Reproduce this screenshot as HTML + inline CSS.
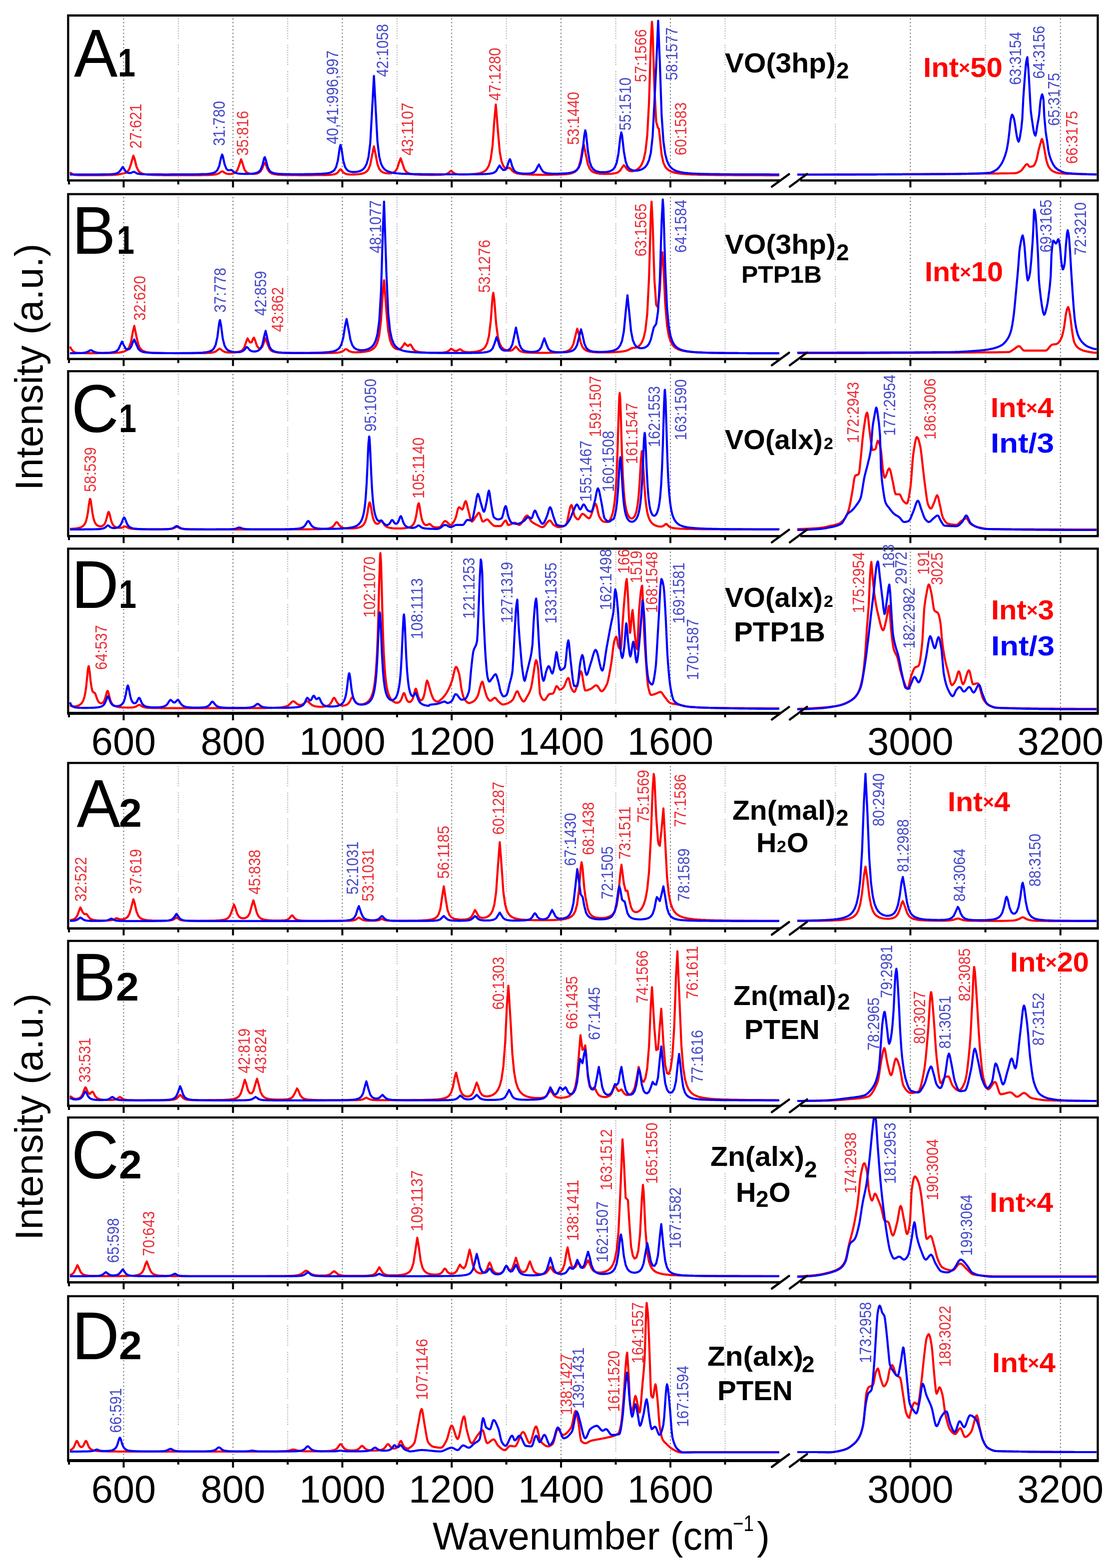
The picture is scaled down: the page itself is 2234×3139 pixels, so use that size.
<!DOCTYPE html><html><head><meta charset="utf-8"><style>
html,body{margin:0;padding:0;background:#fff;width:2234px;height:3139px;overflow:hidden}
svg{display:block}
text{font-family:"Liberation Sans",Arial,sans-serif}
.fr{fill:none;stroke:#000;stroke-width:4.3}
.tk{fill:none;stroke:#000;stroke-width:4}
.brk{fill:none;stroke:#000;stroke-width:4.4;stroke-linecap:round}
.gM{stroke:#555;stroke-width:2;stroke-dasharray:2 5.2}
.gm{stroke:#aaa;stroke-width:2;stroke-dasharray:2,2.8,2,2.8,2,2.8,2,2.8,2,2.8,2,2.8,2,2.8,2,2.8,2,12.4}
.r{fill:none;stroke:#f00;stroke-width:4.2;stroke-linejoin:round}
.b{fill:none;stroke:#00f;stroke-width:4.2;stroke-linejoin:round}
.lr{fill:#ea2e36;font-size:33px}
.lb{fill:#4549c8;font-size:33px}
.big{font-size:136px;fill:#000}
.sub{font-size:79px;font-weight:bold;fill:#000}
.nm{font-size:56px;font-weight:bold;fill:#000}
.nm2{font-size:46px;font-weight:bold;fill:#000}
.nm3{font-size:34px;font-weight:bold;fill:#000}
.ir{font-size:55px;font-weight:bold;fill:#f00}
.ib{font-size:55px;font-weight:bold;fill:#00f}
.ax{font-size:77.5px;fill:#000}
.ttl{font-size:78px;fill:#000}
</style></head><body>
<svg width="2234" height="3139" viewBox="0 0 2234 3139">
<g>
<line x1="247.5" y1="37" x2="247.5" y2="357.3" class="gM"/>
<line x1="356.9" y1="37" x2="356.9" y2="357.3" class="gm"/>
<line x1="466.4" y1="37" x2="466.4" y2="357.3" class="gM"/>
<line x1="575.9" y1="37" x2="575.9" y2="357.3" class="gm"/>
<line x1="685.3" y1="37" x2="685.3" y2="357.3" class="gM"/>
<line x1="794.8" y1="37" x2="794.8" y2="357.3" class="gm"/>
<line x1="904.2" y1="37" x2="904.2" y2="357.3" class="gM"/>
<line x1="1013.6" y1="37" x2="1013.6" y2="357.3" class="gm"/>
<line x1="1123.1" y1="37" x2="1123.1" y2="357.3" class="gM"/>
<line x1="1232.6" y1="37" x2="1232.6" y2="357.3" class="gm"/>
<line x1="1342" y1="37" x2="1342" y2="357.3" class="gM"/>
<line x1="1451.5" y1="37" x2="1451.5" y2="357.3" class="gm"/>
<line x1="1672.2" y1="37" x2="1672.2" y2="357.3" class="gm"/>
<line x1="1822.4" y1="37" x2="1822.4" y2="357.3" class="gM"/>
<line x1="1972.6" y1="37" x2="1972.6" y2="357.3" class="gm"/>
<line x1="2122.8" y1="37" x2="2122.8" y2="357.3" class="gM"/>
<path d="M140 345 L143.6 347.6 L147.2 349.5 L150.8 350.2 L154.4 350.4 L158 350.6 L161.6 350.7 L165.2 350.7 L168.8 350.7 L172.4 350.7 L176 350.7 L179.6 350.7 L183.2 350.7 L186.8 350.7 L190.4 350.7 L194 350.7 L197.6 350.7 L201.2 350.6 L204.8 350.6 L208.4 350.6 L212 350.5 L215.6 350.4 L219.2 350.4 L222.8 350.3 L226.4 350.1 L230 349.9 L233.6 349.7 L237.2 349.2 L240.8 348.5 L245 347.5 L248 347 L251.6 346 L255.2 343.6 L258.8 338.6 L262.4 327.7 L267 311.6 L269.6 318.8 L273.2 333.6 L276.8 341.5 L280.4 345.2 L284 347.2 L287.6 348.3 L291.2 349 L294.8 349.4 L298.4 349.7 L302 349.9 L305.6 350.1 L309.2 350.2 L312.8 350.3 L316.4 350.4 L320 350.5 L323.6 350.5 L327.2 350.6 L330.8 350.6 L334.4 350.6 L338 350.6 L341.6 350.7 L345.2 350.7 L348.8 350.7 L352.4 350.7 L356 350.7 L359.6 350.7 L363.2 350.7 L366.8 350.7 L370.4 350.7 L374 350.7 L377.6 350.7 L381.2 350.7 L384.8 350.7 L388.4 350.7 L392 350.6 L395.6 350.6 L399.2 350.6 L402.8 350.6 L406.4 350.5 L410 350.5 L413.6 350.4 L417.2 350.3 L420.8 350.2 L424.4 350 L428 349.7 L431.6 349.2 L435.2 348.4 L438.8 346.6 L442.4 343.9 L444.6 343 L446 343.3 L449.6 345.8 L453.2 347.5 L456.8 348.2 L460.4 348.3 L464 348 L467.6 347.1 L471.2 345.3 L474.8 341.2 L478.4 332 L482.6 319 L485.6 327.3 L489.2 338.9 L492.8 344.2 L496.4 346.5 L500 347.6 L503.6 348.1 L507.2 348.2 L510.8 348 L514.4 347.4 L518 346 L521.6 343 L525.2 336.5 L528.8 327.1 L530 326 L532.4 330 L536 339.4 L539.6 344.5 L543.2 347 L546.8 348.3 L550.4 349 L554 349.5 L557.6 349.8 L561.2 350 L564.8 350.1 L568.4 350.2 L572 350.3 L575.6 350.4 L579.2 350.4 L582.8 350.5 L586.4 350.5 L590 350.5 L593.6 350.5 L597.2 350.6 L600.8 350.6 L604.4 350.6 L608 350.6 L611.6 350.6 L615.2 350.6 L618.8 350.6 L622.4 350.6 L626 350.6 L629.6 350.5 L633.2 350.5 L636.8 350.5 L640.4 350.5 L644 350.4 L647.6 350.4 L651.2 350.3 L654.8 350.2 L658.4 350.1 L662 349.9 L665.6 349.5 L669.2 348.9 L672.8 347.8 L676.4 345.1 L680 340.2 L681.7 339 L683.6 340.4 L687.2 345.2 L690.8 347.6 L694.4 348.6 L698 349.1 L701.6 349.3 L705.2 349.3 L708.8 349.3 L712.4 349.1 L716 348.9 L719.6 348.5 L723.2 347.9 L726.8 347.1 L730.4 345.7 L734 343.3 L737.6 338.9 L741.2 329.7 L744.8 310.9 L748.5 293 L752 309.5 L755.6 328.8 L759.2 338.2 L762.8 342.7 L766.4 345.1 L770 346.3 L773.6 346.9 L777.2 347.2 L780.8 347.1 L784.4 346.5 L788 345.2 L791.6 342.6 L795.2 336.9 L798.8 325.3 L802 317 L806 328.5 L809.6 338.9 L813.2 343.9 L816.8 346.3 L820.4 347.7 L824 348.5 L827.6 349 L831.2 349.3 L834.8 349.5 L838.4 349.7 L842 349.8 L845.6 349.9 L849.2 350 L852.8 350 L856.4 350.1 L860 350.1 L863.6 350.1 L867.2 350.1 L870.8 350.1 L874.4 350 L878 350 L881.6 349.8 L885.2 349.7 L888.8 349.4 L892.4 348.8 L896 347.5 L899.6 344.6 L903 342 L906.8 344.9 L910.4 347.5 L914 348.6 L917.6 349.1 L921.2 349.3 L924.8 349.4 L928.4 349.4 L932 349.3 L935.6 349.2 L939.2 349.1 L942.8 348.9 L946.4 348.6 L950 348.3 L953.6 347.8 L957.2 347.3 L960.8 346.5 L964.4 345.4 L968 343.8 L971.6 341.5 L975.2 337.6 L978.8 331 L982.4 318.3 L986 291.7 L989.6 240.1 L992.5 209.4 L996.8 262.7 L1000.4 303.9 L1004 323.3 L1007.6 332.4 L1011.2 336.5 L1014.8 337.3 L1018.4 336 L1020 336 L1022 337.6 L1025.6 341.9 L1029.2 344.8 L1032.8 346.4 L1036.4 347.4 L1040 348 L1043.6 348.5 L1047.2 348.8 L1050.8 349 L1054.4 349.2 L1058 349.4 L1061.6 349.5 L1065.2 349.6 L1068.8 349.7 L1072.4 349.7 L1076 349.8 L1079.6 349.8 L1083.2 349.8 L1086.8 349.8 L1090.4 349.8 L1094 349.8 L1097.6 349.8 L1101.2 349.8 L1104.8 349.8 L1108.4 349.7 L1112 349.6 L1115.6 349.6 L1119.2 349.4 L1122.8 349.3 L1126.4 349.1 L1130 348.9 L1133.6 348.6 L1137.2 348.2 L1140.8 347.6 L1144.4 346.7 L1148 345.5 L1151.6 343.4 L1155.2 339.9 L1158.8 333.3 L1162.4 320.1 L1166 297.9 L1168.5 288.8 L1173.2 312.1 L1176.8 329 L1180.4 337.6 L1184 342 L1187.6 344.5 L1191.2 345.9 L1194.8 346.8 L1198.4 347.4 L1202 347.8 L1205.6 348 L1209.2 348.1 L1212.8 348.2 L1216.4 348.1 L1220 348 L1223.6 347.8 L1227.2 347.4 L1230.8 346.9 L1234.4 346 L1238 344.3 L1241.6 341.2 L1245.2 335.5 L1248.8 330.7 L1252.4 334.8 L1256 339.8 L1259.6 342.1 L1263.2 342.8 L1266.8 342.6 L1270.4 341.7 L1274 340.2 L1277.6 337.8 L1281.2 334.3 L1284.8 328.7 L1288.4 319.6 L1292 303.3 L1295.6 271.8 L1299.2 205.1 L1302.8 86.4 L1305 43.7 L1306.4 61.3 L1310 176.2 L1313.6 244.2 L1317.2 256.1 L1319 258 L1320.8 274.6 L1324.4 309.7 L1328 325.8 L1331.6 333.6 L1335.2 338.1 L1338.8 340.9 L1342.4 342.9 L1346 344.3 L1349.6 345.4 L1353.2 346.2 L1356.8 346.9 L1360.4 347.4 L1364 347.8 L1367.6 348.2 L1371.2 348.5 L1374.8 348.7 L1378.4 348.9 L1382 349.1 L1385.6 349.3 L1389.2 349.4 L1392.8 349.5 L1396.4 349.7 L1400 349.8 L1403.6 349.8 L1407.2 349.9 L1410.8 350 L1414.4 350 L1418 350.1 L1421.6 350.2 L1425.2 350.2 L1428.8 350.2 L1432.4 350.3 L1436 350.3 L1439.6 350.4 L1443.2 350.4 L1446.8 350.4 L1450.4 350.4 L1454 350.5 L1457.6 350.5 L1461.2 350.5 L1464.8 350.5 L1468.4 350.6 L1472 350.6 L1475.6 350.6 L1479.2 350.6 L1482.8 350.6 L1486.4 350.6 L1490 350.6 L1493.6 350.7 L1497.2 350.7 L1500.8 350.7 L1504.4 350.7 L1508 350.7 L1511.6 350.7 L1515.2 350.7 L1518.8 350.7 L1522.4 350.7 L1526 350.7 L1529.6 350.8 L1533.2 350.8 L1536.8 350.8 L1540.4 350.8 L1544 350.8 L1547.6 350.8 L1551.2 350.8 L1554.8 350.8 L1558.4 350.8 L1560 350.8" class="r"/>
<path d="M1596 349.5 L1597.5 349.5 L1599 349.5 L1600.5 349.5 L1602 349.5 L1603.5 349.5 L1605 349.5 L1606.5 349.5 L1608 349.5 L1609.5 349.5 L1611 349.5 L1612.5 349.5 L1614 349.5 L1615.5 349.5 L1617 349.5 L1618.5 349.5 L1620 349.5 L1621.5 349.5 L1623 349.5 L1624.5 349.5 L1626 349.5 L1627.5 349.5 L1629 349.5 L1630.5 349.5 L1632 349.5 L1633.5 349.5 L1635 349.5 L1636.5 349.5 L1638 349.5 L1639.5 349.5 L1641 349.5 L1642.5 349.5 L1644 349.5 L1645.5 349.5 L1647 349.5 L1648.5 349.4 L1650 349.4 L1651.5 349.4 L1653 349.4 L1654.5 349.4 L1656 349.4 L1657.5 349.4 L1659 349.4 L1660.5 349.4 L1662 349.4 L1663.5 349.4 L1665 349.4 L1666.5 349.4 L1668 349.4 L1669.5 349.4 L1671 349.4 L1672.5 349.4 L1674 349.4 L1675.5 349.4 L1677 349.4 L1678.5 349.4 L1680 349.4 L1681.5 349.4 L1683 349.4 L1684.5 349.4 L1686 349.3 L1687.5 349.3 L1689 349.3 L1690.5 349.3 L1692 349.3 L1693.5 349.3 L1695 349.3 L1696.5 349.3 L1698 349.3 L1699.5 349.3 L1701 349.3 L1702.5 349.3 L1704 349.3 L1705.5 349.3 L1707 349.3 L1708.5 349.3 L1710 349.3 L1711.5 349.3 L1713 349.3 L1714.5 349.2 L1716 349.2 L1717.5 349.2 L1719 349.2 L1720.5 349.2 L1722 349.2 L1723.5 349.2 L1725 349.2 L1726.5 349.2 L1728 349.2 L1729.5 349.2 L1731 349.2 L1732.5 349.2 L1734 349.2 L1735.5 349.2 L1737 349.1 L1738.5 349.1 L1740 349.1 L1741.5 349.1 L1743 349.1 L1744.5 349.1 L1746 349.1 L1747.5 349.1 L1749 349.1 L1750.5 349.1 L1752 349.1 L1753.5 349.1 L1755 349.1 L1756.5 349 L1758 349 L1759.5 349 L1761 349 L1762.5 349 L1764 349 L1765.5 349 L1767 349 L1768.5 349 L1770 349 L1771.5 349 L1773 349 L1774.5 348.9 L1776 348.9 L1777.5 348.9 L1779 348.9 L1780.5 348.9 L1782 348.9 L1783.5 348.9 L1785 348.9 L1786.5 348.9 L1788 348.9 L1789.5 348.9 L1791 348.9 L1792.5 348.8 L1794 348.8 L1795.5 348.8 L1797 348.8 L1798.5 348.8 L1800 348.8 L1801.5 348.8 L1803 348.8 L1804.5 348.8 L1806 348.8 L1807.5 348.7 L1809 348.7 L1810.5 348.7 L1812 348.7 L1813.5 348.7 L1815 348.7 L1816.5 348.7 L1818 348.7 L1819.5 348.7 L1821 348.7 L1822.5 348.6 L1824 348.6 L1825.5 348.6 L1827 348.6 L1828.5 348.6 L1830 348.6 L1831.5 348.6 L1833 348.6 L1834.5 348.6 L1836 348.6 L1837.5 348.5 L1839 348.5 L1840.5 348.5 L1842 348.5 L1843.5 348.5 L1845 348.5 L1846.5 348.5 L1848 348.5 L1849.5 348.5 L1851 348.4 L1852.5 348.4 L1854 348.4 L1855.5 348.4 L1857 348.4 L1858.5 348.4 L1860 348.4 L1861.5 348.4 L1863 348.4 L1864.5 348.3 L1866 348.3 L1867.5 348.3 L1869 348.3 L1870.5 348.3 L1872 348.3 L1873.5 348.3 L1875 348.3 L1876.5 348.3 L1878 348.2 L1879.5 348.2 L1881 348.2 L1882.5 348.2 L1884 348.2 L1885.5 348.2 L1887 348.2 L1888.5 348.2 L1890 348.2 L1891.5 348.1 L1893 348.1 L1894.5 348.1 L1896 348.1 L1897.5 348.1 L1899 348.1 L1900.5 348.1 L1902 348.1 L1903.5 348 L1905 348 L1906.5 348 L1908 348 L1909.5 348 L1911 348 L1912.5 348 L1914 348 L1915.5 347.9 L1917 347.9 L1918.5 347.9 L1920 347.9 L1921.5 347.9 L1923 347.9 L1924.5 347.9 L1926 347.9 L1927.5 347.8 L1929 347.8 L1930.5 347.8 L1932 347.8 L1933.5 347.8 L1935 347.8 L1936.5 347.8 L1938 347.8 L1939.5 347.7 L1941 347.7 L1942.5 347.7 L1944 347.7 L1945.5 347.7 L1947 347.7 L1948.5 347.7 L1950 347.7 L1951.5 347.6 L1953 347.6 L1954.5 347.6 L1956 347.6 L1957.5 347.6 L1959 347.6 L1960.5 347.6 L1962 347.6 L1963.5 347.5 L1965 347.5 L1966.5 347.5 L1968 347.5 L1969.5 347.5 L1971 347.5 L1972.5 347.5 L1974 347.5 L1975.5 347.4 L1977 347.4 L1978.5 347.4 L1980 347.4 L1981.5 347.4 L1983 347.4 L1984.5 347.4 L1986 347.4 L1987.5 347.3 L1989 347.3 L1990.5 347.3 L1992 347.3 L1993.5 347.3 L1995 347.3 L1996.5 347.3 L1998 347.3 L1999.5 347.3 L2001 347.2 L2002.5 347.2 L2004 347.2 L2005.5 347.2 L2007 347.2 L2008.5 347.2 L2010 347.2 L2011.5 347.1 L2013 347.1 L2014.5 347.1 L2016 347.1 L2017.5 347 L2019 347 L2020.5 347 L2022 347 L2023.5 346.9 L2025 346.9 L2026.5 346.8 L2028 346.8 L2029.5 346.8 L2031.5 346.7 L2032.5 346.6 L2034 346.4 L2035.5 346 L2037 345.5 L2038.5 344.8 L2040 344.1 L2041.5 343.3 L2043 342.4 L2043.7 342 L2044.5 341.4 L2046 339.7 L2047.5 337.7 L2049 335.5 L2050.4 333.8 L2052 331.8 L2053.5 329.9 L2055 328.7 L2055.9 328.4 L2058 330.2 L2059.5 332.4 L2061.3 333.8 L2062.5 333.8 L2064 333.6 L2065.5 333.3 L2067 332.9 L2068.1 332.5 L2070 330.8 L2071.5 328.3 L2073 325 L2074.8 320.3 L2076 315.8 L2077.5 308.1 L2078.9 301.3 L2080.5 295.1 L2082 289.7 L2083 286.4 L2085 279.2 L2085.7 278.3 L2086.5 279.4 L2088.4 286.4 L2089.5 291.8 L2091.1 301.3 L2092.5 309.7 L2094.5 320.3 L2095.5 324 L2097 328.8 L2098.5 332.5 L2099.2 333.8 L2100 335 L2101.5 337.1 L2103 338.9 L2104.5 340.4 L2106 341.7 L2107.5 342.7 L2108.7 343.3 L2110.5 344.1 L2112 344.6 L2113.5 345.2 L2115 345.6 L2116.5 346.1 L2118 346.4 L2119.5 346.7 L2121 346.9 L2122.2 347 L2124 347.1 L2125.5 347.2 L2127 347.3 L2128.5 347.4 L2130 347.5 L2131.5 347.6 L2133 347.6 L2134.5 347.7 L2136 347.8 L2137.5 347.8 L2139 347.9 L2140.5 347.9 L2142 348 L2143.5 348 L2145 348.1 L2146.5 348.1 L2148 348.1 L2149.5 348.2 L2151 348.2 L2152.5 348.2 L2154 348.3 L2155.5 348.3 L2157 348.4 L2158.5 348.4 L2160 348.5 L2161.5 348.5 L2163 348.5 L2164.5 348.6 L2166 348.6 L2167.5 348.7 L2169 348.7 L2170.5 348.8 L2172 348.8 L2173.5 348.9 L2175 348.9 L2176.5 349 L2178 349 L2179.5 349.1 L2181 349.1 L2182.5 349.2 L2184 349.2 L2185.5 349.2 L2187 349.3 L2188.5 349.3 L2190 349.4 L2191.5 349.4 L2193 349.4 L2195 349.5" class="r"/>
<path d="M140 349.4 L143.6 349.4 L147.2 349.4 L150.8 349.4 L154.4 349.4 L158 349.4 L161.6 349.4 L165.2 349.4 L168.8 349.4 L172.4 349.4 L176 349.4 L179.6 349.3 L183.2 349.3 L186.8 349.3 L190.4 349.3 L194 349.3 L197.6 349.3 L201.2 349.2 L204.8 349.2 L208.4 349.1 L212 349.1 L215.6 349 L219.2 348.9 L222.8 348.7 L226.4 348.4 L230 348 L233.6 347.1 L237.2 345.4 L240.8 341.5 L245.5 334.5 L248 337.4 L251.6 343.1 L255.2 345.7 L258.8 346.5 L262.4 346.1 L266 344.5 L268 344 L269.6 344.5 L273.2 346.7 L276.8 347.9 L280.4 348.4 L284 348.7 L287.6 348.9 L291.2 349 L294.8 349.1 L298.4 349.1 L302 349.2 L305.6 349.2 L309.2 349.2 L312.8 349.2 L316.4 349.2 L320 349.2 L323.6 349.2 L327.2 349.3 L330.8 349.3 L334.4 349.3 L338 349.3 L341.6 349.2 L345.2 349.2 L348.8 349.2 L352.4 349.2 L356 349.2 L359.6 349.2 L363.2 349.2 L366.8 349.2 L370.4 349.2 L374 349.1 L377.6 349.1 L381.2 349.1 L384.8 349.1 L388.4 349 L392 349 L395.6 348.9 L399.2 348.8 L402.8 348.7 L406.4 348.6 L410 348.5 L413.6 348.3 L417.2 348 L420.8 347.6 L424.4 346.9 L428 345.9 L431.6 344.1 L435.2 340.4 L438.8 332.3 L442.4 316 L444.6 309.5 L446 312.3 L449.6 328.8 L453.2 338 L456.8 341 L460.4 340.5 L463 340 L467.6 343.9 L471.2 346 L474.8 347 L478.4 347.6 L482 347.9 L485.6 348 L489.2 348.1 L492.8 348.1 L496.4 348.1 L500 348 L503.6 347.8 L507.2 347.4 L510.8 346.8 L514.4 345.8 L518 344 L521.6 340.1 L525.2 331.1 L528.8 316.5 L530 314.6 L532.4 321.1 L536 335 L539.6 341.8 L543.2 344.8 L546.8 346.3 L550.4 347.2 L554 347.7 L557.6 348 L561.2 348.3 L564.8 348.4 L568.4 348.5 L572 348.6 L575.6 348.7 L579.2 348.7 L582.8 348.8 L586.4 348.8 L590 348.8 L593.6 348.8 L597.2 348.8 L600.8 348.8 L604.4 348.8 L608 348.8 L611.6 348.7 L615.2 348.7 L618.8 348.6 L622.4 348.6 L626 348.5 L629.6 348.4 L633.2 348.4 L636.8 348.2 L640.4 348.1 L644 347.9 L647.6 347.6 L651.2 347.3 L654.8 346.9 L658.4 346.2 L662 345.2 L665.6 343.5 L669.2 340.6 L672.8 334.5 L676.4 321 L680 296.1 L681.7 290 L683.6 297.3 L687.2 321.7 L690.8 334.4 L694.4 339.9 L698 342.5 L701.6 343.7 L705.2 344.3 L708.8 344.4 L712.4 344.2 L716 343.6 L719.6 342.7 L723.2 341.2 L726.8 338.8 L730.4 334.8 L734 327.9 L737.6 314.7 L741.2 286.1 L744.8 221.7 L748.5 152 L752 216.8 L755.6 283.8 L759.2 313.8 L762.8 327.7 L766.4 334.9 L770 339.1 L773.6 341.7 L777.2 343.4 L780.8 344.6 L784.4 345.5 L788 346.1 L791.6 346.6 L795.2 347 L798.8 347.3 L802.4 347.6 L806 347.8 L809.6 348 L813.2 348.1 L816.8 348.2 L820.4 348.3 L824 348.4 L827.6 348.5 L831.2 348.6 L834.8 348.6 L838.4 348.7 L842 348.7 L845.6 348.8 L849.2 348.8 L852.8 348.8 L856.4 348.9 L860 348.9 L863.6 348.9 L867.2 348.9 L870.8 349 L874.4 349 L878 349 L881.6 349 L885.2 349 L888.8 349 L892.4 349 L896 349 L899.6 349 L903.2 349 L906.8 349 L910.4 349 L914 349 L917.6 349 L921.2 349 L924.8 349 L928.4 349 L932 349 L935.6 349 L939.2 348.9 L942.8 348.9 L946.4 348.9 L950 348.9 L953.6 348.8 L957.2 348.8 L960.8 348.7 L964.4 348.6 L968 348.5 L971.6 348.4 L975.2 348.2 L978.8 347.9 L982.4 347.4 L986 346.7 L989.6 345.3 L993.2 342.4 L996.8 336.2 L999.9 331.3 L1004 337 L1007.6 340.5 L1011.2 339.9 L1014.8 334.9 L1018.4 323.4 L1020.6 318.8 L1022 321 L1025.6 333.7 L1029.2 341.1 L1032.8 344.3 L1036.4 345.9 L1040 346.7 L1043.6 347.2 L1047.2 347.4 L1050.8 347.5 L1054.4 347.5 L1058 347.3 L1061.6 347 L1065.2 346.2 L1068.8 344.7 L1072.4 341.3 L1076 334 L1078.8 329.4 L1083.2 337.8 L1086.8 343.2 L1090.4 345.5 L1094 346.6 L1097.6 347.2 L1101.2 347.5 L1104.8 347.7 L1108.4 347.8 L1112 347.8 L1115.6 347.8 L1119.2 347.7 L1122.8 347.6 L1126.4 347.4 L1130 347.2 L1133.6 346.9 L1137.2 346.5 L1140.8 346 L1144.4 345.3 L1148 344.2 L1151.6 342.5 L1155.2 339.8 L1158.8 335 L1162.4 325.5 L1166 305.5 L1169.6 271.1 L1171.6 260.8 L1173.2 267.6 L1176.8 302.1 L1180.4 323.6 L1184 333.7 L1187.6 338.8 L1191.2 341.5 L1194.8 343.1 L1198.4 344 L1202 344.5 L1205.6 344.7 L1209.2 344.7 L1212.8 344.5 L1216.4 344 L1220 343.1 L1223.6 341.6 L1227.2 339.2 L1230.8 334.8 L1234.4 326.1 L1238 307.7 L1241.6 275.5 L1243.7 265 L1245.2 270.6 L1248.8 302.8 L1252.4 323.3 L1256 332.9 L1259.6 337.5 L1263.2 339.8 L1266.8 341 L1270.4 341.5 L1274 341.6 L1277.6 341.1 L1281.2 340.3 L1284.8 339 L1288.4 336.9 L1292 333.8 L1295.6 328.9 L1299.2 320.7 L1302.8 305.9 L1306.4 273.5 L1310 205 L1313.6 132.2 L1317.5 41.6 L1320.8 124.1 L1324.4 230 L1328 282.9 L1331.6 308.4 L1335.2 321.9 L1338.8 329.8 L1342.4 334.7 L1346 338 L1349.6 340.3 L1353.2 342 L1356.8 343.2 L1360.4 344.2 L1364 344.9 L1367.6 345.5 L1371.2 346 L1374.8 346.4 L1378.4 346.8 L1382 347 L1385.6 347.3 L1389.2 347.5 L1392.8 347.7 L1396.4 347.8 L1400 347.9 L1403.6 348.1 L1407.2 348.2 L1410.8 348.3 L1414.4 348.3 L1418 348.4 L1421.6 348.5 L1425.2 348.5 L1428.8 348.6 L1432.4 348.7 L1436 348.7 L1439.6 348.7 L1443.2 348.8 L1446.8 348.8 L1450.4 348.8 L1454 348.9 L1457.6 348.9 L1461.2 348.9 L1464.8 349 L1468.4 349 L1472 349 L1475.6 349 L1479.2 349 L1482.8 349.1 L1486.4 349.1 L1490 349.1 L1493.6 349.1 L1497.2 349.1 L1500.8 349.1 L1504.4 349.1 L1508 349.2 L1511.6 349.2 L1515.2 349.2 L1518.8 349.2 L1522.4 349.2 L1526 349.2 L1529.6 349.2 L1533.2 349.2 L1536.8 349.2 L1540.4 349.2 L1544 349.3 L1547.6 349.3 L1551.2 349.3 L1554.8 349.3 L1558.4 349.3 L1560 349.3" class="b"/>
<path d="M1596 349.5 L1597.5 349.5 L1599 349.5 L1600.5 349.5 L1602 349.5 L1603.5 349.5 L1605 349.5 L1606.5 349.5 L1608 349.5 L1609.5 349.5 L1611 349.5 L1612.5 349.5 L1614 349.5 L1615.5 349.5 L1617 349.5 L1618.5 349.5 L1620 349.5 L1621.5 349.5 L1623 349.5 L1624.5 349.5 L1626 349.5 L1627.5 349.5 L1629 349.5 L1630.5 349.5 L1632 349.5 L1633.5 349.5 L1635 349.5 L1636.5 349.5 L1638 349.5 L1639.5 349.5 L1641 349.5 L1642.5 349.5 L1644 349.5 L1645.5 349.5 L1647 349.5 L1648.5 349.5 L1650 349.5 L1651.5 349.5 L1653 349.5 L1654.5 349.5 L1656 349.5 L1657.5 349.5 L1659 349.5 L1660.5 349.5 L1662 349.5 L1663.5 349.5 L1665 349.5 L1666.5 349.5 L1668 349.5 L1669.5 349.4 L1671 349.4 L1672.5 349.4 L1674 349.4 L1675.5 349.4 L1677 349.4 L1678.5 349.4 L1680 349.4 L1681.5 349.4 L1683 349.4 L1684.5 349.4 L1686 349.4 L1687.5 349.4 L1689 349.4 L1690.5 349.4 L1692 349.4 L1693.5 349.4 L1695 349.4 L1696.5 349.4 L1698 349.4 L1699.5 349.4 L1701 349.4 L1702.5 349.4 L1704 349.4 L1705.5 349.4 L1707 349.4 L1708.5 349.4 L1710 349.4 L1711.5 349.4 L1713 349.4 L1714.5 349.4 L1716 349.4 L1717.5 349.4 L1719 349.4 L1720.5 349.3 L1722 349.3 L1723.5 349.3 L1725 349.3 L1726.5 349.3 L1728 349.3 L1729.5 349.3 L1731 349.3 L1732.5 349.3 L1734 349.3 L1735.5 349.3 L1737 349.3 L1738.5 349.3 L1740 349.3 L1741.5 349.3 L1743 349.3 L1744.5 349.3 L1746 349.3 L1747.5 349.3 L1749 349.3 L1750.5 349.3 L1752 349.3 L1753.5 349.3 L1755 349.2 L1756.5 349.2 L1758 349.2 L1759.5 349.2 L1761 349.2 L1762.5 349.2 L1764 349.2 L1765.5 349.2 L1767 349.2 L1768.5 349.2 L1770 349.2 L1771.5 349.2 L1773 349.2 L1774.5 349.2 L1776 349.2 L1777.5 349.2 L1779 349.2 L1780.5 349.2 L1782 349.1 L1783.5 349.1 L1785 349.1 L1786.5 349.1 L1788 349.1 L1789.5 349.1 L1791 349.1 L1792.5 349.1 L1794 349.1 L1795.5 349.1 L1797 349.1 L1798.5 349.1 L1800 349.1 L1801.5 349.1 L1803 349.1 L1804.5 349.1 L1806 349 L1807.5 349 L1809 349 L1810.5 349 L1812 349 L1813.5 349 L1815 349 L1816.5 349 L1818 349 L1819.5 349 L1821 349 L1822.5 349 L1824 349 L1825.5 349 L1827 348.9 L1828.5 348.9 L1830 348.9 L1831.5 348.9 L1833 348.9 L1834.5 348.9 L1836 348.9 L1837.5 348.9 L1839 348.9 L1840.5 348.9 L1842 348.9 L1843.5 348.9 L1845 348.8 L1846.5 348.8 L1848 348.8 L1849.5 348.8 L1851 348.8 L1852.5 348.8 L1854 348.8 L1855.5 348.8 L1857 348.8 L1858.5 348.8 L1860 348.8 L1861.5 348.8 L1863 348.7 L1864.5 348.7 L1866 348.7 L1867.5 348.7 L1869 348.7 L1870.5 348.7 L1872 348.7 L1873.5 348.7 L1875 348.7 L1876.5 348.7 L1878 348.6 L1879.5 348.6 L1881 348.6 L1882.5 348.6 L1884 348.6 L1885.5 348.6 L1887 348.6 L1888.5 348.6 L1890 348.6 L1891.5 348.6 L1893 348.5 L1894.5 348.5 L1896 348.5 L1897.5 348.5 L1899 348.5 L1900 348.5 L1902 348.5 L1903.5 348.5 L1905 348.5 L1906.5 348.4 L1908 348.4 L1909.5 348.4 L1911 348.4 L1912.5 348.4 L1914 348.4 L1915.5 348.4 L1917 348.3 L1918.5 348.3 L1920 348.3 L1921.5 348.3 L1923 348.3 L1924.5 348.2 L1926 348.2 L1927.5 348.2 L1929 348.2 L1930.5 348.1 L1932 348.1 L1933.5 348.1 L1935 348 L1936.5 348 L1938 348 L1939.5 347.9 L1941 347.9 L1942.5 347.8 L1944 347.8 L1945.5 347.7 L1947 347.7 L1948.5 347.6 L1950 347.6 L1951.5 347.5 L1953 347.5 L1954.5 347.4 L1956 347.4 L1957.5 347.3 L1959 347.2 L1960.5 347.2 L1962 347.1 L1963.5 347 L1965 346.9 L1966.5 346.9 L1968 346.8 L1969.5 346.7 L1971 346.6 L1972.5 346.5 L1974 346.4 L1975.5 346.3 L1977 346.2 L1978.5 346.1 L1980 346 L1981.5 345.8 L1983 345.5 L1984.5 345.1 L1986 344.5 L1987.5 343.9 L1989 343.1 L1990.5 342.3 L1992 341.5 L1993.5 340.6 L1995 339.6 L1996.5 338.3 L1998 336.8 L1999.5 335.1 L2001 333.2 L2002.5 331.2 L2004.4 328.4 L2005.5 326.6 L2007 323.7 L2008.5 320.4 L2010 316.7 L2011.2 313.5 L2013 308.2 L2014.5 302.8 L2015.2 300 L2016 296.3 L2017.9 285.1 L2019 277 L2020.6 263.4 L2022 248.8 L2022.7 243.1 L2023.5 238.5 L2025 231.4 L2026.1 229.5 L2028 232.2 L2030.1 239 L2031 243.4 L2032.8 255.3 L2034 263.7 L2035.5 272.9 L2037 279.4 L2038.9 283.7 L2040 282 L2041.5 275.5 L2043 266.4 L2043.7 262 L2044.5 256.5 L2046.4 237.7 L2047.5 216 L2048.4 197 L2051.1 159.1 L2052 147.8 L2053.5 130.4 L2054.5 122.5 L2056.5 114.4 L2058.6 138.8 L2059.5 152.7 L2061.3 184.8 L2062.5 207.8 L2063.3 220 L2064 226.9 L2065.5 238.1 L2066.7 245.8 L2068.5 258.2 L2070.1 266.1 L2071.5 269.9 L2072.8 271.5 L2074.5 264.5 L2076.2 252.6 L2077.5 245.6 L2079 237.5 L2080.2 229.5 L2082 209.9 L2083 201.1 L2085 191.4 L2086.3 188.9 L2088 194.1 L2089 201.1 L2090.4 232.2 L2093.1 262 L2094 268.9 L2095.5 278.6 L2096.5 285.1 L2098.5 300 L2099.2 304 L2100 307.5 L2101.5 313.1 L2103 317.6 L2104.6 321.6 L2106 324.7 L2107.5 327.8 L2109 330.4 L2110.5 332.7 L2111.4 333.8 L2113.5 336.1 L2115 337.4 L2116.5 338.7 L2118 339.7 L2119.5 340.6 L2121 341.4 L2122.5 342.1 L2124 342.9 L2125.5 343.6 L2127 344.2 L2128.5 344.8 L2130 345.3 L2131.5 345.7 L2133 346.1 L2134.5 346.3 L2135.8 346.5 L2137.5 346.6 L2139 346.8 L2140.5 346.9 L2142 347 L2143.5 347.1 L2145 347.2 L2146.5 347.4 L2148 347.5 L2149.5 347.6 L2151 347.7 L2152.5 347.8 L2154 347.8 L2155.5 347.9 L2157 348 L2158.5 348.1 L2160 348.2 L2161.5 348.2 L2163 348.3 L2164.5 348.4 L2166 348.4 L2167.5 348.5 L2169 348.5 L2170.5 348.6 L2172 348.6 L2173.5 348.7 L2175 348.7 L2176.5 348.8 L2178 348.8 L2179.5 348.8 L2181 348.9 L2182.5 348.9 L2184 348.9 L2185.5 348.9 L2187 349 L2188.5 349 L2190 349 L2191.5 349 L2193 349 L2195 349" class="b"/>
<path d="M136.4 361.3 V31 H2197.5 V361.3" class="fr"/>
<path d="M134.4 361.3 H1563 M1602 361.3 H2199.5" class="fr" style="stroke-width:4.6"/>
<path d="M1545 373.8 L1579.5 348.6 M1581 373.8 L1615.5 348.3" class="brk"/>
<path d="M138.1 361.3 v8 M247.5 361.3 v14 M356.9 361.3 v8 M466.4 361.3 v14 M575.9 361.3 v8 M685.3 361.3 v14 M794.8 361.3 v8 M904.2 361.3 v14 M1013.6 361.3 v8 M1123.1 361.3 v14 M1232.6 361.3 v8 M1342 361.3 v14 M1451.5 361.3 v8 M1672.2 361.3 v8 M1822.4 361.3 v14 M1972.6 361.3 v8 M2122.8 361.3 v14" class="tk"/>
<text class="lr" transform="translate(283 297.4) rotate(-90)" textLength="89.8" lengthAdjust="spacingAndGlyphs">27:621</text>
<text class="lb" transform="translate(449.5 292) rotate(-90)" textLength="89.8" lengthAdjust="spacingAndGlyphs">31:780</text>
<text class="lr" transform="translate(496.5 311.6) rotate(-90)" textLength="89.8" lengthAdjust="spacingAndGlyphs">35:816</text>
<text class="lb" transform="translate(677 288.8) rotate(-90)" textLength="187.8" lengthAdjust="spacingAndGlyphs">40,41:996,997</text>
<text class="lb" transform="translate(777 154) rotate(-90)" textLength="106.1" lengthAdjust="spacingAndGlyphs">42:1058</text>
<text class="lr" transform="translate(827 311.6) rotate(-90)" textLength="106.1" lengthAdjust="spacingAndGlyphs">43:1107</text>
<text class="lr" transform="translate(1001.6 201.7) rotate(-90)" textLength="106.1" lengthAdjust="spacingAndGlyphs">47:1280</text>
<text class="lr" transform="translate(1159 290) rotate(-90)" textLength="106.1" lengthAdjust="spacingAndGlyphs">53:1440</text>
<text class="lb" transform="translate(1262.6 261.3) rotate(-90)" textLength="106.1" lengthAdjust="spacingAndGlyphs">55:1510</text>
<text class="lr" transform="translate(1293.7 164.4) rotate(-90)" textLength="106.1" lengthAdjust="spacingAndGlyphs">57:1566</text>
<text class="lb" transform="translate(1355.8 160.8) rotate(-90)" textLength="106.1" lengthAdjust="spacingAndGlyphs">58:1577</text>
<text class="lr" transform="translate(1373.6 311) rotate(-90)" textLength="106.1" lengthAdjust="spacingAndGlyphs">60:1583</text>
<text class="lb" transform="translate(2044 170) rotate(-90)" textLength="106.1" lengthAdjust="spacingAndGlyphs">63:3154</text>
<text class="lb" transform="translate(2091 157.8) rotate(-90)" textLength="106.1" lengthAdjust="spacingAndGlyphs">64:3156</text>
<text class="lb" transform="translate(2121 252) rotate(-90)" textLength="106.1" lengthAdjust="spacingAndGlyphs">65:3175</text>
<text class="lr" transform="translate(2157 328) rotate(-90)" textLength="106.1" lengthAdjust="spacingAndGlyphs">66:3175</text>
<text class="big" x="148" y="153" textLength="87.5" lengthAdjust="spacingAndGlyphs">A</text><text class="sub" x="236" y="153" textLength="35" lengthAdjust="spacingAndGlyphs">1</text>
<text class="nm" x="1451" y="145.4" textLength="222" lengthAdjust="spacingAndGlyphs">VO(3hp)</text><text class="nm2" x="1674" y="157">2</text>
<text class="ir" x="1848" y="154.4" textLength="159" lengthAdjust="spacingAndGlyphs">Int<tspan style="font-size:68%" dy="-6">×</tspan><tspan dy="6">50</tspan></text>
</g>
<g>
<line x1="247.5" y1="394.7" x2="247.5" y2="714.8" class="gM"/>
<line x1="356.9" y1="394.7" x2="356.9" y2="714.8" class="gm"/>
<line x1="466.4" y1="394.7" x2="466.4" y2="714.8" class="gM"/>
<line x1="575.9" y1="394.7" x2="575.9" y2="714.8" class="gm"/>
<line x1="685.3" y1="394.7" x2="685.3" y2="714.8" class="gM"/>
<line x1="794.8" y1="394.7" x2="794.8" y2="714.8" class="gm"/>
<line x1="904.2" y1="394.7" x2="904.2" y2="714.8" class="gM"/>
<line x1="1013.6" y1="394.7" x2="1013.6" y2="714.8" class="gm"/>
<line x1="1123.1" y1="394.7" x2="1123.1" y2="714.8" class="gM"/>
<line x1="1232.6" y1="394.7" x2="1232.6" y2="714.8" class="gm"/>
<line x1="1342" y1="394.7" x2="1342" y2="714.8" class="gM"/>
<line x1="1451.5" y1="394.7" x2="1451.5" y2="714.8" class="gm"/>
<line x1="1672.2" y1="394.7" x2="1672.2" y2="714.8" class="gm"/>
<line x1="1822.4" y1="394.7" x2="1822.4" y2="714.8" class="gM"/>
<line x1="1972.6" y1="394.7" x2="1972.6" y2="714.8" class="gm"/>
<line x1="2122.8" y1="394.7" x2="2122.8" y2="714.8" class="gM"/>
<path d="M140 694 L143.6 700 L147.2 704.2 L150.8 705.7 L154.4 706.4 L158 706.7 L161.6 706.9 L165.2 707 L168.8 707 L172.4 707.1 L176 707.1 L179.6 707.1 L183.2 707.1 L186.8 707.1 L190.4 707.1 L194 707.1 L197.6 707 L201.2 707 L204.8 707 L208.4 706.9 L212 706.9 L215.6 706.8 L219.2 706.7 L222.8 706.6 L226.4 706.5 L230 706.3 L233.6 706.1 L237.2 705.8 L240.8 705.4 L244 704.8 L248 703.8 L251.6 702.3 L255.2 699.7 L258.8 694.6 L262.4 684 L266 663.7 L268.8 652.4 L273.2 673.9 L276.8 689.7 L280.4 697.3 L284 701 L287.6 703.1 L291.2 704.3 L294.8 705 L298.4 705.5 L302 705.9 L305.6 706.2 L309.2 706.4 L312.8 706.5 L316.4 706.6 L320 706.7 L323.6 706.8 L327.2 706.9 L330.8 706.9 L334.4 707 L338 707 L341.6 707 L345.2 707 L348.8 707.1 L352.4 707.1 L356 707.1 L359.6 707.1 L363.2 707.1 L366.8 707.1 L370.4 707.1 L374 707.1 L377.6 707.1 L381.2 707.1 L384.8 707.1 L388.4 707.1 L392 707 L395.6 707 L399.2 707 L402.8 706.9 L406.4 706.9 L410 706.8 L413.6 706.7 L417.2 706.5 L420.8 706.3 L424.4 705.8 L428 705.1 L431.6 703.7 L435.2 701.1 L439.5 698 L442.4 699.7 L446 702.7 L449.6 704.4 L453.2 705.2 L456.8 705.6 L460.4 705.7 L464 705.7 L467.6 705.6 L471.2 705.3 L474.8 704.9 L478.4 704.1 L482 702.9 L485.6 700.4 L489.2 695.2 L492.8 684.3 L495.5 677.4 L500 685.3 L503.6 685.4 L507.2 676.9 L508.4 676 L510.8 681.6 L514.4 692.5 L518 697.1 L521.6 697.5 L525.2 693.9 L528.8 684.1 L531.7 677.4 L536 689.8 L539.6 698.2 L543.2 702 L546.8 703.8 L550.4 704.8 L554 705.4 L557.6 705.8 L561.2 706.1 L564.8 706.3 L568.4 706.4 L572 706.6 L575.6 706.6 L579.2 706.7 L582.8 706.8 L586.4 706.8 L590 706.9 L593.6 706.9 L597.2 706.9 L600.8 706.9 L604.4 706.9 L608 706.9 L611.6 707 L615.2 707 L618.8 707 L622.4 707 L626 706.9 L629.6 706.9 L633.2 706.9 L636.8 706.9 L640.4 706.9 L644 706.9 L647.6 706.8 L651.2 706.8 L654.8 706.7 L658.4 706.7 L662 706.6 L665.6 706.5 L669.2 706.4 L672.8 706.2 L676.4 705.8 L680 705.3 L683.6 704.3 L687.2 702.4 L690.8 699.6 L692.5 699 L694.4 699.6 L698 702.3 L701.6 704 L705.2 704.8 L708.8 705.2 L712.4 705.3 L716 705.2 L719.6 705.1 L723.2 704.9 L726.8 704.5 L730.4 704.1 L734 703.5 L737.6 702.7 L741.2 701.5 L744.8 699.8 L748.4 697.2 L752 692.9 L755.6 685.5 L759.2 671 L762.8 640.4 L766.4 584.4 L768.8 561 L773.6 624 L777.2 662.9 L780.8 681.3 L784.4 690.3 L788 695.1 L791.6 697.8 L795.2 699.1 L798.8 699.3 L802.4 697.8 L806 693.3 L810 686.9 L813.2 690.3 L816.8 692.7 L820.4 689.7 L821.6 689.5 L824 692.9 L827.6 699.1 L831.2 702.3 L834.8 703.8 L838.4 704.7 L842 705.2 L845.6 705.5 L849.2 705.7 L852.8 705.9 L856.4 706 L860 706.1 L863.6 706.1 L867.2 706.2 L870.8 706.2 L874.4 706.2 L878 706.1 L881.6 706 L885.2 705.8 L888.8 705.5 L892.4 705 L896 703.8 L899.6 701.1 L903.4 698 L906.8 700.2 L910.4 702.5 L914 702.6 L917.6 700.6 L920.7 699 L924.8 701.8 L928.4 703.8 L932 704.6 L935.6 704.9 L939.2 705 L942.8 704.9 L946.4 704.6 L950 704.3 L953.6 703.8 L957.2 703.1 L960.8 702 L964.4 700.5 L968 698.1 L971.6 694.1 L975.2 686.8 L978.8 672.5 L982.4 641.9 L986 594.4 L987.5 586 L989.6 601.4 L993.2 648.6 L996.8 675.6 L1000.4 688.2 L1004 694.7 L1007.6 698.3 L1011.2 700.4 L1014.8 701.6 L1018.4 702.2 L1022 702.1 L1025.6 700.9 L1029.2 697.4 L1032.8 693.8 L1036.4 698 L1040 702 L1043.6 703.9 L1047.2 704.8 L1050.8 705.3 L1054.4 705.6 L1058 705.8 L1061.6 706 L1065.2 706.1 L1068.8 706.2 L1072.4 706.2 L1076 706.3 L1079.6 706.3 L1083.2 706.3 L1086.8 706.3 L1090.4 706.3 L1094 706.3 L1097.6 706.3 L1101.2 706.2 L1104.8 706.1 L1108.4 706 L1112 705.9 L1115.6 705.8 L1119.2 705.5 L1122.8 705.3 L1126.4 704.9 L1130 704.3 L1133.6 703.4 L1137.2 702.1 L1140.8 699.9 L1144.4 695.9 L1148 688.1 L1151.6 673 L1155.6 658 L1158.8 668.8 L1162.4 685.4 L1166 694.5 L1169.6 699.1 L1173.2 701.6 L1176.8 703 L1180.4 703.9 L1184 704.4 L1187.6 704.8 L1191.2 705.1 L1194.8 705.3 L1198.4 705.4 L1202 705.4 L1205.6 705.5 L1209.2 705.5 L1212.8 705.4 L1216.4 705.4 L1220 705.3 L1223.6 705.2 L1227.2 705.1 L1230.8 704.9 L1234.4 704.7 L1238 704.4 L1241.6 704.1 L1245.2 703.7 L1248.8 703.1 L1252.4 702.4 L1256 701.3 L1259.6 699.7 L1263.2 697.7 L1265.5 696.8 L1266.8 696.5 L1270.4 696.2 L1274 695.5 L1277.6 693.7 L1281.2 690.6 L1284.8 685.4 L1288.4 676.6 L1292 660.8 L1295.6 628.6 L1299.2 556.4 L1302.8 429.2 L1304.3 403.7 L1306.4 445.1 L1310 560.2 L1313.6 610.5 L1317.2 615.6 L1320.8 581.9 L1324.4 515.8 L1325.9 505 L1328 531.3 L1331.6 607.5 L1335.2 651.3 L1338.8 672.5 L1342.4 683.7 L1346 690.2 L1349.6 694.3 L1353.2 697 L1356.8 699 L1360.4 700.4 L1364 701.5 L1367.6 702.4 L1371.2 703 L1374.8 703.6 L1378.4 704 L1382 704.4 L1385.6 704.7 L1389.2 705 L1392.8 705.2 L1396.4 705.4 L1400 705.6 L1403.6 705.7 L1407.2 705.9 L1410.8 706 L1414.4 706.1 L1418 706.2 L1421.6 706.3 L1425.2 706.4 L1428.8 706.4 L1432.4 706.5 L1436 706.5 L1439.6 706.6 L1443.2 706.6 L1446.8 706.7 L1450.4 706.7 L1454 706.8 L1457.6 706.8 L1461.2 706.8 L1464.8 706.9 L1468.4 706.9 L1472 706.9 L1475.6 706.9 L1479.2 707 L1482.8 707 L1486.4 707 L1490 707 L1493.6 707 L1497.2 707.1 L1500.8 707.1 L1504.4 707.1 L1508 707.1 L1511.6 707.1 L1515.2 707.1 L1518.8 707.1 L1522.4 707.2 L1526 707.2 L1529.6 707.2 L1533.2 707.2 L1536.8 707.2 L1540.4 707.2 L1544 707.2 L1547.6 707.2 L1551.2 707.2 L1554.8 707.2 L1558.4 707.2 L1560 707.2" class="r"/>
<path d="M1596 707 L1597.5 707 L1599 707 L1600.5 707 L1602 707 L1603.5 707 L1605 707 L1606.5 707 L1608 707 L1609.5 707 L1611 707 L1612.5 707 L1614 707 L1615.5 707 L1617 707 L1618.5 707 L1620 707 L1621.5 707 L1623 707 L1624.5 707 L1626 707 L1627.5 707 L1629 707 L1630.5 707 L1632 707 L1633.5 707 L1635 707 L1636.5 707 L1638 707 L1639.5 707 L1641 707 L1642.5 707 L1644 707 L1645.5 707 L1647 707 L1648.5 707 L1650 707 L1651.5 707 L1653 707 L1654.5 707 L1656 706.9 L1657.5 706.9 L1659 706.9 L1660.5 706.9 L1662 706.9 L1663.5 706.9 L1665 706.9 L1666.5 706.9 L1668 706.9 L1669.5 706.9 L1671 706.9 L1672.5 706.9 L1674 706.9 L1675.5 706.9 L1677 706.9 L1678.5 706.9 L1680 706.9 L1681.5 706.9 L1683 706.9 L1684.5 706.9 L1686 706.9 L1687.5 706.9 L1689 706.9 L1690.5 706.9 L1692 706.9 L1693.5 706.9 L1695 706.9 L1696.5 706.9 L1698 706.9 L1699.5 706.9 L1701 706.8 L1702.5 706.8 L1704 706.8 L1705.5 706.8 L1707 706.8 L1708.5 706.8 L1710 706.8 L1711.5 706.8 L1713 706.8 L1714.5 706.8 L1716 706.8 L1717.5 706.8 L1719 706.8 L1720.5 706.8 L1722 706.8 L1723.5 706.8 L1725 706.8 L1726.5 706.8 L1728 706.8 L1729.5 706.8 L1731 706.8 L1732.5 706.7 L1734 706.7 L1735.5 706.7 L1737 706.7 L1738.5 706.7 L1740 706.7 L1741.5 706.7 L1743 706.7 L1744.5 706.7 L1746 706.7 L1747.5 706.7 L1749 706.7 L1750.5 706.7 L1752 706.7 L1753.5 706.7 L1755 706.7 L1756.5 706.7 L1758 706.6 L1759.5 706.6 L1761 706.6 L1762.5 706.6 L1764 706.6 L1765.5 706.6 L1767 706.6 L1768.5 706.6 L1770 706.6 L1771.5 706.6 L1773 706.6 L1774.5 706.6 L1776 706.6 L1777.5 706.6 L1779 706.6 L1780.5 706.6 L1782 706.5 L1783.5 706.5 L1785 706.5 L1786.5 706.5 L1788 706.5 L1789.5 706.5 L1791 706.5 L1792.5 706.5 L1794 706.5 L1795.5 706.5 L1797 706.5 L1798.5 706.5 L1800 706.5 L1801.5 706.5 L1803 706.4 L1804.5 706.4 L1806 706.4 L1807.5 706.4 L1809 706.4 L1810.5 706.4 L1812 706.4 L1813.5 706.4 L1815 706.4 L1816.5 706.4 L1818 706.4 L1819.5 706.4 L1821 706.4 L1822.5 706.3 L1824 706.3 L1825.5 706.3 L1827 706.3 L1828.5 706.3 L1830 706.3 L1831.5 706.3 L1833 706.3 L1834.5 706.3 L1836 706.3 L1837.5 706.3 L1839 706.3 L1840.5 706.3 L1842 706.2 L1843.5 706.2 L1845 706.2 L1846.5 706.2 L1848 706.2 L1849.5 706.2 L1851 706.2 L1852.5 706.2 L1854 706.2 L1855.5 706.2 L1857 706.2 L1858.5 706.2 L1860 706.1 L1861.5 706.1 L1863 706.1 L1864.5 706.1 L1866 706.1 L1867.5 706.1 L1869 706.1 L1870.5 706.1 L1872 706.1 L1873.5 706.1 L1875 706.1 L1876.5 706 L1878 706 L1879.5 706 L1881 706 L1882.5 706 L1884 706 L1885.5 706 L1887 706 L1888.5 706 L1890 706 L1891.5 706 L1893 705.9 L1894.5 705.9 L1896 705.9 L1897.5 705.9 L1899 705.9 L1900.5 705.9 L1902 705.9 L1903.5 705.9 L1905 705.9 L1906.5 705.9 L1908 705.8 L1909.5 705.8 L1911 705.8 L1912.5 705.8 L1914 705.8 L1915.5 705.8 L1917 705.8 L1918.5 705.8 L1920 705.8 L1921.5 705.8 L1923 705.7 L1924.5 705.7 L1926 705.7 L1927.5 705.7 L1929 705.7 L1930.5 705.7 L1932 705.7 L1933.5 705.7 L1935 705.7 L1936.5 705.7 L1938 705.7 L1939.5 705.6 L1941 705.6 L1942.5 705.6 L1944 705.6 L1945.5 705.6 L1947 705.6 L1948.5 705.6 L1950 705.6 L1951.5 705.6 L1953 705.5 L1954.5 705.5 L1956 705.5 L1957.5 705.5 L1959 705.5 L1960 705.5 L1962 705.5 L1963.5 705.5 L1965 705.5 L1966.5 705.5 L1968 705.5 L1969.5 705.4 L1971 705.4 L1972.5 705.4 L1974 705.4 L1975.5 705.4 L1977 705.4 L1978.5 705.4 L1980 705.4 L1981.5 705.4 L1983 705.4 L1984.5 705.4 L1986 705.4 L1987.5 705.3 L1989 705.3 L1990.5 705.3 L1992 705.3 L1993.5 705.3 L1995 705.3 L1996.5 705.3 L1998 705.2 L1999.5 705.2 L2001 705.2 L2002.5 705.2 L2004 705.1 L2005.5 705.1 L2007 705.1 L2008.5 705.1 L2010 705 L2011.5 705 L2013 705 L2014.5 704.9 L2016 704.9 L2017.5 704.8 L2019.1 704.8 L2020.5 704.6 L2022 704 L2023.5 703.2 L2025 702.2 L2026.5 701.2 L2028 700.3 L2029.5 699.3 L2031 698.2 L2032.5 697 L2034 695.8 L2035.5 694.7 L2037 693.8 L2038.5 693.2 L2039.8 693 L2041.5 693.6 L2043 695 L2044.5 696.8 L2046 698.7 L2047.5 700.4 L2049 701.5 L2050.1 701.8 L2052 701.8 L2053.5 701.8 L2055 701.8 L2056.5 701.8 L2058 701.8 L2059.5 701.8 L2061 701.8 L2062.5 701.8 L2064 701.8 L2065.5 701.8 L2067 701.8 L2068.5 701.8 L2070 701.8 L2071.5 701.8 L2073 701.8 L2074.5 701.8 L2076 701.8 L2077.5 701.8 L2079 701.8 L2080.5 701.8 L2082 701.8 L2083.5 701.8 L2085 701.8 L2086.5 701.8 L2088 701.8 L2089.5 701.8 L2091 701.8 L2093 701.8 L2094 701.6 L2095.5 700.8 L2097 699.5 L2098.5 697.8 L2100 695.9 L2101.5 694 L2103 692.3 L2104.5 691 L2106.3 690 L2107.5 689.7 L2109 689.5 L2110.5 689.3 L2112 689.1 L2113.5 688.9 L2115.2 688.5 L2116.5 687.9 L2118 686.8 L2119.5 685.2 L2121 683.2 L2122.5 680.8 L2124 678.2 L2125.5 674.6 L2127 669.5 L2128.5 663.2 L2130 656 L2131.5 645.1 L2133.6 629.4 L2134.5 625.2 L2136 618.8 L2138.1 614.6 L2139 615.9 L2140.5 622.3 L2141.8 629.4 L2143.5 641.6 L2145 654.6 L2146.2 663.4 L2148 674.4 L2149.5 682 L2150.6 685.6 L2152.5 689.4 L2154 691.9 L2155.5 693.8 L2157 695.4 L2158.5 696.7 L2159.5 697.4 L2161.5 698.6 L2163 699.4 L2164.5 700.1 L2166 700.8 L2167.5 701.4 L2169 701.9 L2170.5 702.4 L2172 702.8 L2173.5 703.1 L2174.3 703.3 L2175 703.4 L2176.5 703.8 L2178 704.1 L2179.5 704.4 L2181 704.7 L2182.5 704.9 L2184 705.2 L2185.5 705.4 L2187 705.6 L2188.5 705.8 L2190 706 L2191.5 706.1 L2193 706.2 L2195 706.2" class="r"/>
<path d="M140 707.2 L143.6 707.2 L147.2 707.1 L150.8 707.1 L154.4 707 L158 706.9 L161.6 706.8 L165.2 706.5 L168.8 706.1 L172.4 705.4 L176 704 L179.6 701.7 L181.7 701 L183.2 701.4 L186.8 703.5 L190.4 705.1 L194 705.9 L197.6 706.2 L201.2 706.4 L204.8 706.5 L208.4 706.5 L212 706.4 L215.6 706.3 L219.2 706.1 L222.8 705.7 L226.4 705.2 L230 704.3 L233.6 702.6 L237.2 699 L240.8 691.2 L244.2 683.9 L248 691.5 L251.6 697.9 L255.2 699.8 L258.8 698.8 L262.4 694.4 L266 684.9 L268.8 679.6 L273.2 690.3 L276.8 698.2 L280.4 702 L284 703.9 L287.6 704.9 L291.2 705.5 L294.8 705.9 L298.4 706.2 L302 706.4 L305.6 706.6 L309.2 706.7 L312.8 706.7 L316.4 706.8 L320 706.9 L323.6 706.9 L327.2 706.9 L330.8 707 L334.4 707 L338 707 L341.6 707 L345.2 707 L348.8 707 L352.4 707 L356 707 L359.6 707 L363.2 706.9 L366.8 706.9 L370.4 706.9 L374 706.9 L377.6 706.8 L381.2 706.8 L384.8 706.7 L388.4 706.6 L392 706.5 L395.6 706.4 L399.2 706.3 L402.8 706.1 L406.4 705.8 L410 705.4 L413.6 705 L417.2 704.2 L420.8 703.1 L424.4 701.2 L428 697.8 L431.6 690.7 L435.2 674.6 L438.8 646.3 L440.3 640.8 L442.4 650.7 L446 678.2 L449.6 692.1 L453.2 698.3 L456.8 701.3 L460.4 703 L464 703.9 L467.6 704.5 L471.2 704.8 L474.8 704.9 L478.4 704.8 L482 704.3 L485.6 703.1 L489.2 700.4 L492.8 695.5 L494.2 694.7 L496.4 696.5 L500 700.9 L503.6 703 L507.2 703.7 L510.8 703.6 L514.4 702.9 L518 701.3 L521.6 697.9 L525.2 690.2 L528.8 673.5 L531.7 662.3 L536 681.3 L539.6 694.2 L543.2 699.8 L546.8 702.5 L550.4 704 L554 704.8 L557.6 705.4 L561.2 705.7 L564.8 706 L568.4 706.1 L572 706.3 L575.6 706.4 L579.2 706.4 L582.8 706.5 L586.4 706.5 L590 706.6 L593.6 706.6 L597.2 706.6 L600.8 706.6 L604.4 706.6 L608 706.5 L611.6 706.5 L615.2 706.5 L618.8 706.5 L622.4 706.4 L626 706.4 L629.6 706.3 L633.2 706.2 L636.8 706.1 L640.4 706 L644 705.8 L647.6 705.7 L651.2 705.4 L654.8 705.2 L658.4 704.8 L662 704.3 L665.6 703.7 L669.2 702.8 L672.8 701.4 L676.4 699.3 L680 695.7 L683.6 689 L687.2 675.7 L690.8 652.2 L693.8 638.6 L698 660.6 L701.6 680.6 L705.2 690.9 L708.8 696 L712.4 698.6 L716 700.1 L719.6 700.8 L723.2 701.1 L726.8 701 L730.4 700.5 L734 699.8 L737.6 698.5 L741.2 696.7 L744.8 693.8 L748.4 689.4 L752 682 L755.6 668.7 L759.2 642.1 L762.8 582.6 L766.4 460.5 L768.8 403.7 L773.6 549.2 L777.2 627.7 L780.8 662.2 L784.4 678.8 L788 687.8 L791.6 693.2 L795.2 696.6 L798.8 698.9 L802.4 700.6 L806 701.8 L809.6 702.7 L813.2 703.4 L816.8 703.9 L820.4 704.4 L824 704.7 L827.6 705 L831.2 705.3 L834.8 705.5 L838.4 705.6 L842 705.8 L845.6 705.9 L849.2 706 L852.8 706.1 L856.4 706.2 L860 706.3 L863.6 706.4 L867.2 706.4 L870.8 706.5 L874.4 706.5 L878 706.6 L881.6 706.6 L885.2 706.6 L888.8 706.6 L892.4 706.7 L896 706.7 L899.6 706.7 L903.2 706.7 L906.8 706.7 L910.4 706.7 L914 706.7 L917.6 706.7 L921.2 706.7 L924.8 706.7 L928.4 706.7 L932 706.7 L935.6 706.7 L939.2 706.6 L942.8 706.6 L946.4 706.5 L950 706.5 L953.6 706.4 L957.2 706.3 L960.8 706.1 L964.4 705.9 L968 705.6 L971.6 705.2 L975.2 704.6 L978.8 703.6 L982.4 701.7 L986 697.7 L989.6 688.8 L994 675 L996.8 682.3 L1000.4 694 L1004 699.3 L1007.6 701.4 L1011.2 702 L1014.8 701.7 L1018.4 700.3 L1022 697.1 L1025.6 689.7 L1029.2 673.1 L1032.8 655.9 L1036.4 673.2 L1040 690 L1043.6 697.5 L1047.2 701 L1050.8 702.7 L1054.4 703.7 L1058 704.2 L1061.6 704.5 L1065.2 704.5 L1068.8 704.3 L1072.4 703.8 L1076 702.8 L1079.6 700.5 L1083.2 695.5 L1086.8 684.7 L1089.7 677.4 L1094 689.7 L1097.6 698.1 L1101.2 701.8 L1104.8 703.5 L1108.4 704.4 L1112 704.8 L1115.6 705.1 L1119.2 705.2 L1122.8 705.3 L1126.4 705.2 L1130 705.1 L1133.6 704.8 L1137.2 704.4 L1140.8 703.7 L1144.4 702.7 L1148 700.9 L1151.6 697.6 L1155.2 690.8 L1158.8 676.7 L1163 659.3 L1166 670.1 L1169.6 687 L1173.2 695.7 L1176.8 699.8 L1180.4 701.9 L1184 703.1 L1187.6 703.8 L1191.2 704.2 L1194.8 704.4 L1198.4 704.6 L1202 704.6 L1205.6 704.5 L1209.2 704.4 L1212.8 704.2 L1216.4 703.9 L1220 703.4 L1223.6 702.8 L1227.2 702 L1230.8 700.8 L1234.4 699 L1238 696.1 L1241.6 691.2 L1245.2 682.2 L1248.8 663.5 L1252.4 625.6 L1256 591.2 L1259.6 625.2 L1263.2 662.7 L1266.8 680.9 L1270.4 689.5 L1274 693.8 L1277.6 696 L1281.2 696.9 L1284.8 697.1 L1288.4 696.5 L1292 695.2 L1295.6 692.8 L1299.2 688.4 L1302.8 680 L1306.4 664.7 L1308.6 655.9 L1310 653.7 L1313.6 648.3 L1317.2 623.6 L1320.8 561 L1324.4 444.3 L1326.7 399.4 L1328 415.8 L1331.6 535.3 L1335.2 615.8 L1338.8 653.9 L1342.4 673 L1346 683.6 L1349.6 690 L1353.2 694.1 L1356.8 696.9 L1360.4 698.9 L1364 700.4 L1367.6 701.5 L1371.2 702.4 L1374.8 703.1 L1378.4 703.6 L1382 704.1 L1385.6 704.5 L1389.2 704.8 L1392.8 705.1 L1396.4 705.3 L1400 705.5 L1403.6 705.6 L1407.2 705.8 L1410.8 705.9 L1414.4 706 L1418 706.1 L1421.6 706.2 L1425.2 706.3 L1428.8 706.4 L1432.4 706.5 L1436 706.5 L1439.6 706.6 L1443.2 706.6 L1446.8 706.7 L1450.4 706.7 L1454 706.8 L1457.6 706.8 L1461.2 706.8 L1464.8 706.9 L1468.4 706.9 L1472 706.9 L1475.6 706.9 L1479.2 707 L1482.8 707 L1486.4 707 L1490 707 L1493.6 707 L1497.2 707.1 L1500.8 707.1 L1504.4 707.1 L1508 707.1 L1511.6 707.1 L1515.2 707.1 L1518.8 707.1 L1522.4 707.2 L1526 707.2 L1529.6 707.2 L1533.2 707.2 L1536.8 707.2 L1540.4 707.2 L1544 707.2 L1547.6 707.2 L1551.2 707.2 L1554.8 707.2 L1558.4 707.2 L1560 707.2" class="b"/>
<path d="M1596 706 L1597.5 706 L1599 706 L1600.5 706 L1602 706 L1603.5 706 L1605 706 L1606.5 706 L1608 706 L1609.5 706 L1611 706 L1612.5 706 L1614 706 L1615.5 706 L1617 706 L1618.5 706 L1620 706 L1621.5 706 L1623 706 L1624.5 706 L1626 706 L1627.5 706 L1629 706 L1630.5 706 L1632 706 L1633.5 706 L1635 706 L1636.5 706 L1638 706 L1639.5 706 L1641 706 L1642.5 706 L1644 706 L1645.5 706 L1647 706 L1648.5 706 L1650 706 L1651.5 706 L1653 706 L1654.5 706 L1656 706 L1657.5 706 L1659 706 L1660.5 706 L1662 706 L1663.5 706 L1665 706 L1666.5 706 L1668 706 L1669.5 706 L1671 706 L1672.5 706 L1674 706 L1675.5 705.9 L1677 705.9 L1678.5 705.9 L1680 705.9 L1681.5 705.9 L1683 705.9 L1684.5 705.9 L1686 705.9 L1687.5 705.9 L1689 705.9 L1690.5 705.9 L1692 705.9 L1693.5 705.9 L1695 705.9 L1696.5 705.9 L1698 705.9 L1699.5 705.9 L1701 705.9 L1702.5 705.9 L1704 705.9 L1705.5 705.9 L1707 705.9 L1708.5 705.9 L1710 705.9 L1711.5 705.9 L1713 705.9 L1714.5 705.9 L1716 705.9 L1717.5 705.9 L1719 705.9 L1720.5 705.9 L1722 705.9 L1723.5 705.9 L1725 705.9 L1726.5 705.9 L1728 705.8 L1729.5 705.8 L1731 705.8 L1732.5 705.8 L1734 705.8 L1735.5 705.8 L1737 705.8 L1738.5 705.8 L1740 705.8 L1741.5 705.8 L1743 705.8 L1744.5 705.8 L1746 705.8 L1747.5 705.8 L1749 705.8 L1750.5 705.8 L1752 705.8 L1753.5 705.8 L1755 705.8 L1756.5 705.8 L1758 705.8 L1759.5 705.8 L1761 705.8 L1762.5 705.7 L1764 705.7 L1765.5 705.7 L1767 705.7 L1768.5 705.7 L1770 705.7 L1771.5 705.7 L1773 705.7 L1774.5 705.7 L1776 705.7 L1777.5 705.7 L1779 705.7 L1780.5 705.7 L1782 705.7 L1783.5 705.7 L1785 705.7 L1786.5 705.7 L1788 705.7 L1789.5 705.6 L1791 705.6 L1792.5 705.6 L1794 705.6 L1795.5 705.6 L1797 705.6 L1798.5 705.6 L1800 705.6 L1801.5 705.6 L1803 705.6 L1804.5 705.6 L1806 705.6 L1807.5 705.6 L1809 705.6 L1810.5 705.6 L1812 705.5 L1813.5 705.5 L1815 705.5 L1816.5 705.5 L1818 705.5 L1819.5 705.5 L1821 705.5 L1822.5 705.5 L1824 705.5 L1825.5 705.5 L1827 705.5 L1828.5 705.5 L1830 705.5 L1831.5 705.4 L1833 705.4 L1834.5 705.4 L1836 705.4 L1837.5 705.4 L1839 705.4 L1840.5 705.4 L1842 705.4 L1843.5 705.4 L1845 705.4 L1846.5 705.4 L1848 705.4 L1849.5 705.3 L1851 705.3 L1852.5 705.3 L1854 705.3 L1855.5 705.3 L1857 705.3 L1858.5 705.3 L1860 705.3 L1861.5 705.3 L1863 705.3 L1864.5 705.3 L1866 705.2 L1867.5 705.2 L1869 705.2 L1870.5 705.2 L1872 705.2 L1873.5 705.2 L1875 705.2 L1876.5 705.2 L1878 705.2 L1879.5 705.2 L1881 705.1 L1882.5 705.1 L1884 705.1 L1885.5 705.1 L1887 705.1 L1888.5 705.1 L1890 705.1 L1891.5 705.1 L1893 705.1 L1894.5 705 L1896 705 L1897.5 705 L1899 705 L1900 705 L1902 705 L1903.5 705 L1905 704.9 L1906.5 704.9 L1908 704.9 L1909.5 704.8 L1911 704.8 L1912.5 704.7 L1914 704.7 L1915.5 704.6 L1917 704.6 L1918.5 704.5 L1920 704.5 L1921.5 704.4 L1923 704.3 L1924.5 704.2 L1926 704.2 L1927.5 704.1 L1929 704 L1930.5 703.9 L1932 703.8 L1933.5 703.7 L1935 703.6 L1936.5 703.5 L1938 703.5 L1939.5 703.3 L1941 703.2 L1942.5 703.1 L1944 703 L1945.5 702.9 L1947 702.8 L1948.5 702.7 L1950 702.6 L1951.5 702.5 L1953 702.4 L1954.5 702.2 L1956 702.1 L1957.5 702 L1959 701.9 L1960 701.8 L1962 701.6 L1963.5 701.5 L1965 701.3 L1966.5 701.2 L1968 701 L1969.5 700.8 L1971 700.7 L1972.5 700.5 L1974 700.3 L1975.5 700 L1977 699.8 L1978.5 699.6 L1980 699.3 L1981.5 699 L1982.2 698.9 L1983 698.7 L1984.5 698.4 L1986 698.1 L1987.5 697.8 L1989 697.4 L1990.5 697 L1992 696.5 L1993.5 696.1 L1995 695.5 L1996.5 695 L1998 694.4 L1999.5 693.8 L2001 693.1 L2002.5 692.4 L2004.3 691.5 L2005.5 690.8 L2007 689.8 L2008.5 688.5 L2010 687.1 L2011.5 685.6 L2013 683.8 L2014.5 681.9 L2016.2 679.6 L2017.5 677.6 L2019 674.9 L2020.5 671.7 L2022 667.9 L2023.5 663.4 L2025 657.5 L2026.5 649.6 L2028 640.2 L2029.5 629.4 L2031 615.1 L2032.4 599.8 L2034 582.7 L2035.4 567.3 L2037 550 L2038.3 534.8 L2040.5 503.8 L2041.5 495.9 L2043.5 484.6 L2044.5 479.7 L2046 473.4 L2047.2 471.3 L2049 478.1 L2050.9 493.4 L2052 507.6 L2053.1 523 L2055 544.9 L2056.5 558.3 L2057.5 561.4 L2059.5 557.4 L2061 550.6 L2062 545.2 L2064 525.5 L2064.9 514.1 L2067 485 L2067.9 469.8 L2070.1 419.6 L2071.5 422.9 L2073 431.4 L2074.5 450.5 L2075.3 463.9 L2076 475.5 L2077.5 503.4 L2078.2 518.6 L2079 542.2 L2079.7 559.9 L2080.5 570.3 L2082 583.8 L2082.7 589.5 L2083.5 596.4 L2085.6 611.7 L2086.5 616.8 L2088 624.9 L2090 630.1 L2091 629.3 L2092.5 625.8 L2094 620.3 L2096 611.7 L2097 606.7 L2098.5 596.9 L2100.4 582.1 L2101.5 573.2 L2103.3 552.6 L2104.8 511.2 L2106 496.5 L2107.5 484.3 L2108.5 481.6 L2110.5 483.5 L2112 486 L2113.7 487.5 L2115 486.1 L2116.5 482.6 L2118 479.4 L2118.9 478.7 L2121 487.7 L2121.8 493.4 L2122.5 500.6 L2124 518.6 L2125.5 530.2 L2127 538.2 L2127.7 539.3 L2128.5 538.5 L2130 533.6 L2131.4 526 L2133.6 493.4 L2134.5 482.8 L2136 466.8 L2137.3 460.9 L2139 468 L2140.3 478.7 L2142 502.3 L2144 537.8 L2145 553.4 L2146.9 582.1 L2148 598.4 L2149.2 614.6 L2151 635 L2152.1 644.2 L2154 655.4 L2155.5 662.4 L2157 668 L2158 670.8 L2160 675.4 L2161.5 678.2 L2163 680.7 L2164.5 682.8 L2166 684.6 L2166.9 685.6 L2169 687.7 L2170.5 689.1 L2172 690.3 L2173.5 691.5 L2175 692.5 L2176.5 693.3 L2178 694.1 L2178.7 694.4 L2179.5 694.7 L2181 695.3 L2182.5 695.9 L2184 696.5 L2185.5 697 L2187 697.5 L2188.5 698 L2190 698.3 L2191.5 698.6 L2193 698.8 L2195 698.9" class="b"/>
<path d="M136.4 718.8 V388.7 H2197.5 V718.8" class="fr"/>
<path d="M134.4 718.8 H1563 M1602 718.8 H2199.5" class="fr" style="stroke-width:4.6"/>
<path d="M1545 731.3 L1579.5 706.1 M1581 731.3 L1615.5 705.8" class="brk"/>
<path d="M138.1 718.8 v8 M247.5 718.8 v14 M356.9 718.8 v8 M466.4 718.8 v14 M575.9 718.8 v8 M685.3 718.8 v14 M794.8 718.8 v8 M904.2 718.8 v14 M1013.6 718.8 v8 M1123.1 718.8 v14 M1232.6 718.8 v8 M1342 718.8 v14 M1451.5 718.8 v8 M1672.2 718.8 v8 M1822.4 718.8 v14 M1972.6 718.8 v8 M2122.8 718.8 v14" class="tk"/>
<text class="lr" transform="translate(290.7 642) rotate(-90)" textLength="89.8" lengthAdjust="spacingAndGlyphs">32:620</text>
<text class="lb" transform="translate(452.3 625.7) rotate(-90)" textLength="89.8" lengthAdjust="spacingAndGlyphs">37:778</text>
<text class="lb" transform="translate(532.7 632.2) rotate(-90)" textLength="89.8" lengthAdjust="spacingAndGlyphs">42:859</text>
<text class="lr" transform="translate(567 664.5) rotate(-90)" textLength="89.8" lengthAdjust="spacingAndGlyphs">43:862</text>
<text class="lb" transform="translate(763 507) rotate(-90)" textLength="106.1" lengthAdjust="spacingAndGlyphs">48:1077</text>
<text class="lr" transform="translate(980.5 586) rotate(-90)" textLength="106.1" lengthAdjust="spacingAndGlyphs">53:1276</text>
<text class="lr" transform="translate(1294.3 513.6) rotate(-90)" textLength="106.1" lengthAdjust="spacingAndGlyphs">63:1565</text>
<text class="lb" transform="translate(1373.8 505.9) rotate(-90)" textLength="106.1" lengthAdjust="spacingAndGlyphs">64:1584</text>
<text class="lb" transform="translate(2105.4 505.5) rotate(-90)" textLength="106.1" lengthAdjust="spacingAndGlyphs">69:3165</text>
<text class="lb" transform="translate(2173.6 511) rotate(-90)" textLength="106.1" lengthAdjust="spacingAndGlyphs">72:3210</text>
<text class="big" x="144" y="508.4" textLength="87.5" lengthAdjust="spacingAndGlyphs">B</text><text class="sub" x="234" y="508.4" textLength="35" lengthAdjust="spacingAndGlyphs">1</text>
<text class="nm" x="1451" y="508" textLength="222" lengthAdjust="spacingAndGlyphs">VO(3hp)</text><text class="nm2" x="1674" y="521">2</text>
<text class="nm" x="1484" y="566" textLength="161" lengthAdjust="spacingAndGlyphs" style="font-size:48px">PTP1B</text>
<text class="ir" x="1851" y="562.5" textLength="157" lengthAdjust="spacingAndGlyphs">Int<tspan style="font-size:68%" dy="-6">×</tspan><tspan dy="6">10</tspan></text>
</g>
<g>
<line x1="247.5" y1="749.1" x2="247.5" y2="1069.2" class="gM"/>
<line x1="356.9" y1="749.1" x2="356.9" y2="1069.2" class="gm"/>
<line x1="466.4" y1="749.1" x2="466.4" y2="1069.2" class="gM"/>
<line x1="575.9" y1="749.1" x2="575.9" y2="1069.2" class="gm"/>
<line x1="685.3" y1="749.1" x2="685.3" y2="1069.2" class="gM"/>
<line x1="794.8" y1="749.1" x2="794.8" y2="1069.2" class="gm"/>
<line x1="904.2" y1="749.1" x2="904.2" y2="1069.2" class="gM"/>
<line x1="1013.6" y1="749.1" x2="1013.6" y2="1069.2" class="gm"/>
<line x1="1123.1" y1="749.1" x2="1123.1" y2="1069.2" class="gM"/>
<line x1="1232.6" y1="749.1" x2="1232.6" y2="1069.2" class="gm"/>
<line x1="1342" y1="749.1" x2="1342" y2="1069.2" class="gM"/>
<line x1="1451.5" y1="749.1" x2="1451.5" y2="1069.2" class="gm"/>
<line x1="1672.2" y1="749.1" x2="1672.2" y2="1069.2" class="gm"/>
<line x1="1822.4" y1="749.1" x2="1822.4" y2="1069.2" class="gM"/>
<line x1="1972.6" y1="749.1" x2="1972.6" y2="1069.2" class="gm"/>
<line x1="2122.8" y1="749.1" x2="2122.8" y2="1069.2" class="gM"/>
<path d="M140 1058.9 L141.8 1058.8 L143.6 1058.7 L144.5 1058.6 L145.4 1058.6 L147.2 1058.4 L149 1058.3 L150.8 1058.1 L152.6 1057.8 L153.5 1057.7 L154.4 1057.6 L156.2 1057.2 L158 1056.8 L159.8 1056.3 L161.6 1055.7 L162.5 1055.3 L163.4 1054.8 L165.2 1053.7 L167 1052.2 L168.8 1050.1 L170.6 1047.1 L171.5 1045 L172.4 1042.5 L174.2 1035.6 L176 1025.3 L177.8 1011.8 L179.6 1000.3 L180.4 998.8 L181.4 1001.1 L183.2 1013.1 L185 1026.4 L186.8 1036.1 L188.6 1042.5 L189.5 1044.8 L190.4 1046.7 L192.2 1049.4 L194 1051.2 L195.8 1052.4 L197.6 1053.2 L198.5 1053.4 L199.4 1053.6 L201.2 1053.7 L203 1053.4 L204.8 1052.9 L206.6 1051.8 L207.5 1051.1 L208.4 1050.1 L210.2 1047.3 L212 1043 L213.8 1036.5 L215.6 1028.9 L216.5 1026.2 L217.4 1024.7 L217.5 1024.7 L219.2 1028.3 L221 1036 L222.8 1042.9 L224.6 1047.7 L225.5 1049.4 L226.4 1050.8 L228.2 1052.9 L230 1054.3 L231.8 1055.2 L233.6 1055.9 L234.5 1056.1 L235.4 1056.3 L237.2 1056.6 L239 1056.7 L240.8 1056.7 L242.6 1056.5 L243.5 1056.4 L244.4 1056.1 L246.2 1055.5 L248 1054.7 L249.8 1054.1 L250.7 1054 L251.6 1054.2 L252.5 1054.5 L253.4 1055 L255.2 1056 L257 1056.8 L258.8 1057.5 L260 1057.8 L260.6 1057.9 L261.5 1058.1 L262.4 1058.3 L263 1058.4 L264.2 1058.5 L266 1058.7 L267.8 1058.9 L269 1058.9 L269.6 1059 L270.5 1059 L271.4 1059.1 L272 1059.1 L273.2 1059.2 L275 1059.2 L276.8 1059.3 L278 1059.3 L278.6 1059.3 L279.5 1059.3 L280.4 1059.4 L281 1059.4 L282.2 1059.4 L284 1059.4 L285.8 1059.5 L287 1059.5 L287.6 1059.5 L288.5 1059.5 L289.4 1059.5 L290 1059.5 L291.2 1059.5 L293 1059.5 L294.8 1059.6 L296 1059.6 L296.6 1059.6 L297.5 1059.6 L298.4 1059.6 L299 1059.6 L300.2 1059.6 L302 1059.6 L303.8 1059.6 L305 1059.6 L305.6 1059.6 L306.5 1059.6 L307.4 1059.6 L308 1059.6 L309.2 1059.6 L311 1059.6 L312.8 1059.6 L314 1059.6 L314.6 1059.6 L315.5 1059.6 L316.4 1059.6 L317 1059.6 L318.2 1059.6 L320 1059.6 L321.8 1059.6 L323 1059.6 L323.6 1059.6 L324.5 1059.6 L325.4 1059.6 L326 1059.6 L327.2 1059.5 L329 1059.5 L330.8 1059.5 L332 1059.4 L332.6 1059.4 L333.5 1059.4 L334.4 1059.4 L335 1059.3 L336.2 1059.3 L338 1059.2 L339.8 1059 L341 1058.9 L341.6 1058.9 L342.5 1058.7 L343.4 1058.6 L344 1058.5 L345.2 1058.2 L347 1057.7 L348.8 1056.9 L350 1056.3 L350.6 1056 L351.5 1055.5 L352.4 1055.1 L353 1055 L354 1054.8 L354.2 1054.8 L356 1055.3 L357.8 1056.2 L359 1056.9 L359.6 1057.1 L360.5 1057.5 L361.4 1057.8 L362 1058 L363.2 1058.3 L365 1058.7 L366.8 1058.9 L368 1059.1 L368.6 1059.1 L369.5 1059.2 L370.4 1059.3 L371 1059.3 L372.2 1059.4 L374 1059.4 L375.8 1059.5 L377 1059.5 L377.6 1059.5 L378.5 1059.6 L379.4 1059.6 L380 1059.6 L381.2 1059.6 L383 1059.7 L384.8 1059.7 L386 1059.7 L386.6 1059.7 L387.5 1059.7 L388.4 1059.7 L389 1059.7 L390.2 1059.7 L392 1059.7 L393.8 1059.8 L395 1059.8 L395.6 1059.8 L396.5 1059.8 L397.4 1059.8 L398 1059.8 L399.2 1059.8 L401 1059.8 L402.8 1059.8 L404 1059.8 L404.6 1059.8 L405.5 1059.8 L406.4 1059.8 L407 1059.8 L408.2 1059.8 L410 1059.8 L411.8 1059.8 L413 1059.8 L413.6 1059.8 L414.5 1059.8 L415.4 1059.8 L416 1059.8 L417.2 1059.8 L419 1059.8 L420.8 1059.8 L422 1059.8 L422.6 1059.8 L423.5 1059.8 L424.4 1059.8 L425 1059.8 L426.2 1059.8 L428 1059.8 L429.8 1059.8 L431 1059.8 L431.6 1059.8 L432.5 1059.8 L433.4 1059.8 L434 1059.8 L435.2 1059.8 L437 1059.8 L438.8 1059.8 L440 1059.8 L440.6 1059.8 L441.5 1059.8 L442.4 1059.8 L443 1059.8 L444.2 1059.8 L446 1059.9 L447.8 1059.9 L449 1059.9 L449.6 1059.9 L450.5 1059.9 L451.4 1059.9 L452 1059.9 L453.2 1059.9 L455 1059.9 L456.8 1059.9 L458 1059.9 L458.6 1059.9 L459.5 1059.9 L460.4 1059.9 L461 1059.9 L462.2 1059.9 L464 1059.9 L465.8 1059.9 L467 1059.9 L467.6 1059.9 L468.5 1059.9 L469.4 1059.9 L470 1059.9 L471.2 1059.9 L473 1059.9 L474.8 1059.9 L476 1059.9 L476.6 1059.9 L477.5 1059.9 L478.4 1059.9 L479 1059.9 L480.2 1059.9 L482 1059.9 L483.8 1059.9 L485 1059.9 L485.6 1059.9 L486.5 1059.9 L487.4 1059.9 L488 1059.9 L489.2 1059.9 L491 1059.8 L492.8 1059.8 L494 1059.8 L494.6 1059.8 L495.5 1059.8 L496.4 1059.8 L497 1059.8 L498.2 1059.8 L500 1059.8 L501.8 1059.8 L503 1059.8 L503.6 1059.8 L504.5 1059.8 L505.4 1059.8 L506 1059.8 L507.2 1059.8 L509 1059.8 L510.8 1059.8 L512 1059.8 L512.6 1059.8 L513.5 1059.8 L514.4 1059.8 L515 1059.8 L516.2 1059.8 L518 1059.8 L519.8 1059.8 L521 1059.8 L521.6 1059.8 L522.5 1059.8 L523.4 1059.8 L524 1059.8 L525.2 1059.8 L527 1059.8 L528.8 1059.8 L530 1059.8 L530.6 1059.8 L531.5 1059.8 L532.4 1059.8 L533 1059.8 L534.2 1059.8 L536 1059.8 L537.8 1059.8 L539 1059.8 L539.6 1059.8 L540.5 1059.8 L541.4 1059.8 L542 1059.8 L543.2 1059.8 L545 1059.8 L546.8 1059.8 L548 1059.8 L548.6 1059.8 L549.5 1059.8 L550.4 1059.8 L551 1059.8 L552.2 1059.8 L554 1059.8 L555.8 1059.8 L557 1059.8 L557.6 1059.8 L558.5 1059.8 L559.4 1059.8 L560 1059.8 L561.2 1059.8 L563 1059.8 L564.8 1059.8 L566 1059.8 L566.6 1059.8 L567.5 1059.8 L568.4 1059.8 L569 1059.8 L570.2 1059.8 L572 1059.8 L573.8 1059.8 L575 1059.8 L575.6 1059.8 L576.5 1059.8 L577.4 1059.8 L578 1059.8 L579.2 1059.8 L581 1059.7 L582.8 1059.7 L584 1059.7 L584.6 1059.7 L585.5 1059.7 L586.4 1059.7 L587 1059.7 L588.2 1059.7 L590 1059.7 L591.8 1059.7 L593 1059.7 L593.6 1059.7 L594.5 1059.7 L595.4 1059.7 L596 1059.7 L597.2 1059.7 L599 1059.7 L600.8 1059.7 L602 1059.7 L602.6 1059.7 L603.5 1059.7 L604.4 1059.7 L605 1059.7 L606.2 1059.7 L608 1059.6 L609.8 1059.6 L611 1059.6 L611.6 1059.6 L612.5 1059.6 L613.4 1059.6 L614 1059.6 L615.2 1059.6 L617 1059.6 L618.8 1059.6 L620 1059.6 L620.6 1059.6 L621.5 1059.5 L622.4 1059.5 L623 1059.5 L624.2 1059.5 L626 1059.5 L627.8 1059.5 L629 1059.5 L629.6 1059.4 L630.5 1059.4 L631.4 1059.4 L632 1059.4 L633.2 1059.4 L635 1059.4 L636.8 1059.3 L638 1059.3 L638.6 1059.3 L639.5 1059.2 L640.4 1059.2 L641 1059.2 L642.2 1059.2 L644 1059.1 L645.8 1059 L647 1059 L647.6 1058.9 L648.5 1058.9 L649.4 1058.8 L650 1058.8 L651.2 1058.7 L653 1058.5 L654.8 1058.3 L656 1058.2 L656.6 1058.1 L657.5 1057.9 L658.4 1057.7 L659 1057.6 L660.2 1057.3 L662 1056.7 L663.8 1055.9 L665 1055.2 L665.6 1054.7 L666.5 1054 L667.4 1053.1 L668 1052.4 L669.2 1050.9 L671 1048.2 L672.8 1045.9 L674 1045.3 L674.6 1045.4 L675.5 1046.1 L676.4 1047.2 L677 1048 L678.2 1049.9 L680 1052.3 L681.8 1054 L683 1054.9 L683.6 1055.3 L684.5 1055.7 L685.4 1056.1 L686 1056.4 L687.2 1056.7 L689 1057.2 L690.8 1057.5 L692 1057.6 L692.6 1057.7 L693.5 1057.7 L694.4 1057.8 L695 1057.8 L696.2 1057.9 L698 1057.9 L699.8 1058 L701 1058 L701.6 1057.9 L702.5 1057.9 L703.4 1057.9 L704 1057.9 L705.2 1057.8 L707 1057.7 L708.8 1057.6 L710 1057.5 L710.6 1057.4 L711.5 1057.3 L712.4 1057.2 L713 1057.1 L714.2 1056.9 L716 1056.6 L717.8 1056.2 L719 1055.8 L719.6 1055.7 L720.5 1055.3 L721.4 1055 L722 1054.7 L723.2 1054.1 L725 1052.9 L726.8 1051.3 L728 1050 L728.6 1049.1 L729.5 1047.7 L730.4 1046 L731 1044.7 L732.2 1041.5 L734 1034.8 L735.8 1025.5 L737 1017.8 L737.6 1014.3 L738.5 1009.5 L739.4 1006.4 L740 1005.7 L741.2 1008 L743 1017.6 L744.8 1028.2 L746 1033.9 L746.6 1036.3 L747.5 1039.3 L748.4 1041.8 L749 1043.1 L750.2 1045.3 L752 1047.4 L753.8 1048.5 L755 1048.7 L755.6 1048.7 L756.5 1048.5 L757.4 1048 L758 1047.6 L759.2 1046.5 L761 1044.5 L762.8 1043.1 L763.6 1043 L764.6 1043.6 L765.5 1044.6 L766.4 1046 L767 1046.9 L768.2 1048.8 L770 1051.3 L771.8 1053.1 L773 1054 L773.6 1054.3 L774.5 1054.8 L775.4 1055.3 L776 1055.5 L777.2 1055.9 L779 1056.4 L780.8 1056.8 L782 1057 L782.6 1057.1 L783.5 1057.2 L784.4 1057.3 L785 1057.4 L786.2 1057.5 L788 1057.7 L789.8 1057.8 L791 1057.8 L791.6 1057.8 L792.5 1057.9 L793.4 1057.9 L794 1057.9 L795.2 1057.9 L797 1057.9 L798.8 1057.9 L800 1057.9 L800.6 1057.9 L801.5 1057.9 L802.4 1057.8 L803 1057.8 L804.2 1057.8 L806 1057.7 L807.8 1057.6 L809 1057.5 L809.6 1057.4 L810.5 1057.3 L811.4 1057.2 L812 1057.1 L813.2 1057 L815 1056.7 L816.8 1056.3 L818 1056 L818.6 1055.8 L819.5 1055.5 L820.4 1055.2 L821 1054.9 L822.2 1054.3 L824 1053.2 L825.8 1051.6 L827 1050.2 L827.6 1049.3 L828.5 1047.8 L829.4 1046 L830 1044.5 L831.2 1040.9 L833 1033.2 L834.8 1022.4 L836 1014.3 L836.6 1011.2 L838 1007.4 L838.4 1007.7 L839 1009.4 L840.2 1015.6 L842 1027.2 L843.8 1036.5 L845 1040.9 L845.6 1042.7 L846.5 1044.9 L847.4 1046.7 L848 1047.6 L849.2 1049.1 L851 1050.6 L852.8 1051.2 L854 1051.2 L854.6 1051.2 L855.5 1050.9 L856.4 1050.4 L857 1050 L858.2 1049.3 L860 1048.8 L861.8 1049.9 L863 1051.2 L863.6 1051.8 L864.5 1052.6 L865.4 1053.4 L866 1053.8 L867.2 1054.4 L869 1055.1 L870.8 1055.5 L872 1055.7 L872.6 1055.7 L873.5 1055.8 L874.4 1055.8 L875 1055.8 L876.2 1055.7 L878 1055.6 L880 1055.3 L881 1054.9 L882.5 1053.5 L884 1051.4 L885.5 1049 L887 1046.7 L888.5 1044.7 L890 1043.4 L891.1 1043.1 L893 1043.7 L894.5 1044.8 L896 1046.3 L897.5 1047.9 L899 1049.3 L900.5 1050.4 L902.2 1050.9 L903.5 1050.5 L905 1049.3 L906.5 1047.5 L908 1045.2 L909.5 1042.5 L911 1039.8 L912.5 1035.7 L914 1029.7 L915.5 1023.3 L917 1018.1 L918.8 1015.4 L920 1015.8 L921.5 1017 L923 1018.5 L924.5 1019.7 L925.4 1019.9 L926 1019.5 L927.5 1016 L929 1010.6 L930.5 1005.6 L932.1 1003.2 L933.5 1005.4 L935 1011 L936.5 1017.8 L937.6 1022.1 L939.5 1029.7 L941 1036.2 L942.5 1041.5 L944.3 1044.2 L945.5 1043.8 L947 1042.5 L948.5 1040.4 L950 1038.1 L951.5 1035.6 L953.2 1033.2 L954.5 1031.3 L956 1028.9 L957.5 1027.1 L958.7 1026.5 L960.5 1028.9 L962 1033.3 L963.5 1038.4 L965 1042.5 L966.5 1044.2 L968 1043.9 L969.5 1043 L971 1041.9 L972.5 1040.9 L974 1040.1 L975.3 1039.8 L977 1040.6 L978.5 1042.2 L980 1044.2 L982 1046.5 L983 1047.4 L984.5 1048.9 L986 1050.4 L987.5 1051.7 L989 1052.6 L990.8 1053.1 L992 1053.1 L993.5 1053.1 L995 1053.1 L996.5 1053.1 L998 1053.1 L999.5 1053.1 L1001 1053.1 L1001.9 1053.1 L1002.5 1053 L1004 1051.9 L1005.5 1050 L1007 1047.7 L1008.5 1045.4 L1010 1043.4 L1011.5 1042.2 L1012.3 1042 L1013 1042.5 L1014.5 1045.5 L1016 1049.3 L1017.4 1050.9 L1019 1050.7 L1020.5 1050.3 L1022 1049.7 L1023.5 1049 L1025 1048.2 L1026.5 1047.5 L1028 1047 L1029.5 1046.6 L1030.7 1046.5 L1032.5 1047 L1034 1047.9 L1035.5 1049 L1037 1050 L1038.5 1050.7 L1039.6 1050.9 L1041.5 1050.1 L1043 1048.6 L1044.5 1046.4 L1046 1043.9 L1047.5 1041.2 L1049 1038.5 L1050.5 1036 L1052 1034 L1053.5 1032.6 L1055.1 1032 L1056.5 1032.7 L1058 1034.5 L1059.5 1037.1 L1061 1039.9 L1062.5 1042.4 L1064 1044.2 L1065.5 1045.4 L1067 1046.5 L1068.5 1047.4 L1070 1048.3 L1071.5 1049.1 L1073 1049.9 L1075.1 1050.9 L1076 1051.3 L1077.5 1052.1 L1079 1052.9 L1080.5 1053.7 L1082 1054.4 L1083.5 1054.9 L1085 1055.2 L1086.2 1055.3 L1088 1054.7 L1089.5 1053.5 L1091 1051.9 L1092.5 1049.9 L1094 1047.8 L1095.5 1045.8 L1097 1044.1 L1098.5 1042.8 L1100.6 1042 L1101.5 1042.3 L1103 1043.7 L1104.5 1045.9 L1106 1048.3 L1107.5 1050.2 L1108.3 1050.9 L1109 1051.3 L1110.5 1052.2 L1112 1053 L1113.5 1053.8 L1115 1054.4 L1116.5 1054.9 L1118 1055.2 L1119.4 1055.3 L1121 1055.2 L1122.5 1055 L1124 1054.7 L1125.5 1054.3 L1127 1053.8 L1128.5 1053.2 L1130 1052.4 L1131.5 1051.6 L1132.7 1050.9 L1134.5 1047.3 L1136 1041.4 L1137.5 1034 L1139 1026.2 L1140.5 1019.1 L1142 1013.7 L1143.8 1011 L1145 1012.7 L1146.5 1018.1 L1148 1025 L1149.5 1031 L1150.4 1033.2 L1152.5 1036.2 L1154 1038 L1155.5 1039.3 L1157.1 1039.8 L1158.5 1039.1 L1160 1037 L1161.5 1034.3 L1163 1031.6 L1164.5 1029.5 L1166 1028.7 L1167.5 1029 L1169 1029.9 L1170.5 1031.1 L1172 1032.5 L1173.5 1034 L1175 1035.4 L1176.5 1036.6 L1178 1037.4 L1179.3 1037.6 L1181 1036.3 L1182.5 1033.4 L1184 1029.4 L1185.5 1024.7 L1187 1019.8 L1188.5 1015.3 L1190 1011.7 L1191.5 1009.4 L1192.6 1008.8 L1194.5 1013 L1196 1019.9 L1197.5 1027.4 L1199.2 1033.2 L1200.5 1035.6 L1202 1038.2 L1203.5 1040.4 L1205 1042.2 L1206.5 1043.5 L1208.1 1044.2 L1209.5 1044.4 L1211 1044.7 L1212.5 1044.8 L1214 1044.9 L1216 1045 L1217 1044.8 L1218 1044.3 L1219.8 1042.3 L1221.6 1039.6 L1223.4 1036 L1224.5 1033.3 L1225.2 1031.3 L1226 1028.6 L1227 1024.8 L1228.8 1015.6 L1230.6 1002.4 L1232.4 982.8 L1233.5 965.9 L1234.2 952.8 L1235 934.8 L1236 907.9 L1237.8 847.9 L1239.6 795.2 L1240.5 786.7 L1241.4 795.1 L1242.5 824 L1243.2 847.5 L1244 874.4 L1245 907.2 L1246.8 951.8 L1248.6 981.4 L1250.4 1000.7 L1251.5 1009.1 L1252.2 1013.5 L1253 1017.7 L1254 1022.2 L1255.8 1028.1 L1257.6 1032.2 L1259.4 1035 L1260.5 1036.3 L1261.2 1036.8 L1262 1037.4 L1263 1037.8 L1264.8 1038 L1266.6 1037.4 L1268.4 1036 L1269.5 1034.6 L1270.2 1033.5 L1271 1032 L1272 1029.7 L1273.8 1023.9 L1275.6 1015.2 L1277.4 1002.1 L1278.5 991 L1279.2 982.7 L1280 971.4 L1281 955.4 L1282.8 923.9 L1284.6 903.8 L1285 903.1 L1286.4 912.6 L1287.5 929.5 L1288.2 942.3 L1289 956.3 L1290 973 L1291.8 996.5 L1293.6 1012.8 L1295.4 1023.9 L1296.5 1028.9 L1297.2 1031.6 L1298 1034.3 L1299 1037.1 L1300.8 1041.2 L1302.6 1044.2 L1304.4 1046.5 L1305.5 1047.6 L1306.2 1048.3 L1307 1049 L1308 1049.7 L1309.8 1050.8 L1311.6 1051.8 L1313.4 1052.5 L1314.5 1052.9 L1315.2 1053.1 L1316 1053.3 L1317 1053.6 L1318.8 1053.9 L1320.6 1054.1 L1322.4 1054.2 L1323.5 1054.1 L1324.2 1054.1 L1325 1053.9 L1326 1053.7 L1327.8 1052.9 L1329.6 1051.6 L1331.4 1049.9 L1332.5 1049.1 L1333.2 1048.8 L1333.6 1048.8 L1335 1049.5 L1336.8 1051.5 L1338.6 1053.4 L1340.4 1054.8 L1341.5 1055.4 L1342.2 1055.7 L1343 1056 L1344 1056.3 L1345.8 1056.8 L1347.6 1057.1 L1349.4 1057.4 L1350.5 1057.6 L1351.2 1057.6 L1352 1057.7 L1353 1057.8 L1354.8 1058 L1356.6 1058.1 L1358.4 1058.2 L1359.5 1058.3 L1360.2 1058.3 L1361 1058.3 L1362 1058.4 L1363.8 1058.5 L1365.6 1058.5 L1367.4 1058.6 L1368.5 1058.6 L1369.2 1058.7 L1370 1058.7 L1371 1058.7 L1372.8 1058.8 L1374.6 1058.8 L1376.4 1058.9 L1377.5 1058.9 L1378.2 1058.9 L1379 1058.9 L1380 1058.9 L1381.8 1059 L1383.6 1059 L1385.4 1059 L1386.5 1059.1 L1387.2 1059.1 L1388 1059.1 L1389 1059.1 L1390.8 1059.1 L1392.6 1059.1 L1394.4 1059.2 L1395.5 1059.2 L1396.2 1059.2 L1397 1059.2 L1398 1059.2 L1399.8 1059.2 L1401.6 1059.3 L1403.4 1059.3 L1404.5 1059.3 L1405.2 1059.3 L1406 1059.3 L1407 1059.3 L1408.8 1059.3 L1410.6 1059.3 L1412.4 1059.4 L1413.5 1059.4 L1414.2 1059.4 L1415 1059.4 L1416 1059.4 L1417.8 1059.4 L1419.6 1059.4 L1421.4 1059.4 L1422.5 1059.4 L1423.2 1059.4 L1424 1059.4 L1425 1059.5 L1426.8 1059.5 L1428.6 1059.5 L1430.4 1059.5 L1431.5 1059.5 L1432.2 1059.5 L1433 1059.5 L1434 1059.5 L1435.8 1059.5 L1437.6 1059.5 L1439.4 1059.5 L1440.5 1059.5 L1441.2 1059.5 L1442 1059.6 L1443 1059.6 L1444.8 1059.6 L1446.6 1059.6 L1448.4 1059.6 L1449.5 1059.6 L1450.2 1059.6 L1451 1059.6 L1452 1059.6 L1453.8 1059.6 L1455.6 1059.6 L1457.4 1059.6 L1458.5 1059.6 L1459.2 1059.6 L1460 1059.6 L1461 1059.6 L1462.8 1059.6 L1464.6 1059.6 L1466.4 1059.6 L1467.5 1059.7 L1468.2 1059.7 L1469 1059.7 L1470 1059.7 L1471.8 1059.7 L1473.6 1059.7 L1475.4 1059.7 L1476.5 1059.7 L1477.2 1059.7 L1478 1059.7 L1479 1059.7 L1480.8 1059.7 L1482.6 1059.7 L1484.4 1059.7 L1485.5 1059.7 L1486.2 1059.7 L1487 1059.7 L1488 1059.7 L1489.8 1059.7 L1491.6 1059.7 L1493.4 1059.7 L1494.5 1059.7 L1495.2 1059.7 L1496 1059.7 L1497 1059.7 L1498.8 1059.7 L1500.6 1059.7 L1502.4 1059.7 L1503.5 1059.7 L1504.2 1059.7 L1505 1059.7 L1506 1059.7 L1507.8 1059.8 L1509.6 1059.8 L1511.4 1059.8 L1512.5 1059.8 L1513.2 1059.8 L1514 1059.8 L1515 1059.8 L1516.8 1059.8 L1518.6 1059.8 L1520.4 1059.8 L1521.5 1059.8 L1522.2 1059.8 L1523 1059.8 L1524 1059.8 L1525.8 1059.8 L1527.6 1059.8 L1529.4 1059.8 L1530.5 1059.8 L1531.2 1059.8 L1532 1059.8 L1533 1059.8 L1534.8 1059.8 L1536.6 1059.8 L1538.4 1059.8 L1539.5 1059.8 L1540.2 1059.8 L1541 1059.8 L1542 1059.8 L1543.8 1059.8 L1545.6 1059.8 L1547.4 1059.8 L1548.5 1059.8 L1549.2 1059.8 L1550 1059.8 L1551 1059.8 L1552.8 1059.8 L1554.6 1059.8 L1556.4 1059.8 L1557.5 1059.8 L1558.2 1059.8 L1559 1059.9 L1560 1060" class="r"/>
<path d="M1596 1059 L1597.5 1059 L1599 1059 L1600.5 1059 L1602 1059 L1603.5 1058.9 L1605 1058.9 L1606.5 1058.9 L1608 1058.8 L1609.5 1058.8 L1611 1058.7 L1612.5 1058.7 L1614 1058.6 L1615.5 1058.5 L1617 1058.5 L1618.5 1058.4 L1620 1058.3 L1621.5 1058.3 L1623 1058.2 L1624.5 1058.1 L1626 1058 L1627.5 1057.9 L1629 1057.8 L1630.5 1057.7 L1632 1057.6 L1633.5 1057.5 L1635 1057.4 L1636.5 1057.3 L1638 1057.2 L1640 1057 L1641 1056.9 L1642.5 1056.7 L1644 1056.6 L1645.5 1056.3 L1647 1056.1 L1648.5 1055.8 L1650 1055.5 L1651.5 1055.2 L1653 1054.9 L1654.5 1054.5 L1656 1054.2 L1657.5 1053.8 L1659 1053.5 L1660 1053.3 L1662 1052.9 L1663.5 1052.6 L1665 1052.3 L1666.5 1052 L1668 1051.7 L1669.5 1051.3 L1671 1051 L1672.5 1050.6 L1674 1050.2 L1675.5 1049.7 L1677 1049.2 L1678.5 1048.6 L1680 1047.9 L1681.5 1047.1 L1683 1046.1 L1684.5 1044.9 L1686 1043.6 L1687.5 1042.1 L1689 1040.5 L1690.5 1038.7 L1691.4 1037.6 L1693.5 1034.3 L1695 1031.2 L1696.5 1027.5 L1698 1023.3 L1698.8 1020.9 L1699.5 1018.5 L1701 1012.1 L1702.5 1004.5 L1704 996.2 L1705.5 987.8 L1706.2 984 L1707 979.2 L1708.5 968.5 L1710 958.6 L1711.7 952.6 L1713 951.6 L1714.5 951.1 L1716 950.7 L1717.5 950.1 L1719.1 948.9 L1720.5 941.7 L1722 927 L1722.8 919.3 L1723.5 912.7 L1725 896.9 L1726.5 880.7 L1728.4 863.9 L1729.5 856.1 L1731 845.5 L1732.5 836 L1734 829.1 L1735.7 826 L1737 830.1 L1738.5 842.1 L1740 856.8 L1741.3 867.6 L1743 880.6 L1744.5 892 L1746 899.6 L1746.8 900.8 L1747.5 900.8 L1749 900.5 L1750.5 900 L1752.4 899 L1753.5 896.2 L1755 888.8 L1757 882.4 L1758 883 L1759.5 885.7 L1761 890.3 L1762.5 896.3 L1763.5 900.8 L1765.5 920.9 L1767.1 937.8 L1768.5 947.4 L1770 955 L1770.8 956.3 L1771.5 956 L1773 953.7 L1774.5 949.8 L1776 945.4 L1777.5 941.3 L1779 938.5 L1780.1 937.8 L1782 940.9 L1783.5 946.6 L1785 953.7 L1786.5 961.1 L1787.5 965.5 L1789.5 976 L1791 984.2 L1793 989.5 L1794 989.5 L1795.5 989.5 L1797 989.5 L1798.5 989.5 L1800.4 989.5 L1801.5 990.1 L1803 992.6 L1804.5 996 L1806 999.5 L1807.8 1002.5 L1809 1003.8 L1810.5 1005.3 L1812 1006.6 L1813.5 1007.6 L1815.2 1008 L1816.5 1006.5 L1818 1001.7 L1819.5 994.3 L1821 985.2 L1822.6 974.7 L1824 960.9 L1825.5 940.4 L1827 920.5 L1828.1 910.1 L1830 897.1 L1831.5 887.8 L1833 880.5 L1834.5 875.9 L1835.5 875 L1837.5 877.1 L1839 881.1 L1840.5 886.6 L1842 893 L1842.9 897.2 L1845 913.6 L1846.6 928.6 L1848 940.7 L1849.5 953.8 L1851 966.3 L1852.1 974.7 L1854 989 L1855.5 999.6 L1857 1007.5 L1857.7 1009.8 L1858.5 1011.7 L1860 1014.9 L1861.5 1017.2 L1863.2 1018.2 L1864.5 1017.5 L1866 1015.1 L1867.5 1011.8 L1869 1008 L1870.6 1004.3 L1872 1000.6 L1873.5 996 L1875 992.4 L1876.1 991.4 L1878 995.1 L1879.5 1001.6 L1881 1008.7 L1881.7 1011.7 L1882.5 1015.2 L1884 1022.8 L1885.5 1030.1 L1887.2 1035.7 L1888.5 1038.1 L1890 1040.7 L1891.5 1043 L1893 1044.9 L1894.5 1046.4 L1896 1047.6 L1897.5 1048.4 L1898.3 1048.6 L1899 1048.8 L1900.5 1049.1 L1902 1049.3 L1903.5 1049.6 L1905 1049.8 L1906.5 1050 L1908 1050.2 L1909.5 1050.3 L1911 1050.4 L1912.5 1050.5 L1914 1050.5 L1914.9 1050.5 L1917 1049.8 L1918.5 1048.6 L1920 1047.1 L1921.5 1045.5 L1923 1044 L1924.2 1043.1 L1926 1041.9 L1927.5 1040.8 L1929 1039.7 L1930.5 1038.8 L1932 1038.1 L1933.5 1037.7 L1934.3 1037.6 L1935 1037.8 L1936.5 1039.2 L1938 1041.5 L1939.5 1044.2 L1941 1046.7 L1942.7 1048.6 L1944 1049.5 L1945.5 1050.4 L1947 1051.2 L1948.5 1052 L1950 1052.7 L1951.5 1053.4 L1953 1053.9 L1954.5 1054.5 L1956 1055 L1957.5 1055.4 L1959 1055.8 L1960 1056 L1962 1056.4 L1963.5 1056.8 L1965 1057.1 L1966.5 1057.4 L1968 1057.7 L1969.5 1057.9 L1971 1058.2 L1972.5 1058.4 L1974 1058.6 L1975.5 1058.8 L1977 1058.9 L1978.5 1059 L1980 1059 L1981.5 1059 L1983 1059 L1984.5 1059.1 L1986 1059.1 L1987.5 1059.1 L1989 1059.1 L1990.5 1059.1 L1992 1059.1 L1993.5 1059.2 L1995 1059.2 L1996.5 1059.2 L1998 1059.2 L1999.5 1059.2 L2001 1059.2 L2002.5 1059.3 L2004 1059.3 L2005.5 1059.3 L2007 1059.3 L2008.5 1059.3 L2010 1059.3 L2011.5 1059.3 L2013 1059.4 L2014.5 1059.4 L2016 1059.4 L2017.5 1059.4 L2019 1059.4 L2020.5 1059.4 L2022 1059.4 L2023.5 1059.4 L2025 1059.5 L2026.5 1059.5 L2028 1059.5 L2029.5 1059.5 L2031 1059.5 L2032.5 1059.5 L2034 1059.5 L2035.5 1059.5 L2037 1059.5 L2038.5 1059.6 L2040 1059.6 L2041.5 1059.6 L2043 1059.6 L2044.5 1059.6 L2046 1059.6 L2047.5 1059.6 L2049 1059.6 L2050.5 1059.6 L2052 1059.6 L2053.5 1059.7 L2055 1059.7 L2056.5 1059.7 L2058 1059.7 L2059.5 1059.7 L2061 1059.7 L2062.5 1059.7 L2064 1059.7 L2065.5 1059.7 L2067 1059.7 L2068.5 1059.7 L2070 1059.7 L2071.5 1059.8 L2073 1059.8 L2074.5 1059.8 L2076 1059.8 L2077.5 1059.8 L2079 1059.8 L2080.5 1059.8 L2082 1059.8 L2083.5 1059.8 L2085 1059.8 L2086.5 1059.8 L2088 1059.8 L2089.5 1059.8 L2091 1059.8 L2092.5 1059.8 L2094 1059.9 L2095.5 1059.9 L2097 1059.9 L2098.5 1059.9 L2100 1059.9 L2101.5 1059.9 L2103 1059.9 L2104.5 1059.9 L2106 1059.9 L2107.5 1059.9 L2109 1059.9 L2110.5 1059.9 L2112 1059.9 L2113.5 1059.9 L2115 1059.9 L2116.5 1059.9 L2118 1059.9 L2119.5 1059.9 L2121 1059.9 L2122.5 1059.9 L2124 1059.9 L2125.5 1059.9 L2127 1059.9 L2128.5 1059.9 L2130 1059.9 L2131.5 1060 L2133 1060 L2134.5 1060 L2136 1060 L2137.5 1060 L2139 1060 L2140.5 1060 L2142 1060 L2143.5 1060 L2145 1060 L2146.5 1060 L2148 1060 L2149.5 1060 L2151 1060 L2152.5 1060 L2154 1060 L2155.5 1060 L2157 1060 L2158.5 1060 L2160 1060 L2161.5 1060 L2163 1060 L2164.5 1060 L2166 1060 L2167.5 1060 L2169 1060 L2170.5 1060 L2172 1060 L2173.5 1060 L2175 1060 L2176.5 1060 L2178 1060 L2179.5 1060 L2181 1060 L2182.5 1060 L2184 1060 L2185.5 1060 L2187 1060 L2188.5 1060 L2190 1060 L2191.5 1060 L2193 1060 L2195 1060" class="r"/>
<path d="M140 1059.9 L141.8 1059.9 L143.6 1059.8 L144.5 1059.8 L145.4 1059.8 L147.2 1059.8 L149 1059.8 L150.8 1059.8 L152.6 1059.8 L153.5 1059.8 L154.4 1059.8 L156.2 1059.8 L158 1059.8 L159.8 1059.8 L161.6 1059.8 L162.5 1059.8 L163.4 1059.8 L165.2 1059.8 L167 1059.8 L168.8 1059.7 L170.6 1059.7 L171.5 1059.7 L172.4 1059.7 L174.2 1059.7 L176 1059.7 L177.8 1059.7 L179.6 1059.7 L180.5 1059.6 L181.4 1059.6 L183.2 1059.6 L185 1059.6 L186.8 1059.5 L188.6 1059.5 L189.5 1059.5 L190.4 1059.5 L192.2 1059.4 L194 1059.3 L195.8 1059.3 L197.6 1059.1 L198.5 1059.1 L199.4 1059 L201.2 1058.9 L203 1058.6 L204.8 1058.3 L206.6 1057.9 L207.5 1057.6 L208.4 1057.2 L210.2 1056.3 L212 1054.9 L213.8 1053.1 L215.6 1051.9 L216 1051.8 L217.4 1052.3 L219.2 1053.8 L221 1055.3 L222.8 1056.3 L224.6 1056.8 L225.5 1057 L226.4 1057.1 L228.2 1057.2 L230 1057.1 L231.8 1056.9 L233.6 1056.5 L234.5 1056.2 L235.4 1055.9 L237.2 1055 L239 1053.6 L240.8 1051.6 L242.6 1048.6 L243.5 1046.6 L244.4 1044.4 L246.2 1039.4 L248 1036.1 L248.5 1035.9 L249.8 1037.2 L251.6 1041.7 L252.5 1044.1 L253.4 1046.5 L255.2 1050.2 L257 1052.8 L258.8 1054.5 L260 1055.4 L260.6 1055.7 L261.5 1056.2 L262.4 1056.6 L263 1056.8 L264.2 1057.2 L266 1057.7 L267.8 1058 L269 1058.2 L269.6 1058.3 L270.5 1058.4 L271.4 1058.5 L272 1058.6 L273.2 1058.7 L275 1058.9 L276.8 1059 L278 1059 L278.6 1059.1 L279.5 1059.1 L280.4 1059.2 L281 1059.2 L282.2 1059.2 L284 1059.3 L285.8 1059.3 L287 1059.4 L287.6 1059.4 L288.5 1059.4 L289.4 1059.4 L290 1059.4 L291.2 1059.4 L293 1059.5 L294.8 1059.5 L296 1059.5 L296.6 1059.5 L297.5 1059.5 L298.4 1059.5 L299 1059.5 L300.2 1059.5 L302 1059.6 L303.8 1059.6 L305 1059.6 L305.6 1059.6 L306.5 1059.6 L307.4 1059.6 L308 1059.6 L309.2 1059.6 L311 1059.6 L312.8 1059.6 L314 1059.6 L314.6 1059.6 L315.5 1059.6 L316.4 1059.6 L317 1059.6 L318.2 1059.6 L320 1059.6 L321.8 1059.5 L323 1059.5 L323.6 1059.5 L324.5 1059.5 L325.4 1059.5 L326 1059.5 L327.2 1059.5 L329 1059.4 L330.8 1059.4 L332 1059.3 L332.6 1059.3 L333.5 1059.3 L334.4 1059.2 L335 1059.2 L336.2 1059.1 L338 1059 L339.8 1058.8 L341 1058.6 L341.6 1058.5 L342.5 1058.4 L343.4 1058.2 L344 1058 L345.2 1057.7 L347 1056.9 L348.8 1055.9 L350 1055.1 L350.6 1054.7 L351.5 1054 L352.4 1053.5 L353 1053.2 L354 1053 L354.2 1053 L356 1053.7 L357.8 1055 L359 1055.8 L359.6 1056.2 L360.5 1056.7 L361.4 1057.1 L362 1057.4 L363.2 1057.8 L365 1058.3 L366.8 1058.6 L368 1058.8 L368.6 1058.9 L369.5 1059 L370.4 1059 L371 1059.1 L372.2 1059.2 L374 1059.3 L375.8 1059.4 L377 1059.4 L377.6 1059.4 L378.5 1059.5 L379.4 1059.5 L380 1059.5 L381.2 1059.5 L383 1059.6 L384.8 1059.6 L386 1059.6 L386.6 1059.6 L387.5 1059.6 L388.4 1059.6 L389 1059.6 L390.2 1059.7 L392 1059.7 L393.8 1059.7 L395 1059.7 L395.6 1059.7 L396.5 1059.7 L397.4 1059.7 L398 1059.7 L399.2 1059.7 L401 1059.7 L402.8 1059.7 L404 1059.7 L404.6 1059.7 L405.5 1059.7 L406.4 1059.7 L407 1059.7 L408.2 1059.7 L410 1059.8 L411.8 1059.8 L413 1059.8 L413.6 1059.8 L414.5 1059.8 L415.4 1059.8 L416 1059.8 L417.2 1059.8 L419 1059.8 L420.8 1059.8 L422 1059.8 L422.6 1059.8 L423.5 1059.8 L424.4 1059.8 L425 1059.8 L426.2 1059.8 L428 1059.8 L429.8 1059.8 L431 1059.8 L431.6 1059.7 L432.5 1059.7 L433.4 1059.7 L434 1059.7 L435.2 1059.7 L437 1059.7 L438.8 1059.7 L440 1059.7 L440.6 1059.7 L441.5 1059.7 L442.4 1059.7 L443 1059.7 L444.2 1059.7 L446 1059.7 L447.8 1059.7 L449 1059.7 L449.6 1059.7 L450.5 1059.7 L451.4 1059.6 L452 1059.6 L453.2 1059.6 L455 1059.6 L456.8 1059.6 L458 1059.5 L458.6 1059.5 L459.5 1059.5 L460.4 1059.5 L461 1059.4 L462.2 1059.4 L464 1059.3 L465.8 1059.2 L467 1059 L467.6 1059 L468.5 1058.9 L469.4 1058.7 L470 1058.6 L471.2 1058.4 L473 1057.9 L474.8 1057.3 L476 1056.8 L476.6 1056.5 L477.5 1056.2 L478.4 1056 L479 1056 L480.2 1056.1 L482 1056.8 L483.8 1057.5 L485 1057.9 L485.6 1058.1 L486.5 1058.3 L487.4 1058.5 L488 1058.6 L489.2 1058.8 L491 1059 L492.8 1059.2 L494 1059.3 L494.6 1059.3 L495.5 1059.3 L496.4 1059.4 L497 1059.4 L498.2 1059.4 L500 1059.5 L501.8 1059.5 L503 1059.5 L503.6 1059.6 L504.5 1059.6 L505.4 1059.6 L506 1059.6 L507.2 1059.6 L509 1059.6 L510.8 1059.6 L512 1059.6 L512.6 1059.6 L513.5 1059.6 L514.4 1059.6 L515 1059.6 L516.2 1059.7 L518 1059.7 L519.8 1059.7 L521 1059.7 L521.6 1059.7 L522.5 1059.7 L523.4 1059.7 L524 1059.7 L525.2 1059.7 L527 1059.7 L528.8 1059.7 L530 1059.7 L530.6 1059.7 L531.5 1059.7 L532.4 1059.7 L533 1059.7 L534.2 1059.7 L536 1059.7 L537.8 1059.6 L539 1059.6 L539.6 1059.6 L540.5 1059.6 L541.4 1059.6 L542 1059.6 L543.2 1059.6 L545 1059.6 L546.8 1059.6 L548 1059.6 L548.6 1059.6 L549.5 1059.6 L550.4 1059.6 L551 1059.6 L552.2 1059.6 L554 1059.6 L555.8 1059.6 L557 1059.6 L557.6 1059.6 L558.5 1059.6 L559.4 1059.5 L560 1059.5 L561.2 1059.5 L563 1059.5 L564.8 1059.5 L566 1059.5 L566.6 1059.5 L567.5 1059.5 L568.4 1059.5 L569 1059.5 L570.2 1059.4 L572 1059.4 L573.8 1059.4 L575 1059.4 L575.6 1059.4 L576.5 1059.3 L577.4 1059.3 L578 1059.3 L579.2 1059.3 L581 1059.2 L582.8 1059.2 L584 1059.1 L584.6 1059.1 L585.5 1059.1 L586.4 1059.1 L587 1059 L588.2 1059 L590 1058.9 L591.8 1058.8 L593 1058.7 L593.6 1058.6 L594.5 1058.5 L595.4 1058.5 L596 1058.4 L597.2 1058.2 L599 1058 L600.8 1057.6 L602 1057.3 L602.6 1057.2 L603.5 1056.9 L604.4 1056.5 L605 1056.3 L606.2 1055.7 L608 1054.5 L609.8 1052.8 L611 1051.3 L611.6 1050.4 L612.5 1049 L613.4 1047.4 L614 1046.3 L615.2 1044.4 L617 1043 L618.8 1044.4 L620 1046.3 L620.6 1047.4 L621.5 1048.9 L622.4 1050.4 L623 1051.2 L624.2 1052.7 L626 1054.4 L627.8 1055.6 L629 1056.1 L629.6 1056.4 L630.5 1056.7 L631.4 1057 L632 1057.2 L633.2 1057.4 L635 1057.8 L636.8 1058 L638 1058.1 L638.6 1058.2 L639.5 1058.3 L640.4 1058.3 L641 1058.4 L642.2 1058.4 L644 1058.5 L645.8 1058.6 L647 1058.6 L647.6 1058.7 L648.5 1058.7 L649.4 1058.7 L650 1058.7 L651.2 1058.7 L653 1058.7 L654.8 1058.8 L656 1058.8 L656.6 1058.8 L657.5 1058.8 L658.4 1058.8 L659 1058.8 L660.2 1058.7 L662 1058.7 L663.8 1058.7 L665 1058.7 L665.6 1058.7 L666.5 1058.7 L667.4 1058.7 L668 1058.6 L669.2 1058.6 L671 1058.6 L672.8 1058.5 L674 1058.5 L674.6 1058.5 L675.5 1058.5 L676.4 1058.4 L677 1058.4 L678.2 1058.4 L680 1058.3 L681.8 1058.2 L683 1058.1 L683.6 1058.1 L684.5 1058.1 L685.4 1058 L686 1058 L687.2 1057.9 L689 1057.8 L690.8 1057.6 L692 1057.5 L692.6 1057.5 L693.5 1057.4 L694.4 1057.3 L695 1057.2 L696.2 1057.1 L698 1056.9 L699.8 1056.6 L701 1056.4 L701.6 1056.3 L702.5 1056.2 L703.4 1056 L704 1055.9 L705.2 1055.6 L707 1055.2 L708.8 1054.6 L710 1054.2 L710.6 1054 L711.5 1053.6 L712.4 1053.2 L713 1052.9 L714.2 1052.3 L716 1051.2 L717.8 1049.7 L719 1048.6 L719.6 1047.9 L720.5 1046.9 L721.4 1045.6 L722 1044.7 L723.2 1042.6 L725 1038.5 L726.8 1032.8 L728 1027.6 L728.6 1024.6 L729.5 1019.2 L730.4 1012.5 L731 1007.3 L732.2 994.3 L734 966.6 L735.8 927.8 L737 898.4 L737.6 887.3 L739 873.8 L739.4 875 L740 881 L741.2 903.8 L743 945.9 L744.8 979.8 L746 996 L746.6 1002.6 L747.5 1010.9 L748.4 1017.5 L749 1021.2 L750.2 1027.3 L752 1033.9 L753.8 1038.3 L755 1040.3 L755.6 1041.1 L756.5 1042 L757.4 1042.6 L758 1042.8 L759.2 1043 L761 1042.4 L762.8 1041.8 L763.6 1042 L764.6 1042.8 L765.5 1044 L766.4 1045.3 L767 1046.2 L768.2 1047.8 L770 1049.5 L771.8 1050.6 L773 1051 L773.6 1051.1 L774.5 1051.1 L775.4 1051 L776 1050.9 L777.2 1050.4 L779 1049.1 L780.8 1046.8 L782 1044.7 L782.6 1043.7 L783.5 1042.2 L784.4 1041.2 L785 1041 L786.2 1041.7 L788 1044.4 L789.8 1046.9 L791 1048 L791.6 1048.3 L792.5 1048.4 L793.4 1048.5 L794 1048.3 L795.2 1047.4 L797 1044.9 L798.8 1040.8 L800 1037.2 L800.6 1035.7 L801.5 1034.1 L802.4 1033.3 L803 1033.8 L804.2 1036.3 L806 1041.9 L807.8 1046.7 L809 1049.1 L809.6 1050.1 L810.5 1051.3 L811.4 1052.4 L812 1052.9 L813.2 1053.8 L815 1054.9 L816.8 1055.6 L818 1055.9 L818.6 1056.1 L819.5 1056.2 L820.4 1056.4 L821 1056.5 L822.2 1056.6 L824 1056.7 L825.8 1056.8 L827 1056.7 L827.6 1056.6 L828.5 1056.5 L829.4 1056.4 L830 1056.2 L831.2 1055.8 L833 1054.9 L834.8 1053.6 L836 1052.6 L836.6 1052.2 L838 1051.8 L838.4 1051.9 L839 1052.1 L840.2 1053 L842 1054.5 L843.8 1055.8 L845 1056.4 L845.6 1056.7 L846.5 1057 L847.4 1057.3 L848 1057.4 L849.2 1057.7 L851 1057.9 L852.8 1058.1 L854 1058.2 L854.6 1058.3 L855.5 1058.4 L856.4 1058.4 L857 1058.4 L858.2 1058.5 L860 1058.6 L861.8 1058.6 L863 1058.7 L863.6 1058.7 L864.5 1058.7 L865.4 1058.7 L866 1058.7 L867.2 1058.7 L869 1058.8 L870.8 1058.8 L872 1058.8 L872.6 1058.8 L873.5 1058.8 L874.4 1058.8 L875 1058.8 L876.2 1058.8 L878 1058.4 L880 1057.5 L881 1057 L882.5 1056 L884 1054.9 L885.5 1053.7 L887 1052.5 L888.5 1051.6 L890 1051 L891.1 1050.9 L893 1051.2 L894.5 1051.9 L896 1052.7 L897.5 1053.6 L899 1054.4 L900.5 1055 L902.2 1055.3 L903.5 1055.1 L905 1054.6 L906.5 1053.8 L908 1053 L909.5 1052.1 L911 1051.4 L912.5 1051 L913.3 1050.9 L914 1050.9 L915.5 1050.9 L917 1050.9 L918.5 1050.9 L920 1050.9 L921.5 1050.9 L923 1050.9 L924.5 1050.9 L926 1050.9 L926.6 1050.9 L927.5 1050.6 L929 1049.1 L930.5 1046.7 L932 1044.2 L933.5 1042.1 L935.4 1040.9 L936.5 1040.9 L938 1041.1 L939.5 1041.4 L941 1041.7 L942.5 1041.9 L944.3 1042 L945.5 1040.5 L947 1035.1 L948.5 1027.6 L950 1019.7 L950.9 1015.4 L951.5 1012.5 L953 1003.4 L954.5 994.5 L956.5 988.8 L957.5 989.7 L959 993.5 L960.5 999.2 L962 1005.1 L963.1 1008.8 L965 1015.3 L966.5 1020.5 L968 1023.9 L968.7 1024.3 L969.5 1023.6 L971 1019.1 L972.5 1012.3 L974.2 1004.3 L975.5 996.9 L977 987.3 L978.6 982.2 L980 986.7 L981.5 997.6 L983.1 1008.8 L984.5 1017 L986 1026 L987.5 1032.9 L988.6 1035.4 L990.5 1037 L992 1038.1 L993.5 1038.9 L995 1039.4 L996.5 1039.7 L997.5 1039.8 L999.5 1039.6 L1001 1039.1 L1002.5 1038.5 L1004.1 1037.6 L1005.5 1035.1 L1007 1029.9 L1008.5 1023.5 L1010 1017.6 L1011.5 1013.8 L1012.3 1013.2 L1013 1014 L1014.5 1019.7 L1016 1027.5 L1017.4 1033.2 L1019 1037.5 L1020.5 1041.2 L1022 1044.2 L1024.1 1046.5 L1025 1046.8 L1026.5 1047.3 L1028 1047.8 L1029.5 1048.1 L1031 1048.4 L1032.5 1048.6 L1034 1048.7 L1035.2 1048.7 L1037 1048.5 L1038.5 1048.2 L1040 1047.7 L1041.5 1047 L1043 1046.3 L1044.5 1045.5 L1046 1044.6 L1047.5 1043.7 L1048.5 1043.1 L1050.5 1041.4 L1052 1039.7 L1053.5 1037.9 L1055 1036.4 L1056.5 1035.5 L1057.3 1035.4 L1058 1035.5 L1059.5 1036 L1061 1036.7 L1062.5 1037.3 L1064 1037.6 L1065.5 1035.6 L1067 1030.9 L1068.5 1025.8 L1070.6 1022.1 L1071.5 1022.6 L1073 1025.1 L1074.5 1028.7 L1076 1032.6 L1077.3 1035.4 L1079 1038.6 L1080.5 1041.6 L1082 1044.4 L1083.5 1046.7 L1085 1048.3 L1086.2 1048.7 L1088 1047.7 L1089.5 1045.5 L1091 1042.5 L1092.5 1039.1 L1094 1035.5 L1095 1033.2 L1097 1026.8 L1098.5 1021.1 L1100 1016.7 L1101.2 1015.4 L1103 1017.7 L1104.5 1022.3 L1106 1027.8 L1107.5 1033.1 L1108.3 1035.4 L1109 1037.3 L1110.5 1041.7 L1112 1045.9 L1113.5 1049.3 L1115 1050.9 L1116.5 1051.4 L1118 1051.8 L1119.5 1052.2 L1121 1052.5 L1122.5 1052.7 L1124 1052.9 L1125.5 1053 L1127 1053.1 L1128.3 1053.1 L1130 1052.7 L1131.5 1051.8 L1133 1050.4 L1134.5 1048.7 L1136 1046.8 L1137.5 1044.7 L1139.4 1042 L1140.5 1040.2 L1142 1037.1 L1143.5 1033.5 L1145 1029.6 L1146.5 1025.9 L1148.2 1022.1 L1149.5 1019.2 L1151 1015.6 L1152.5 1012.4 L1154 1010.3 L1154.9 1009.9 L1157 1012.3 L1158.5 1015.6 L1160 1018.6 L1161.5 1019.9 L1163 1018.6 L1164.5 1015.7 L1166 1012.4 L1167.5 1010.2 L1168.2 1009.9 L1169 1010.1 L1170.5 1011.7 L1172 1014.3 L1173.5 1017.2 L1175 1019.9 L1177 1022.1 L1178 1022.6 L1179.5 1023.3 L1181 1023.9 L1182.5 1024.2 L1183.7 1024.3 L1185.5 1022 L1187 1017.4 L1188.5 1011.6 L1190.4 1004.3 L1191.5 999.7 L1193 991.9 L1194.5 984.2 L1196 978.9 L1197 977.7 L1199 981.5 L1200.5 988 L1202 995.8 L1203.7 1004.3 L1205 1011.1 L1206.5 1020.4 L1208 1029.3 L1209.5 1035.8 L1210.3 1037.6 L1211 1038.5 L1212.5 1040.3 L1214 1041.8 L1215.5 1042.9 L1217 1043.7 L1218.5 1044.2 L1219.2 1044.2 L1220 1044.1 L1221.5 1043.3 L1223 1042.1 L1224.5 1040.9 L1226 1040 L1228 1039.3 L1229 1037.4 L1229.8 1035 L1230.5 1032.8 L1231.6 1028.6 L1233.4 1019.1 L1235.2 1004.7 L1237 982.8 L1238 966.4 L1238.8 952.5 L1239.5 939.7 L1240.6 922.9 L1241.8 915.2 L1242.4 917.2 L1244.2 941.4 L1246 973.1 L1247 987.8 L1247.8 997.7 L1248.5 1004.9 L1249.6 1014.2 L1251.4 1024.9 L1253.2 1031.9 L1255 1036.6 L1256 1038.5 L1256.8 1039.7 L1257.5 1040.7 L1258.6 1041.9 L1260.4 1043.3 L1262.2 1044.1 L1264 1044.5 L1265 1044.5 L1265.8 1044.4 L1266.5 1044.3 L1267.6 1044 L1269.4 1043.1 L1271.2 1041.7 L1273 1039.7 L1274 1038.2 L1274.8 1036.8 L1275.5 1035.4 L1276.6 1032.8 L1278.4 1027 L1280.2 1018.7 L1282 1006.3 L1283 996.8 L1283.8 987.4 L1284.5 977.6 L1285.6 958.8 L1287.4 918.9 L1289.2 878.5 L1290.5 866.5 L1291 868.3 L1292 882.3 L1292.8 898.9 L1293.5 914.8 L1294.6 941.1 L1296.4 974.4 L1298.2 996.6 L1300 1010.9 L1301 1016.5 L1301.8 1020.1 L1302.5 1022.7 L1303.6 1026 L1305.4 1029.6 L1307.2 1031.7 L1309 1032.5 L1310 1032.4 L1310.8 1032.3 L1311.5 1031.9 L1312.6 1030.8 L1314.4 1028.2 L1316.2 1023.9 L1318 1017.5 L1319 1012.6 L1319.8 1007.9 L1320.5 1003 L1321.6 993.5 L1323.4 971.5 L1325.2 937.7 L1327 887.4 L1328 851.7 L1328.8 824.7 L1329.5 804 L1330.6 782 L1331 780.3 L1332.4 800.6 L1334.2 861 L1336 919 L1337 943.9 L1337.8 960.4 L1338.5 972.3 L1339.6 987.7 L1341.4 1005.8 L1343.2 1018 L1345 1026.6 L1346 1030.3 L1346.8 1032.8 L1347.5 1034.8 L1348.6 1037.5 L1350.4 1041 L1352.2 1043.7 L1354 1045.9 L1355 1046.9 L1355.8 1047.6 L1356.5 1048.2 L1357.6 1049.1 L1359.4 1050.3 L1361.2 1051.3 L1363 1052.1 L1364 1052.5 L1364.8 1052.8 L1365.5 1053.1 L1366.6 1053.4 L1368.4 1054 L1370.2 1054.4 L1372 1054.9 L1373 1055.1 L1373.8 1055.2 L1374.5 1055.4 L1375.6 1055.6 L1377.4 1055.8 L1379.2 1056.1 L1381 1056.3 L1382 1056.5 L1382.8 1056.6 L1383.5 1056.6 L1384.6 1056.8 L1386.4 1056.9 L1388.2 1057.1 L1390 1057.2 L1391 1057.3 L1391.8 1057.4 L1392.5 1057.4 L1393.6 1057.5 L1395.4 1057.6 L1397.2 1057.7 L1399 1057.8 L1400 1057.9 L1400.8 1057.9 L1401.5 1058 L1402.6 1058 L1404.4 1058.1 L1406.2 1058.2 L1408 1058.2 L1409 1058.3 L1409.8 1058.3 L1410.5 1058.3 L1411.6 1058.4 L1413.4 1058.4 L1415.2 1058.5 L1417 1058.5 L1418 1058.6 L1418.8 1058.6 L1419.5 1058.6 L1420.6 1058.6 L1422.4 1058.7 L1424.2 1058.7 L1426 1058.8 L1427 1058.8 L1427.8 1058.8 L1428.5 1058.8 L1429.6 1058.8 L1431.4 1058.9 L1433.2 1058.9 L1435 1058.9 L1436 1058.9 L1436.8 1059 L1437.5 1059 L1438.6 1059 L1440.4 1059 L1442.2 1059 L1444 1059.1 L1445 1059.1 L1445.8 1059.1 L1446.5 1059.1 L1447.6 1059.1 L1449.4 1059.1 L1451.2 1059.2 L1453 1059.2 L1454 1059.2 L1454.8 1059.2 L1455.5 1059.2 L1456.6 1059.2 L1458.4 1059.2 L1460.2 1059.3 L1462 1059.3 L1463 1059.3 L1463.8 1059.3 L1464.5 1059.3 L1465.6 1059.3 L1467.4 1059.3 L1469.2 1059.3 L1471 1059.3 L1472 1059.4 L1472.8 1059.4 L1473.5 1059.4 L1474.6 1059.4 L1476.4 1059.4 L1478.2 1059.4 L1480 1059.4 L1481 1059.4 L1481.8 1059.4 L1482.5 1059.4 L1483.6 1059.4 L1485.4 1059.4 L1487.2 1059.5 L1489 1059.5 L1490 1059.5 L1490.8 1059.5 L1491.5 1059.5 L1492.6 1059.5 L1494.4 1059.5 L1496.2 1059.5 L1498 1059.5 L1499 1059.5 L1499.8 1059.5 L1500.5 1059.5 L1501.6 1059.5 L1503.4 1059.5 L1505.2 1059.5 L1507 1059.5 L1508 1059.6 L1508.8 1059.6 L1509.5 1059.6 L1510.6 1059.6 L1512.4 1059.6 L1514.2 1059.6 L1516 1059.6 L1517 1059.6 L1517.8 1059.6 L1518.5 1059.6 L1519.6 1059.6 L1521.4 1059.6 L1523.2 1059.6 L1525 1059.6 L1526 1059.6 L1526.8 1059.6 L1527.5 1059.6 L1528.6 1059.6 L1530.4 1059.6 L1532.2 1059.6 L1534 1059.6 L1535 1059.6 L1535.8 1059.6 L1536.5 1059.7 L1537.6 1059.7 L1539.4 1059.7 L1541.2 1059.7 L1543 1059.7 L1544 1059.7 L1544.8 1059.7 L1545.5 1059.7 L1546.6 1059.7 L1548.4 1059.7 L1550.2 1059.7 L1552 1059.7 L1553 1059.7 L1553.8 1059.7 L1554.5 1059.7 L1555.6 1059.7 L1557.4 1059.7 L1559.2 1059.7 L1560 1060" class="b"/>
<path d="M1596 1061 L1597.5 1061 L1599 1061 L1600.5 1061 L1602 1061 L1603.5 1060.9 L1605 1060.9 L1606.5 1060.9 L1608 1060.8 L1609.5 1060.8 L1611 1060.7 L1612.5 1060.7 L1614 1060.6 L1615.5 1060.5 L1617 1060.5 L1618.5 1060.4 L1620 1060.3 L1621.5 1060.2 L1623 1060.1 L1624.5 1060.1 L1626 1060 L1627.5 1059.9 L1629 1059.8 L1630.5 1059.7 L1632 1059.6 L1633.5 1059.5 L1635 1059.4 L1636.5 1059.3 L1638 1059.1 L1640 1059 L1641 1058.9 L1642.5 1058.8 L1644 1058.6 L1645.5 1058.4 L1647 1058.3 L1648.5 1058 L1650 1057.8 L1651.5 1057.6 L1653 1057.3 L1654.5 1057.1 L1656 1056.8 L1657.5 1056.5 L1659 1056.2 L1660 1056 L1662 1055.6 L1663.5 1055.3 L1665 1055 L1666.5 1054.7 L1668 1054.4 L1669.5 1054 L1671 1053.6 L1672.5 1053.2 L1674 1052.8 L1675.5 1052.3 L1677 1051.8 L1678.5 1051.2 L1680 1050.6 L1681.5 1049.9 L1683 1049.1 L1684 1048.6 L1686 1046.8 L1687.5 1044.6 L1689 1042 L1690.5 1039.2 L1692 1036.2 L1693.5 1033.4 L1695 1030.9 L1697 1028.3 L1698 1027.4 L1699.5 1026.3 L1701 1025.2 L1702.5 1024.2 L1704.3 1022.8 L1705.5 1021.7 L1707 1020.2 L1708.5 1018.6 L1710 1016.8 L1711.5 1015 L1713 1013.1 L1714.5 1011.1 L1715.4 1009.8 L1717.5 1006.9 L1719 1004.6 L1720.5 1002.1 L1722 998.9 L1722.8 996.9 L1723.5 994.6 L1725 987.5 L1726.5 978.4 L1728 968.7 L1729.5 959.8 L1730.2 956.3 L1731 952.7 L1732.5 946.6 L1734 940.9 L1735.5 935.2 L1737.6 926.7 L1738.5 923 L1740 917.1 L1741.5 910.3 L1743.1 900.8 L1744.5 884.9 L1746 863.3 L1746.8 854.7 L1747.5 849.4 L1749 840.3 L1750.5 832.5 L1752 823.8 L1753.5 816.9 L1754.2 815.9 L1755 817.4 L1756.5 825.9 L1757.9 836.2 L1759.5 847.6 L1761.6 871.3 L1762.5 902.1 L1763.5 937.8 L1765.5 962.3 L1767.1 974.7 L1768.5 984.8 L1770 994.5 L1771.5 1002.1 L1772.7 1006.1 L1774.5 1009.8 L1776 1012.1 L1777.5 1014 L1779 1015.8 L1780.1 1017.2 L1782 1019.8 L1783.5 1021.8 L1785 1023.7 L1786.5 1025.5 L1788 1027.1 L1789.3 1028.3 L1791 1029.6 L1792.5 1030.7 L1794 1031.6 L1795.5 1032.5 L1797 1033.3 L1798.5 1034.3 L1800.4 1035.7 L1801.5 1036.8 L1803 1038.6 L1804.5 1040.6 L1806 1042.5 L1807.5 1044.1 L1809.6 1045 L1810.5 1045 L1812 1044.9 L1813.5 1044.6 L1815 1044.3 L1816.5 1043.9 L1818 1043.4 L1818.9 1043.1 L1821 1041 L1822.5 1038.2 L1824 1034.7 L1825.5 1030.9 L1827 1027.1 L1828.1 1024.6 L1830 1019.6 L1831.5 1014.9 L1833 1010.3 L1834.5 1006.3 L1836 1003.5 L1837.4 1002.5 L1839 1004.1 L1840.5 1007.7 L1842 1012.5 L1843.5 1017.5 L1844.7 1020.9 L1846.5 1025.9 L1848 1030.3 L1849.5 1034.4 L1851 1037.7 L1852.1 1039.4 L1854 1041.5 L1855.5 1043 L1857 1044.1 L1858.5 1044.8 L1859.5 1044.9 L1861.5 1044.3 L1863 1043.2 L1864.5 1041.7 L1866 1040.2 L1867.5 1038.7 L1868.8 1037.6 L1870.5 1036.2 L1872 1034.9 L1873.5 1033.6 L1875 1032.6 L1877.1 1032 L1878 1032.4 L1879.5 1034.7 L1881 1038 L1882.5 1041.3 L1883.5 1043.1 L1885.5 1046.3 L1887 1048.7 L1888.5 1050.7 L1890 1052 L1890.9 1052.3 L1893 1052.5 L1894.5 1052.6 L1896 1052.7 L1897.5 1052.8 L1899 1052.9 L1900.5 1053 L1902 1053.1 L1903.5 1053.1 L1905 1053.2 L1906.5 1053.2 L1908 1053.2 L1909.5 1053.3 L1911 1053.3 L1912.5 1053.3 L1914 1053.3 L1914.9 1053.3 L1917 1052.9 L1918.5 1052.1 L1920 1051 L1921.5 1049.6 L1923 1048.1 L1924.5 1046.6 L1926 1045 L1927.5 1042.8 L1929 1039.9 L1930.5 1036.7 L1932 1034 L1933.5 1032.3 L1934.3 1032 L1935 1032.2 L1936.5 1034.1 L1938 1037.2 L1939.5 1040.8 L1941 1044.2 L1942.7 1046.8 L1944 1048 L1945.5 1049.3 L1947 1050.5 L1948.5 1051.6 L1950 1052.5 L1951.5 1053.4 L1953 1054.1 L1954.5 1054.7 L1955.6 1055.1 L1957.5 1055.7 L1959 1056.1 L1960.5 1056.6 L1962 1057 L1963.5 1057.4 L1965 1057.7 L1966.5 1058 L1968 1058.3 L1969.5 1058.5 L1971 1058.7 L1972.5 1058.9 L1974 1059 L1975 1059 L1977 1059 L1978.5 1059.1 L1980 1059.1 L1981.5 1059.1 L1983 1059.2 L1984.5 1059.2 L1986 1059.2 L1987.5 1059.3 L1989 1059.3 L1990.5 1059.3 L1992 1059.4 L1993.5 1059.4 L1995 1059.4 L1996.5 1059.5 L1998 1059.5 L1999.5 1059.5 L2001 1059.5 L2002.5 1059.6 L2004 1059.6 L2005.5 1059.6 L2007 1059.7 L2008.5 1059.7 L2010 1059.7 L2011.5 1059.7 L2013 1059.8 L2014.5 1059.8 L2016 1059.8 L2017.5 1059.8 L2019 1059.9 L2020.5 1059.9 L2022 1059.9 L2023.5 1059.9 L2025 1060 L2026.5 1060 L2028 1060 L2029.5 1060 L2031 1060 L2032.5 1060.1 L2034 1060.1 L2035.5 1060.1 L2037 1060.1 L2038.5 1060.2 L2040 1060.2 L2041.5 1060.2 L2043 1060.2 L2044.5 1060.2 L2046 1060.3 L2047.5 1060.3 L2049 1060.3 L2050.5 1060.3 L2052 1060.3 L2053.5 1060.3 L2055 1060.4 L2056.5 1060.4 L2058 1060.4 L2059.5 1060.4 L2061 1060.4 L2062.5 1060.4 L2064 1060.5 L2065.5 1060.5 L2067 1060.5 L2068.5 1060.5 L2070 1060.5 L2071.5 1060.5 L2073 1060.5 L2074.5 1060.6 L2076 1060.6 L2077.5 1060.6 L2079 1060.6 L2080.5 1060.6 L2082 1060.6 L2083.5 1060.6 L2085 1060.6 L2086.5 1060.7 L2088 1060.7 L2089.5 1060.7 L2091 1060.7 L2092.5 1060.7 L2094 1060.7 L2095.5 1060.7 L2097 1060.7 L2098.5 1060.7 L2100 1060.7 L2101.5 1060.8 L2103 1060.8 L2104.5 1060.8 L2106 1060.8 L2107.5 1060.8 L2109 1060.8 L2110.5 1060.8 L2112 1060.8 L2113.5 1060.8 L2115 1060.8 L2116.5 1060.8 L2118 1060.8 L2119.5 1060.9 L2121 1060.9 L2122.5 1060.9 L2124 1060.9 L2125.5 1060.9 L2127 1060.9 L2128.5 1060.9 L2130 1060.9 L2131.5 1060.9 L2133 1060.9 L2134.5 1060.9 L2136 1060.9 L2137.5 1060.9 L2139 1060.9 L2140.5 1060.9 L2142 1060.9 L2143.5 1060.9 L2145 1060.9 L2146.5 1060.9 L2148 1060.9 L2149.5 1061 L2151 1061 L2152.5 1061 L2154 1061 L2155.5 1061 L2157 1061 L2158.5 1061 L2160 1061 L2161.5 1061 L2163 1061 L2164.5 1061 L2166 1061 L2167.5 1061 L2169 1061 L2170.5 1061 L2172 1061 L2173.5 1061 L2175 1061 L2176.5 1061 L2178 1061 L2179.5 1061 L2181 1061 L2182.5 1061 L2184 1061 L2185.5 1061 L2187 1061 L2188.5 1061 L2190 1061 L2191.5 1061 L2193 1061 L2195 1061" class="b"/>
<path d="M136.4 1073.2 V743.1 H2197.5 V1073.2" class="fr"/>
<path d="M134.4 1073.2 H1563 M1602 1073.2 H2199.5" class="fr" style="stroke-width:4.6"/>
<path d="M1545 1085.7 L1579.5 1060.5 M1581 1085.7 L1615.5 1060.2" class="brk"/>
<path d="M138.1 1073.2 v8 M247.5 1073.2 v14 M356.9 1073.2 v8 M466.4 1073.2 v14 M575.9 1073.2 v8 M685.3 1073.2 v14 M794.8 1073.2 v8 M904.2 1073.2 v14 M1013.6 1073.2 v8 M1123.1 1073.2 v14 M1232.6 1073.2 v8 M1342 1073.2 v14 M1451.5 1073.2 v8 M1672.2 1073.2 v8 M1822.4 1073.2 v14 M1972.6 1073.2 v8 M2122.8 1073.2 v14" class="tk"/>
<text class="lr" transform="translate(192 985) rotate(-90)" textLength="89.8" lengthAdjust="spacingAndGlyphs">58:539</text>
<text class="lb" transform="translate(752.5 864.3) rotate(-90)" textLength="106.1" lengthAdjust="spacingAndGlyphs">95:1050</text>
<text class="lr" transform="translate(849.3 998) rotate(-90)" textLength="122.5" lengthAdjust="spacingAndGlyphs">105:1140</text>
<text class="lb" transform="translate(1183.8 1004.4) rotate(-90)" textLength="122.5" lengthAdjust="spacingAndGlyphs">155:1467</text>
<text class="lr" transform="translate(1202.7 875) rotate(-90)" textLength="122.5" lengthAdjust="spacingAndGlyphs">159:1507</text>
<text class="lb" transform="translate(1229 985) rotate(-90)" textLength="122.5" lengthAdjust="spacingAndGlyphs">160:1508</text>
<text class="lr" transform="translate(1276 929) rotate(-90)" textLength="122.5" lengthAdjust="spacingAndGlyphs">161:1547</text>
<text class="lb" transform="translate(1321 895.3) rotate(-90)" textLength="122.5" lengthAdjust="spacingAndGlyphs">162:1553</text>
<text class="lb" transform="translate(1373.8 881.6) rotate(-90)" textLength="122.5" lengthAdjust="spacingAndGlyphs">163:1590</text>
<text class="lr" transform="translate(1719 887.1) rotate(-90)" textLength="122.5" lengthAdjust="spacingAndGlyphs">172:2943</text>
<text class="lb" transform="translate(1791.5 872.6) rotate(-90)" textLength="122.5" lengthAdjust="spacingAndGlyphs">177:2954</text>
<text class="lr" transform="translate(1872.5 879.9) rotate(-90)" textLength="122.5" lengthAdjust="spacingAndGlyphs">186:3006</text>
<text class="big" x="143" y="864.5" textLength="94.8" lengthAdjust="spacingAndGlyphs">C</text><text class="sub" x="238" y="864.5" textLength="35" lengthAdjust="spacingAndGlyphs">1</text>
<text class="nm" x="1451" y="899.2" textLength="196" lengthAdjust="spacingAndGlyphs">VO(alx)</text><text class="nm3" x="1649" y="899.2">2</text>
<text class="ir" x="1983" y="835.4" textLength="126" lengthAdjust="spacingAndGlyphs">Int<tspan style="font-size:68%" dy="-6">×</tspan><tspan dy="6">4</tspan></text>
<text class="ib" x="1983" y="906.4" textLength="127" lengthAdjust="spacingAndGlyphs">Int/3</text>
</g>
<g>
<line x1="247.5" y1="1104.4" x2="247.5" y2="1424" class="gM"/>
<line x1="356.9" y1="1104.4" x2="356.9" y2="1424" class="gm"/>
<line x1="466.4" y1="1104.4" x2="466.4" y2="1424" class="gM"/>
<line x1="575.9" y1="1104.4" x2="575.9" y2="1424" class="gm"/>
<line x1="685.3" y1="1104.4" x2="685.3" y2="1424" class="gM"/>
<line x1="794.8" y1="1104.4" x2="794.8" y2="1424" class="gm"/>
<line x1="904.2" y1="1104.4" x2="904.2" y2="1424" class="gM"/>
<line x1="1013.6" y1="1104.4" x2="1013.6" y2="1424" class="gm"/>
<line x1="1123.1" y1="1104.4" x2="1123.1" y2="1424" class="gM"/>
<line x1="1232.6" y1="1104.4" x2="1232.6" y2="1424" class="gm"/>
<line x1="1342" y1="1104.4" x2="1342" y2="1424" class="gM"/>
<line x1="1451.5" y1="1104.4" x2="1451.5" y2="1424" class="gm"/>
<line x1="1672.2" y1="1104.4" x2="1672.2" y2="1424" class="gm"/>
<line x1="1822.4" y1="1104.4" x2="1822.4" y2="1424" class="gM"/>
<line x1="1972.6" y1="1104.4" x2="1972.6" y2="1424" class="gm"/>
<line x1="2122.8" y1="1104.4" x2="2122.8" y2="1424" class="gM"/>
<path d="M140 1411.5 L141.8 1412.8 L143.6 1413.8 L144.5 1414 L145.4 1414.2 L147.2 1414.4 L149 1414.3 L150.8 1414.1 L152.6 1413.8 L153.5 1413.6 L154.4 1413.4 L156.2 1412.8 L158 1412 L159.8 1410.9 L161.6 1409.5 L162.5 1408.7 L163.4 1407.7 L165.2 1405.1 L167 1401.4 L168.8 1395.9 L170.6 1387.8 L171.5 1382.1 L172.4 1375.4 L174.2 1358 L176 1339.9 L177.4 1333.5 L177.8 1333.9 L179.6 1345.7 L180.5 1354.2 L181.4 1363 L183.2 1376 L185 1383.3 L186.8 1386.1 L188.6 1386.4 L190 1387.4 L190.4 1388.1 L192.2 1392.8 L194 1398.3 L195.8 1402.5 L197.6 1405.3 L198.5 1406.2 L199.4 1406.9 L201.2 1407.8 L203 1407.9 L204.8 1407.3 L206.6 1405.9 L207.5 1404.8 L208.4 1403.3 L210.2 1398.9 L212 1392.5 L213.8 1385.6 L215.3 1383.1 L215.6 1383.3 L216.5 1385.2 L217.4 1388.2 L219.2 1395.9 L221 1402.1 L222.8 1406.4 L224.6 1409.2 L225.5 1410.3 L226.4 1411.1 L228.2 1412.5 L230 1413.4 L231.8 1414.1 L233.6 1414.6 L234.5 1414.9 L235.4 1415.1 L237.2 1415.4 L239 1415.6 L240.8 1415.9 L242.6 1416 L243.5 1416.1 L244.4 1416.2 L246.2 1416.3 L248 1416.4 L249.8 1416.5 L251.6 1416.5 L252.5 1416.5 L253.4 1416.5 L255.2 1416.6 L257 1416.6 L258.8 1416.5 L260 1416.5 L260.6 1416.5 L261.5 1416.4 L262.4 1416.4 L263 1416.4 L264.2 1416.3 L266 1416.1 L267.8 1415.8 L269 1415.5 L269.6 1415.4 L270.5 1415.1 L271.4 1414.7 L272 1414.5 L273.2 1413.9 L275 1412.7 L276.8 1411.6 L278 1411.1 L278.6 1411 L278.7 1411 L279.5 1411.1 L280.4 1411.5 L281 1411.8 L282.2 1412.7 L284 1413.9 L285.8 1414.8 L287 1415.3 L287.6 1415.5 L288.5 1415.8 L289.4 1416 L290 1416.1 L291.2 1416.3 L293 1416.6 L294.8 1416.8 L296 1416.9 L296.6 1416.9 L297.5 1417 L298.4 1417 L299 1417.1 L300.2 1417.1 L302 1417.2 L303.8 1417.3 L305 1417.3 L305.6 1417.3 L306.5 1417.3 L307.4 1417.4 L308 1417.4 L309.2 1417.4 L311 1417.4 L312.8 1417.5 L314 1417.5 L314.6 1417.5 L315.5 1417.5 L316.4 1417.5 L317 1417.5 L318.2 1417.5 L320 1417.5 L321.8 1417.6 L323 1417.6 L323.6 1417.6 L324.5 1417.6 L325.4 1417.6 L326 1417.6 L327.2 1417.6 L329 1417.6 L330.8 1417.6 L332 1417.6 L332.6 1417.6 L333.5 1417.6 L334.4 1417.6 L335 1417.6 L336.2 1417.6 L338 1417.6 L339.8 1417.7 L341 1417.7 L341.6 1417.7 L342.5 1417.7 L343.4 1417.7 L344 1417.7 L345.2 1417.7 L347 1417.7 L348.8 1417.7 L350 1417.7 L350.6 1417.7 L351.5 1417.7 L352.4 1417.7 L353 1417.7 L354.2 1417.7 L356 1417.7 L357.8 1417.7 L359 1417.7 L359.6 1417.7 L360.5 1417.7 L361.4 1417.7 L362 1417.7 L363.2 1417.7 L365 1417.7 L366.8 1417.7 L368 1417.7 L368.6 1417.7 L369.5 1417.7 L370.4 1417.7 L371 1417.7 L372.2 1417.7 L374 1417.7 L375.8 1417.7 L377 1417.7 L377.6 1417.7 L378.5 1417.7 L379.4 1417.7 L380 1417.7 L381.2 1417.7 L383 1417.7 L384.8 1417.7 L386 1417.7 L386.6 1417.7 L387.5 1417.7 L388.4 1417.7 L389 1417.7 L390.2 1417.7 L392 1417.7 L393.8 1417.7 L395 1417.7 L395.6 1417.7 L396.5 1417.7 L397.4 1417.7 L398 1417.7 L399.2 1417.7 L401 1417.7 L402.8 1417.7 L404 1417.7 L404.6 1417.7 L405.5 1417.7 L406.4 1417.7 L407 1417.7 L408.2 1417.7 L410 1417.7 L411.8 1417.7 L413 1417.7 L413.6 1417.7 L414.5 1417.7 L415.4 1417.7 L416 1417.7 L417.2 1417.7 L419 1417.7 L420.8 1417.7 L422 1417.7 L422.6 1417.7 L423.5 1417.7 L424.4 1417.7 L425 1417.7 L426.2 1417.7 L428 1417.7 L429.8 1417.7 L431 1417.7 L431.6 1417.7 L432.5 1417.7 L433.4 1417.7 L434 1417.7 L435.2 1417.7 L437 1417.7 L438.8 1417.7 L440 1417.7 L440.6 1417.7 L441.5 1417.7 L442.4 1417.7 L443 1417.7 L444.2 1417.7 L446 1417.7 L447.8 1417.7 L449 1417.7 L449.6 1417.7 L450.5 1417.7 L451.4 1417.7 L452 1417.7 L453.2 1417.7 L455 1417.7 L456.8 1417.7 L458 1417.7 L458.6 1417.7 L459.5 1417.7 L460.4 1417.7 L461 1417.7 L462.2 1417.7 L464 1417.7 L465.8 1417.7 L467 1417.7 L467.6 1417.7 L468.5 1417.7 L469.4 1417.7 L470 1417.7 L471.2 1417.7 L473 1417.6 L474.8 1417.6 L476 1417.6 L476.6 1417.6 L477.5 1417.6 L478.4 1417.6 L479 1417.6 L480.2 1417.6 L482 1417.6 L483.8 1417.6 L485 1417.6 L485.6 1417.6 L486.5 1417.6 L487.4 1417.6 L488 1417.6 L489.2 1417.6 L491 1417.6 L492.8 1417.6 L494 1417.6 L494.6 1417.6 L495.5 1417.6 L496.4 1417.6 L497 1417.6 L498.2 1417.6 L500 1417.6 L501.8 1417.5 L503 1417.5 L503.6 1417.5 L504.5 1417.5 L505.4 1417.5 L506 1417.5 L507.2 1417.5 L509 1417.5 L510.8 1417.5 L512 1417.5 L512.6 1417.5 L513.5 1417.5 L514.4 1417.5 L515 1417.5 L516.2 1417.5 L518 1417.4 L519.8 1417.4 L521 1417.4 L521.6 1417.4 L522.5 1417.4 L523.4 1417.4 L524 1417.4 L525.2 1417.4 L527 1417.3 L528.8 1417.3 L530 1417.3 L530.6 1417.3 L531.5 1417.3 L532.4 1417.3 L533 1417.3 L534.2 1417.2 L536 1417.2 L537.8 1417.2 L539 1417.2 L539.6 1417.2 L540.5 1417.1 L541.4 1417.1 L542 1417.1 L543.2 1417.1 L545 1417 L546.8 1417 L548 1416.9 L548.6 1416.9 L549.5 1416.9 L550.4 1416.8 L551 1416.8 L552.2 1416.8 L554 1416.7 L555.8 1416.6 L557 1416.5 L557.6 1416.5 L558.5 1416.4 L559.4 1416.3 L560 1416.3 L561.2 1416.2 L563 1416 L564.8 1415.8 L566 1415.6 L566.6 1415.5 L567.5 1415.4 L568.4 1415.2 L569 1415.1 L570.2 1414.8 L572 1414.3 L573.8 1413.7 L575 1413.1 L575.6 1412.8 L576.5 1412.3 L577.4 1411.8 L578 1411.3 L579.2 1410.4 L581 1408.7 L582.8 1406.8 L584 1405.5 L584.6 1405 L585.5 1404.3 L586.4 1403.9 L587 1403.8 L588.2 1404 L590 1405.1 L591.8 1406.7 L593 1407.8 L593.6 1408.3 L594.5 1409 L595.4 1409.6 L596 1409.9 L597.2 1410.4 L599 1411 L600.8 1411.1 L602 1411.1 L602.6 1411 L603.5 1410.8 L604.4 1410.6 L605 1410.4 L606.2 1409.8 L608 1408.6 L609.8 1407.1 L611 1406 L611.6 1405.5 L612.5 1404.7 L613.4 1404.2 L614 1404 L615 1403.8 L615.2 1403.8 L617 1404.6 L618.8 1406.2 L620 1407.4 L620.6 1408 L621.5 1408.9 L622.4 1409.7 L623 1410.2 L624.2 1411.1 L626 1412.1 L627.8 1412.9 L629 1413.3 L629.6 1413.5 L630.5 1413.8 L631.4 1414 L632 1414.1 L633.2 1414.3 L635 1414.6 L636.8 1414.7 L638 1414.8 L638.6 1414.8 L639.5 1414.9 L640.4 1414.9 L641 1414.9 L642.2 1414.9 L644 1414.9 L645.8 1414.8 L647 1414.7 L647.6 1414.7 L648.5 1414.6 L649.4 1414.5 L650 1414.4 L651.2 1414.2 L653 1413.8 L654.8 1413.2 L656 1412.8 L656.6 1412.5 L657.5 1412 L658.4 1411.4 L659 1411 L660.2 1410 L662 1407.8 L663.8 1404.9 L665 1402.5 L665.6 1401.3 L666.5 1399.5 L667.4 1398 L668 1397.4 L668.8 1397 L669.2 1397.1 L671 1399.2 L672.8 1402.7 L674 1404.9 L674.6 1405.9 L675.5 1407.2 L676.4 1408.3 L677 1408.9 L678.2 1410 L680 1411.1 L681.8 1411.8 L683 1412.1 L683.6 1412.2 L684.5 1412.3 L685.4 1412.4 L686 1412.4 L687.2 1412.4 L689 1412.3 L690.8 1412 L692 1411.6 L692.6 1411.4 L693.5 1411 L694.4 1410.5 L695 1410.2 L696.2 1409.3 L698 1407.5 L699.8 1404.9 L701 1402.7 L701.6 1401.5 L702.5 1399.6 L703.4 1398 L704 1397.1 L705.2 1396 L705.4 1396 L707 1397.1 L708.8 1400.3 L710 1402.5 L710.6 1403.6 L711.5 1404.9 L712.4 1406.1 L713 1406.8 L714.2 1407.8 L716 1409 L717.8 1409.7 L719 1410 L719.6 1410.1 L720.5 1410.2 L721.4 1410.2 L722 1410.2 L723.2 1410.2 L725 1409.9 L726.8 1409.6 L728 1409.3 L728.6 1409.1 L729.5 1408.8 L730.4 1408.4 L731 1408.2 L732.2 1407.6 L734 1406.6 L735.8 1405.3 L737 1404.2 L737.6 1403.6 L738.5 1402.7 L739.4 1401.6 L740 1400.8 L741.2 1399 L743 1395.7 L744.8 1391.3 L746 1387.6 L746.6 1385.5 L747.5 1381.8 L748.4 1377.5 L749 1374.1 L750.2 1366.1 L752 1349.7 L753.8 1325 L755 1301.6 L755.6 1287.4 L756.5 1261.7 L757.4 1231.7 L758 1208.6 L759.2 1161.3 L761 1110.3 L761.5 1107.2 L762.8 1126.8 L764 1168.9 L764.6 1193.1 L765.5 1227.4 L766.4 1258.8 L767 1276.4 L768.2 1305.9 L770 1337.1 L771.8 1357.5 L773 1367.3 L773.6 1371.4 L774.5 1376.6 L775.4 1381 L776 1383.5 L777.2 1387.9 L779 1392.9 L780.8 1396.7 L782 1398.7 L782.6 1399.6 L783.5 1400.7 L784.4 1401.8 L785 1402.4 L786.2 1403.5 L788 1404.8 L789.8 1405.7 L791 1406.2 L791.6 1406.4 L792.5 1406.6 L793.4 1406.8 L794 1406.8 L795.2 1406.9 L797 1406.6 L798.8 1405.8 L800 1404.9 L800.6 1404.3 L801.5 1403.2 L802.4 1401.8 L803 1400.7 L804.2 1397.9 L806 1392.5 L807.8 1388 L808.6 1387.4 L809.6 1388.3 L810.5 1390.4 L811.4 1393.2 L812 1394.9 L813.2 1398.4 L815 1402.1 L816.8 1404.2 L818 1405.1 L818.6 1405.2 L819.5 1405.3 L820.4 1405.4 L821 1405.2 L822.2 1404.6 L824 1402.8 L825.8 1399.7 L827 1396.5 L827.6 1394.5 L828.5 1391.1 L829.4 1387.3 L830 1384.8 L831.2 1380.4 L832.3 1378.8 L833 1379.4 L834.8 1385.2 L836 1390.1 L836.6 1392.3 L837.5 1395.2 L838.4 1397.5 L839 1398.7 L840.2 1400.5 L842 1401.8 L843.8 1401.6 L845 1400.8 L845.6 1400.1 L846.5 1398.7 L847.4 1396.7 L848 1395.1 L849.2 1390.9 L851 1381.9 L852.8 1370.5 L854 1364.7 L855 1362.4 L857 1366.6 L859 1374 L860 1377.4 L861.5 1382.9 L863 1388.1 L864 1391 L866 1395.9 L867.5 1399 L869 1401 L870.5 1402.3 L872 1403.5 L873.5 1404.3 L875.4 1404.7 L876.5 1404.5 L878 1403.9 L879.5 1402.9 L881 1401.8 L882 1401 L884 1399.3 L885.5 1397.9 L887 1396.2 L888.5 1394.5 L890 1392.6 L891.5 1390.6 L893 1388.4 L894.5 1386 L896 1383.4 L897.4 1380.8 L899 1377.5 L900.5 1374.2 L902 1370.5 L903.5 1366.6 L904.8 1363 L906.5 1356.8 L908 1350 L909.5 1343.3 L911 1337.9 L912.9 1335 L914 1335.6 L915.5 1338.2 L917 1342.2 L918.5 1347.2 L919.6 1351.2 L921.5 1363.1 L923 1374.8 L924 1380.8 L926 1389.4 L927.5 1394.6 L929.2 1398.5 L930.5 1400.4 L932 1402.5 L933.5 1404.3 L935 1405.7 L936.5 1406.8 L938 1407.3 L938.8 1407.4 L939.5 1407.4 L941 1407.1 L942.5 1406.7 L944 1406 L945.5 1405.3 L947 1404.4 L948.5 1403.4 L949.1 1403 L950 1402.3 L951.5 1400.8 L953 1398.8 L954.5 1396.5 L956.5 1392.6 L957.5 1389.7 L959 1383.7 L960.9 1376.3 L962 1372.6 L963.5 1367.6 L965.4 1364.5 L966.5 1366.2 L968 1371.9 L969.8 1379.3 L971 1383.3 L972.5 1388.5 L974 1393.2 L975.7 1397 L977 1398.9 L978.5 1400.9 L980 1402.4 L981.6 1403 L983 1402.6 L984.5 1401.5 L986 1400.1 L987.5 1398.6 L989 1397.5 L990.5 1397 L992 1397.6 L993.5 1399.1 L995 1401 L996.5 1403 L997.9 1404.4 L999.5 1405.8 L1001 1407.1 L1002.5 1408.4 L1004 1409.4 L1005.5 1410.1 L1006.7 1410.3 L1008.5 1410.2 L1010 1409.9 L1011.5 1409.5 L1013 1409.1 L1014.1 1408.8 L1016 1408.1 L1017.5 1407.5 L1019 1406.7 L1020.5 1405.8 L1022 1404.8 L1023.5 1403.7 L1025 1402.4 L1026 1401.5 L1028 1398.3 L1029.5 1394.8 L1031 1391 L1032.5 1387.4 L1034 1384.8 L1035.6 1383.7 L1037 1385.2 L1038.5 1388.8 L1040 1392.7 L1040.7 1394.1 L1041.5 1395.5 L1043 1398.3 L1044.5 1401 L1046 1403.1 L1048.1 1404.4 L1049 1404.1 L1050.5 1402.7 L1052 1400.5 L1053.5 1397.8 L1055.5 1394.1 L1056.5 1392.4 L1058 1389.8 L1059.5 1386.8 L1061 1383.3 L1062.9 1377.8 L1064 1373 L1065.5 1363.9 L1067.3 1352.7 L1068.5 1345.2 L1070 1334.8 L1071.5 1326 L1073.2 1321.7 L1074.5 1323.9 L1076 1330.9 L1077.7 1342.4 L1079 1363.7 L1080.6 1388.2 L1082 1392.2 L1083.5 1395.7 L1085 1398.3 L1086.5 1400.1 L1088 1401.2 L1089.5 1401.5 L1091 1400.9 L1092.5 1399.3 L1094 1397 L1095.5 1394.5 L1097 1392.2 L1098.5 1390.4 L1099.8 1389.6 L1101.5 1389.2 L1103 1389 L1104.5 1388.8 L1106 1388.5 L1107.2 1388.2 L1109 1385.6 L1110.5 1381.6 L1112 1377.4 L1113.5 1374.2 L1114.6 1373.4 L1116.5 1375.2 L1118 1377.9 L1119.5 1380.2 L1120.5 1380.8 L1122.5 1380.3 L1124 1379.5 L1125.5 1378.3 L1127 1376.9 L1128 1376 L1130 1372.7 L1131.5 1369 L1133 1365 L1134.5 1361.2 L1136 1358.4 L1137.7 1357.1 L1139 1359.3 L1140.5 1365.4 L1142 1372.5 L1143.6 1377.8 L1145 1380.3 L1146.5 1382.7 L1148 1384.5 L1149.6 1385.2 L1151 1384 L1152.5 1380.7 L1154 1375.9 L1155.5 1370.7 L1156.9 1366 L1158.5 1359.4 L1160 1352.1 L1161.5 1346.1 L1162.9 1343.8 L1164.5 1347.2 L1166 1354.8 L1167.5 1364.4 L1169 1373.7 L1170.5 1380.3 L1171.7 1382.3 L1173.5 1382.2 L1175 1381.9 L1176.5 1381.4 L1178 1380.9 L1179.5 1380.3 L1181 1379.7 L1182.1 1379.3 L1184 1378.3 L1185.5 1377.1 L1187 1375.9 L1188.5 1374.6 L1190 1373.5 L1191.5 1372.5 L1193 1372 L1193.9 1371.9 L1196 1373.2 L1197.5 1375.2 L1199 1377.7 L1200.5 1380.2 L1202 1382.3 L1203.5 1383.5 L1204.2 1383.7 L1205 1383.6 L1206.5 1382.8 L1208 1381.5 L1209.5 1379.6 L1211 1377.2 L1212.5 1374.5 L1214.6 1370.4 L1215.5 1368.2 L1217 1363 L1218.5 1356.4 L1220 1348.6 L1221.5 1340.2 L1223.4 1329.1 L1224.5 1321.5 L1226 1308.7 L1227.5 1295.9 L1229.4 1284.7 L1230.5 1280.9 L1232 1276.7 L1233.8 1274.4 L1235 1277.8 L1236.5 1287.2 L1238.2 1295.1 L1239.5 1297.1 L1241 1298.7 L1242.7 1299.5 L1244 1288.2 L1245.5 1260.9 L1246.3 1247.8 L1247 1238.2 L1248.5 1217.6 L1250 1198.8 L1250.8 1190.1 L1251.5 1182.6 L1253 1166.6 L1254.5 1159.1 L1256 1174.9 L1257.4 1200.5 L1259 1235.2 L1261.1 1267 L1262 1263.4 L1263.5 1246.7 L1265 1228.4 L1266.3 1221.2 L1268 1237.7 L1269.3 1255.2 L1271 1272.1 L1272.5 1286.3 L1274 1296.5 L1275.2 1299.5 L1277 1274.7 L1278.5 1237.8 L1279.6 1218.2 L1281.5 1197.3 L1283 1183.3 L1284.5 1174.3 L1285.5 1172.4 L1287.5 1213.4 L1289.2 1262.6 L1290.5 1285.9 L1292 1309.1 L1292.9 1321.7 L1295 1351 L1296.5 1367.9 L1297.3 1373.4 L1298 1376.8 L1299.5 1383.2 L1301 1388.1 L1302.5 1390.8 L1303.2 1391.1 L1304 1391.1 L1305.5 1390.9 L1307 1390.6 L1308.5 1390.2 L1310.6 1389.6 L1311.5 1389.3 L1313 1388.7 L1314.5 1388 L1316 1387.3 L1317.5 1386.6 L1319 1385.9 L1320.5 1385.5 L1322.5 1385.2 L1323.5 1385.5 L1325 1387 L1326.5 1389.1 L1328 1391.5 L1329.8 1394.1 L1331 1395.6 L1332.5 1397.6 L1334 1399.6 L1335.5 1401.7 L1337 1403.5 L1338.5 1405.2 L1340 1406.5 L1341.7 1407.4 L1343 1407.8 L1344.5 1408.2 L1346 1408.6 L1347.5 1408.9 L1349 1409.1 L1350.5 1409.3 L1352 1409.6 L1353.5 1409.8 L1355 1410 L1356.4 1410.3 L1358 1410.6 L1359.5 1411 L1361 1411.3 L1362.5 1411.6 L1364 1412 L1365.5 1412.4 L1367 1412.7 L1368.5 1413.1 L1370 1413.4 L1371.5 1413.7 L1373 1414 L1374.5 1414.3 L1376 1414.5 L1377.5 1414.7 L1379 1414.9 L1380 1415 L1382 1415.2 L1383.5 1415.3 L1385 1415.4 L1386.5 1415.5 L1388 1415.6 L1389.5 1415.7 L1391 1415.8 L1392.5 1415.9 L1394 1416 L1395.5 1416.1 L1397 1416.2 L1398.5 1416.3 L1400 1416.3 L1401.5 1416.4 L1403 1416.5 L1404.5 1416.6 L1406 1416.6 L1407.5 1416.7 L1409 1416.7 L1410.5 1416.8 L1412 1416.8 L1413.5 1416.9 L1415 1416.9 L1416.5 1416.9 L1418 1417 L1420 1417 L1421 1417 L1422.5 1417 L1424 1417.1 L1425.5 1417.1 L1427 1417.1 L1428.5 1417.1 L1430 1417.1 L1431.5 1417.2 L1433 1417.2 L1434.5 1417.2 L1436 1417.2 L1437.5 1417.2 L1439 1417.3 L1440.5 1417.3 L1442 1417.3 L1443.5 1417.3 L1445 1417.3 L1446.5 1417.3 L1448 1417.4 L1449.5 1417.4 L1451 1417.4 L1452.5 1417.4 L1454 1417.4 L1455.5 1417.4 L1457 1417.5 L1458.5 1417.5 L1460 1417.5 L1461.5 1417.5 L1463 1417.5 L1464.5 1417.5 L1466 1417.6 L1467.5 1417.6 L1469 1417.6 L1470.5 1417.6 L1472 1417.6 L1473.5 1417.6 L1475 1417.6 L1476.5 1417.6 L1478 1417.7 L1479.5 1417.7 L1481 1417.7 L1482.5 1417.7 L1484 1417.7 L1485.5 1417.7 L1487 1417.7 L1488.5 1417.7 L1490 1417.8 L1491.5 1417.8 L1493 1417.8 L1494.5 1417.8 L1496 1417.8 L1497.5 1417.8 L1499 1417.8 L1500.5 1417.8 L1502 1417.8 L1503.5 1417.8 L1505 1417.8 L1506.5 1417.9 L1508 1417.9 L1509.5 1417.9 L1511 1417.9 L1512.5 1417.9 L1514 1417.9 L1515.5 1417.9 L1517 1417.9 L1518.5 1417.9 L1520 1417.9 L1521.5 1417.9 L1523 1417.9 L1524.5 1417.9 L1526 1417.9 L1527.5 1417.9 L1529 1418 L1530.5 1418 L1532 1418 L1533.5 1418 L1535 1418 L1536.5 1418 L1538 1418 L1539.5 1418 L1541 1418 L1542.5 1418 L1544 1418 L1545.5 1418 L1547 1418 L1548.5 1418 L1550 1418 L1551.5 1418 L1553 1418 L1554.5 1418 L1556 1418 L1557.5 1418 L1559 1418 L1560 1418" class="r"/>
<path d="M1596 1419 L1597.5 1419 L1599 1419 L1600.5 1418.9 L1602 1418.9 L1603.5 1418.9 L1605 1418.8 L1606.5 1418.8 L1608 1418.8 L1609.5 1418.7 L1611 1418.6 L1612.5 1418.6 L1614 1418.5 L1615.5 1418.5 L1617 1418.4 L1618.5 1418.3 L1620 1418.2 L1621.5 1418.1 L1623 1418.1 L1624.5 1418 L1626 1417.9 L1627.5 1417.8 L1629 1417.7 L1630.5 1417.6 L1632 1417.5 L1633.5 1417.4 L1635 1417.3 L1636.5 1417.2 L1638 1417.1 L1640 1417 L1641 1416.9 L1642.5 1416.8 L1644 1416.7 L1645.5 1416.6 L1647 1416.5 L1648.5 1416.4 L1650 1416.2 L1651.5 1416.1 L1653 1416 L1654.5 1415.8 L1656 1415.7 L1657.5 1415.5 L1659 1415.4 L1660.5 1415.2 L1662 1415 L1663.5 1414.8 L1665 1414.6 L1666.5 1414.4 L1668 1414.2 L1669.5 1414 L1671 1413.8 L1672.5 1413.5 L1674 1413.3 L1675.5 1413 L1677 1412.8 L1678.5 1412.5 L1680 1412.2 L1681.5 1411.9 L1683 1411.5 L1684.5 1411.1 L1686 1410.6 L1687.5 1410.1 L1689 1409.6 L1690.5 1409 L1692 1408.3 L1693.5 1407.7 L1695 1406.9 L1696.5 1406.2 L1698 1405.4 L1699.5 1404.6 L1701 1403.7 L1702.2 1403 L1704 1401.9 L1705.5 1400.8 L1707 1399.7 L1708.5 1398.4 L1710 1397 L1711.5 1395.5 L1713 1393.8 L1714.5 1391.9 L1716 1389.7 L1717 1388.2 L1719 1384.3 L1720.5 1380.5 L1722 1375.8 L1723.5 1370.4 L1725 1364.1 L1726.2 1358.6 L1728 1347.4 L1729.5 1334.9 L1731 1320 L1731.7 1312.5 L1732.5 1302.3 L1734 1278.6 L1735.4 1257 L1737 1238.2 L1739.1 1210.8 L1740 1189 L1741 1164.7 L1743 1133.4 L1744.3 1124.9 L1746 1142.8 L1746.9 1155.4 L1749 1178.1 L1750.2 1188.7 L1752 1201 L1753.5 1209.9 L1755 1217.7 L1756.5 1224.7 L1757.6 1229.3 L1759.5 1237.4 L1761 1243.8 L1762.5 1249.9 L1764 1255.1 L1765.5 1259 L1767 1261.3 L1767.8 1261.6 L1768.5 1261.2 L1770 1257.8 L1771.5 1252.1 L1773 1245.5 L1774.2 1240.4 L1776 1230.4 L1777.5 1220.7 L1779 1213.8 L1779.8 1212.7 L1780.5 1215.8 L1782 1236 L1783.5 1257 L1785 1271.3 L1786.5 1284.4 L1788 1294.8 L1789 1299.5 L1791 1305.1 L1792.5 1308 L1794 1310.6 L1795.5 1313.7 L1796.4 1316.1 L1798.5 1324.5 L1800 1331.8 L1801.9 1340.2 L1803 1344.3 L1804.5 1349.6 L1806 1354.7 L1807.5 1359.3 L1809.3 1364.2 L1810.5 1367.3 L1812 1371.4 L1813.5 1375 L1815 1377.8 L1816.7 1379 L1818 1377.4 L1819.5 1372.5 L1821 1365.8 L1822.5 1358.9 L1824.1 1353.1 L1825.5 1349.2 L1827 1345.1 L1828.5 1341.4 L1830 1338.4 L1831.5 1336.5 L1833 1335.6 L1834.5 1335 L1836 1334.5 L1837.5 1333.8 L1838.9 1332.8 L1840.5 1328.8 L1842 1321.1 L1843.5 1310.3 L1845 1297.3 L1846.3 1284.7 L1848 1255.6 L1850 1220.1 L1851 1211 L1852.5 1200.3 L1854.6 1188.7 L1855.5 1183.9 L1857 1176.1 L1858.5 1170.9 L1859.2 1170.2 L1860 1170.8 L1861.5 1174.8 L1863 1181 L1864.7 1188.7 L1866 1196.2 L1867.5 1207.3 L1869 1217.3 L1870.3 1221.9 L1872 1223.7 L1873.5 1224.5 L1875 1225.2 L1876.5 1226.2 L1877.7 1227.5 L1879.5 1231.8 L1881 1238.2 L1882.5 1246.8 L1883.2 1251.5 L1884 1260.7 L1885.1 1275.5 L1887 1291.6 L1888.5 1302 L1890.6 1314.3 L1891.5 1318.9 L1893 1325.9 L1894.5 1332.2 L1896 1338.1 L1898 1345.7 L1899 1349.9 L1900.5 1356.8 L1902 1363.5 L1903.5 1368.7 L1905.4 1371.6 L1906.5 1371.3 L1908 1370 L1909.5 1368 L1911 1365.5 L1912.8 1362.3 L1914 1359.2 L1915.5 1353.6 L1917 1348.1 L1918.5 1344.4 L1919.2 1343.9 L1920 1344.6 L1921.5 1348.6 L1923 1355 L1924.5 1361.8 L1926 1367.2 L1927.6 1369.7 L1929 1368.7 L1930.5 1365.6 L1932 1361.3 L1933.5 1356.2 L1935 1351.1 L1936.5 1346.6 L1938 1343.3 L1939.6 1342 L1941 1344.1 L1942.5 1349.8 L1944 1357.1 L1945.5 1364.1 L1947 1368.8 L1947.9 1369.7 L1950 1369.5 L1951.5 1369.1 L1953 1368.7 L1954.5 1368.3 L1956 1368 L1957.1 1367.9 L1959 1369.9 L1960.5 1373.8 L1962 1378.9 L1963.5 1384.7 L1965 1390.4 L1966.5 1395.4 L1968.2 1399.3 L1969.5 1401.3 L1971 1403.5 L1972.5 1405.5 L1974 1407.4 L1975.5 1409 L1977 1410.3 L1978.5 1411.4 L1980 1412.2 L1981.5 1412.8 L1983 1413.4 L1984.5 1413.9 L1986 1414.4 L1987.5 1414.9 L1989 1415.3 L1990.5 1415.7 L1992 1416 L1993.5 1416.3 L1995 1416.6 L1996.5 1416.8 L1998 1416.9 L2000 1417 L2001 1417 L2002.5 1417.1 L2004 1417.1 L2005.5 1417.1 L2007 1417.2 L2008.5 1417.2 L2010 1417.3 L2011.5 1417.3 L2013 1417.3 L2014.5 1417.4 L2016 1417.4 L2017.5 1417.4 L2019 1417.5 L2020.5 1417.5 L2022 1417.5 L2023.5 1417.6 L2025 1417.6 L2026.5 1417.6 L2028 1417.6 L2029.5 1417.7 L2031 1417.7 L2032.5 1417.7 L2034 1417.8 L2035.5 1417.8 L2037 1417.8 L2038.5 1417.9 L2040 1417.9 L2041.5 1417.9 L2043 1417.9 L2044.5 1418 L2046 1418 L2047.5 1418 L2049 1418 L2050.5 1418.1 L2052 1418.1 L2053.5 1418.1 L2055 1418.1 L2056.5 1418.2 L2058 1418.2 L2059.5 1418.2 L2061 1418.2 L2062.5 1418.2 L2064 1418.3 L2065.5 1418.3 L2067 1418.3 L2068.5 1418.3 L2070 1418.3 L2071.5 1418.4 L2073 1418.4 L2074.5 1418.4 L2076 1418.4 L2077.5 1418.4 L2079 1418.5 L2080.5 1418.5 L2082 1418.5 L2083.5 1418.5 L2085 1418.5 L2086.5 1418.5 L2088 1418.5 L2089.5 1418.6 L2091 1418.6 L2092.5 1418.6 L2094 1418.6 L2095.5 1418.6 L2097 1418.6 L2098.5 1418.6 L2100 1418.7 L2101.5 1418.7 L2103 1418.7 L2104.5 1418.7 L2106 1418.7 L2107.5 1418.7 L2109 1418.7 L2110.5 1418.7 L2112 1418.8 L2113.5 1418.8 L2115 1418.8 L2116.5 1418.8 L2118 1418.8 L2119.5 1418.8 L2121 1418.8 L2122.5 1418.8 L2124 1418.8 L2125.5 1418.8 L2127 1418.8 L2128.5 1418.9 L2130 1418.9 L2131.5 1418.9 L2133 1418.9 L2134.5 1418.9 L2136 1418.9 L2137.5 1418.9 L2139 1418.9 L2140.5 1418.9 L2142 1418.9 L2143.5 1418.9 L2145 1418.9 L2146.5 1418.9 L2148 1418.9 L2149.5 1418.9 L2151 1418.9 L2152.5 1418.9 L2154 1419 L2155.5 1419 L2157 1419 L2158.5 1419 L2160 1419 L2161.5 1419 L2163 1419 L2164.5 1419 L2166 1419 L2167.5 1419 L2169 1419 L2170.5 1419 L2172 1419 L2173.5 1419 L2175 1419 L2176.5 1419 L2178 1419 L2179.5 1419 L2181 1419 L2182.5 1419 L2184 1419 L2185.5 1419 L2187 1419 L2188.5 1419 L2190 1419 L2191.5 1419 L2193 1419 L2195 1419" class="r"/>
<path d="M140 1406 L141.8 1410.2 L143.6 1412.7 L144.5 1413.5 L145.4 1414.2 L147.2 1415.1 L149 1415.7 L150.8 1416.1 L152.6 1416.4 L153.5 1416.5 L154.4 1416.6 L156.2 1416.7 L158 1416.9 L159.8 1416.9 L161.6 1417 L162.5 1417 L163.4 1417 L165.2 1417.1 L167 1417.1 L168.8 1417.1 L170.6 1417.1 L171.5 1417.1 L172.4 1417.1 L174.2 1417.1 L176 1417.1 L177.8 1417 L179.6 1417 L180.5 1417 L181.4 1417 L183.2 1416.9 L185 1416.9 L186.8 1416.8 L188.6 1416.7 L189.5 1416.6 L190.4 1416.6 L192.2 1416.4 L194 1416.3 L195.8 1416 L197.6 1415.8 L198.5 1415.6 L199.4 1415.4 L201.2 1414.9 L203 1414.3 L204.8 1413.4 L206.6 1412.1 L207.5 1411.3 L208.4 1410.2 L210.2 1407.3 L212 1403 L213.8 1397.7 L215.6 1394.1 L216 1393.9 L217.4 1395.5 L219.2 1400.5 L221 1405.2 L222.8 1408.5 L224.6 1410.7 L225.5 1411.4 L226.4 1412 L228.2 1412.9 L230 1413.4 L231.8 1413.6 L233.6 1413.7 L234.5 1413.7 L235.4 1413.6 L237.2 1413.3 L239 1412.9 L240.8 1412.2 L242.6 1411.1 L243.5 1410.5 L244.4 1409.6 L246.2 1407.4 L248 1404.1 L249.8 1398.9 L251.6 1391.3 L252.5 1386.3 L253.4 1381.3 L255.2 1373.2 L255.9 1372.3 L257 1374.3 L258.8 1383.2 L260 1389.7 L260.6 1392.6 L261.5 1396.3 L262.4 1399.4 L263 1401.1 L264.2 1403.7 L266 1406.3 L267.8 1407.6 L269 1407.9 L269.6 1408 L270.5 1407.8 L271.4 1407.4 L272 1407 L273.2 1405.7 L275 1402.7 L276.8 1399 L278 1397.3 L278.6 1397 L278.7 1397 L279.5 1397.7 L280.4 1399.2 L281 1400.4 L282.2 1403.5 L284 1407.4 L285.8 1410.1 L287 1411.4 L287.6 1411.9 L288.5 1412.6 L289.4 1413.1 L290 1413.5 L291.2 1414 L293 1414.6 L294.8 1415 L296 1415.2 L296.6 1415.3 L297.5 1415.5 L298.4 1415.6 L299 1415.6 L300.2 1415.8 L302 1415.9 L303.8 1416 L305 1416.1 L305.6 1416.1 L306.5 1416.1 L307.4 1416.1 L308 1416.1 L309.2 1416.1 L311 1416.1 L312.8 1416.1 L314 1416.1 L314.6 1416.1 L315.5 1416 L316.4 1416 L317 1416 L318.2 1415.9 L320 1415.8 L321.8 1415.6 L323 1415.4 L323.6 1415.3 L324.5 1415.2 L325.4 1415 L326 1414.8 L327.2 1414.5 L329 1413.9 L330.8 1413 L332 1412.3 L332.6 1411.8 L333.5 1411.1 L334.4 1410.1 L335 1409.4 L336.2 1407.8 L338 1404.9 L339.8 1402.2 L341.2 1401.2 L341.6 1401.2 L342.5 1401.6 L343.4 1402.3 L344 1402.9 L345.2 1404.3 L347 1405.9 L348.8 1406.4 L350 1406.1 L350.6 1405.8 L351.5 1405.1 L352.4 1404.2 L353 1403.5 L354.2 1402.2 L356 1401.2 L356.3 1401.2 L357.8 1402.3 L359 1404.1 L359.6 1405.1 L360.5 1406.6 L361.4 1408 L362 1408.8 L363.2 1410.3 L365 1412 L366.8 1413.2 L368 1413.8 L368.6 1414.1 L369.5 1414.4 L370.4 1414.7 L371 1414.9 L372.2 1415.2 L374 1415.5 L375.8 1415.8 L377 1415.9 L377.6 1416 L378.5 1416.1 L379.4 1416.2 L380 1416.2 L381.2 1416.3 L383 1416.4 L384.8 1416.5 L386 1416.5 L386.6 1416.6 L387.5 1416.6 L388.4 1416.6 L389 1416.6 L390.2 1416.6 L392 1416.7 L393.8 1416.7 L395 1416.7 L395.6 1416.7 L396.5 1416.6 L397.4 1416.6 L398 1416.6 L399.2 1416.6 L401 1416.5 L402.8 1416.4 L404 1416.4 L404.6 1416.3 L405.5 1416.2 L406.4 1416.2 L407 1416.1 L408.2 1416 L410 1415.7 L411.8 1415.3 L413 1414.9 L413.6 1414.7 L414.5 1414.4 L415.4 1414 L416 1413.7 L417.2 1412.9 L419 1411.4 L420.8 1409.3 L422 1407.6 L422.6 1406.8 L423.5 1405.7 L424.4 1405 L425.3 1404.7 L426.2 1405 L428 1406.9 L429.8 1409.3 L431 1410.8 L431.6 1411.4 L432.5 1412.2 L433.4 1413 L434 1413.4 L435.2 1414.1 L437 1414.8 L438.8 1415.4 L440 1415.7 L440.6 1415.8 L441.5 1416 L442.4 1416.1 L443 1416.2 L444.2 1416.3 L446 1416.5 L447.8 1416.6 L449 1416.7 L449.6 1416.8 L450.5 1416.8 L451.4 1416.8 L452 1416.9 L453.2 1416.9 L455 1417 L456.8 1417 L458 1417.1 L458.6 1417.1 L459.5 1417.1 L460.4 1417.1 L461 1417.1 L462.2 1417.1 L464 1417.2 L465.8 1417.2 L467 1417.2 L467.6 1417.2 L468.5 1417.2 L469.4 1417.2 L470 1417.2 L471.2 1417.2 L473 1417.2 L474.8 1417.2 L476 1417.2 L476.6 1417.2 L477.5 1417.2 L478.4 1417.2 L479 1417.2 L480.2 1417.2 L482 1417.2 L483.8 1417.1 L485 1417.1 L485.6 1417.1 L486.5 1417.1 L487.4 1417.1 L488 1417.1 L489.2 1417 L491 1417 L492.8 1416.9 L494 1416.8 L494.6 1416.8 L495.5 1416.8 L496.4 1416.7 L497 1416.7 L498.2 1416.6 L500 1416.4 L501.8 1416.1 L503 1415.9 L503.6 1415.8 L504.5 1415.6 L505.4 1415.3 L506 1415.1 L507.2 1414.7 L509 1413.7 L510.8 1412.5 L512 1411.4 L512.6 1410.9 L513.5 1410.1 L514.4 1409.4 L515 1409.2 L515.8 1409 L516.2 1409 L518 1410 L519.8 1411.6 L521 1412.6 L521.6 1413.1 L522.5 1413.7 L523.4 1414.2 L524 1414.5 L525.2 1415 L527 1415.5 L528.8 1415.9 L530 1416.1 L530.6 1416.2 L531.5 1416.3 L532.4 1416.4 L533 1416.5 L534.2 1416.5 L536 1416.7 L537.8 1416.8 L539 1416.8 L539.6 1416.8 L540.5 1416.9 L541.4 1416.9 L542 1416.9 L543.2 1416.9 L545 1417 L546.8 1417 L548 1417 L548.6 1417 L549.5 1417 L550.4 1417 L551 1417 L552.2 1417 L554 1417 L555.8 1417 L557 1417 L557.6 1417 L558.5 1417 L559.4 1417 L560 1417 L561.2 1417 L563 1417 L564.8 1417 L566 1416.9 L566.6 1416.9 L567.5 1416.9 L568.4 1416.9 L569 1416.9 L570.2 1416.9 L572 1416.9 L573.8 1416.8 L575 1416.8 L575.6 1416.8 L576.5 1416.8 L577.4 1416.7 L578 1416.7 L579.2 1416.7 L581 1416.6 L582.8 1416.5 L584 1416.5 L584.6 1416.5 L585.5 1416.4 L586.4 1416.4 L587 1416.3 L588.2 1416.3 L590 1416.1 L591.8 1416 L593 1415.9 L593.6 1415.8 L594.5 1415.7 L595.4 1415.6 L596 1415.5 L597.2 1415.3 L599 1414.9 L600.8 1414.4 L602 1414 L602.6 1413.8 L603.5 1413.4 L604.4 1412.9 L605 1412.6 L606.2 1411.7 L608 1409.9 L609.8 1407.2 L611 1404.7 L611.6 1403.4 L612.5 1401.1 L613.4 1399.1 L614 1398.1 L615 1397 L615.2 1396.9 L617 1398.3 L618.8 1400.9 L620 1401.9 L620.6 1402.1 L621.5 1401.9 L622.4 1401.4 L623 1400.8 L624.2 1398.7 L626 1394.8 L627.8 1392.6 L629 1393.5 L629.6 1394.3 L630.5 1396 L631.4 1397.6 L632 1398.5 L633.2 1399.5 L635 1399.3 L636.8 1397.6 L638 1397.1 L638.6 1397 L639.5 1397.9 L640.4 1399.6 L641 1400.9 L642.2 1403.7 L644 1407.2 L645.8 1409.6 L647 1410.8 L647.6 1411.2 L648.5 1411.8 L649.4 1412.3 L650 1412.6 L651.2 1413.1 L653 1413.6 L654.8 1413.9 L656 1414.1 L656.6 1414.2 L657.5 1414.2 L658.4 1414.3 L659 1414.4 L660.2 1414.4 L662 1414.4 L663.8 1414.4 L665 1414.4 L665.6 1414.4 L666.5 1414.3 L667.4 1414.3 L668 1414.2 L669.2 1414.1 L671 1413.9 L672.8 1413.7 L674 1413.5 L674.6 1413.4 L675.5 1413.2 L676.4 1412.9 L677 1412.8 L678.2 1412.4 L680 1411.7 L681.8 1410.8 L683 1410 L683.6 1409.6 L684.5 1408.9 L685.4 1408 L686 1407.3 L687.2 1405.7 L689 1402.4 L690.8 1397.6 L692 1393 L692.6 1390.2 L693.5 1385.1 L694.4 1379.1 L695 1374.4 L696.2 1364.1 L698 1350.5 L699 1347.8 L699.8 1349.5 L701 1357.2 L701.6 1362.1 L702.5 1369.8 L703.4 1377.2 L704 1381.4 L705.2 1388.6 L707 1396.2 L708.8 1401.1 L710 1403.4 L710.6 1404.3 L711.5 1405.5 L712.4 1406.5 L713 1407.1 L714.2 1408 L716 1409 L717.8 1409.7 L719 1410.1 L719.6 1410.2 L720.5 1410.3 L721.4 1410.4 L722 1410.5 L723.2 1410.6 L725 1410.5 L726.8 1410.4 L728 1410.2 L728.6 1410.1 L729.5 1410 L730.4 1409.8 L731 1409.6 L732.2 1409.2 L734 1408.5 L735.8 1407.6 L737 1406.9 L737.6 1406.5 L738.5 1405.8 L739.4 1405 L740 1404.5 L741.2 1403.1 L743 1400.7 L744.8 1397.4 L746 1394.5 L746.6 1392.9 L747.5 1390 L748.4 1386.6 L749 1383.9 L750.2 1377.5 L752 1364 L753.8 1343.5 L755 1324.1 L755.6 1312.7 L756.5 1292.5 L757.4 1271.1 L758 1256.8 L759.2 1233.1 L760.2 1225.8 L761 1230.5 L762.8 1265.8 L764 1294.5 L764.6 1307.9 L765.5 1325.2 L766.4 1339.8 L767 1347.8 L768.2 1361 L770 1374.8 L771.8 1383.9 L773 1388.3 L773.6 1390.1 L774.5 1392.4 L775.4 1394.3 L776 1395.4 L777.2 1397.2 L779 1399.2 L780.8 1400.5 L782 1401.1 L782.6 1401.3 L783.5 1401.4 L784.4 1401.5 L785 1401.5 L786.2 1401.3 L788 1400.6 L789.8 1399.3 L791 1398.1 L791.6 1397.4 L792.5 1396.1 L793.4 1394.5 L794 1393.3 L795.2 1390.4 L797 1384.3 L798.8 1375.4 L800 1367.1 L800.6 1362 L801.5 1352.7 L802.4 1341.3 L803 1332.2 L804.2 1310.2 L806 1269.2 L807.8 1234.7 L808.6 1230.1 L809.6 1237.2 L810.5 1253 L811.4 1274 L812 1287.6 L813.2 1314.3 L815 1344 L816.8 1363.6 L818 1372.7 L818.6 1376.3 L819.5 1380.8 L820.4 1384.5 L821 1386.5 L822.2 1389.7 L824 1392.6 L825.8 1393.7 L827 1393.3 L827.6 1392.9 L828.5 1391.8 L829.4 1390.3 L830 1389.3 L831.2 1387.6 L832.3 1387.4 L833 1388.2 L834.8 1392.9 L836 1396.6 L836.6 1398.3 L837.5 1400.6 L838.4 1402.6 L839 1403.7 L840.2 1405.5 L842 1407.5 L843.8 1409 L845 1409.7 L845.6 1410 L846.5 1410.4 L847.4 1410.8 L848 1411 L849.2 1411.4 L851 1411.9 L852.8 1412.3 L854 1412.5 L854.6 1412.6 L855.5 1412.8 L856.4 1412.9 L857 1413 L858.2 1413.1 L860.3 1411 L861.5 1410.7 L863 1410.5 L864.5 1410.3 L866 1410.2 L868 1410 L869 1409.9 L870.5 1409.7 L872 1409.5 L873.5 1409.3 L875.4 1409 L876.5 1408.7 L878 1408.3 L879.5 1407.8 L881 1407.2 L883 1406.5 L884 1406.2 L885.5 1405.6 L887 1405 L888.5 1404.6 L890 1404.4 L891.5 1404.9 L893 1405.9 L894.5 1407 L895.9 1407.4 L897.5 1407.2 L899 1406.7 L900.5 1406 L902 1405.1 L904 1403.7 L905 1402.6 L906.5 1399.7 L908 1396.2 L909.5 1392.7 L911 1390.3 L912.2 1389.6 L914 1390.3 L915.5 1391.7 L917 1393.6 L918.5 1395.7 L920 1397.7 L921.5 1399.4 L923 1400.5 L924 1400.7 L926 1400.6 L927.5 1400.4 L929 1400.2 L929.9 1400 L930.5 1399.8 L932 1398.7 L933.5 1396.8 L935 1394.1 L936.5 1390.6 L938 1386.3 L938.8 1383.7 L939.5 1379.9 L941 1364.6 L942.5 1346.5 L943.2 1339.4 L944 1332 L945.5 1318.2 L947 1307 L947.6 1303.9 L948.5 1300.6 L950 1297 L951.5 1294.4 L953 1291.2 L955 1283.2 L956 1269.1 L957.2 1241.9 L959.5 1181.3 L960.5 1154.3 L962.4 1120 L963.5 1124.2 L965.4 1147.3 L966.8 1203.4 L968 1235.8 L969.8 1274.4 L971 1298 L972 1314.3 L974 1340.3 L975.7 1354.2 L977 1359.5 L978.5 1363.7 L979.4 1364.5 L980 1364.4 L981.5 1363 L983 1360.8 L984.6 1358.6 L986 1356.7 L987.5 1354.3 L989 1352.1 L990.5 1350.4 L992 1349.7 L993.5 1351.4 L995 1355.5 L996.5 1360.9 L997.9 1366 L999.5 1373.1 L1001 1380.6 L1002.3 1385.2 L1004 1389 L1005.5 1391.8 L1007 1393.6 L1008.2 1394.1 L1010 1393.8 L1011.5 1393.1 L1013 1392 L1014.1 1391.1 L1016 1386.6 L1017.5 1380.4 L1019 1373.4 L1020 1369 L1022 1361.8 L1023.5 1356.2 L1025 1348.9 L1026 1342.4 L1028 1312 L1029.5 1279.9 L1030.4 1262.6 L1032.5 1225.2 L1033.3 1215.3 L1034 1208.9 L1035.6 1200.5 L1037 1227.2 L1037.8 1246.3 L1038.5 1257.3 L1040 1277.7 L1041.5 1295.7 L1042.2 1303.9 L1043 1313.5 L1044.5 1330.4 L1045.2 1336.4 L1046 1342.3 L1047.5 1352.8 L1049 1360.5 L1050.3 1363 L1052 1358.2 L1054 1348.3 L1055 1344.4 L1056.5 1338.7 L1058.5 1330.5 L1059.5 1326.2 L1061 1320.3 L1062.5 1313.8 L1064 1305.5 L1065.9 1290.6 L1067 1269.5 L1068.1 1246.3 L1070 1221.2 L1071.5 1205.7 L1073.2 1198.3 L1074.5 1208 L1076 1234.6 L1077.7 1267 L1079 1290 L1080.6 1314.3 L1082 1328.1 L1083.5 1341.6 L1085 1352.7 L1086.5 1360.2 L1088 1363 L1089.5 1360.4 L1091 1354.3 L1092.5 1347.4 L1093.9 1342.4 L1095.5 1338.2 L1097 1334.8 L1098.4 1333.5 L1100 1335.3 L1101.5 1339.2 L1103 1343.7 L1104.5 1347.2 L1105.7 1348.3 L1107.5 1344.2 L1109 1336.9 L1110.2 1330.5 L1112 1316.1 L1113.9 1305.4 L1115 1308.8 L1116.5 1319.4 L1117.6 1326.1 L1119.5 1334.6 L1121 1339.7 L1122 1340.9 L1124 1340.6 L1125.5 1340.1 L1127 1339.2 L1128.5 1338.1 L1130.3 1336.4 L1131.5 1331.7 L1133 1318.8 L1134.5 1302.8 L1136 1288.8 L1137.7 1281.8 L1139 1287.8 L1140.5 1303.7 L1142.2 1321.7 L1143.5 1332.9 L1145 1346.8 L1146.5 1359.7 L1148 1369.3 L1149.6 1373.4 L1151 1373.4 L1152.5 1373.4 L1154 1373.4 L1155.5 1373.4 L1157 1367.4 L1158.5 1353.6 L1160 1338.1 L1161.4 1327.6 L1163 1319.5 L1164.5 1313.4 L1165.8 1311.3 L1167.5 1315.8 L1169 1325.1 L1170.5 1336 L1172 1345.6 L1173.9 1351.2 L1175 1350.5 L1176.5 1347.5 L1178 1342.9 L1179.5 1337.6 L1181 1332.4 L1182.1 1329.1 L1184 1323.2 L1185.5 1317.8 L1187 1312.4 L1188.5 1307.5 L1190 1303.7 L1191.5 1301.4 L1192.4 1301 L1194.5 1303.8 L1196 1308.5 L1197.5 1314.6 L1199 1321.5 L1200.5 1328.4 L1202 1334.6 L1203.5 1339.4 L1205 1342.1 L1205.7 1342.4 L1206.5 1341.7 L1208 1336.9 L1209.5 1328.9 L1211 1318.9 L1212.5 1308.3 L1214.6 1295.1 L1215.5 1290.3 L1217 1282.1 L1218.5 1273.9 L1220 1265.8 L1221.5 1257.7 L1223.4 1247.8 L1224.5 1242.7 L1226 1236.3 L1227.9 1225.6 L1229 1212 L1230.5 1187.9 L1231.6 1179.8 L1233.5 1187.2 L1235 1200.4 L1236.7 1218.2 L1238 1237.7 L1239.5 1267 L1241.2 1292.1 L1242.5 1302.8 L1244 1312.8 L1245.6 1317.2 L1247 1313.6 L1248.5 1303.9 L1250 1292.1 L1251.5 1272 L1253 1251.1 L1253.7 1247.8 L1254.5 1251.1 L1256 1268.5 L1257.4 1284.7 L1259 1298.6 L1260.5 1309.9 L1261.9 1314.3 L1263.5 1309 L1265 1298.4 L1266.5 1288.4 L1267.8 1284.7 L1269.5 1291.5 L1271 1304.5 L1272.5 1317.8 L1274.4 1326.1 L1275.5 1323.6 L1277 1313.6 L1278.5 1299 L1280.3 1280.3 L1281.5 1266.7 L1283 1246.7 L1284 1233 L1286.2 1202 L1287.5 1208.3 L1289 1226.2 L1290 1240.4 L1292 1287.4 L1293.6 1321.7 L1295 1337.6 L1296.5 1351.3 L1298 1360.5 L1298.8 1363 L1299.5 1364.3 L1301 1366.9 L1302.5 1368.8 L1304 1370 L1305.5 1370.4 L1307 1368.2 L1308.5 1362.4 L1310 1353.9 L1312.1 1339.4 L1313 1330.7 L1314.5 1309 L1316 1282.3 L1318 1247.8 L1319 1230.5 L1320.5 1200.8 L1322 1174.4 L1323.9 1159.1 L1325 1160.2 L1326.5 1164.8 L1328.4 1173.9 L1329.5 1183.9 L1331 1207 L1332.8 1240.4 L1334 1267.2 L1335.8 1306.9 L1337 1324.7 L1338.5 1344.2 L1340 1360.3 L1341.7 1373.4 L1343 1380.9 L1344.5 1388.5 L1346 1394.9 L1347.5 1399.7 L1349.1 1402.9 L1350.5 1404.5 L1352 1406 L1353.5 1407.2 L1355 1408.2 L1356.5 1409.1 L1358 1409.8 L1359.4 1410.3 L1361 1410.9 L1362.5 1411.4 L1364 1411.8 L1365.5 1412.3 L1367 1412.7 L1368.5 1413.1 L1370 1413.4 L1371.5 1413.8 L1373 1414 L1374.5 1414.3 L1376 1414.5 L1377.5 1414.7 L1379 1414.9 L1380 1415 L1382 1415.2 L1383.5 1415.3 L1385 1415.4 L1386.5 1415.5 L1388 1415.6 L1389.5 1415.7 L1391 1415.8 L1392.5 1415.9 L1394 1416 L1395.5 1416.1 L1397 1416.2 L1398.5 1416.2 L1400 1416.3 L1401.5 1416.4 L1403 1416.4 L1404.5 1416.5 L1406 1416.6 L1407.5 1416.6 L1409 1416.7 L1410.5 1416.7 L1412 1416.8 L1413.5 1416.8 L1415 1416.9 L1416.5 1416.9 L1418 1416.9 L1420 1417 L1421 1417 L1422.5 1417.1 L1424 1417.1 L1425.5 1417.1 L1427 1417.2 L1428.5 1417.2 L1430 1417.2 L1431.5 1417.3 L1433 1417.3 L1434.5 1417.3 L1436 1417.4 L1437.5 1417.4 L1439 1417.5 L1440.5 1417.5 L1442 1417.5 L1443.5 1417.6 L1445 1417.6 L1446.5 1417.6 L1448 1417.7 L1449.5 1417.7 L1451 1417.7 L1452.5 1417.7 L1454 1417.8 L1455.5 1417.8 L1457 1417.8 L1458.5 1417.9 L1460 1417.9 L1461.5 1417.9 L1463 1418 L1464.5 1418 L1466 1418 L1467.5 1418 L1469 1418.1 L1470.5 1418.1 L1472 1418.1 L1473.5 1418.2 L1475 1418.2 L1476.5 1418.2 L1478 1418.2 L1479.5 1418.3 L1481 1418.3 L1482.5 1418.3 L1484 1418.3 L1485.5 1418.4 L1487 1418.4 L1488.5 1418.4 L1490 1418.4 L1491.5 1418.5 L1493 1418.5 L1494.5 1418.5 L1496 1418.5 L1497.5 1418.5 L1499 1418.6 L1500.5 1418.6 L1502 1418.6 L1503.5 1418.6 L1505 1418.6 L1506.5 1418.7 L1508 1418.7 L1509.5 1418.7 L1511 1418.7 L1512.5 1418.7 L1514 1418.7 L1515.5 1418.8 L1517 1418.8 L1518.5 1418.8 L1520 1418.8 L1521.5 1418.8 L1523 1418.8 L1524.5 1418.8 L1526 1418.9 L1527.5 1418.9 L1529 1418.9 L1530.5 1418.9 L1532 1418.9 L1533.5 1418.9 L1535 1418.9 L1536.5 1418.9 L1538 1418.9 L1539.5 1418.9 L1541 1419 L1542.5 1419 L1544 1419 L1545.5 1419 L1547 1419 L1548.5 1419 L1550 1419 L1551.5 1419 L1553 1419 L1554.5 1419 L1556 1419 L1557.5 1419 L1559 1419 L1560 1419" class="b"/>
<path d="M1596 1420 L1597.5 1420 L1599 1420 L1600.5 1420 L1602 1419.9 L1603.5 1419.9 L1605 1419.9 L1606.5 1419.8 L1608 1419.8 L1609.5 1419.8 L1611 1419.7 L1612.5 1419.6 L1614 1419.6 L1615.5 1419.5 L1617 1419.4 L1618.5 1419.4 L1620 1419.3 L1621.5 1419.2 L1623 1419.1 L1624.5 1419 L1626 1418.9 L1627.5 1418.8 L1629 1418.7 L1630.5 1418.6 L1632 1418.5 L1633.5 1418.4 L1635 1418.3 L1636.5 1418.2 L1638 1418.1 L1640 1418 L1641 1417.9 L1642.5 1417.8 L1644 1417.7 L1645.5 1417.6 L1647 1417.4 L1648.5 1417.3 L1650 1417.1 L1651.5 1417 L1653 1416.8 L1654.5 1416.6 L1656 1416.4 L1657.5 1416.2 L1659 1416 L1660.5 1415.8 L1662 1415.6 L1663.5 1415.4 L1665 1415.1 L1666.5 1414.9 L1668 1414.6 L1669.5 1414.4 L1671 1414.1 L1672.5 1413.8 L1674 1413.5 L1675.5 1413.2 L1677 1412.9 L1678.5 1412.5 L1680 1412.2 L1681.5 1411.8 L1683 1411.5 L1684.5 1411 L1686 1410.6 L1687.5 1410.1 L1689 1409.5 L1690.5 1409 L1692 1408.4 L1693.5 1407.7 L1695 1407 L1696.5 1406.3 L1698 1405.5 L1699.5 1404.7 L1701 1403.8 L1702.5 1402.9 L1704 1401.9 L1705.5 1400.9 L1707 1399.8 L1707.7 1399.3 L1708.5 1398.7 L1710 1397.4 L1711.5 1395.9 L1713 1394.1 L1714.5 1392.2 L1716 1390 L1717.5 1387.5 L1719 1384.8 L1720.5 1381.7 L1722.5 1377.1 L1723.5 1374.1 L1725 1368 L1726.5 1360.3 L1728 1351.6 L1729.9 1340.2 L1731 1333.2 L1732.5 1322.7 L1734 1311.2 L1735.5 1299.3 L1737.3 1284.7 L1738.5 1274.8 L1740 1261.7 L1741.5 1248.4 L1743 1235.3 L1743.7 1229.3 L1744.5 1222.7 L1746 1210.6 L1747.5 1198.6 L1749.3 1183.1 L1750.5 1170.6 L1752 1153.4 L1753.9 1136.9 L1755 1130.9 L1756.5 1124.9 L1757.2 1124 L1758 1126.1 L1759.5 1138 L1761.3 1155.4 L1762.5 1165.3 L1764 1178.1 L1765.5 1191 L1766.8 1201.6 L1768.5 1217.7 L1770.5 1229.3 L1771.5 1227.4 L1773 1219.1 L1774.5 1207.6 L1776.1 1196.1 L1777.5 1185.6 L1779 1174.4 L1780.3 1170.2 L1782 1186.5 L1783.5 1210.8 L1785 1235.9 L1787.1 1266.3 L1788 1272.7 L1789.5 1280.9 L1791 1287.4 L1792.7 1294 L1794 1298.7 L1795.5 1303.4 L1797 1308.1 L1798.2 1312.5 L1800 1320.7 L1801.5 1328.5 L1803 1336.6 L1804.5 1344.3 L1805.6 1349.4 L1807.5 1358.2 L1809 1365.3 L1810.5 1371.5 L1812 1375.8 L1813 1377.1 L1815 1378.1 L1816.5 1378.7 L1818.6 1379 L1819.5 1378.5 L1821 1375.7 L1822.5 1371.8 L1824.1 1367.9 L1825.5 1364.6 L1827 1360.7 L1828.5 1357.2 L1830.6 1354.9 L1831.5 1355.3 L1833 1357.1 L1834.5 1359.9 L1836 1362.9 L1837.5 1365.2 L1838.9 1366 L1840.5 1364.8 L1842 1362 L1843.5 1358 L1845 1353.4 L1846.3 1349.4 L1848 1343.4 L1849.5 1336.8 L1851 1329.5 L1852.5 1322 L1853.7 1316.1 L1855.5 1305.7 L1857 1295.6 L1858.5 1285.9 L1860 1278.2 L1862 1273.7 L1863 1274.5 L1864.5 1278.1 L1866 1283.4 L1867.5 1289.2 L1869 1294.2 L1870.5 1297.3 L1871.2 1297.7 L1872 1297 L1873.5 1292.6 L1875 1286.2 L1876.5 1279.8 L1878.6 1275.5 L1879.5 1276.2 L1881 1280.4 L1882.5 1287.4 L1884 1296.2 L1885.1 1303.2 L1887 1325.3 L1888.8 1345.7 L1890 1352.7 L1891.5 1360.2 L1893 1366.5 L1894.5 1371.8 L1896 1376.1 L1898 1380.8 L1899 1382.9 L1900.5 1385.9 L1902 1388.6 L1903.5 1390.9 L1905 1392.7 L1906.5 1393.6 L1907.2 1393.7 L1908 1393.4 L1909.5 1391.3 L1911 1388.1 L1912.5 1384.5 L1914.6 1380.8 L1915.5 1379.8 L1917 1378 L1918.5 1376.5 L1920 1375.5 L1921.1 1375.3 L1923 1376.5 L1924.5 1378.7 L1926 1381.1 L1927.5 1383.3 L1929.4 1384.5 L1930.5 1384.2 L1932 1383.2 L1933.5 1381.7 L1935 1379.8 L1936.5 1378 L1938 1376.5 L1939.5 1375.5 L1940.5 1375.3 L1942.5 1376.9 L1944 1379.5 L1945.5 1382.5 L1947 1385 L1948.8 1386.3 L1950 1385.8 L1951.5 1384 L1953 1381.3 L1954.5 1378.1 L1956 1375.1 L1957.5 1372.5 L1959 1370.9 L1959.9 1370.6 L1962 1373.9 L1963.5 1378.9 L1965 1384.3 L1966.3 1388.2 L1968 1392.6 L1969.5 1396.6 L1971 1400.4 L1972.5 1403.8 L1974 1406.6 L1975.6 1408.5 L1977 1409.6 L1978.5 1410.7 L1980 1411.7 L1981.5 1412.6 L1983 1413.4 L1984.5 1414.2 L1986 1414.9 L1987.5 1415.5 L1989 1416 L1990.5 1416.4 L1992 1416.7 L1993.5 1416.9 L1995 1417 L1996.5 1417.1 L1998 1417.1 L1999.5 1417.2 L2001 1417.2 L2002.5 1417.3 L2004 1417.3 L2005.5 1417.4 L2007 1417.4 L2008.5 1417.5 L2010 1417.5 L2011.5 1417.6 L2013 1417.6 L2014.5 1417.7 L2016 1417.7 L2017.5 1417.8 L2019 1417.8 L2020.5 1417.9 L2022 1417.9 L2023.5 1418 L2025 1418 L2026.5 1418.1 L2028 1418.1 L2029.5 1418.2 L2031 1418.2 L2032.5 1418.2 L2034 1418.3 L2035.5 1418.3 L2037 1418.4 L2038.5 1418.4 L2040 1418.4 L2041.5 1418.5 L2043 1418.5 L2044.5 1418.6 L2046 1418.6 L2047.5 1418.6 L2049 1418.7 L2050.5 1418.7 L2052 1418.7 L2053.5 1418.8 L2055 1418.8 L2056.5 1418.8 L2058 1418.9 L2059.5 1418.9 L2061 1418.9 L2062.5 1418.9 L2064 1419 L2065.5 1419 L2067 1419 L2068.5 1419.1 L2070 1419.1 L2071.5 1419.1 L2073 1419.1 L2074.5 1419.2 L2076 1419.2 L2077.5 1419.2 L2079 1419.2 L2080.5 1419.3 L2082 1419.3 L2083.5 1419.3 L2085 1419.3 L2086.5 1419.4 L2088 1419.4 L2089.5 1419.4 L2091 1419.4 L2092.5 1419.4 L2094 1419.5 L2095.5 1419.5 L2097 1419.5 L2098.5 1419.5 L2100 1419.5 L2101.5 1419.6 L2103 1419.6 L2104.5 1419.6 L2106 1419.6 L2107.5 1419.6 L2109 1419.6 L2110.5 1419.7 L2112 1419.7 L2113.5 1419.7 L2115 1419.7 L2116.5 1419.7 L2118 1419.7 L2119.5 1419.7 L2121 1419.7 L2122.5 1419.8 L2124 1419.8 L2125.5 1419.8 L2127 1419.8 L2128.5 1419.8 L2130 1419.8 L2131.5 1419.8 L2133 1419.8 L2134.5 1419.8 L2136 1419.8 L2137.5 1419.9 L2139 1419.9 L2140.5 1419.9 L2142 1419.9 L2143.5 1419.9 L2145 1419.9 L2146.5 1419.9 L2148 1419.9 L2149.5 1419.9 L2151 1419.9 L2152.5 1419.9 L2154 1419.9 L2155.5 1419.9 L2157 1419.9 L2158.5 1419.9 L2160 1420 L2161.5 1420 L2163 1420 L2164.5 1420 L2166 1420 L2167.5 1420 L2169 1420 L2170.5 1420 L2172 1420 L2173.5 1420 L2175 1420 L2176.5 1420 L2178 1420 L2179.5 1420 L2181 1420 L2182.5 1420 L2184 1420 L2185.5 1420 L2187 1420 L2188.5 1420 L2190 1420 L2191.5 1420 L2193 1420 L2195 1420" class="b"/>
<path d="M136.4 1428 V1098.4 H2197.5 V1428" class="fr"/>
<path d="M134.4 1428 H1563 M1602 1428 H2199.5" class="fr" style="stroke-width:6"/>
<path d="M1545 1440.5 L1579.5 1415.3 M1581 1440.5 L1615.5 1415" class="brk"/>
<path d="M138.1 1428 v8 M247.5 1428 v14 M356.9 1428 v8 M466.4 1428 v14 M575.9 1428 v8 M685.3 1428 v14 M794.8 1428 v8 M904.2 1428 v14 M1013.6 1428 v8 M1123.1 1428 v14 M1232.6 1428 v8 M1342 1428 v14 M1451.5 1428 v8 M1672.2 1428 v8 M1822.4 1428 v14 M1972.6 1428 v8 M2122.8 1428 v14" class="tk"/>
<text class="lr" transform="translate(213.8 1340.9) rotate(-90)" textLength="89.8" lengthAdjust="spacingAndGlyphs">64:537</text>
<text class="lr" transform="translate(751.3 1236.6) rotate(-90)" textLength="122.5" lengthAdjust="spacingAndGlyphs">102:1070</text>
<text class="lb" transform="translate(846 1279.7) rotate(-90)" textLength="122.5" lengthAdjust="spacingAndGlyphs">108:1113</text>
<text class="lb" transform="translate(950 1238.7) rotate(-90)" textLength="122.5" lengthAdjust="spacingAndGlyphs">121:1253</text>
<text class="lb" transform="translate(1026 1247.3) rotate(-90)" textLength="122.5" lengthAdjust="spacingAndGlyphs">127:1319</text>
<text class="lb" transform="translate(1114.2 1248.6) rotate(-90)" textLength="122.5" lengthAdjust="spacingAndGlyphs">133:1355</text>
<text class="lb" transform="translate(1224.3 1221.5) rotate(-90)" textLength="122.5" lengthAdjust="spacingAndGlyphs">162:1498</text>
<text class="lr" transform="translate(1260.3 1148.2) rotate(-90)" textLength="49" lengthAdjust="spacingAndGlyphs">166</text>
<text class="lr" transform="translate(1285 1167.6) rotate(-90)" textLength="65.3" lengthAdjust="spacingAndGlyphs">1519</text>
<text class="lr" transform="translate(1316 1227) rotate(-90)" textLength="122.5" lengthAdjust="spacingAndGlyphs">168:1548</text>
<text class="lb" transform="translate(1369.6 1248.6) rotate(-90)" textLength="122.5" lengthAdjust="spacingAndGlyphs">169:1581</text>
<text class="lb" transform="translate(1397.8 1361.5) rotate(-90)" textLength="122.5" lengthAdjust="spacingAndGlyphs">170:1587</text>
<text class="lr" transform="translate(1729.5 1227.6) rotate(-90)" textLength="122.5" lengthAdjust="spacingAndGlyphs">175:2954</text>
<text class="lb" transform="translate(1789.7 1138.3) rotate(-90)" textLength="49" lengthAdjust="spacingAndGlyphs">183</text>
<text class="lb" transform="translate(1815.3 1169.7) rotate(-90)" textLength="65.3" lengthAdjust="spacingAndGlyphs">2972</text>
<text class="lb" transform="translate(1831.4 1298.6) rotate(-90)" textLength="122.5" lengthAdjust="spacingAndGlyphs">182:2982</text>
<text class="lr" transform="translate(1860 1150.4) rotate(-90)" textLength="49" lengthAdjust="spacingAndGlyphs">191</text>
<text class="lr" transform="translate(1887 1171.1) rotate(-90)" textLength="65.3" lengthAdjust="spacingAndGlyphs">3025</text>
<text class="big" x="143" y="1217.2" textLength="94.8" lengthAdjust="spacingAndGlyphs">D</text><text class="sub" x="238" y="1217.2" textLength="35" lengthAdjust="spacingAndGlyphs">1</text>
<text class="nm" x="1451" y="1214.6" textLength="196" lengthAdjust="spacingAndGlyphs">VO(alx)</text><text class="nm3" x="1649" y="1214.6">2</text>
<text class="nm" x="1469" y="1284.1" textLength="183" lengthAdjust="spacingAndGlyphs">PTP1B</text>
<text class="ir" x="1984" y="1239.7" textLength="126" lengthAdjust="spacingAndGlyphs">Int<tspan style="font-size:68%" dy="-6">×</tspan><tspan dy="6">3</tspan></text>
<text class="ib" x="1984" y="1312" textLength="127" lengthAdjust="spacingAndGlyphs">Int/3</text>
</g>
<g>
<line x1="247.5" y1="1533.4" x2="247.5" y2="1854.6" class="gM"/>
<line x1="356.9" y1="1533.4" x2="356.9" y2="1854.6" class="gm"/>
<line x1="466.4" y1="1533.4" x2="466.4" y2="1854.6" class="gM"/>
<line x1="575.9" y1="1533.4" x2="575.9" y2="1854.6" class="gm"/>
<line x1="685.3" y1="1533.4" x2="685.3" y2="1854.6" class="gM"/>
<line x1="794.8" y1="1533.4" x2="794.8" y2="1854.6" class="gm"/>
<line x1="904.2" y1="1533.4" x2="904.2" y2="1854.6" class="gM"/>
<line x1="1013.6" y1="1533.4" x2="1013.6" y2="1854.6" class="gm"/>
<line x1="1123.1" y1="1533.4" x2="1123.1" y2="1854.6" class="gM"/>
<line x1="1232.6" y1="1533.4" x2="1232.6" y2="1854.6" class="gm"/>
<line x1="1342" y1="1533.4" x2="1342" y2="1854.6" class="gM"/>
<line x1="1451.5" y1="1533.4" x2="1451.5" y2="1854.6" class="gm"/>
<line x1="1672.2" y1="1533.4" x2="1672.2" y2="1854.6" class="gm"/>
<line x1="1822.4" y1="1533.4" x2="1822.4" y2="1854.6" class="gM"/>
<line x1="1972.6" y1="1533.4" x2="1972.6" y2="1854.6" class="gm"/>
<line x1="2122.8" y1="1533.4" x2="2122.8" y2="1854.6" class="gM"/>
<path d="M140 1842.2 L143.6 1841.6 L147.2 1840.5 L150.8 1838.4 L154.4 1833.8 L158 1823.9 L161 1816.6 L165.2 1825.7 L168.8 1830.2 L173 1829.5 L176 1833.5 L179.6 1838.2 L183.2 1840.4 L186.8 1841.5 L190.4 1842.1 L194 1842.5 L197.6 1842.7 L201.2 1842.8 L204.8 1842.9 L208.4 1842.9 L212 1842.8 L215.6 1842.7 L219.2 1842.5 L222.8 1842.2 L226.4 1841.3 L230 1839.6 L233.4 1838 L237.2 1839.4 L240.8 1840.5 L244.4 1840.5 L248 1839.9 L251.6 1838.5 L255.2 1835.8 L258.8 1830.1 L262.4 1818.1 L267 1800.2 L269.6 1808.2 L273.2 1824.6 L276.8 1833.3 L280.4 1837.5 L284 1839.6 L287.6 1840.9 L291.2 1841.6 L294.8 1842.1 L298.4 1842.5 L302 1842.7 L305.6 1842.9 L309.2 1843 L312.8 1843.1 L316.4 1843.2 L320 1843.2 L323.6 1843.2 L327.2 1843.2 L330.8 1843.2 L334.4 1843.1 L338 1842.9 L341.6 1842.5 L345.2 1841.7 L348.8 1839.8 L353.3 1836.8 L356 1838.3 L359.6 1841 L363.2 1842.2 L366.8 1842.8 L370.4 1843.1 L374 1843.2 L377.6 1843.3 L381.2 1843.4 L384.8 1843.4 L388.4 1843.5 L392 1843.5 L395.6 1843.5 L399.2 1843.5 L402.8 1843.4 L406.4 1843.4 L410 1843.4 L413.6 1843.3 L417.2 1843.3 L420.8 1843.2 L424.4 1843.2 L428 1843 L431.6 1842.9 L435.2 1842.7 L438.8 1842.5 L442.4 1842.2 L446 1841.7 L449.6 1841 L453.2 1839.7 L456.8 1837.5 L460.4 1833 L464 1823.7 L468.4 1811 L471.2 1817.5 L474.8 1829.1 L478.4 1835 L482 1837.5 L485.6 1838.4 L489.2 1838.3 L492.8 1837.1 L496.4 1834.2 L500 1827.8 L503.6 1814.4 L507.2 1802.3 L510.8 1814.7 L514.4 1828.3 L518 1835 L521.6 1838.3 L525.2 1840 L528.8 1841 L532.4 1841.7 L536 1842.1 L539.6 1842.4 L543.2 1842.6 L546.8 1842.8 L550.4 1842.8 L554 1842.9 L557.6 1842.9 L561.2 1842.9 L564.8 1842.7 L568.4 1842.5 L572 1842 L575.6 1840.9 L579.2 1838.5 L582.8 1833.9 L584.7 1832.5 L586.4 1833.7 L590 1838.4 L593.6 1841 L597.2 1842.1 L600.8 1842.7 L604.4 1843 L608 1843.2 L611.6 1843.3 L615.2 1843.4 L618.8 1843.5 L622.4 1843.5 L626 1843.5 L629.6 1843.6 L633.2 1843.6 L636.8 1843.6 L640.4 1843.6 L644 1843.6 L647.6 1843.6 L651.2 1843.6 L654.8 1843.7 L658.4 1843.7 L662 1843.7 L665.6 1843.6 L669.2 1843.6 L672.8 1843.6 L676.4 1843.6 L680 1843.6 L683.6 1843.6 L687.2 1843.5 L690.8 1843.5 L694.4 1843.4 L698 1843.3 L701.6 1843.1 L705.2 1842.8 L708.8 1842.2 L712.4 1840.9 L716 1838.1 L718.4 1836.8 L723.2 1840.1 L726.8 1841.8 L730.4 1842.6 L734 1843 L737.6 1843.1 L741.2 1843.2 L744.8 1843.2 L748.4 1843.2 L752 1843 L755.6 1842.6 L759.2 1841.8 L762.8 1840.2 L764.5 1839.8 L766.4 1840.3 L770 1841.9 L773.6 1842.7 L777.2 1843 L780.8 1843.2 L784.4 1843.3 L788 1843.4 L791.6 1843.4 L795.2 1843.4 L798.8 1843.4 L802.4 1843.4 L806 1843.4 L809.6 1843.3 L813.2 1843.3 L816.8 1843.3 L820.4 1843.2 L824 1843.2 L827.6 1843.1 L831.2 1843.1 L834.8 1843 L838.4 1842.9 L842 1842.8 L845.6 1842.6 L849.2 1842.4 L852.8 1842.2 L856.4 1841.9 L860 1841.4 L863.6 1840.8 L867.2 1839.8 L870.8 1838.3 L874.4 1835.6 L878 1830.4 L881.6 1819.1 L885.2 1794.4 L888.4 1774.3 L892.4 1801.2 L896 1822.3 L899.6 1831.7 L903.2 1836 L906.8 1838.2 L910.4 1839.5 L914 1840.2 L917.6 1840.7 L921.2 1840.9 L924.8 1841 L928.4 1840.8 L932 1840.6 L935.6 1840 L939.2 1838.8 L942.8 1836.3 L946.4 1830.7 L950.9 1821.7 L953.6 1825.9 L957.2 1833.2 L960.8 1836.4 L964.4 1837.4 L968 1837.5 L971.6 1836.8 L975.2 1835.5 L978.8 1833.3 L982.4 1829.5 L986 1823 L989.6 1810.8 L993.2 1785.2 L996.8 1733.1 L1000.4 1686 L1004 1733.2 L1007.6 1785.4 L1011.2 1810.9 L1014.8 1823.3 L1018.4 1829.9 L1022 1833.7 L1025.6 1836.2 L1029.2 1837.8 L1032.8 1838.9 L1036.4 1839.7 L1040 1840.3 L1043.6 1840.8 L1047.2 1841.1 L1050.8 1841.4 L1054.4 1841.6 L1058 1841.8 L1061.6 1841.9 L1065.2 1842 L1068.8 1842.1 L1072.4 1842.1 L1076 1842.2 L1079.6 1842.2 L1083.2 1842.2 L1086.8 1842.2 L1090.4 1842.2 L1094 1842.1 L1097.6 1842.1 L1101.2 1842 L1104.8 1841.9 L1108.4 1841.8 L1112 1841.6 L1115.6 1841.4 L1119.2 1841.1 L1122.8 1840.8 L1126.4 1840.4 L1130 1839.9 L1133.6 1839.1 L1137.2 1838.1 L1140.8 1836.6 L1144.4 1834.3 L1148 1830.6 L1151.6 1824 L1155.2 1810.9 L1158.8 1783.4 L1162.4 1737.6 L1164.2 1726 L1166 1736.2 L1169.6 1777.8 L1172 1795.9 L1176.8 1820.3 L1180.4 1828.5 L1184 1832.7 L1187.6 1835 L1191.2 1836.4 L1194.8 1837.2 L1198.4 1837.7 L1202 1837.9 L1205.6 1837.8 L1209.2 1837.5 L1212.8 1837 L1216.4 1836.1 L1220 1834.8 L1223.6 1832.8 L1227.2 1829.5 L1230.8 1823.8 L1234.4 1813 L1238 1790.4 L1241.6 1749.4 L1244 1731.2 L1248.8 1768.6 L1252.4 1783.3 L1256 1783 L1259.6 1801.5 L1263.2 1816.6 L1266.8 1823.1 L1270.4 1825.6 L1274 1826 L1277.6 1824.9 L1281.2 1822.4 L1284.8 1818.1 L1288.4 1811.3 L1292 1800 L1295.6 1780.7 L1299.2 1745.2 L1302.8 1678.8 L1306.4 1581.3 L1308.6 1549.3 L1310 1558.2 L1313.6 1634.6 L1317.2 1682.9 L1318.5 1690 L1320.8 1693.3 L1324.4 1659.5 L1328 1618.3 L1331.6 1685.4 L1335.2 1755.1 L1338.8 1790.3 L1342.4 1808.2 L1346 1818.2 L1349.6 1824.5 L1353.2 1828.6 L1356.8 1831.5 L1360.4 1833.6 L1364 1835.2 L1367.6 1836.4 L1371.2 1837.4 L1374.8 1838.2 L1378.4 1838.9 L1382 1839.4 L1385.6 1839.9 L1389.2 1840.3 L1392.8 1840.6 L1396.4 1840.9 L1400 1841.1 L1403.6 1841.4 L1407.2 1841.6 L1410.8 1841.7 L1414.4 1841.9 L1418 1842 L1421.6 1842.2 L1425.2 1842.3 L1428.8 1842.4 L1432.4 1842.5 L1436 1842.5 L1439.6 1842.6 L1443.2 1842.7 L1446.8 1842.8 L1450.4 1842.8 L1454 1842.9 L1457.6 1842.9 L1461.2 1843 L1464.8 1843 L1468.4 1843.1 L1472 1843.1 L1475.6 1843.1 L1479.2 1843.2 L1482.8 1843.2 L1486.4 1843.2 L1490 1843.3 L1493.6 1843.3 L1497.2 1843.3 L1500.8 1843.4 L1504.4 1843.4 L1508 1843.4 L1511.6 1843.4 L1515.2 1843.4 L1518.8 1843.5 L1522.4 1843.5 L1526 1843.5 L1529.6 1843.5 L1533.2 1843.5 L1536.8 1843.5 L1540.4 1843.5 L1544 1843.6 L1547.6 1843.6 L1551.2 1843.6 L1554.8 1843.6 L1558.4 1843.6 L1560 1843.6" class="r"/>
<path d="M1596 1843.7 L1599.6 1843.6 L1603.2 1843.6 L1606.8 1843.6 L1610.4 1843.6 L1614 1843.6 L1617.6 1843.5 L1621.2 1843.5 L1624.8 1843.5 L1628.4 1843.4 L1632 1843.4 L1635.6 1843.4 L1639.2 1843.3 L1642.8 1843.3 L1646.4 1843.2 L1650 1843.1 L1653.6 1843.1 L1657.2 1843 L1660.8 1842.9 L1664.4 1842.8 L1668 1842.6 L1671.6 1842.5 L1675.2 1842.3 L1678.8 1842.1 L1682.4 1841.8 L1686 1841.5 L1689.6 1841 L1693.2 1840.5 L1696.8 1839.8 L1700.4 1838.9 L1704 1837.6 L1707.6 1835.8 L1711.2 1833.2 L1714.8 1829.1 L1718.4 1822.2 L1722 1810.3 L1725.6 1788.5 L1729.2 1754.7 L1732.5 1734.9 L1736.4 1760.6 L1740 1792.9 L1743.6 1812.6 L1747.2 1823.4 L1750.8 1829.5 L1754.4 1833.2 L1758 1835.6 L1761.6 1837.1 L1765.2 1838.2 L1768.8 1838.8 L1772.4 1839.2 L1776 1839.4 L1779.6 1839.3 L1783.2 1838.9 L1786.8 1838.1 L1790.4 1836.7 L1794 1834.1 L1797.6 1829.4 L1801.2 1820.7 L1804.8 1808.3 L1807.3 1804 L1812 1816.2 L1815.6 1827 L1819.2 1833.2 L1822.8 1836.7 L1826.4 1838.7 L1830 1840 L1833.6 1840.8 L1837.2 1841.4 L1840.8 1841.9 L1844.4 1842.2 L1848 1842.4 L1851.6 1842.6 L1855.2 1842.7 L1858.8 1842.9 L1862.4 1842.9 L1866 1843 L1869.6 1843.1 L1873.2 1843.1 L1876.8 1843.2 L1880.4 1843.2 L1884 1843.2 L1887.6 1843.1 L1891.2 1843.1 L1894.8 1843 L1898.4 1842.8 L1902 1842.5 L1905.6 1842 L1909.2 1841.2 L1912.8 1839.9 L1917.4 1838.7 L1920 1839.2 L1923.6 1840.6 L1927.2 1841.7 L1930.8 1842.4 L1934.4 1842.8 L1938 1843.1 L1941.6 1843.2 L1945.2 1843.4 L1948.8 1843.4 L1952.4 1843.5 L1956 1843.5 L1959.6 1843.6 L1963.2 1843.6 L1966.8 1843.6 L1970.4 1843.6 L1974 1843.7 L1977.6 1843.7 L1981.2 1843.7 L1984.8 1843.7 L1988.4 1843.7 L1992 1843.7 L1995.6 1843.6 L1999.2 1843.6 L2002.8 1843.6 L2006.4 1843.6 L2010 1843.5 L2013.6 1843.4 L2017.2 1843.4 L2020.8 1843.2 L2024.4 1843 L2028 1842.8 L2031.6 1842.3 L2035.2 1841.6 L2038.8 1840.3 L2042.4 1838.4 L2046 1836.5 L2047.3 1836.3 L2049.6 1836.9 L2053.2 1839 L2056.8 1840.8 L2060.4 1841.8 L2064 1842.5 L2067.6 1842.9 L2071.2 1843.1 L2074.8 1843.3 L2078.4 1843.4 L2082 1843.5 L2085.6 1843.6 L2089.2 1843.7 L2092.8 1843.7 L2096.4 1843.7 L2100 1843.8 L2103.6 1843.8 L2107.2 1843.8 L2110.8 1843.8 L2114.4 1843.8 L2118 1843.8 L2121.6 1843.9 L2125.2 1843.9 L2128.8 1843.9 L2132.4 1843.9 L2136 1843.9 L2139.6 1843.9 L2143.2 1843.9 L2146.8 1843.9 L2150.4 1843.9 L2154 1843.9 L2157.6 1843.9 L2161.2 1843.9 L2164.8 1843.9 L2168.4 1843.9 L2172 1843.9 L2175.6 1843.9 L2179.2 1843.9 L2182.8 1843.9 L2186.4 1843.9 L2190 1843.9 L2193.6 1843.9 L2195 1843.9" class="r"/>
<path d="M140 1843.6 L143.6 1843.4 L147.2 1843.1 L150.8 1842.6 L154.4 1841.3 L158 1838.7 L161 1836.8 L165.2 1839.8 L168.8 1841.9 L172.4 1842.8 L176 1843.2 L179.6 1843.4 L183.2 1843.6 L186.8 1843.6 L190.4 1843.7 L194 1843.7 L197.6 1843.7 L201.2 1843.6 L204.8 1843.5 L208.4 1843.4 L212 1843 L215.6 1842.3 L219.2 1840.6 L222.7 1839 L226.4 1840.7 L230 1842.4 L233.6 1843.1 L237.2 1843.4 L240.8 1843.6 L244.4 1843.7 L248 1843.7 L251.6 1843.8 L255.2 1843.8 L258.8 1843.8 L262.4 1843.8 L266 1843.9 L269.6 1843.9 L273.2 1843.9 L276.8 1843.9 L280.4 1843.9 L284 1843.9 L287.6 1843.9 L291.2 1843.9 L294.8 1843.8 L298.4 1843.8 L302 1843.8 L305.6 1843.8 L309.2 1843.8 L312.8 1843.7 L316.4 1843.7 L320 1843.6 L323.6 1843.6 L327.2 1843.4 L330.8 1843.3 L334.4 1843 L338 1842.6 L341.6 1841.7 L345.2 1840 L348.8 1836 L353.3 1829.5 L356 1832.8 L359.6 1838.4 L363.2 1841 L366.8 1842.2 L370.4 1842.8 L374 1843.2 L377.6 1843.4 L381.2 1843.5 L384.8 1843.6 L388.4 1843.7 L392 1843.7 L395.6 1843.8 L399.2 1843.8 L402.8 1843.8 L406.4 1843.8 L410 1843.9 L413.6 1843.9 L417.2 1843.9 L420.8 1843.9 L424.4 1843.9 L428 1843.9 L431.6 1843.9 L435.2 1843.9 L438.8 1843.9 L442.4 1843.9 L446 1843.9 L449.6 1843.9 L453.2 1843.9 L456.8 1843.9 L460.4 1843.9 L464 1843.9 L467.6 1843.9 L471.2 1843.9 L474.8 1843.9 L478.4 1843.9 L482 1843.9 L485.6 1843.9 L489.2 1843.9 L492.8 1843.9 L496.4 1843.9 L500 1843.9 L503.6 1843.9 L507.2 1843.9 L510.8 1843.9 L514.4 1843.9 L518 1843.9 L521.6 1843.9 L525.2 1843.9 L528.8 1843.9 L532.4 1843.9 L536 1843.9 L539.6 1843.9 L543.2 1843.9 L546.8 1843.9 L550.4 1843.9 L554 1843.9 L557.6 1843.9 L561.2 1843.9 L564.8 1843.9 L568.4 1843.9 L572 1843.9 L575.6 1843.9 L579.2 1843.9 L582.8 1843.9 L586.4 1843.9 L590 1843.9 L593.6 1843.9 L597.2 1843.9 L600.8 1843.9 L604.4 1843.9 L608 1843.9 L611.6 1843.9 L615.2 1843.9 L618.8 1843.9 L622.4 1843.9 L626 1843.9 L629.6 1843.8 L633.2 1843.8 L636.8 1843.8 L640.4 1843.8 L644 1843.8 L647.6 1843.8 L651.2 1843.8 L654.8 1843.7 L658.4 1843.7 L662 1843.7 L665.6 1843.7 L669.2 1843.6 L672.8 1843.6 L676.4 1843.5 L680 1843.4 L683.6 1843.3 L687.2 1843.2 L690.8 1843 L694.4 1842.7 L698 1842.2 L701.6 1841.5 L705.2 1840.1 L708.8 1837.5 L712.4 1831.6 L716 1819.6 L718.4 1814 L723.2 1828.3 L726.8 1836 L730.4 1839.3 L734 1840.9 L737.6 1841.7 L741.2 1842.1 L744.8 1842.3 L748.4 1842.3 L752 1841.9 L755.6 1841 L759.2 1838.9 L762.8 1834.8 L764.5 1833.8 L766.4 1835.1 L770 1839.2 L773.6 1841.4 L777.2 1842.4 L780.8 1842.9 L784.4 1843.2 L788 1843.3 L791.6 1843.4 L795.2 1843.5 L798.8 1843.6 L802.4 1843.6 L806 1843.6 L809.6 1843.7 L813.2 1843.7 L816.8 1843.7 L820.4 1843.7 L824 1843.7 L827.6 1843.7 L831.2 1843.7 L834.8 1843.7 L838.4 1843.7 L842 1843.7 L845.6 1843.7 L849.2 1843.6 L852.8 1843.6 L856.4 1843.6 L860 1843.5 L863.6 1843.4 L867.2 1843.3 L870.8 1843 L874.4 1842.7 L878 1841.9 L881.6 1840.3 L885.2 1836.7 L888.4 1833.8 L892.4 1837.7 L896 1840.7 L899.6 1842.1 L903.2 1842.7 L906.8 1843 L910.4 1843.2 L914 1843.2 L917.6 1843.3 L921.2 1843.3 L924.8 1843.2 L928.4 1843.1 L932 1843 L935.6 1842.7 L939.2 1842.1 L942.8 1840.9 L946.4 1838.2 L950.9 1833.8 L953.6 1836 L957.2 1839.7 L960.8 1841.5 L964.4 1842.2 L968 1842.6 L971.6 1842.7 L975.2 1842.7 L978.8 1842.6 L982.4 1842.3 L986 1841.7 L989.6 1840.6 L993.2 1838.1 L996.8 1832.6 L1000.4 1826.9 L1004 1832.6 L1007.6 1838.1 L1011.2 1840.6 L1014.8 1841.7 L1018.4 1842.3 L1022 1842.6 L1025.6 1842.8 L1029.2 1842.9 L1032.8 1842.9 L1036.4 1842.9 L1040 1842.8 L1043.6 1842.7 L1047.2 1842.6 L1050.8 1842.3 L1054.4 1841.9 L1058 1841.2 L1061.6 1839.7 L1065.2 1836.4 L1068.8 1830.1 L1070.7 1828.2 L1072.4 1829.7 L1076 1835.7 L1079.6 1838.9 L1083.2 1840.1 L1086.8 1840.4 L1090.4 1840 L1094 1838.8 L1097.6 1836.1 L1101.2 1829.8 L1105.2 1821.7 L1108.4 1827.5 L1112 1834.6 L1115.6 1837.7 L1119.2 1838.8 L1122.8 1839.1 L1126.4 1838.8 L1130 1838 L1133.6 1836.7 L1137.2 1834.4 L1140.8 1830.4 L1144.4 1822.9 L1148 1807.6 L1151.6 1775.9 L1155.6 1739.8 L1158.8 1762.6 L1162.4 1790.3 L1166.4 1795.9 L1169.6 1813.5 L1173.2 1827.4 L1176.8 1833.4 L1180.4 1836.4 L1184 1838.1 L1187.6 1839.1 L1191.2 1839.8 L1194.8 1840.2 L1198.4 1840.4 L1202 1840.4 L1205.6 1840.4 L1209.2 1840.1 L1212.8 1839.7 L1216.4 1838.9 L1220 1837.6 L1223.6 1835.5 L1227.2 1831.5 L1230.8 1823.8 L1234.4 1807.5 L1238 1780.7 L1239.7 1774.3 L1241.6 1780.1 L1245.2 1801 L1248.8 1804.1 L1250.4 1804.5 L1252.4 1812.8 L1256 1827.9 L1259.6 1834.3 L1263.2 1837.2 L1266.8 1838.8 L1270.4 1839.6 L1274 1840.2 L1277.6 1840.4 L1281.2 1840.5 L1284.8 1840.4 L1288.4 1840.2 L1292 1839.7 L1295.6 1838.8 L1299.2 1837.4 L1302.8 1834.8 L1306.4 1829.8 L1310 1819 L1313.6 1800.2 L1315 1795.9 L1317.2 1798.6 L1320.8 1803.7 L1324.4 1790.1 L1328 1774.3 L1331.6 1795.4 L1335.2 1817.7 L1338.8 1828.8 L1342.4 1834.2 L1346 1837.2 L1349.6 1839 L1353.2 1840.1 L1356.8 1840.9 L1360.4 1841.5 L1364 1841.9 L1367.6 1842.2 L1371.2 1842.4 L1374.8 1842.6 L1378.4 1842.8 L1382 1842.9 L1385.6 1843 L1389.2 1843.1 L1392.8 1843.2 L1396.4 1843.3 L1400 1843.3 L1403.6 1843.4 L1407.2 1843.4 L1410.8 1843.5 L1414.4 1843.5 L1418 1843.5 L1421.6 1843.6 L1425.2 1843.6 L1428.8 1843.6 L1432.4 1843.6 L1436 1843.6 L1439.6 1843.7 L1443.2 1843.7 L1446.8 1843.7 L1450.4 1843.7 L1454 1843.7 L1457.6 1843.7 L1461.2 1843.7 L1464.8 1843.8 L1468.4 1843.8 L1472 1843.8 L1475.6 1843.8 L1479.2 1843.8 L1482.8 1843.8 L1486.4 1843.8 L1490 1843.8 L1493.6 1843.8 L1497.2 1843.8 L1500.8 1843.8 L1504.4 1843.8 L1508 1843.8 L1511.6 1843.8 L1515.2 1843.9 L1518.8 1843.9 L1522.4 1843.9 L1526 1843.9 L1529.6 1843.9 L1533.2 1843.9 L1536.8 1843.9 L1540.4 1843.9 L1544 1843.9 L1547.6 1843.9 L1551.2 1843.9 L1554.8 1843.9 L1558.4 1843.9 L1560 1843.9" class="b"/>
<path d="M1596 1843.2 L1599.6 1843.2 L1603.2 1843.1 L1606.8 1843.1 L1610.4 1843 L1614 1843 L1617.6 1842.9 L1621.2 1842.8 L1624.8 1842.8 L1628.4 1842.7 L1632 1842.6 L1635.6 1842.5 L1639.2 1842.4 L1642.8 1842.3 L1646.4 1842.1 L1650 1842 L1653.6 1841.8 L1657.2 1841.6 L1660.8 1841.4 L1664.4 1841.1 L1668 1840.8 L1671.6 1840.4 L1675.2 1840 L1678.8 1839.4 L1682.4 1838.8 L1686 1838 L1689.6 1837 L1693.2 1835.8 L1696.8 1834.2 L1700.4 1832 L1704 1829 L1707.6 1824.7 L1711.2 1818.4 L1714.8 1808.5 L1718.4 1791.8 L1722 1761.9 L1725.6 1705 L1729.2 1609.3 L1732.5 1549 L1736.4 1626.8 L1740 1716.8 L1743.6 1767.8 L1747.2 1794.7 L1750.8 1809.7 L1754.4 1818.6 L1758 1824.3 L1761.6 1827.9 L1765.2 1830.4 L1768.8 1832 L1772.4 1833 L1776 1833.4 L1779.6 1833.2 L1783.2 1832.4 L1786.8 1830.7 L1790.4 1827.6 L1794 1821.9 L1797.6 1811.5 L1801.2 1792.3 L1804.8 1765.2 L1807.3 1755.6 L1812 1782.6 L1815.6 1806.3 L1819.2 1820 L1822.8 1827.7 L1826.4 1832.2 L1830 1835 L1833.6 1836.8 L1837.2 1838.1 L1840.8 1839.1 L1844.4 1839.7 L1848 1840.3 L1851.6 1840.7 L1855.2 1841 L1858.8 1841.2 L1862.4 1841.4 L1866 1841.6 L1869.6 1841.7 L1873.2 1841.7 L1876.8 1841.8 L1880.4 1841.8 L1884 1841.7 L1887.6 1841.6 L1891.2 1841.3 L1894.8 1840.9 L1898.4 1840.3 L1902 1839.2 L1905.6 1837.2 L1909.2 1833.3 L1912.8 1825.6 L1917.4 1815.5 L1920 1819.9 L1923.6 1829.7 L1927.2 1835.5 L1930.8 1838.4 L1934.4 1839.9 L1938 1840.8 L1941.6 1841.3 L1945.2 1841.7 L1948.8 1841.9 L1952.4 1842 L1956 1842.1 L1959.6 1842.2 L1963.2 1842.1 L1966.8 1842.1 L1970.4 1842 L1974 1841.9 L1977.6 1841.7 L1981.2 1841.4 L1984.8 1841 L1988.4 1840.5 L1992 1839.7 L1995.6 1838.5 L1999.2 1836.6 L2002.8 1833.3 L2006.4 1827 L2010 1814.6 L2013.6 1797.8 L2015 1795.2 L2017.2 1800.3 L2020.8 1816.3 L2024.4 1825.6 L2028 1829 L2031.6 1828.8 L2035.2 1825.2 L2038.8 1816 L2042.4 1796.6 L2046 1770.4 L2047.3 1767.2 L2049.6 1777 L2053.2 1804.5 L2056.8 1821.4 L2060.4 1830 L2064 1834.5 L2067.6 1837.2 L2071.2 1838.8 L2074.8 1839.9 L2078.4 1840.7 L2082 1841.3 L2085.6 1841.7 L2089.2 1842 L2092.8 1842.3 L2096.4 1842.5 L2100 1842.6 L2103.6 1842.8 L2107.2 1842.9 L2110.8 1843 L2114.4 1843.1 L2118 1843.2 L2121.6 1843.2 L2125.2 1843.3 L2128.8 1843.3 L2132.4 1843.4 L2136 1843.4 L2139.6 1843.4 L2143.2 1843.5 L2146.8 1843.5 L2150.4 1843.5 L2154 1843.6 L2157.6 1843.6 L2161.2 1843.6 L2164.8 1843.6 L2168.4 1843.6 L2172 1843.6 L2175.6 1843.7 L2179.2 1843.7 L2182.8 1843.7 L2186.4 1843.7 L2190 1843.7 L2193.6 1843.7 L2195 1843.7" class="b"/>
<path d="M136.4 1858.6 V1527.4 H2197.5 V1858.6" class="fr"/>
<path d="M134.4 1858.6 H1563 M1602 1858.6 H2199.5" class="fr" style="stroke-width:4.6"/>
<path d="M1545 1871.1 L1579.5 1845.9 M1581 1871.1 L1615.5 1845.6" class="brk"/>
<path d="M138.1 1858.6 v8 M247.5 1858.6 v14 M356.9 1858.6 v8 M466.4 1858.6 v14 M575.9 1858.6 v8 M685.3 1858.6 v14 M794.8 1858.6 v8 M904.2 1858.6 v14 M1013.6 1858.6 v8 M1123.1 1858.6 v14 M1232.6 1858.6 v8 M1342 1858.6 v14 M1451.5 1858.6 v8 M1672.2 1858.6 v8 M1822.4 1858.6 v14 M1972.6 1858.6 v8 M2122.8 1858.6 v14" class="tk"/>
<text class="lr" transform="translate(173.2 1805.3) rotate(-90)" textLength="89.8" lengthAdjust="spacingAndGlyphs">32:522</text>
<text class="lr" transform="translate(283.2 1789.4) rotate(-90)" textLength="89.8" lengthAdjust="spacingAndGlyphs">37:619</text>
<text class="lr" transform="translate(521 1790.7) rotate(-90)" textLength="89.8" lengthAdjust="spacingAndGlyphs">45:838</text>
<text class="lb" transform="translate(716.8 1790.7) rotate(-90)" textLength="106.1" lengthAdjust="spacingAndGlyphs">52:1031</text>
<text class="lr" transform="translate(747.6 1804.5) rotate(-90)" textLength="106.1" lengthAdjust="spacingAndGlyphs">53:1031</text>
<text class="lr" transform="translate(899 1759.2) rotate(-90)" textLength="106.1" lengthAdjust="spacingAndGlyphs">56:1185</text>
<text class="lr" transform="translate(1009.4 1670.9) rotate(-90)" textLength="106.1" lengthAdjust="spacingAndGlyphs">60:1287</text>
<text class="lb" transform="translate(1152.5 1733.4) rotate(-90)" textLength="106.1" lengthAdjust="spacingAndGlyphs">67:1430</text>
<text class="lr" transform="translate(1189 1711.8) rotate(-90)" textLength="106.1" lengthAdjust="spacingAndGlyphs">68:1438</text>
<text class="lb" transform="translate(1226.6 1800.2) rotate(-90)" textLength="106.1" lengthAdjust="spacingAndGlyphs">72:1505</text>
<text class="lr" transform="translate(1262.4 1720.4) rotate(-90)" textLength="106.1" lengthAdjust="spacingAndGlyphs">73:1511</text>
<text class="lr" transform="translate(1299 1647.2) rotate(-90)" textLength="106.1" lengthAdjust="spacingAndGlyphs">75:1569</text>
<text class="lr" transform="translate(1373.2 1655.8) rotate(-90)" textLength="106.1" lengthAdjust="spacingAndGlyphs">77:1586</text>
<text class="lb" transform="translate(1380 1804.5) rotate(-90)" textLength="106.1" lengthAdjust="spacingAndGlyphs">78:1589</text>
<text class="lb" transform="translate(1770.3 1654.2) rotate(-90)" textLength="106.1" lengthAdjust="spacingAndGlyphs">80:2940</text>
<text class="lb" transform="translate(1819.3 1746) rotate(-90)" textLength="106.1" lengthAdjust="spacingAndGlyphs">81:2988</text>
<text class="lb" transform="translate(1931.5 1804.9) rotate(-90)" textLength="106.1" lengthAdjust="spacingAndGlyphs">84:3064</text>
<text class="lb" transform="translate(2082.5 1775) rotate(-90)" textLength="106.1" lengthAdjust="spacingAndGlyphs">88:3150</text>
<text class="big" x="153.5" y="1654.5" textLength="87.5" lengthAdjust="spacingAndGlyphs">A</text><text class="sub" x="238" y="1654.5" textLength="46" lengthAdjust="spacingAndGlyphs">2</text>
<text class="nm" x="1466" y="1640.7" textLength="206" lengthAdjust="spacingAndGlyphs">Zn(mal)</text><text class="nm2" x="1673" y="1652.8">2</text>
<text class="nm" x="1514" y="1706">H</text><text class="nm3" x="1555" y="1706">2</text><text class="nm" x="1575" y="1706">O</text>
<text class="ir" x="1897" y="1623.8" textLength="125" lengthAdjust="spacingAndGlyphs">Int<tspan style="font-size:68%" dy="-6">×</tspan><tspan dy="6">4</tspan></text>
</g>
<g>
<line x1="247.5" y1="1889.6" x2="247.5" y2="2209.9" class="gM"/>
<line x1="356.9" y1="1889.6" x2="356.9" y2="2209.9" class="gm"/>
<line x1="466.4" y1="1889.6" x2="466.4" y2="2209.9" class="gM"/>
<line x1="575.9" y1="1889.6" x2="575.9" y2="2209.9" class="gm"/>
<line x1="685.3" y1="1889.6" x2="685.3" y2="2209.9" class="gM"/>
<line x1="794.8" y1="1889.6" x2="794.8" y2="2209.9" class="gm"/>
<line x1="904.2" y1="1889.6" x2="904.2" y2="2209.9" class="gM"/>
<line x1="1013.6" y1="1889.6" x2="1013.6" y2="2209.9" class="gm"/>
<line x1="1123.1" y1="1889.6" x2="1123.1" y2="2209.9" class="gM"/>
<line x1="1232.6" y1="1889.6" x2="1232.6" y2="2209.9" class="gm"/>
<line x1="1342" y1="1889.6" x2="1342" y2="2209.9" class="gM"/>
<line x1="1451.5" y1="1889.6" x2="1451.5" y2="2209.9" class="gm"/>
<line x1="1672.2" y1="1889.6" x2="1672.2" y2="2209.9" class="gm"/>
<line x1="1822.4" y1="1889.6" x2="1822.4" y2="2209.9" class="gM"/>
<line x1="1972.6" y1="1889.6" x2="1972.6" y2="2209.9" class="gm"/>
<line x1="2122.8" y1="1889.6" x2="2122.8" y2="2209.9" class="gM"/>
<path d="M140 2194 L143.6 2196.6 L147.2 2199 L150.8 2199.8 L154.4 2199.6 L158 2198.7 L161.6 2196.5 L165.2 2191.3 L168.8 2181 L171 2176.7 L172.4 2178.2 L176 2187.2 L179.6 2190 L183.2 2186.5 L185.2 2185.3 L186.8 2187.1 L190.4 2194.2 L194 2198.1 L197.6 2199.9 L201.2 2200.8 L204.8 2201.3 L208.4 2201.6 L212 2201.8 L215.6 2201.9 L219.2 2201.9 L222.8 2201.9 L226.4 2201.7 L230 2201.2 L233.6 2200.1 L237.2 2197.6 L240 2196 L244.4 2198.9 L248 2200.8 L251.6 2201.7 L255.2 2202.1 L258.8 2202.3 L262.4 2202.4 L266 2202.5 L269.6 2202.6 L273.2 2202.6 L276.8 2202.6 L280.4 2202.6 L284 2202.7 L287.6 2202.7 L291.2 2202.7 L294.8 2202.7 L298.4 2202.7 L302 2202.7 L305.6 2202.7 L309.2 2202.7 L312.8 2202.7 L316.4 2202.6 L320 2202.6 L323.6 2202.6 L327.2 2202.5 L330.8 2202.5 L334.4 2202.4 L338 2202.3 L341.6 2202.1 L345.2 2201.7 L348.8 2201.1 L352.4 2199.8 L356 2196.8 L360.6 2191.8 L363.2 2194.1 L366.8 2198.4 L370.4 2200.5 L374 2201.4 L377.6 2201.8 L381.2 2202.1 L384.8 2202.3 L388.4 2202.3 L392 2202.4 L395.6 2202.4 L399.2 2202.5 L402.8 2202.5 L406.4 2202.5 L410 2202.5 L413.6 2202.5 L417.2 2202.4 L420.8 2202.4 L424.4 2202.4 L428 2202.3 L431.6 2202.3 L435.2 2202.2 L438.8 2202.2 L442.4 2202.1 L446 2202 L449.6 2201.8 L453.2 2201.6 L456.8 2201.4 L460.4 2201.1 L464 2200.7 L467.6 2200 L471.2 2199.1 L474.8 2197.5 L478.4 2194.7 L482 2189.1 L485.6 2177.5 L490 2161.6 L492.8 2169.2 L496.4 2182.6 L500 2188.5 L503.6 2188.9 L507.2 2184.2 L510.8 2171.7 L514.5 2159.5 L518 2171.8 L521.6 2186.1 L525.2 2193.1 L528.8 2196.6 L532.4 2198.5 L536 2199.6 L539.6 2200.3 L543.2 2200.7 L546.8 2201 L550.4 2201.2 L554 2201.4 L557.6 2201.4 L561.2 2201.4 L564.8 2201.4 L568.4 2201.2 L572 2201 L575.6 2200.5 L579.2 2199.8 L582.8 2198.3 L586.4 2195.3 L590 2188.8 L594.7 2178.9 L597.2 2183 L600.8 2192 L604.4 2196.8 L608 2199.2 L611.6 2200.4 L615.2 2201 L618.8 2201.5 L622.4 2201.7 L626 2201.9 L629.6 2202.1 L633.2 2202.2 L636.8 2202.3 L640.4 2202.3 L644 2202.4 L647.6 2202.4 L651.2 2202.5 L654.8 2202.5 L658.4 2202.5 L662 2202.5 L665.6 2202.5 L669.2 2202.5 L672.8 2202.6 L676.4 2202.6 L680 2202.6 L683.6 2202.6 L687.2 2202.6 L690.8 2202.5 L694.4 2202.5 L698 2202.5 L701.6 2202.5 L705.2 2202.5 L708.8 2202.4 L712.4 2202.3 L716 2202.2 L719.6 2202 L723.2 2201.6 L726.8 2200.7 L730.4 2198.8 L733.4 2197.4 L737.6 2199.6 L741.2 2201.1 L744.8 2201.8 L748.4 2202.1 L752 2202.2 L755.6 2202.3 L759.2 2202.4 L762.8 2202.4 L766.4 2202.4 L770 2202.5 L773.6 2202.5 L777.2 2202.5 L780.8 2202.5 L784.4 2202.4 L788 2202.4 L791.6 2202.4 L795.2 2202.4 L798.8 2202.4 L802.4 2202.4 L806 2202.4 L809.6 2202.4 L813.2 2202.3 L816.8 2202.3 L820.4 2202.3 L824 2202.2 L827.6 2202.2 L831.2 2202.2 L834.8 2202.1 L838.4 2202.1 L842 2202 L845.6 2202 L849.2 2201.9 L852.8 2201.8 L856.4 2201.7 L860 2201.6 L863.6 2201.5 L867.2 2201.3 L870.8 2201.1 L874.4 2200.9 L878 2200.6 L881.6 2200.2 L885.2 2199.6 L888.8 2198.8 L892.4 2197.7 L896 2195.9 L899.6 2192.7 L903.2 2187 L906.8 2175.5 L910.4 2156 L913 2147.4 L917.6 2167.1 L921.2 2182 L924.8 2189.5 L928.4 2193 L932 2194.7 L935.6 2195.2 L939.2 2194.7 L942.8 2192.9 L946.4 2188.7 L950 2179.4 L954.3 2167.2 L957.2 2174.1 L960.8 2185.5 L964.4 2191.3 L968 2193.7 L971.6 2194.7 L975.2 2194.8 L978.8 2194.4 L982.4 2193.5 L986 2192.1 L989.6 2189.9 L993.2 2186.6 L996.8 2181.6 L1000.4 2173.5 L1004 2159.9 L1007.6 2135 L1011.2 2087.6 L1014.8 2011.3 L1017.7 1973.3 L1022 2042.9 L1025.6 2109.7 L1029.2 2146.7 L1032.8 2166.3 L1036.4 2177.4 L1040 2184.1 L1043.6 2188.4 L1047.2 2191.3 L1050.8 2193.4 L1054.4 2194.9 L1058 2196 L1061.6 2196.8 L1065.2 2197.4 L1068.8 2197.8 L1072.4 2198.1 L1076 2198.2 L1079.6 2198.2 L1083.2 2198 L1086.8 2197.4 L1090.4 2196.1 L1094 2193.6 L1097.6 2188.5 L1101.7 2183.2 L1104.8 2186.7 L1108.4 2192.4 L1112 2195.4 L1115.6 2196.9 L1119.2 2197.5 L1122.8 2197.7 L1126.4 2197.5 L1130 2197.1 L1133.6 2196.4 L1137.2 2195.3 L1140.8 2193.5 L1144.4 2190.6 L1148 2185.6 L1151.6 2176 L1155.2 2155.6 L1158.8 2111.1 L1162 2072.4 L1166 2101.8 L1169.6 2099.1 L1171.6 2092.7 L1173.2 2109.3 L1176.8 2156.4 L1180.4 2175.4 L1184 2180.6 L1187.6 2178.1 L1190 2176.7 L1194.8 2186.9 L1198.4 2192.1 L1202 2194.5 L1205.6 2195.7 L1209.2 2196.1 L1212.8 2196.1 L1216.4 2195.4 L1220 2193.9 L1223.6 2190.3 L1227.2 2182.1 L1231 2172.4 L1234.4 2178.9 L1238 2184.4 L1241.6 2182.5 L1244 2181 L1248.8 2188.1 L1252.4 2191.4 L1256 2192.2 L1259.6 2191.6 L1263.2 2189.8 L1266.8 2186 L1270.4 2178.4 L1274 2161.8 L1278.4 2135.8 L1281.2 2146.4 L1284.8 2162.8 L1288.4 2165.7 L1292 2158.4 L1295.6 2138.6 L1299.2 2094.2 L1302.8 2012 L1305.2 1976.3 L1310 2058.9 L1313.6 2102.1 L1317.2 2100.5 L1320.8 2053.8 L1323.7 2019.4 L1328 2088.2 L1331.6 2132.2 L1335.2 2148.2 L1338.8 2149.7 L1342.4 2139.8 L1346 2113.8 L1349.6 2057 L1353.2 1955.5 L1356 1904.3 L1360.4 2007.7 L1364 2093.2 L1367.6 2137.3 L1371.2 2160 L1374.8 2172.8 L1378.4 2180.6 L1382 2185.7 L1385.6 2189.1 L1389.2 2191.6 L1392.8 2193.5 L1396.4 2194.9 L1400 2196 L1403.6 2196.9 L1407.2 2197.6 L1410.8 2198.2 L1414.4 2198.7 L1418 2199.1 L1421.6 2199.5 L1425.2 2199.8 L1428.8 2200 L1432.4 2200.3 L1436 2200.5 L1439.6 2200.6 L1443.2 2200.8 L1446.8 2201 L1450.4 2201.1 L1454 2201.2 L1457.6 2201.3 L1461.2 2201.4 L1464.8 2201.5 L1468.4 2201.6 L1472 2201.6 L1475.6 2201.7 L1479.2 2201.8 L1482.8 2201.8 L1486.4 2201.9 L1490 2201.9 L1493.6 2202 L1497.2 2202 L1500.8 2202.1 L1504.4 2202.1 L1508 2202.1 L1511.6 2202.2 L1515.2 2202.2 L1518.8 2202.2 L1522.4 2202.3 L1526 2202.3 L1529.6 2202.3 L1533.2 2202.3 L1536.8 2202.4 L1540.4 2202.4 L1544 2202.4 L1547.6 2202.4 L1551.2 2202.4 L1554.8 2202.5 L1558.4 2202.5 L1560 2202.5" class="r"/>
<path d="M1596 2204 L1597.5 2204 L1599 2204 L1600.5 2204 L1602 2204 L1603.5 2204 L1605 2204 L1606.5 2204 L1608 2204 L1609.5 2204 L1611 2204 L1612.5 2203.9 L1614 2203.9 L1615.5 2203.9 L1617 2203.9 L1618.5 2203.9 L1620 2203.9 L1621.5 2203.9 L1623 2203.9 L1624.5 2203.8 L1626 2203.8 L1627.5 2203.8 L1629 2203.8 L1630.5 2203.8 L1632 2203.8 L1633.5 2203.7 L1635 2203.7 L1636.5 2203.7 L1638 2203.7 L1639.5 2203.7 L1641 2203.6 L1642.5 2203.6 L1644 2203.6 L1645.5 2203.6 L1647 2203.5 L1648.5 2203.5 L1650 2203.5 L1651.5 2203.5 L1653 2203.4 L1654.5 2203.4 L1656 2203.4 L1657.5 2203.3 L1659 2203.3 L1660.5 2203.2 L1662 2203.1 L1663.5 2203.1 L1665 2203 L1666.5 2202.9 L1668 2202.8 L1669.5 2202.7 L1671 2202.6 L1672.5 2202.5 L1674 2202.5 L1675.5 2202.4 L1677 2202.2 L1678.5 2202.1 L1680 2202 L1681.5 2201.9 L1683 2201.8 L1684.5 2201.7 L1686 2201.6 L1687.5 2201.5 L1689 2201.3 L1690.5 2201.2 L1692 2201.1 L1693.5 2201 L1695 2200.8 L1696.5 2200.7 L1698 2200.6 L1700 2200.4 L1701 2200.3 L1702.5 2200.2 L1704 2200.1 L1705.5 2199.9 L1707 2199.8 L1708.5 2199.7 L1710 2199.6 L1711.5 2199.5 L1713 2199.3 L1714.5 2199.2 L1716 2199 L1717.5 2198.9 L1719 2198.7 L1720.5 2198.6 L1722 2198.4 L1723.5 2198.2 L1725 2197.9 L1726.5 2197.7 L1728 2197.5 L1729.5 2197.2 L1731 2196.9 L1732.5 2196.6 L1734 2196.2 L1735.5 2195.9 L1737 2195.5 L1738.5 2194.9 L1740 2194.1 L1741.5 2192.9 L1743 2191.4 L1744.5 2189.7 L1746 2187.7 L1747.5 2185.4 L1749 2182.8 L1750.5 2180 L1752 2176.9 L1753.5 2173.7 L1755 2170.1 L1756.7 2165.9 L1758 2161.2 L1759.5 2153.1 L1761 2143.3 L1762.5 2133.1 L1764 2123.5 L1765.3 2116.7 L1767 2108.3 L1768.5 2101.6 L1770.2 2098.2 L1771.5 2100.9 L1773 2108.7 L1774.5 2118.5 L1776.4 2129 L1777.5 2133.5 L1779 2140 L1780.5 2145.9 L1782 2150.4 L1783.7 2152.4 L1785 2150.8 L1786.5 2145.9 L1788 2139 L1789.5 2131.5 L1791 2124.8 L1792.5 2120.2 L1793.6 2119.1 L1795.5 2120.8 L1797 2124 L1798.5 2128.3 L1800 2133.2 L1801 2136.4 L1803 2145.7 L1804.5 2154.9 L1806 2163.9 L1807.5 2170.9 L1808.4 2173.3 L1810.5 2176.9 L1812 2179.2 L1813.5 2181.3 L1815 2183.1 L1816.5 2184.7 L1818 2186 L1819.5 2187 L1821 2187.7 L1822.5 2188.1 L1823.2 2188.1 L1824 2188.1 L1825.5 2188 L1827 2187.9 L1828.5 2187.8 L1830 2187.6 L1831.5 2187.3 L1833 2187 L1834.5 2186.6 L1836 2186.2 L1837.9 2185.6 L1839 2184.8 L1840.5 2182.3 L1842 2178.5 L1843.5 2173.5 L1845 2167.5 L1846.5 2160.6 L1848 2153.1 L1849.5 2145.1 L1850.2 2141.3 L1851 2136.3 L1852.5 2123.9 L1854 2108.7 L1855.5 2091.8 L1857.6 2067.4 L1858.5 2055.3 L1860 2030 L1861.5 2005.3 L1863 1988.8 L1863.8 1986.1 L1864.5 1987.7 L1866 1999.9 L1867.5 2018.2 L1868.7 2032.9 L1870.5 2056.9 L1872 2079.9 L1873.5 2101.4 L1874.9 2116.7 L1876.5 2130.4 L1878 2142.8 L1879.5 2153.7 L1881 2162.2 L1882.5 2167.3 L1883.5 2168.4 L1885.5 2166.8 L1887 2164.2 L1888.5 2161.2 L1890 2158.3 L1892.1 2156.1 L1893 2155.8 L1894.5 2155.4 L1896 2155.1 L1897.5 2154.9 L1898.3 2154.9 L1899 2155.2 L1900.5 2157.4 L1902 2161.1 L1903.5 2165.5 L1905 2169.6 L1906.9 2173.3 L1908 2174.6 L1909.5 2176.4 L1911 2178.1 L1912.5 2179.6 L1914 2180.9 L1915.5 2182 L1917 2182.8 L1918.5 2183.2 L1919.2 2183.2 L1920 2183.1 L1921.5 2182.5 L1923 2181.2 L1924.5 2179.5 L1926 2177.3 L1927.5 2174.7 L1929 2171.7 L1930.5 2168.4 L1931.5 2166 L1933.5 2158.6 L1935 2150.1 L1936.5 2139.2 L1938 2126.4 L1939.5 2112.1 L1941.4 2092 L1942.5 2077.1 L1944 2050.5 L1945.5 2021 L1946.3 2005.8 L1947 1990.8 L1948.5 1954.2 L1950 1935.6 L1951.5 1944.3 L1953 1964.5 L1954.9 1993.5 L1956 2009.9 L1957.5 2035.4 L1959 2061.5 L1961.1 2092 L1962 2102.4 L1963.5 2119.2 L1965 2134.4 L1966.5 2147.2 L1968.5 2158.5 L1969.5 2162.1 L1971 2167.3 L1972.5 2171.8 L1974 2175.6 L1975.5 2178.4 L1977 2180.2 L1978.3 2180.7 L1980 2180.1 L1981.5 2178.6 L1983 2176.6 L1984.5 2174.3 L1986 2171.9 L1987.5 2169.6 L1989 2167.7 L1990.5 2166.4 L1991.9 2166 L1993.5 2167.4 L1995 2170.7 L1996.5 2175.2 L1998 2180.1 L1999.5 2184.8 L2001 2188.5 L2003 2190.6 L2004 2190.6 L2005.5 2190.4 L2007 2190.2 L2008.5 2189.9 L2010 2189.5 L2011.5 2189.1 L2013 2188.7 L2014.5 2188.3 L2016 2187.9 L2017.5 2187.5 L2019 2187.2 L2020.5 2187 L2022 2186.9 L2022.7 2186.9 L2023.5 2187 L2025 2187.6 L2026.5 2188.6 L2028 2189.8 L2029.5 2191.2 L2031 2192.7 L2032.5 2193.9 L2034 2194.9 L2035.5 2195.4 L2036.2 2195.5 L2037 2195.4 L2038.5 2194.9 L2040 2194.1 L2041.5 2193 L2043 2191.8 L2044.5 2190.6 L2046 2189.5 L2047.5 2188.7 L2049 2188.2 L2049.8 2188.1 L2050.5 2188.2 L2052 2188.6 L2053.5 2189.5 L2055 2190.6 L2056.5 2192 L2058 2193.4 L2059.5 2194.8 L2061 2196.1 L2062.5 2197.1 L2064.5 2198 L2065.5 2198.2 L2067 2198.6 L2068.5 2199 L2070 2199.3 L2071.5 2199.6 L2073 2199.9 L2074.5 2200.2 L2076 2200.5 L2077.5 2200.7 L2079 2201 L2080.5 2201.2 L2082 2201.4 L2083.5 2201.6 L2085 2201.8 L2086.5 2202 L2088 2202.1 L2089.5 2202.3 L2091 2202.4 L2092.5 2202.5 L2094 2202.6 L2095.5 2202.7 L2097 2202.8 L2098.5 2202.9 L2100 2202.9 L2101.5 2202.9 L2103 2203 L2104.5 2203 L2106 2203 L2107.5 2203.1 L2109 2203.1 L2110.5 2203.1 L2112 2203.2 L2113.5 2203.2 L2115 2203.2 L2116.5 2203.3 L2118 2203.3 L2119.5 2203.3 L2121 2203.3 L2122.5 2203.4 L2124 2203.4 L2125.5 2203.4 L2127 2203.5 L2128.5 2203.5 L2130 2203.5 L2131.5 2203.5 L2133 2203.6 L2134.5 2203.6 L2136 2203.6 L2137.5 2203.6 L2139 2203.6 L2140.5 2203.7 L2142 2203.7 L2143.5 2203.7 L2145 2203.7 L2146.5 2203.7 L2148 2203.7 L2149.5 2203.8 L2151 2203.8 L2152.5 2203.8 L2154 2203.8 L2155.5 2203.8 L2157 2203.8 L2158.5 2203.8 L2160 2203.9 L2161.5 2203.9 L2163 2203.9 L2164.5 2203.9 L2166 2203.9 L2167.5 2203.9 L2169 2203.9 L2170.5 2203.9 L2172 2203.9 L2173.5 2203.9 L2175 2204 L2176.5 2204 L2178 2204 L2179.5 2204 L2181 2204 L2182.5 2204 L2184 2204 L2185.5 2204 L2187 2204 L2188.5 2204 L2190 2204 L2191.5 2204 L2193 2204 L2195 2204" class="r"/>
<path d="M140 2198 L143.6 2199.4 L147.2 2200.7 L150.8 2201.1 L154.4 2201 L158 2200.3 L161.6 2198.8 L165.2 2195.3 L168.8 2188.1 L171 2185.3 L172.4 2186.6 L176 2194.1 L179.6 2198.4 L183.2 2200.3 L186.8 2201.2 L190.4 2201.7 L194 2202 L197.6 2202.1 L201.2 2202.2 L204.8 2202.1 L208.4 2202 L212 2201.8 L215.6 2201.2 L219.2 2199.7 L222.8 2196.9 L224.8 2196 L226.4 2196.6 L230 2199.5 L233.6 2201.2 L237.2 2201.9 L240.8 2202.2 L244.4 2202.4 L248 2202.5 L251.6 2202.6 L255.2 2202.7 L258.8 2202.7 L262.4 2202.7 L266 2202.7 L269.6 2202.8 L273.2 2202.8 L276.8 2202.8 L280.4 2202.8 L284 2202.8 L287.6 2202.8 L291.2 2202.8 L294.8 2202.7 L298.4 2202.7 L302 2202.7 L305.6 2202.7 L309.2 2202.7 L312.8 2202.6 L316.4 2202.6 L320 2202.5 L323.6 2202.4 L327.2 2202.3 L330.8 2202.2 L334.4 2201.9 L338 2201.6 L341.6 2201.1 L345.2 2200.2 L348.8 2198.6 L352.4 2195.3 L356 2187.6 L360.6 2174.6 L363.2 2180.6 L366.8 2191.8 L370.4 2197.1 L374 2199.5 L377.6 2200.7 L381.2 2201.4 L384.8 2201.8 L388.4 2202 L392 2202.2 L395.6 2202.4 L399.2 2202.5 L402.8 2202.5 L406.4 2202.6 L410 2202.6 L413.6 2202.7 L417.2 2202.7 L420.8 2202.7 L424.4 2202.8 L428 2202.8 L431.6 2202.8 L435.2 2202.8 L438.8 2202.8 L442.4 2202.8 L446 2202.8 L449.6 2202.8 L453.2 2202.8 L456.8 2202.8 L460.4 2202.8 L464 2202.8 L467.6 2202.8 L471.2 2202.8 L474.8 2202.8 L478.4 2202.7 L482 2202.7 L485.6 2202.6 L489.2 2202.6 L492.8 2202.4 L496.4 2202.2 L500 2201.8 L503.6 2200.9 L507.2 2198.9 L511.5 2196 L514.4 2197.7 L518 2200.3 L521.6 2201.5 L525.2 2202.1 L528.8 2202.4 L532.4 2202.5 L536 2202.6 L539.6 2202.7 L543.2 2202.7 L546.8 2202.8 L550.4 2202.8 L554 2202.8 L557.6 2202.8 L561.2 2202.8 L564.8 2202.8 L568.4 2202.8 L572 2202.8 L575.6 2202.8 L579.2 2202.9 L582.8 2202.9 L586.4 2202.9 L590 2202.9 L593.6 2202.9 L597.2 2202.9 L600.8 2202.9 L604.4 2202.8 L608 2202.8 L611.6 2202.8 L615.2 2202.8 L618.8 2202.8 L622.4 2202.8 L626 2202.8 L629.6 2202.8 L633.2 2202.8 L636.8 2202.8 L640.4 2202.8 L644 2202.8 L647.6 2202.8 L651.2 2202.8 L654.8 2202.7 L658.4 2202.7 L662 2202.7 L665.6 2202.7 L669.2 2202.7 L672.8 2202.6 L676.4 2202.6 L680 2202.6 L683.6 2202.5 L687.2 2202.4 L690.8 2202.4 L694.4 2202.3 L698 2202.1 L701.6 2201.9 L705.2 2201.7 L708.8 2201.3 L712.4 2200.8 L716 2199.9 L719.6 2198.4 L723.2 2195.4 L726.8 2188.9 L730.4 2174.8 L733.4 2164.7 L737.6 2180.3 L741.2 2191.4 L744.8 2196.2 L748.4 2198.3 L752 2199.2 L755.6 2199.1 L759.2 2197.8 L762.8 2194.3 L765.8 2191.8 L770 2196.2 L773.6 2199.3 L777.2 2200.7 L780.8 2201.4 L784.4 2201.8 L788 2202.1 L791.6 2202.2 L795.2 2202.3 L798.8 2202.4 L802.4 2202.5 L806 2202.5 L809.6 2202.6 L813.2 2202.6 L816.8 2202.6 L820.4 2202.6 L824 2202.6 L827.6 2202.7 L831.2 2202.7 L834.8 2202.7 L838.4 2202.7 L842 2202.7 L845.6 2202.7 L849.2 2202.7 L852.8 2202.7 L856.4 2202.7 L860 2202.7 L863.6 2202.7 L867.2 2202.7 L870.8 2202.6 L874.4 2202.6 L878 2202.6 L881.6 2202.6 L885.2 2202.5 L888.8 2202.5 L892.4 2202.4 L896 2202.3 L899.6 2202.2 L903.2 2202 L906.8 2201.7 L910.4 2201 L914 2199.7 L917.6 2196.8 L921.6 2193.1 L924.8 2195.8 L928.4 2199 L932 2200.4 L935.6 2200.9 L939.2 2200.9 L942.8 2200.5 L946.4 2199.2 L950 2196.3 L954.3 2191.8 L957.2 2194.5 L960.8 2198.5 L964.4 2200.3 L968 2201.1 L971.6 2201.6 L975.2 2201.8 L978.8 2201.9 L982.4 2201.9 L986 2201.9 L989.6 2201.8 L993.2 2201.7 L996.8 2201.4 L1000.4 2201 L1004 2200.4 L1007.6 2199.1 L1011.2 2196.5 L1014.8 2190.4 L1019 2181.9 L1022 2187.3 L1025.6 2194.9 L1029.2 2198.4 L1032.8 2199.9 L1036.4 2200.7 L1040 2201.1 L1043.6 2201.4 L1047.2 2201.5 L1050.8 2201.6 L1054.4 2201.6 L1058 2201.6 L1061.6 2201.5 L1065.2 2201.4 L1068.8 2201.3 L1072.4 2201.1 L1076 2200.8 L1079.6 2200.4 L1083.2 2199.9 L1086.8 2199 L1090.4 2197.3 L1094 2194 L1097.6 2186.6 L1101.7 2176.7 L1104.8 2182.5 L1108.4 2189.6 L1112 2191.1 L1115.6 2187.9 L1119.2 2179.5 L1121 2176.7 L1122.8 2177.9 L1126.4 2182 L1130 2178.3 L1132 2176.7 L1133.6 2178.8 L1137.2 2186.7 L1140.8 2190.2 L1144.4 2190.2 L1148 2187.6 L1151.6 2181.1 L1155.2 2166.5 L1158.8 2136.6 L1161.2 2119.8 L1166 2128.4 L1169.6 2108.7 L1171.6 2101.3 L1173.2 2111.6 L1176.8 2151.2 L1180.4 2172.2 L1184 2180.2 L1187.6 2181.2 L1191.2 2175.5 L1194.8 2157.9 L1198.7 2135.8 L1202 2154.9 L1205.6 2176.6 L1209.2 2186.3 L1212.8 2190.4 L1216.4 2191.8 L1220 2191.2 L1223.6 2188.2 L1227.2 2180.5 L1231 2170.3 L1234.4 2172 L1238 2167.5 L1241.6 2146.2 L1244 2135.8 L1248.8 2166 L1252.4 2181.9 L1256 2188.5 L1259.6 2191.1 L1263.2 2191.3 L1266.8 2189.5 L1270.4 2184.1 L1274 2170.9 L1277.6 2146.1 L1279.3 2140 L1281.2 2147.3 L1284.8 2171.5 L1288.4 2183.7 L1292 2188.2 L1295.6 2188.7 L1299.2 2185.6 L1302.8 2176.8 L1306.5 2166 L1310 2170.6 L1313.6 2171.3 L1317.2 2157.2 L1320.8 2120.1 L1323.7 2094.8 L1328 2139 L1331.6 2168.7 L1335.2 2181.2 L1338.8 2186.4 L1342.4 2187.7 L1346 2186 L1349.6 2179.9 L1353.2 2164.3 L1356.8 2129.9 L1359.5 2109.9 L1364 2150.8 L1367.6 2176.1 L1371.2 2187.3 L1374.8 2192.7 L1378.4 2195.7 L1382 2197.5 L1385.6 2198.7 L1389.2 2199.5 L1392.8 2200 L1396.4 2200.5 L1400 2200.8 L1403.6 2201.1 L1407.2 2201.3 L1410.8 2201.5 L1414.4 2201.6 L1418 2201.7 L1421.6 2201.9 L1425.2 2201.9 L1428.8 2202 L1432.4 2202.1 L1436 2202.2 L1439.6 2202.2 L1443.2 2202.3 L1446.8 2202.3 L1450.4 2202.3 L1454 2202.4 L1457.6 2202.4 L1461.2 2202.4 L1464.8 2202.5 L1468.4 2202.5 L1472 2202.5 L1475.6 2202.5 L1479.2 2202.6 L1482.8 2202.6 L1486.4 2202.6 L1490 2202.6 L1493.6 2202.6 L1497.2 2202.6 L1500.8 2202.7 L1504.4 2202.7 L1508 2202.7 L1511.6 2202.7 L1515.2 2202.7 L1518.8 2202.7 L1522.4 2202.7 L1526 2202.7 L1529.6 2202.7 L1533.2 2202.8 L1536.8 2202.8 L1540.4 2202.8 L1544 2202.8 L1547.6 2202.8 L1551.2 2202.8 L1554.8 2202.8 L1558.4 2202.8 L1560 2202.8" class="b"/>
<path d="M1596 2204 L1597.5 2204 L1599 2204 L1600.5 2204 L1602 2204 L1603.5 2204 L1605 2204 L1606.5 2204 L1608 2203.9 L1609.5 2203.9 L1611 2203.9 L1612.5 2203.9 L1614 2203.9 L1615.5 2203.8 L1617 2203.8 L1618.5 2203.8 L1620 2203.8 L1621.5 2203.7 L1623 2203.7 L1624.5 2203.7 L1626 2203.7 L1627.5 2203.6 L1629 2203.6 L1630.5 2203.5 L1632 2203.5 L1633.5 2203.5 L1635 2203.4 L1636.5 2203.4 L1638 2203.4 L1639.5 2203.3 L1641 2203.3 L1642.5 2203.2 L1644 2203.2 L1645.5 2203.1 L1647 2203.1 L1648.5 2203 L1650 2203 L1651.5 2202.9 L1653 2202.9 L1654.5 2202.8 L1656 2202.7 L1657.5 2202.6 L1659 2202.6 L1660.5 2202.4 L1662 2202.3 L1663.5 2202.2 L1665 2202.1 L1666.5 2202 L1668 2201.8 L1669.5 2201.7 L1671 2201.5 L1672.5 2201.4 L1674 2201.2 L1675.5 2201.1 L1677 2200.9 L1678.5 2200.7 L1680 2200.5 L1681.5 2200.4 L1683 2200.2 L1684.5 2200 L1686 2199.8 L1687.5 2199.6 L1689 2199.4 L1690.5 2199.2 L1692 2199 L1693.5 2198.8 L1695 2198.6 L1696.5 2198.5 L1698 2198.3 L1700 2198 L1701 2197.9 L1702.5 2197.7 L1704 2197.5 L1705.5 2197.3 L1707 2197.2 L1708.5 2197 L1710 2196.8 L1711.5 2196.6 L1713 2196.4 L1714.5 2196.2 L1716 2196 L1717.5 2195.7 L1719 2195.5 L1720.5 2195.2 L1722 2194.9 L1723.5 2194.6 L1725 2194.2 L1726.5 2193.9 L1728 2193.5 L1729.6 2193 L1731 2192.5 L1732.5 2191.8 L1734 2190.9 L1735.5 2189.9 L1737 2188.7 L1738.5 2187.3 L1740 2185.8 L1741.5 2184.2 L1743 2182.4 L1744.5 2180.4 L1746 2178.4 L1747.5 2176.1 L1749.3 2173.3 L1750.5 2171.2 L1752 2168 L1753.5 2164.2 L1755 2159.5 L1756.5 2153.8 L1758 2147 L1759.1 2141.3 L1761 2122.5 L1762.5 2100.9 L1764 2079.7 L1765.5 2058.7 L1766.5 2047.7 L1768.5 2033.1 L1770 2026.4 L1770.7 2025.5 L1771.5 2027.3 L1773 2037.4 L1775.1 2055.1 L1776 2062.3 L1777.5 2076.1 L1779 2087 L1780 2089.6 L1782 2085 L1783.5 2077.1 L1785 2067.4 L1786.5 2053.3 L1788 2033.3 L1788.7 2023.1 L1789.5 2008.5 L1791 1974.8 L1792.4 1951.7 L1794.3 1939.3 L1795.5 1946.2 L1797 1967.9 L1798.5 1993.5 L1800 2022.7 L1801.5 2054.8 L1802.2 2067.4 L1803 2080 L1804.5 2101.5 L1805.9 2116.7 L1807.5 2129.6 L1809 2140 L1810.5 2148.8 L1812 2156.1 L1813.3 2161 L1815 2166.5 L1816.5 2171 L1818 2175 L1819.5 2178.4 L1821 2181 L1822.5 2182.7 L1823.2 2183.2 L1824 2183.6 L1825.5 2184.2 L1827 2184.8 L1828.5 2185.3 L1830 2185.8 L1831.5 2186.2 L1833 2186.5 L1834.5 2186.7 L1836 2186.8 L1837.9 2186.9 L1839 2186.7 L1840.5 2185.9 L1842 2184.4 L1843.5 2182.5 L1845 2180.2 L1846.5 2177.7 L1848 2175 L1849.5 2172.2 L1850.2 2170.9 L1851 2169.2 L1852.5 2165.2 L1854 2160.4 L1855.5 2155.1 L1857 2150 L1858.5 2145.3 L1860.1 2141.3 L1861.5 2138.2 L1863 2135.6 L1863.8 2135.1 L1864.5 2135.6 L1866 2139.2 L1867.5 2144.5 L1868.7 2148.7 L1870.5 2155.5 L1872 2161.8 L1873.5 2167.4 L1874.9 2170.9 L1876.5 2173.4 L1878 2175.4 L1879.5 2177 L1881 2178 L1882.3 2178.3 L1884 2177 L1885.5 2174 L1887 2169.7 L1888.5 2164.7 L1890 2159.3 L1890.9 2156.1 L1893 2144.9 L1894.5 2134.1 L1896 2123.3 L1897.5 2114.5 L1899.5 2109.3 L1900.5 2110.7 L1902 2116.7 L1903.5 2124.6 L1904.4 2129 L1906.5 2139.8 L1908 2148.4 L1909.5 2156.6 L1911 2163.3 L1911.8 2165.9 L1912.5 2167.8 L1914 2171.9 L1915.5 2175.8 L1917 2179.1 L1918.5 2181.8 L1920 2183.6 L1921.7 2184.4 L1923 2184.4 L1924.5 2184.3 L1926 2184.2 L1927.5 2184 L1929 2183.7 L1930.5 2183.4 L1931.5 2183.2 L1933.5 2181.1 L1935 2177.6 L1936.5 2172.9 L1938 2167.2 L1939.5 2160.8 L1941 2154 L1942.5 2147.1 L1943.8 2141.3 L1945.5 2131.3 L1947 2120.1 L1948.5 2109.3 L1950 2101.6 L1951.2 2099.4 L1953 2102.4 L1954.5 2108.3 L1956 2115.4 L1957.4 2121.6 L1959 2128.8 L1960.5 2136.5 L1962 2144.4 L1963.5 2151.8 L1965 2157.9 L1966 2161 L1968 2166.1 L1969.5 2169.7 L1971 2172.9 L1972.5 2175.5 L1974 2177.4 L1975.9 2178.3 L1977 2178.1 L1978.5 2177.2 L1980 2175.7 L1981.5 2173.7 L1983 2171.2 L1984.5 2168.4 L1985.7 2166 L1987.5 2158.4 L1989 2148.4 L1990.5 2138.3 L1992 2130.9 L1993.1 2129 L1995 2131.2 L1996.5 2135.3 L1998 2140.4 L1999.5 2145.6 L2000.5 2148.7 L2002.5 2155.7 L2004 2161.6 L2005.5 2166.9 L2007 2170.3 L2007.9 2170.9 L2010 2168.5 L2011.5 2164.4 L2013 2159 L2014.5 2153.1 L2016 2147.2 L2017.7 2141.3 L2019 2136.8 L2020.5 2130.9 L2022 2125.3 L2023.5 2120.9 L2025.1 2119.1 L2026.5 2120.9 L2028 2125.8 L2029.5 2131.7 L2031 2136.7 L2032.5 2138.8 L2034 2135.8 L2035.5 2127.7 L2037 2116.1 L2038.5 2102.3 L2040 2088 L2041.5 2074.5 L2042.4 2067.4 L2044.5 2049 L2046 2034.5 L2047.5 2022.1 L2049 2014.4 L2049.8 2013.2 L2050.5 2013.9 L2052 2019.6 L2053.5 2029.3 L2055 2040.8 L2055.9 2047.7 L2058 2069 L2059.5 2087.9 L2061 2105.9 L2062.1 2116.7 L2064 2132.4 L2065.5 2144 L2067 2154.1 L2068.5 2162.1 L2069.5 2166 L2071.5 2172 L2073 2176 L2074.5 2179.6 L2076 2182.7 L2077.5 2185.4 L2079 2187.6 L2080.5 2189.4 L2081.8 2190.6 L2083.5 2191.9 L2085 2192.9 L2086.5 2193.9 L2088 2194.8 L2089.5 2195.6 L2091 2196.3 L2092.5 2196.9 L2094 2197.5 L2095.5 2198 L2097 2198.5 L2098.5 2198.9 L2100 2199.2 L2101.5 2199.5 L2103 2199.8 L2104.5 2200.1 L2106 2200.4 L2107.5 2200.6 L2109 2200.9 L2110.5 2201.1 L2112 2201.4 L2113.5 2201.6 L2115 2201.8 L2116.5 2202 L2118 2202.1 L2119.5 2202.3 L2121 2202.4 L2122.5 2202.6 L2124 2202.7 L2125.5 2202.8 L2127 2202.9 L2128.5 2202.9 L2130 2203 L2131.5 2203 L2133 2203.1 L2134.5 2203.1 L2136 2203.2 L2137.5 2203.2 L2139 2203.3 L2140.5 2203.3 L2142 2203.3 L2143.5 2203.4 L2145 2203.4 L2146.5 2203.4 L2148 2203.5 L2149.5 2203.5 L2151 2203.5 L2152.5 2203.6 L2154 2203.6 L2155.5 2203.6 L2157 2203.7 L2158.5 2203.7 L2160 2203.7 L2161.5 2203.7 L2163 2203.8 L2164.5 2203.8 L2166 2203.8 L2167.5 2203.8 L2169 2203.8 L2170.5 2203.9 L2172 2203.9 L2173.5 2203.9 L2175 2203.9 L2176.5 2203.9 L2178 2203.9 L2179.5 2203.9 L2181 2204 L2182.5 2204 L2184 2204 L2185.5 2204 L2187 2204 L2188.5 2204 L2190 2204 L2191.5 2204 L2193 2204 L2195 2204" class="b"/>
<path d="M136.4 2213.9 V1883.6 H2197.5 V2213.9" class="fr"/>
<path d="M134.4 2213.9 H1563 M1602 2213.9 H2199.5" class="fr" style="stroke-width:4.6"/>
<path d="M1545 2226.4 L1579.5 2201.2 M1581 2226.4 L1615.5 2200.9" class="brk"/>
<path d="M138.1 2213.9 v8 M247.5 2213.9 v14 M356.9 2213.9 v8 M466.4 2213.9 v14 M575.9 2213.9 v8 M685.3 2213.9 v14 M794.8 2213.9 v8 M904.2 2213.9 v14 M1013.6 2213.9 v8 M1123.1 2213.9 v14 M1232.6 2213.9 v8 M1342 2213.9 v14 M1451.5 2213.9 v8 M1672.2 2213.9 v8 M1822.4 2213.9 v14 M1972.6 2213.9 v8 M2122.8 2213.9 v14" class="tk"/>
<text class="lr" transform="translate(180.8 2167.2) rotate(-90)" textLength="89.8" lengthAdjust="spacingAndGlyphs">33:531</text>
<text class="lr" transform="translate(499.8 2148.7) rotate(-90)" textLength="89.8" lengthAdjust="spacingAndGlyphs">42:819</text>
<text class="lr" transform="translate(533.2 2148.7) rotate(-90)" textLength="89.8" lengthAdjust="spacingAndGlyphs">43:824</text>
<text class="lr" transform="translate(1009.4 2021.6) rotate(-90)" textLength="106.1" lengthAdjust="spacingAndGlyphs">60:1303</text>
<text class="lr" transform="translate(1156 2060.3) rotate(-90)" textLength="106.1" lengthAdjust="spacingAndGlyphs">66:1435</text>
<text class="lb" transform="translate(1200.8 2081.9) rotate(-90)" textLength="106.1" lengthAdjust="spacingAndGlyphs">67:1445</text>
<text class="lr" transform="translate(1297 2008.6) rotate(-90)" textLength="106.1" lengthAdjust="spacingAndGlyphs">74:1566</text>
<text class="lr" transform="translate(1397.3 2000) rotate(-90)" textLength="106.1" lengthAdjust="spacingAndGlyphs">76:1611</text>
<text class="lb" transform="translate(1407 2168) rotate(-90)" textLength="106.1" lengthAdjust="spacingAndGlyphs">77:1616</text>
<text class="lb" transform="translate(1759.9 2102.9) rotate(-90)" textLength="106.1" lengthAdjust="spacingAndGlyphs">78:2965</text>
<text class="lb" transform="translate(1785.5 1998.1) rotate(-90)" textLength="106.1" lengthAdjust="spacingAndGlyphs">79:2981</text>
<text class="lr" transform="translate(1852.4 2089.9) rotate(-90)" textLength="106.1" lengthAdjust="spacingAndGlyphs">80:3027</text>
<text class="lb" transform="translate(1903.3 2099.5) rotate(-90)" textLength="106.1" lengthAdjust="spacingAndGlyphs">81:3051</text>
<text class="lr" transform="translate(1942 2004.4) rotate(-90)" textLength="106.1" lengthAdjust="spacingAndGlyphs">82:3085</text>
<text class="lb" transform="translate(2090.4 2093.3) rotate(-90)" textLength="106.1" lengthAdjust="spacingAndGlyphs">87:3152</text>
<text class="big" x="144" y="2003.4" textLength="87.5" lengthAdjust="spacingAndGlyphs">B</text><text class="sub" x="232" y="2003.4" textLength="46" lengthAdjust="spacingAndGlyphs">2</text>
<text class="nm" x="1468" y="2011.7" textLength="206" lengthAdjust="spacingAndGlyphs">Zn(mal)</text><text class="nm2" x="1676" y="2020.8">2</text>
<text class="nm" x="1490" y="2080.2" textLength="151" lengthAdjust="spacingAndGlyphs">PTEN</text>
<text class="ir" x="2022" y="1945" textLength="158" lengthAdjust="spacingAndGlyphs">Int<tspan style="font-size:68%" dy="-6">×</tspan><tspan dy="6">20</tspan></text>
</g>
<g>
<line x1="247.5" y1="2243.1" x2="247.5" y2="2563.1" class="gM"/>
<line x1="356.9" y1="2243.1" x2="356.9" y2="2563.1" class="gm"/>
<line x1="466.4" y1="2243.1" x2="466.4" y2="2563.1" class="gM"/>
<line x1="575.9" y1="2243.1" x2="575.9" y2="2563.1" class="gm"/>
<line x1="685.3" y1="2243.1" x2="685.3" y2="2563.1" class="gM"/>
<line x1="794.8" y1="2243.1" x2="794.8" y2="2563.1" class="gm"/>
<line x1="904.2" y1="2243.1" x2="904.2" y2="2563.1" class="gM"/>
<line x1="1013.6" y1="2243.1" x2="1013.6" y2="2563.1" class="gm"/>
<line x1="1123.1" y1="2243.1" x2="1123.1" y2="2563.1" class="gM"/>
<line x1="1232.6" y1="2243.1" x2="1232.6" y2="2563.1" class="gm"/>
<line x1="1342" y1="2243.1" x2="1342" y2="2563.1" class="gM"/>
<line x1="1451.5" y1="2243.1" x2="1451.5" y2="2563.1" class="gm"/>
<line x1="1672.2" y1="2243.1" x2="1672.2" y2="2563.1" class="gm"/>
<line x1="1822.4" y1="2243.1" x2="1822.4" y2="2563.1" class="gM"/>
<line x1="1972.6" y1="2243.1" x2="1972.6" y2="2563.1" class="gm"/>
<line x1="2122.8" y1="2243.1" x2="2122.8" y2="2563.1" class="gM"/>
<path d="M140 2552.7 L143.6 2551.3 L147.2 2548.4 L150.8 2541.8 L155 2532.6 L158 2538.5 L161.6 2546.8 L165.2 2550.6 L168.8 2552.3 L172.4 2553.2 L176 2553.7 L179.6 2554 L183.2 2554.2 L186.8 2554.3 L190.4 2554.4 L194 2554.5 L197.6 2554.6 L201.2 2554.6 L204.8 2554.6 L208.4 2554.6 L212 2554.7 L215.6 2554.7 L219.2 2554.7 L222.8 2554.7 L226.4 2554.7 L230 2554.6 L233.6 2554.6 L237.2 2554.6 L240.8 2554.6 L244.4 2554.5 L248 2554.5 L251.6 2554.4 L255.2 2554.3 L258.8 2554.2 L262.4 2554 L266 2553.8 L269.6 2553.5 L273.2 2552.9 L276.8 2552.1 L280.4 2550.6 L284 2547.8 L287.6 2541.9 L291.2 2530.7 L293.8 2525.3 L298.4 2537.5 L302 2545.7 L305.6 2549.6 L309.2 2551.6 L312.8 2552.6 L316.4 2553.3 L320 2553.7 L323.6 2553.9 L327.2 2554.1 L330.8 2554.3 L334.4 2554.4 L338 2554.5 L341.6 2554.5 L345.2 2554.6 L348.8 2554.6 L352.4 2554.7 L356 2554.7 L359.6 2554.7 L363.2 2554.7 L366.8 2554.8 L370.4 2554.8 L374 2554.8 L377.6 2554.8 L381.2 2554.8 L384.8 2554.8 L388.4 2554.8 L392 2554.8 L395.6 2554.8 L399.2 2554.8 L402.8 2554.8 L406.4 2554.8 L410 2554.8 L413.6 2554.8 L417.2 2554.9 L420.8 2554.9 L424.4 2554.9 L428 2554.9 L431.6 2554.9 L435.2 2554.9 L438.8 2554.9 L442.4 2554.9 L446 2554.9 L449.6 2554.9 L453.2 2554.9 L456.8 2554.9 L460.4 2554.9 L464 2554.9 L467.6 2554.9 L471.2 2554.8 L474.8 2554.8 L478.4 2554.8 L482 2554.8 L485.6 2554.8 L489.2 2554.8 L492.8 2554.8 L496.4 2554.8 L500 2554.8 L503.6 2554.8 L507.2 2554.8 L510.8 2554.8 L514.4 2554.8 L518 2554.8 L521.6 2554.8 L525.2 2554.8 L528.8 2554.8 L532.4 2554.8 L536 2554.7 L539.6 2554.7 L543.2 2554.7 L546.8 2554.7 L550.4 2554.7 L554 2554.7 L557.6 2554.6 L561.2 2554.6 L564.8 2554.5 L568.4 2554.5 L572 2554.4 L575.6 2554.3 L579.2 2554.2 L582.8 2554.1 L586.4 2553.9 L590 2553.6 L593.6 2553.2 L597.2 2552.5 L600.8 2551.4 L604.4 2549.6 L608 2546.7 L611.6 2544 L612.8 2543.8 L615.2 2544.7 L618.8 2547.7 L622.4 2550.2 L626 2551.7 L629.6 2552.6 L633.2 2553.1 L636.8 2553.4 L640.4 2553.5 L644 2553.6 L647.6 2553.5 L651.2 2553.3 L654.8 2552.9 L658.4 2552 L662 2550.2 L665.6 2546.9 L668.8 2544.7 L672.8 2547.7 L676.4 2550.8 L680 2552.4 L683.6 2553.2 L687.2 2553.6 L690.8 2553.9 L694.4 2554 L698 2554.1 L701.6 2554.2 L705.2 2554.2 L708.8 2554.2 L712.4 2554.2 L716 2554.2 L719.6 2554.2 L723.2 2554.2 L726.8 2554.1 L730.4 2554 L734 2553.8 L737.6 2553.6 L741.2 2553.2 L744.8 2552.6 L748.4 2551.4 L752 2548.8 L755.6 2543.1 L759.3 2536.9 L762.8 2542.6 L766.4 2548.5 L770 2551.1 L773.6 2552.2 L777.2 2552.8 L780.8 2553 L784.4 2553.1 L788 2553.2 L791.6 2553.1 L795.2 2552.9 L798.8 2552.7 L802.4 2552.3 L806 2551.8 L809.6 2551.1 L813.2 2550 L816.8 2548.2 L820.4 2545.3 L824 2539.8 L827.6 2528.6 L831.2 2505.2 L835.3 2477.8 L838.4 2496.2 L842 2523.5 L845.6 2537.3 L849.2 2543.9 L852.8 2547.3 L856.4 2549.2 L860 2550.4 L863.6 2551.1 L867.2 2551.4 L870.8 2551.6 L874.4 2551.5 L878 2550.9 L881.6 2549.7 L885.2 2546.6 L888.8 2540.9 L890.5 2539.5 L892.4 2541.1 L896 2546.5 L899.6 2549.1 L903.2 2549.8 L906.8 2549.5 L910.4 2548.2 L914 2544.8 L917.6 2537.6 L920.7 2531.7 L924.8 2537 L928.4 2539.1 L932 2534.5 L935.6 2520.9 L940 2501.6 L942.8 2512.3 L946.4 2531.3 L950 2541.1 L953.6 2545.7 L957.2 2547.9 L960.8 2548.9 L964.4 2549.1 L968 2548.3 L971.6 2545.9 L975.2 2539.9 L978.8 2529.2 L980.2 2527.4 L982.4 2531.5 L986 2541.9 L989.6 2546.9 L993.2 2548.9 L996.8 2549.6 L1000.4 2549.3 L1004 2548 L1007.6 2544.4 L1011.2 2537 L1013.4 2533.9 L1014.8 2534.9 L1018.4 2541.1 L1022 2543 L1025.6 2539.8 L1029.2 2529.3 L1032.8 2518 L1036.4 2529.7 L1040 2540.8 L1043.6 2545.3 L1047.2 2546.6 L1050.8 2545.7 L1054.4 2541.5 L1058 2531.6 L1060.8 2525.3 L1065.2 2537.4 L1068.8 2545.1 L1072.4 2548.5 L1076 2550 L1079.6 2550.6 L1083.2 2550.8 L1086.8 2550.5 L1090.4 2549.7 L1094 2547.6 L1097.6 2542.6 L1101.7 2536 L1104.8 2540.3 L1108.4 2545.8 L1112 2547.9 L1115.6 2548.3 L1119.2 2547.5 L1122.8 2545.4 L1126.4 2540.9 L1130 2530.6 L1133.6 2509 L1136.2 2497.2 L1140.8 2521.1 L1144.4 2534.4 L1148 2538.4 L1151.6 2536.7 L1155.2 2530.5 L1157.8 2527.4 L1162.4 2534.4 L1166 2538.3 L1169.6 2537.1 L1173.2 2530.4 L1177.2 2523.1 L1180.4 2529.4 L1184 2538.7 L1187.6 2543.7 L1191.2 2546.1 L1194.8 2547.2 L1198.4 2547.6 L1202 2547.6 L1205.6 2547.1 L1209.2 2546.4 L1212.8 2545.2 L1216.4 2543.4 L1220 2540.8 L1223.6 2537 L1227.2 2531 L1230.8 2521 L1234.4 2502.8 L1238 2466.6 L1241.6 2390.7 L1246.1 2280.9 L1248.8 2324 L1252.4 2397.8 L1257 2402.4 L1259.6 2445.4 L1263.2 2495 L1266.8 2513.8 L1270.4 2519.6 L1274 2517.3 L1277.6 2504.7 L1281.2 2470.8 L1284.8 2400 L1287 2372.2 L1288.4 2385.5 L1292 2461.7 L1295.6 2506.1 L1299.2 2525.8 L1302.8 2535.6 L1306.4 2541 L1310 2544.4 L1313.6 2546.6 L1317.2 2548.1 L1320.8 2549.3 L1324.4 2550.1 L1328 2550.8 L1331.6 2551.3 L1335.2 2551.7 L1338.8 2552.1 L1342.4 2552.4 L1346 2552.6 L1349.6 2552.8 L1353.2 2553 L1356.8 2553.2 L1360.4 2553.3 L1364 2553.4 L1367.6 2553.5 L1371.2 2553.6 L1374.8 2553.7 L1378.4 2553.8 L1382 2553.9 L1385.6 2553.9 L1389.2 2554 L1392.8 2554.1 L1396.4 2554.1 L1400 2554.2 L1403.6 2554.2 L1407.2 2554.2 L1410.8 2554.3 L1414.4 2554.3 L1418 2554.3 L1421.6 2554.4 L1425.2 2554.4 L1428.8 2554.4 L1432.4 2554.4 L1436 2554.5 L1439.6 2554.5 L1443.2 2554.5 L1446.8 2554.5 L1450.4 2554.5 L1454 2554.6 L1457.6 2554.6 L1461.2 2554.6 L1464.8 2554.6 L1468.4 2554.6 L1472 2554.6 L1475.6 2554.6 L1479.2 2554.6 L1482.8 2554.7 L1486.4 2554.7 L1490 2554.7 L1493.6 2554.7 L1497.2 2554.7 L1500.8 2554.7 L1504.4 2554.7 L1508 2554.7 L1511.6 2554.7 L1515.2 2554.7 L1518.8 2554.7 L1522.4 2554.7 L1526 2554.8 L1529.6 2554.8 L1533.2 2554.8 L1536.8 2554.8 L1540.4 2554.8 L1544 2554.8 L1547.6 2554.8 L1551.2 2554.8 L1554.8 2554.8 L1558.4 2554.8 L1560 2554.8" class="r"/>
<path d="M1596 2555 L1597.5 2555 L1599 2555 L1600.5 2555 L1602 2554.9 L1603.5 2554.9 L1605 2554.8 L1606.5 2554.8 L1608 2554.7 L1609.5 2554.6 L1611 2554.5 L1612.5 2554.4 L1614 2554.3 L1615.5 2554.2 L1617 2554.1 L1618.5 2554 L1620 2553.9 L1621.5 2553.7 L1623 2553.6 L1624.5 2553.5 L1626 2553.4 L1627.5 2553.2 L1629 2553.1 L1630 2553 L1632 2552.8 L1633.5 2552.6 L1635 2552.4 L1636.5 2552.2 L1638 2552 L1639.5 2551.8 L1641 2551.5 L1642.5 2551.2 L1644 2551 L1645.5 2550.7 L1647 2550.3 L1648.5 2550 L1650 2549.7 L1651.5 2549.3 L1653 2549 L1654.5 2548.6 L1656 2548.2 L1657.5 2547.9 L1659 2547.5 L1660 2547.2 L1662 2546.7 L1663.5 2546.2 L1665 2545.8 L1666.5 2545.3 L1668 2544.8 L1669.5 2544.3 L1671 2543.7 L1672.5 2543.1 L1674 2542.4 L1675.5 2541.7 L1677 2541 L1678.5 2540.1 L1679.7 2539.4 L1681.5 2538.2 L1683 2537 L1684.5 2535.6 L1686 2533.9 L1687.5 2532.1 L1689 2529.9 L1690.5 2527.4 L1691.5 2525.6 L1693.5 2519.7 L1695 2513.2 L1696.5 2505.8 L1698 2498.4 L1699.4 2492.1 L1701 2485.8 L1702.5 2480.1 L1704 2474.5 L1705.5 2468.8 L1707 2462.9 L1708.5 2456.4 L1709.3 2452.7 L1710 2449.3 L1711.5 2441.7 L1713 2433.5 L1714.5 2424.6 L1716 2415 L1717.1 2407.3 L1719 2389.9 L1720.5 2373.9 L1722 2359.6 L1723.1 2352.2 L1725 2342.8 L1726.5 2336.2 L1728 2331.2 L1730 2328.5 L1731 2329.2 L1732.5 2332.8 L1734 2338.6 L1735.9 2348.2 L1737 2359.2 L1738.8 2379.8 L1740 2386.3 L1741.5 2393.4 L1743 2399 L1744.5 2402.5 L1745.7 2403.4 L1747.5 2400.3 L1749 2395.3 L1750.5 2390.9 L1751.6 2389.6 L1753.5 2391.3 L1755 2394.4 L1756.5 2398.3 L1758.5 2403.4 L1759.5 2405.7 L1761 2409.5 L1762.5 2413.5 L1764.4 2419.2 L1765.5 2423.5 L1767 2430.9 L1768.5 2438 L1770.3 2442.8 L1771.5 2443.7 L1773 2444.4 L1774.5 2444.9 L1776 2445.4 L1777.5 2446.2 L1778.2 2446.7 L1779 2447.9 L1780.5 2452.2 L1782 2458.1 L1783.5 2464.5 L1785 2469.9 L1787.1 2473.3 L1788 2472.8 L1789.5 2470.3 L1791 2466 L1792.5 2460.6 L1794 2454.6 L1796 2446.7 L1797 2442.2 L1798.5 2433.2 L1800 2424 L1801.5 2416.8 L1802.9 2414.2 L1804.5 2416.8 L1806 2423 L1807.5 2430.9 L1809 2439 L1809.8 2442.8 L1810.5 2446.3 L1812 2455.3 L1813.5 2464 L1815 2469.6 L1815.7 2470.4 L1816.5 2469.9 L1818 2466.4 L1819.5 2459.9 L1821.6 2446.7 L1822.5 2431.7 L1824.5 2387.6 L1825.5 2379.6 L1827 2369.4 L1828.5 2361.6 L1830 2356.7 L1831.4 2355.1 L1833 2355.9 L1834.5 2357.9 L1836 2360.7 L1837.5 2364.1 L1838.3 2366 L1839 2367.9 L1840.5 2373.4 L1842 2380.6 L1843.3 2387.6 L1845 2399.7 L1846.5 2413 L1848 2426.8 L1849.2 2436.9 L1851 2453.3 L1852.5 2467.4 L1854 2477.5 L1855.1 2480.2 L1857 2479.3 L1858.5 2477.9 L1860 2476.2 L1861.5 2474.9 L1863 2474.3 L1864.5 2475.9 L1866 2479.8 L1867.5 2485.2 L1869 2490.9 L1869.9 2494 L1872 2502 L1873.5 2508.4 L1875 2514.3 L1876.7 2519.7 L1878 2522.9 L1879.5 2526.4 L1881 2529.6 L1882.5 2532.5 L1884 2534.8 L1885.5 2536.6 L1886.6 2537.4 L1888.5 2538.4 L1890 2539.2 L1891.5 2539.9 L1893 2540.5 L1894.5 2541.1 L1896 2541.6 L1897.5 2542 L1899 2542.4 L1900.5 2542.7 L1902 2543 L1903.5 2543.2 L1905 2543.3 L1906.3 2543.3 L1908 2542.9 L1909.5 2541.8 L1911 2540.4 L1912.5 2538.6 L1914 2536.7 L1915.5 2534.7 L1917 2532.9 L1918.5 2531.3 L1920 2530.2 L1922.1 2529.5 L1923 2529.6 L1924.5 2530.2 L1926 2531.1 L1927.5 2532.4 L1929 2533.9 L1930.5 2535.6 L1932 2537.3 L1933.5 2539 L1935 2540.5 L1935.9 2541.3 L1938 2543.3 L1939.5 2544.8 L1941 2546.3 L1942.5 2547.8 L1944 2549.1 L1945.5 2550.2 L1947 2551 L1947.7 2551.2 L1948.5 2551.4 L1950 2551.7 L1951.5 2552 L1953 2552.2 L1954.5 2552.5 L1956 2552.6 L1957.5 2552.8 L1959 2553 L1960.5 2553.1 L1961.5 2553.2 L1963.5 2553.4 L1965 2553.5 L1966.5 2553.7 L1968 2553.8 L1969.5 2553.9 L1971 2554.1 L1972.5 2554.2 L1974 2554.3 L1975.5 2554.4 L1977 2554.5 L1978.5 2554.6 L1980 2554.7 L1981.5 2554.8 L1983 2554.8 L1984.5 2554.9 L1986 2554.9 L1987.5 2555 L1989 2555 L1990 2555 L1992 2555 L1993.5 2555 L1995 2555 L1996.5 2555 L1998 2555 L1999.5 2555 L2001 2555 L2002.5 2555 L2004 2555 L2005.5 2555 L2007 2555 L2008.5 2555 L2010 2555 L2011.5 2555 L2013 2555 L2014.5 2555 L2016 2555 L2017.5 2555 L2019 2555 L2020.5 2555 L2022 2555 L2023.5 2555 L2025 2555 L2026.5 2555 L2028 2555 L2029.5 2555 L2031 2555 L2032.5 2555 L2034 2555 L2035.5 2555 L2037 2555 L2038.5 2555 L2040 2555 L2041.5 2555 L2043 2555 L2044.5 2555 L2046 2555 L2047.5 2555 L2049 2555 L2050.5 2555 L2052 2555 L2053.5 2555 L2055 2555 L2056.5 2555 L2058 2555 L2059.5 2555 L2061 2555 L2062.5 2555 L2064 2555 L2065.5 2555 L2067 2555 L2068.5 2555 L2070 2555 L2071.5 2555 L2073 2555 L2074.5 2555 L2076 2555 L2077.5 2555 L2079 2555 L2080.5 2555 L2082 2555 L2083.5 2555 L2085 2555 L2086.5 2555 L2088 2555 L2089.5 2555 L2091 2555 L2092.5 2555 L2094 2555 L2095.5 2555 L2097 2555 L2098.5 2555 L2100 2555 L2101.5 2555 L2103 2555 L2104.5 2555 L2106 2555 L2107.5 2555 L2109 2555 L2110.5 2555 L2112 2555 L2113.5 2555 L2115 2555 L2116.5 2555 L2118 2555 L2119.5 2555 L2121 2555 L2122.5 2555 L2124 2555 L2125.5 2555 L2127 2555 L2128.5 2555 L2130 2555 L2131.5 2555 L2133 2555 L2134.5 2555 L2136 2555 L2137.5 2555 L2139 2555 L2140.5 2555 L2142 2555 L2143.5 2555 L2145 2555 L2146.5 2555 L2148 2555 L2149.5 2555 L2151 2555 L2152.5 2555 L2154 2555 L2155.5 2555 L2157 2555 L2158.5 2555 L2160 2555 L2161.5 2555 L2163 2555 L2164.5 2555 L2166 2555 L2167.5 2555 L2169 2555 L2170.5 2555 L2172 2555 L2173.5 2555 L2175 2555 L2176.5 2555 L2178 2555 L2179.5 2555 L2181 2555 L2182.5 2555 L2184 2555 L2185.5 2555 L2187 2555 L2188.5 2555 L2190 2555 L2191.5 2555 L2193 2555 L2195 2555" class="r"/>
<path d="M140 2554.9 L143.6 2554.9 L147.2 2554.9 L150.8 2554.9 L154.4 2554.9 L158 2554.9 L161.6 2554.9 L165.2 2554.8 L168.8 2554.8 L172.4 2554.8 L176 2554.8 L179.6 2554.7 L183.2 2554.7 L186.8 2554.6 L190.4 2554.5 L194 2554.3 L197.6 2554 L201.2 2553.4 L204.8 2552.2 L208.4 2549.4 L211.9 2546.8 L215.6 2549.5 L219.2 2552 L222.8 2553 L226.4 2553.3 L230 2553.1 L233.6 2552.5 L237.2 2551.1 L240.8 2547.5 L245.5 2541.2 L248 2543.9 L251.6 2549.4 L255.2 2552 L258.8 2553.2 L262.4 2553.8 L266 2554.1 L269.6 2554.3 L273.2 2554.5 L276.8 2554.6 L280.4 2554.6 L284 2554.7 L287.6 2554.7 L291.2 2554.8 L294.8 2554.8 L298.4 2554.8 L302 2554.8 L305.6 2554.8 L309.2 2554.8 L312.8 2554.8 L316.4 2554.8 L320 2554.8 L323.6 2554.7 L327.2 2554.7 L330.8 2554.6 L334.4 2554.4 L338 2554.1 L341.6 2553.5 L345.2 2552.2 L349.8 2549.8 L352.4 2550.9 L356 2552.9 L359.6 2553.9 L363.2 2554.3 L366.8 2554.5 L370.4 2554.7 L374 2554.7 L377.6 2554.8 L381.2 2554.8 L384.8 2554.8 L388.4 2554.9 L392 2554.9 L395.6 2554.9 L399.2 2554.9 L402.8 2554.9 L406.4 2554.9 L410 2554.9 L413.6 2554.9 L417.2 2554.9 L420.8 2554.9 L424.4 2554.9 L428 2554.9 L431.6 2554.9 L435.2 2554.9 L438.8 2554.9 L442.4 2554.9 L446 2554.9 L449.6 2554.9 L453.2 2554.9 L456.8 2554.9 L460.4 2554.9 L464 2554.9 L467.6 2554.9 L471.2 2554.9 L474.8 2554.9 L478.4 2554.9 L482 2554.9 L485.6 2554.9 L489.2 2554.9 L492.8 2554.9 L496.4 2554.9 L500 2554.9 L503.6 2554.9 L507.2 2554.9 L510.8 2554.9 L514.4 2554.9 L518 2554.9 L521.6 2554.9 L525.2 2554.9 L528.8 2554.9 L532.4 2554.9 L536 2554.9 L539.6 2554.9 L543.2 2554.9 L546.8 2554.9 L550.4 2554.9 L554 2554.9 L557.6 2554.9 L561.2 2554.9 L564.8 2554.9 L568.4 2554.9 L572 2554.8 L575.6 2554.8 L579.2 2554.8 L582.8 2554.8 L586.4 2554.7 L590 2554.7 L593.6 2554.6 L597.2 2554.4 L600.8 2554.2 L604.4 2553.7 L608 2552.7 L611.6 2550.5 L616.2 2546.8 L618.8 2548.5 L622.4 2551.7 L626 2553.3 L629.6 2553.9 L633.2 2554.3 L636.8 2554.5 L640.4 2554.6 L644 2554.7 L647.6 2554.7 L651.2 2554.8 L654.8 2554.8 L658.4 2554.8 L662 2554.8 L665.6 2554.8 L669.2 2554.9 L672.8 2554.9 L676.4 2554.9 L680 2554.9 L683.6 2554.9 L687.2 2554.9 L690.8 2554.9 L694.4 2554.9 L698 2554.9 L701.6 2554.9 L705.2 2554.9 L708.8 2554.9 L712.4 2554.8 L716 2554.8 L719.6 2554.8 L723.2 2554.8 L726.8 2554.8 L730.4 2554.8 L734 2554.7 L737.6 2554.7 L741.2 2554.5 L744.8 2554.4 L748.4 2554 L752 2553.3 L755.6 2551.7 L759.3 2550 L762.8 2551.6 L766.4 2553.3 L770 2554 L773.6 2554.3 L777.2 2554.5 L780.8 2554.6 L784.4 2554.7 L788 2554.7 L791.6 2554.8 L795.2 2554.8 L798.8 2554.8 L802.4 2554.8 L806 2554.8 L809.6 2554.8 L813.2 2554.8 L816.8 2554.8 L820.4 2554.8 L824 2554.8 L827.6 2554.8 L831.2 2554.8 L834.8 2554.8 L838.4 2554.8 L842 2554.8 L845.6 2554.8 L849.2 2554.8 L852.8 2554.7 L856.4 2554.7 L860 2554.7 L863.6 2554.7 L867.2 2554.7 L870.8 2554.7 L874.4 2554.6 L878 2554.6 L881.6 2554.6 L885.2 2554.6 L888.8 2554.5 L892.4 2554.5 L896 2554.5 L899.6 2554.4 L903.2 2554.3 L906.8 2554.3 L910.4 2554.2 L914 2554 L917.6 2553.9 L921.2 2553.7 L924.8 2553.4 L928.4 2553 L932 2552.5 L935.6 2551.6 L939.2 2550.2 L942.8 2547.5 L946.4 2541.8 L950 2529 L954.3 2510.2 L957.2 2521.1 L960.8 2537.4 L964.4 2544.7 L968 2547.4 L971.6 2547.7 L975.2 2545.4 L978.8 2540.3 L980.2 2539.5 L982.4 2541.8 L986 2547.3 L989.6 2549.9 L993.2 2550.9 L996.8 2551.1 L1000.4 2550.5 L1004 2548.9 L1007.6 2545 L1011.2 2537.1 L1013.4 2533.9 L1014.8 2535.1 L1018.4 2542.4 L1022 2545.7 L1025.6 2544.6 L1029.2 2538.5 L1032.8 2531.7 L1036.4 2539.3 L1040 2546.6 L1043.6 2549.9 L1047.2 2551.5 L1050.8 2552.3 L1054.4 2552.7 L1058 2553 L1061.6 2553.1 L1065.2 2553.1 L1068.8 2553.1 L1072.4 2552.9 L1076 2552.7 L1079.6 2552.2 L1083.2 2551.6 L1086.8 2550.4 L1090.4 2548.1 L1094 2543.3 L1097.6 2532.5 L1101.7 2518 L1104.8 2527.9 L1108.4 2540.8 L1112 2546.6 L1115.6 2549.1 L1119.2 2550.2 L1122.8 2550.5 L1126.4 2550.2 L1130 2549.3 L1133.6 2546.9 L1137.2 2541.8 L1140.5 2536.9 L1144.4 2539.8 L1148 2539.9 L1151.6 2532.8 L1155.6 2522.2 L1158.8 2529.4 L1162.4 2537.3 L1166 2538.1 L1169.6 2532.8 L1173.2 2519.5 L1177.2 2505.9 L1180.4 2516.5 L1184 2532.5 L1187.6 2541.3 L1191.2 2545.7 L1194.8 2548.1 L1198.4 2549.4 L1202 2550.1 L1205.6 2550.4 L1209.2 2550.4 L1212.8 2550.2 L1216.4 2549.7 L1220 2548.8 L1223.6 2547.2 L1227.2 2544.5 L1230.8 2539.6 L1234.4 2529.7 L1238 2508.6 L1241.6 2476.4 L1243 2471.4 L1245.2 2482.7 L1248.8 2514.4 L1252.4 2532.1 L1256 2540.4 L1259.6 2544.5 L1263.2 2546.6 L1266.8 2547.5 L1270.4 2547.8 L1274 2547.4 L1277.6 2546.3 L1281.2 2543.9 L1284.8 2539.1 L1288.4 2529.1 L1292 2508.5 L1295.7 2488.6 L1299.2 2505.7 L1302.8 2525.3 L1306.4 2533.4 L1310 2534.3 L1313.6 2529 L1317.2 2512.9 L1320.8 2475.7 L1323.7 2450.7 L1328 2494.4 L1331.6 2524.1 L1335.2 2537.3 L1338.8 2543.6 L1342.4 2547 L1346 2549.1 L1349.6 2550.4 L1353.2 2551.3 L1356.8 2551.9 L1360.4 2552.4 L1364 2552.8 L1367.6 2553.1 L1371.2 2553.3 L1374.8 2553.5 L1378.4 2553.7 L1382 2553.8 L1385.6 2553.9 L1389.2 2554 L1392.8 2554.1 L1396.4 2554.2 L1400 2554.2 L1403.6 2554.3 L1407.2 2554.3 L1410.8 2554.4 L1414.4 2554.4 L1418 2554.4 L1421.6 2554.5 L1425.2 2554.5 L1428.8 2554.5 L1432.4 2554.6 L1436 2554.6 L1439.6 2554.6 L1443.2 2554.6 L1446.8 2554.6 L1450.4 2554.7 L1454 2554.7 L1457.6 2554.7 L1461.2 2554.7 L1464.8 2554.7 L1468.4 2554.7 L1472 2554.7 L1475.6 2554.7 L1479.2 2554.7 L1482.8 2554.8 L1486.4 2554.8 L1490 2554.8 L1493.6 2554.8 L1497.2 2554.8 L1500.8 2554.8 L1504.4 2554.8 L1508 2554.8 L1511.6 2554.8 L1515.2 2554.8 L1518.8 2554.8 L1522.4 2554.8 L1526 2554.8 L1529.6 2554.8 L1533.2 2554.8 L1536.8 2554.8 L1540.4 2554.9 L1544 2554.9 L1547.6 2554.9 L1551.2 2554.9 L1554.8 2554.9 L1558.4 2554.9 L1560 2554.9" class="b"/>
<path d="M1596 2556 L1597.5 2556 L1599 2556 L1600.5 2556 L1602 2555.9 L1603.5 2555.9 L1605 2555.8 L1606.5 2555.8 L1608 2555.7 L1609.5 2555.6 L1611 2555.5 L1612.5 2555.4 L1614 2555.3 L1615.5 2555.2 L1617 2555.1 L1618.5 2555 L1620 2554.9 L1621.5 2554.7 L1623 2554.6 L1624.5 2554.5 L1626 2554.4 L1627.5 2554.2 L1629 2554.1 L1630 2554 L1632 2553.8 L1633.5 2553.6 L1635 2553.4 L1636.5 2553.2 L1638 2553 L1639.5 2552.8 L1641 2552.5 L1642.5 2552.2 L1644 2552 L1645.5 2551.7 L1647 2551.3 L1648.5 2551 L1650 2550.7 L1651.5 2550.3 L1653 2550 L1654.5 2549.6 L1656 2549.2 L1657.5 2548.9 L1659 2548.5 L1660 2548.2 L1662 2547.7 L1663.5 2547.2 L1665 2546.8 L1666.5 2546.3 L1668 2545.9 L1669.5 2545.3 L1671 2544.8 L1672.5 2544.2 L1674 2543.6 L1675.5 2542.9 L1677 2542.1 L1678.5 2541.3 L1680 2540.5 L1681.7 2539.4 L1683 2538.5 L1684.5 2537.2 L1686 2535.6 L1687.5 2533.8 L1689 2531.7 L1690.5 2529.3 L1692.5 2525.6 L1693.5 2523 L1695 2517 L1696.5 2509.8 L1698 2502.2 L1699.5 2495.5 L1701.4 2490.1 L1702.5 2488.5 L1704 2486.9 L1705.5 2485.7 L1707 2484.6 L1708.5 2483.4 L1710 2481.8 L1711.2 2480.2 L1713 2476.5 L1714.5 2472.1 L1716 2467 L1717.5 2461.2 L1719.1 2454.6 L1720.5 2447.8 L1722 2438.9 L1723.5 2429.2 L1725 2419.3 L1727 2407.3 L1728 2402.1 L1729.5 2395 L1731 2388.2 L1732.5 2381.2 L1734 2373.3 L1734.9 2367.9 L1737 2352.5 L1738.5 2339.6 L1740 2326 L1740.8 2318.7 L1741.5 2312.1 L1743 2296.5 L1744.5 2280.6 L1746 2265.7 L1746.7 2259.6 L1747.5 2252.2 L1749 2239.9 L1749.7 2237.9 L1750.5 2237.9 L1752.6 2237.9 L1753.5 2242.5 L1755 2263.7 L1756.6 2289.1 L1758 2307.4 L1759.5 2327.4 L1761 2346.7 L1762.5 2364 L1764 2379.4 L1765.5 2393.7 L1767 2407.1 L1768.5 2419.7 L1769.4 2427 L1771.5 2443.5 L1773 2454.6 L1774.5 2465 L1776.3 2476.3 L1777.5 2483.4 L1779 2492.1 L1780.5 2499.7 L1782.2 2505.9 L1783.5 2509.3 L1785 2513 L1786.5 2516.2 L1788 2518.5 L1790 2519.7 L1791 2519.6 L1792.5 2519.1 L1794 2518.3 L1795.5 2517.4 L1797 2516.5 L1798.5 2515.9 L1799.9 2515.7 L1801.5 2516.1 L1803 2517.1 L1804.5 2518.3 L1806 2519.7 L1807.5 2520.8 L1809 2521.5 L1809.8 2521.6 L1810.5 2521.5 L1812 2520.8 L1813.5 2519.5 L1815 2517.7 L1816.5 2515.5 L1817.6 2513.7 L1819.5 2508.3 L1821 2501.5 L1822.5 2493.4 L1824 2484.7 L1825.5 2476.3 L1827 2465.8 L1828.5 2454.2 L1830.4 2446.7 L1831.5 2449.6 L1833 2459.6 L1834.5 2471.2 L1835.4 2476.3 L1837.5 2484.6 L1839 2489.7 L1840.5 2494.4 L1842 2498.5 L1843.3 2501.9 L1845 2506.4 L1846.5 2510.5 L1848 2514.3 L1849.5 2517.7 L1851 2520.2 L1853.1 2521.6 L1854 2521.4 L1855.5 2520.4 L1857 2518.7 L1858.5 2516.7 L1860 2514.7 L1861.5 2513 L1863 2512 L1863.9 2511.8 L1866 2513.7 L1867.5 2516.7 L1869 2520.6 L1870.5 2524.5 L1872 2528 L1872.8 2529.5 L1873.5 2530.6 L1875 2533.2 L1876.5 2535.8 L1878 2538.3 L1879.5 2540.5 L1881 2542.5 L1882.5 2544.1 L1884.6 2545.3 L1885.5 2545.6 L1887 2545.9 L1888.5 2546.3 L1890 2546.6 L1891.5 2546.8 L1893 2547 L1894.5 2547.1 L1896.5 2547.2 L1897.5 2547.1 L1899 2546.8 L1900.5 2546.3 L1902 2545.5 L1903.5 2544.6 L1905 2543.7 L1906.5 2542.6 L1908.3 2541.3 L1909.5 2540.2 L1911 2538.3 L1912.5 2535.9 L1914 2533.2 L1915.5 2530.5 L1917 2527.8 L1918.5 2525.4 L1920 2523.5 L1921.5 2522.1 L1923.1 2521.6 L1924.5 2521.8 L1926 2522.6 L1927.5 2523.7 L1929 2525.2 L1930.5 2526.8 L1932 2528.7 L1933.5 2530.5 L1935 2532.4 L1935.9 2533.4 L1938 2536.3 L1939.5 2538.7 L1941 2541.2 L1942.5 2543.6 L1944 2545.6 L1945.7 2547.2 L1947 2548 L1948.5 2548.8 L1950 2549.6 L1951.5 2550.3 L1953 2550.9 L1954.5 2551.4 L1956 2551.9 L1957.5 2552.3 L1959 2552.7 L1960.5 2553 L1961.5 2553.2 L1963.5 2553.5 L1965 2553.8 L1966.5 2554 L1968 2554.2 L1969.5 2554.4 L1971 2554.6 L1972.5 2554.8 L1974 2555 L1975.5 2555.2 L1977 2555.3 L1978.5 2555.5 L1980 2555.6 L1981.5 2555.7 L1983 2555.8 L1984.5 2555.9 L1986 2555.9 L1987.5 2556 L1989 2556 L1990 2556 L1992 2556 L1993.5 2556 L1995 2556 L1996.5 2556 L1998 2556 L1999.5 2556 L2001 2556 L2002.5 2556 L2004 2556 L2005.5 2556 L2007 2556 L2008.5 2556 L2010 2556 L2011.5 2556 L2013 2556 L2014.5 2556 L2016 2556 L2017.5 2556 L2019 2556 L2020.5 2556 L2022 2556 L2023.5 2556 L2025 2556 L2026.5 2556 L2028 2556 L2029.5 2556 L2031 2556 L2032.5 2556 L2034 2556 L2035.5 2556 L2037 2556 L2038.5 2556 L2040 2556 L2041.5 2556 L2043 2556 L2044.5 2556 L2046 2556 L2047.5 2556 L2049 2556 L2050.5 2556 L2052 2556 L2053.5 2556 L2055 2556 L2056.5 2556 L2058 2556 L2059.5 2556 L2061 2556 L2062.5 2556 L2064 2556 L2065.5 2556 L2067 2556 L2068.5 2556 L2070 2556 L2071.5 2556 L2073 2556 L2074.5 2556 L2076 2556 L2077.5 2556 L2079 2556 L2080.5 2556 L2082 2556 L2083.5 2556 L2085 2556 L2086.5 2556 L2088 2556 L2089.5 2556 L2091 2556 L2092.5 2556 L2094 2556 L2095.5 2556 L2097 2556 L2098.5 2556 L2100 2556 L2101.5 2556 L2103 2556 L2104.5 2556 L2106 2556 L2107.5 2556 L2109 2556 L2110.5 2556 L2112 2556 L2113.5 2556 L2115 2556 L2116.5 2556 L2118 2556 L2119.5 2556 L2121 2556 L2122.5 2556 L2124 2556 L2125.5 2556 L2127 2556 L2128.5 2556 L2130 2556 L2131.5 2556 L2133 2556 L2134.5 2556 L2136 2556 L2137.5 2556 L2139 2556 L2140.5 2556 L2142 2556 L2143.5 2556 L2145 2556 L2146.5 2556 L2148 2556 L2149.5 2556 L2151 2556 L2152.5 2556 L2154 2556 L2155.5 2556 L2157 2556 L2158.5 2556 L2160 2556 L2161.5 2556 L2163 2556 L2164.5 2556 L2166 2556 L2167.5 2556 L2169 2556 L2170.5 2556 L2172 2556 L2173.5 2556 L2175 2556 L2176.5 2556 L2178 2556 L2179.5 2556 L2181 2556 L2182.5 2556 L2184 2556 L2185.5 2556 L2187 2556 L2188.5 2556 L2190 2556 L2191.5 2556 L2193 2556 L2195 2556" class="b"/>
<path d="M136.4 2567.1 V2237.1 H2197.5 V2567.1" class="fr"/>
<path d="M134.4 2567.1 H1563 M1602 2567.1 H2199.5" class="fr" style="stroke-width:4.6"/>
<path d="M1545 2579.6 L1579.5 2554.4 M1581 2579.6 L1615.5 2554.1" class="brk"/>
<path d="M138.1 2567.1 v8 M247.5 2567.1 v14 M356.9 2567.1 v8 M466.4 2567.1 v14 M575.9 2567.1 v8 M685.3 2567.1 v14 M794.8 2567.1 v8 M904.2 2567.1 v14 M1013.6 2567.1 v8 M1123.1 2567.1 v14 M1232.6 2567.1 v8 M1342 2567.1 v14 M1451.5 2567.1 v8 M1672.2 2567.1 v8 M1822.4 2567.1 v14 M1972.6 2567.1 v8 M2122.8 2567.1 v14" class="tk"/>
<text class="lb" transform="translate(238 2528.3) rotate(-90)" textLength="89.8" lengthAdjust="spacingAndGlyphs">65:598</text>
<text class="lr" transform="translate(308.6 2514.5) rotate(-90)" textLength="89.8" lengthAdjust="spacingAndGlyphs">70:643</text>
<text class="lr" transform="translate(846 2465) rotate(-90)" textLength="122.5" lengthAdjust="spacingAndGlyphs">109:1137</text>
<text class="lr" transform="translate(1158.3 2484.3) rotate(-90)" textLength="122.5" lengthAdjust="spacingAndGlyphs">138:1411</text>
<text class="lb" transform="translate(1216.7 2527.4) rotate(-90)" textLength="122.5" lengthAdjust="spacingAndGlyphs">162:1507</text>
<text class="lr" transform="translate(1225.4 2383) rotate(-90)" textLength="122.5" lengthAdjust="spacingAndGlyphs">163:1512</text>
<text class="lr" transform="translate(1316 2370) rotate(-90)" textLength="122.5" lengthAdjust="spacingAndGlyphs">165:1550</text>
<text class="lb" transform="translate(1362.7 2499.4) rotate(-90)" textLength="122.5" lengthAdjust="spacingAndGlyphs">167:1582</text>
<text class="lr" transform="translate(1714.3 2389.3) rotate(-90)" textLength="122.5" lengthAdjust="spacingAndGlyphs">174:2938</text>
<text class="lb" transform="translate(1792.7 2370) rotate(-90)" textLength="122.5" lengthAdjust="spacingAndGlyphs">181:2953</text>
<text class="lr" transform="translate(1878.4 2402.9) rotate(-90)" textLength="122.5" lengthAdjust="spacingAndGlyphs">190:3004</text>
<text class="lb" transform="translate(1945.6 2513.9) rotate(-90)" textLength="122.5" lengthAdjust="spacingAndGlyphs">199:3064</text>
<text class="big" x="143" y="2359" textLength="94.8" lengthAdjust="spacingAndGlyphs">C</text><text class="sub" x="238" y="2359" textLength="46" lengthAdjust="spacingAndGlyphs">2</text>
<text class="nm" x="1422" y="2333.8" textLength="188" lengthAdjust="spacingAndGlyphs">Zn(alx)</text><text class="nm2" x="1610" y="2356.5">2</text>
<text class="nm" x="1473" y="2406.2">H</text><text class="nm2" x="1513" y="2416">2</text><text class="nm" x="1539" y="2406.2">O</text>
<text class="ir" x="1981" y="2425.6" textLength="127" lengthAdjust="spacingAndGlyphs">Int<tspan style="font-size:68%" dy="-6">×</tspan><tspan dy="6">4</tspan></text>
</g>
<g>
<line x1="247.5" y1="2600.9" x2="247.5" y2="2920.1" class="gM"/>
<line x1="356.9" y1="2600.9" x2="356.9" y2="2920.1" class="gm"/>
<line x1="466.4" y1="2600.9" x2="466.4" y2="2920.1" class="gM"/>
<line x1="575.9" y1="2600.9" x2="575.9" y2="2920.1" class="gm"/>
<line x1="685.3" y1="2600.9" x2="685.3" y2="2920.1" class="gM"/>
<line x1="794.8" y1="2600.9" x2="794.8" y2="2920.1" class="gm"/>
<line x1="904.2" y1="2600.9" x2="904.2" y2="2920.1" class="gM"/>
<line x1="1013.6" y1="2600.9" x2="1013.6" y2="2920.1" class="gm"/>
<line x1="1123.1" y1="2600.9" x2="1123.1" y2="2920.1" class="gM"/>
<line x1="1232.6" y1="2600.9" x2="1232.6" y2="2920.1" class="gm"/>
<line x1="1342" y1="2600.9" x2="1342" y2="2920.1" class="gM"/>
<line x1="1451.5" y1="2600.9" x2="1451.5" y2="2920.1" class="gm"/>
<line x1="1672.2" y1="2600.9" x2="1672.2" y2="2920.1" class="gm"/>
<line x1="1822.4" y1="2600.9" x2="1822.4" y2="2920.1" class="gM"/>
<line x1="1972.6" y1="2600.9" x2="1972.6" y2="2920.1" class="gm"/>
<line x1="2122.8" y1="2600.9" x2="2122.8" y2="2920.1" class="gM"/>
<path d="M140 2903.1 L141.8 2902.4 L143.6 2901.4 L144.5 2900.8 L145.4 2900 L147.2 2897.8 L149 2894.5 L150.8 2890 L152.6 2885.7 L153.7 2884.6 L154.4 2884.9 L156.2 2888.2 L158 2892.3 L159.8 2895.1 L161.6 2896.6 L162.5 2896.8 L163.4 2896.9 L165.2 2896 L167 2893.9 L168.8 2890.3 L170.6 2886.2 L171.5 2885 L172.2 2884.6 L172.4 2884.7 L174.2 2887.6 L176 2892.3 L177.8 2896.3 L179.6 2899 L180.5 2900 L181.4 2900.8 L183.2 2902 L185 2902.8 L186.8 2903.4 L188.6 2903.9 L189.5 2904 L190.4 2904.2 L192.2 2904.5 L194 2904.7 L195.8 2904.8 L197.6 2905 L198.5 2905 L199.4 2905.1 L201.2 2905.2 L203 2905.2 L204.8 2905.3 L206.6 2905.4 L207.5 2905.4 L208.4 2905.4 L210.2 2905.5 L212 2905.5 L213.8 2905.5 L215.6 2905.6 L216.5 2905.6 L217.4 2905.6 L219.2 2905.6 L221 2905.6 L222.8 2905.7 L224.6 2905.7 L225.5 2905.7 L226.4 2905.7 L228.2 2905.7 L230 2905.7 L231.8 2905.7 L233.6 2905.7 L234.5 2905.8 L235.4 2905.8 L237.2 2905.8 L239 2905.8 L240.8 2905.8 L242.6 2905.8 L243.5 2905.8 L244.4 2905.8 L246.2 2905.8 L248 2905.8 L249.8 2905.8 L251.6 2905.8 L252.5 2905.8 L253.4 2905.8 L255.2 2905.8 L257 2905.8 L258.8 2905.8 L260 2905.8 L260.6 2905.8 L261.5 2905.8 L262.4 2905.8 L263 2905.8 L264.2 2905.9 L266 2905.9 L267.8 2905.9 L269 2905.9 L269.6 2905.9 L270.5 2905.9 L271.4 2905.9 L272 2905.9 L273.2 2905.9 L275 2905.9 L276.8 2905.9 L278 2905.9 L278.6 2905.9 L279.5 2905.9 L280.4 2905.9 L281 2905.9 L282.2 2905.9 L284 2905.9 L285.8 2905.9 L287 2905.9 L287.6 2905.9 L288.5 2905.9 L289.4 2905.9 L290 2905.9 L291.2 2905.9 L293 2905.9 L294.8 2905.9 L296 2905.9 L296.6 2905.9 L297.5 2905.9 L298.4 2905.9 L299 2905.9 L300.2 2905.9 L302 2905.9 L303.8 2905.9 L305 2905.9 L305.6 2905.9 L306.5 2905.9 L307.4 2905.9 L308 2905.9 L309.2 2905.9 L311 2905.9 L312.8 2905.9 L314 2905.9 L314.6 2905.9 L315.5 2905.9 L316.4 2905.9 L317 2905.9 L318.2 2905.9 L320 2905.9 L321.8 2905.9 L323 2905.9 L323.6 2905.9 L324.5 2905.9 L325.4 2905.9 L326 2905.9 L327.2 2905.9 L329 2905.9 L330.8 2905.9 L332 2905.9 L332.6 2905.9 L333.5 2905.9 L334.4 2905.9 L335 2905.9 L336.2 2905.9 L338 2905.9 L339.8 2905.9 L341 2905.9 L341.6 2905.9 L342.5 2905.9 L343.4 2905.9 L344 2905.9 L345.2 2905.9 L347 2905.9 L348.8 2905.9 L350 2905.9 L350.6 2905.9 L351.5 2905.9 L352.4 2905.9 L353 2905.9 L354.2 2905.9 L356 2905.9 L357.8 2905.9 L359 2905.9 L359.6 2905.9 L360.5 2905.9 L361.4 2905.9 L362 2905.9 L363.2 2905.9 L365 2905.9 L366.8 2905.9 L368 2905.9 L368.6 2905.9 L369.5 2905.9 L370.4 2905.9 L371 2905.9 L372.2 2905.9 L374 2905.9 L375.8 2905.9 L377 2905.9 L377.6 2905.9 L378.5 2905.9 L379.4 2905.9 L380 2905.9 L381.2 2905.9 L383 2905.9 L384.8 2905.9 L386 2905.9 L386.6 2905.9 L387.5 2905.9 L388.4 2905.9 L389 2905.9 L390.2 2905.9 L392 2905.9 L393.8 2905.9 L395 2905.9 L395.6 2905.9 L396.5 2905.9 L397.4 2905.9 L398 2905.9 L399.2 2905.9 L401 2905.9 L402.8 2905.9 L404 2905.9 L404.6 2905.9 L405.5 2905.9 L406.4 2905.9 L407 2905.9 L408.2 2905.9 L410 2905.9 L411.8 2905.9 L413 2905.9 L413.6 2905.9 L414.5 2905.9 L415.4 2905.9 L416 2905.9 L417.2 2905.9 L419 2905.9 L420.8 2905.9 L422 2905.9 L422.6 2905.9 L423.5 2905.9 L424.4 2905.9 L425 2905.9 L426.2 2905.9 L428 2905.9 L429.8 2905.9 L431 2905.9 L431.6 2905.9 L432.5 2905.9 L433.4 2905.9 L434 2905.9 L435.2 2905.9 L437 2905.9 L438.8 2905.9 L440 2905.9 L440.6 2905.9 L441.5 2905.9 L442.4 2905.9 L443 2905.9 L444.2 2905.9 L446 2905.9 L447.8 2905.9 L449 2905.9 L449.6 2905.9 L450.5 2905.9 L451.4 2905.9 L452 2905.9 L453.2 2905.9 L455 2905.9 L456.8 2905.9 L458 2905.9 L458.6 2905.9 L459.5 2905.9 L460.4 2905.9 L461 2905.9 L462.2 2905.9 L464 2905.9 L465.8 2905.9 L467 2905.9 L467.6 2905.9 L468.5 2905.9 L469.4 2905.9 L470 2905.9 L471.2 2905.9 L473 2905.9 L474.8 2905.9 L476 2905.9 L476.6 2905.9 L477.5 2905.9 L478.4 2905.9 L479 2905.9 L480.2 2905.9 L482 2905.9 L483.8 2905.9 L485 2905.9 L485.6 2905.9 L486.5 2905.9 L487.4 2905.9 L488 2905.9 L489.2 2905.9 L491 2905.9 L492.8 2905.8 L494 2905.8 L494.6 2905.8 L495.5 2905.8 L496.4 2905.8 L497 2905.8 L498.2 2905.8 L500 2905.8 L501.8 2905.8 L503 2905.8 L503.6 2905.8 L504.5 2905.8 L505.4 2905.8 L506 2905.8 L507.2 2905.8 L509 2905.8 L510.8 2905.8 L512 2905.8 L512.6 2905.8 L513.5 2905.8 L514.4 2905.8 L515 2905.8 L516.2 2905.8 L518 2905.8 L519.8 2905.8 L521 2905.8 L521.6 2905.8 L522.5 2905.8 L523.4 2905.8 L524 2905.8 L525.2 2905.8 L527 2905.8 L528.8 2905.8 L530 2905.8 L530.6 2905.8 L531.5 2905.8 L532.4 2905.8 L533 2905.8 L534.2 2905.8 L536 2905.7 L537.8 2905.7 L539 2905.7 L539.6 2905.7 L540.5 2905.7 L541.4 2905.7 L542 2905.7 L543.2 2905.7 L545 2905.7 L546.8 2905.7 L548 2905.7 L548.6 2905.7 L549.5 2905.7 L550.4 2905.6 L551 2905.6 L552.2 2905.6 L554 2905.6 L555.8 2905.6 L557 2905.6 L557.6 2905.5 L558.5 2905.5 L559.4 2905.5 L560 2905.5 L561.2 2905.5 L563 2905.4 L564.8 2905.4 L566 2905.3 L566.6 2905.3 L567.5 2905.2 L568.4 2905.2 L569 2905.1 L570.2 2905.1 L572 2904.9 L573.8 2904.7 L575 2904.6 L575.6 2904.5 L576.5 2904.3 L577.4 2904.2 L578 2904 L579.2 2903.8 L581 2903.2 L582.8 2902.7 L584 2902.3 L584.6 2902.1 L585.5 2901.9 L586.4 2901.8 L587 2901.8 L588.2 2901.9 L590 2902.3 L591.8 2902.8 L593 2903.2 L593.6 2903.4 L594.5 2903.6 L595.4 2903.9 L596 2904 L597.2 2904.2 L599 2904.5 L600.8 2904.7 L602 2904.8 L602.6 2904.9 L603.5 2905 L604.4 2905 L605 2905.1 L606.2 2905.1 L608 2905.2 L609.8 2905.3 L611 2905.3 L611.6 2905.3 L612.5 2905.3 L613.4 2905.3 L614 2905.4 L615.2 2905.4 L617 2905.4 L618.8 2905.4 L620 2905.4 L620.6 2905.4 L621.5 2905.4 L622.4 2905.4 L623 2905.4 L624.2 2905.4 L626 2905.4 L627.8 2905.4 L629 2905.4 L629.6 2905.4 L630.5 2905.4 L631.4 2905.4 L632 2905.4 L633.2 2905.4 L635 2905.4 L636.8 2905.4 L638 2905.4 L638.6 2905.4 L639.5 2905.4 L640.4 2905.3 L641 2905.3 L642.2 2905.3 L644 2905.3 L645.8 2905.2 L647 2905.2 L647.6 2905.2 L648.5 2905.2 L649.4 2905.1 L650 2905.1 L651.2 2905.1 L653 2905 L654.8 2904.9 L656 2904.9 L656.6 2904.8 L657.5 2904.8 L658.4 2904.7 L659 2904.7 L660.2 2904.6 L662 2904.4 L663.8 2904.1 L665 2903.9 L665.6 2903.8 L666.5 2903.6 L667.4 2903.4 L668 2903.2 L669.2 2902.8 L671 2902.1 L672.8 2901 L674 2900.1 L674.6 2899.5 L675.5 2898.5 L676.4 2897.4 L677 2896.5 L678.2 2894.7 L680 2892.1 L681.7 2891 L681.8 2891 L683 2891.7 L683.6 2892.3 L684.5 2893.5 L685.4 2894.9 L686 2895.8 L687.2 2897.5 L689 2899.5 L690.8 2900.9 L692 2901.6 L692.6 2901.9 L693.5 2902.3 L694.4 2902.6 L695 2902.7 L696.2 2903 L698 2903.3 L699.8 2903.6 L701 2903.7 L701.6 2903.7 L702.5 2903.7 L703.4 2903.8 L704 2903.8 L705.2 2903.7 L707 2903.7 L708.8 2903.5 L710 2903.4 L710.6 2903.3 L711.5 2903.1 L712.4 2902.9 L713 2902.8 L714.2 2902.4 L716 2901.7 L717.8 2900.6 L719 2899.6 L719.6 2899 L720.5 2898.1 L721.4 2897.1 L722 2896.4 L723.2 2895.2 L724.8 2894.5 L725 2894.5 L726.8 2895.6 L728 2896.8 L728.6 2897.5 L729.5 2898.5 L730.4 2899.4 L731 2899.9 L732.2 2900.8 L734 2901.9 L735.8 2902.6 L737 2902.9 L737.6 2903.1 L738.5 2903.2 L739.4 2903.4 L740 2903.5 L741.2 2903.6 L743 2903.8 L744.8 2903.9 L746 2903.9 L746.6 2904 L747.5 2904 L748.4 2904 L749 2904 L750.2 2904 L752 2903.9 L753.8 2903.8 L755 2903.8 L755.6 2903.7 L756.5 2903.6 L757.4 2903.5 L758 2903.5 L759.2 2903.3 L761 2903 L762.8 2902.6 L764 2902.2 L764.6 2902 L765.5 2901.6 L766.4 2901.2 L767 2900.9 L768.2 2900.1 L770 2898.5 L771.8 2896.3 L773 2894.5 L773.6 2893.7 L774.5 2892.4 L775.4 2891.5 L776.5 2891 L777.2 2891.1 L779 2892.8 L780.8 2895.2 L782 2896.6 L782.6 2897.2 L783.5 2898 L784.4 2898.6 L785 2898.9 L786.2 2899.5 L788 2899.8 L789.8 2899.9 L791 2899.7 L791.6 2899.5 L792.5 2899.1 L793.4 2898.6 L794 2898.2 L795.2 2897.1 L797 2894.7 L798.8 2891 L800 2888 L800.6 2886.8 L801.5 2885.3 L802.4 2884.6 L803 2884.9 L804.2 2886.7 L806 2890.9 L807.8 2894.5 L809 2896.2 L809.6 2896.9 L810.5 2897.7 L811.4 2898.3 L812 2898.7 L813.2 2899.2 L815 2899.7 L816.8 2899.9 L818 2899.5 L820 2898.2 L821 2897.5 L822.5 2896.5 L824 2895.3 L825.5 2893.9 L827 2892.2 L828.5 2890.1 L829.2 2889 L830 2887.1 L831.5 2881.4 L833 2873.6 L834.5 2865 L836 2856.8 L836.6 2853.9 L837.5 2849.3 L839 2840.6 L840.5 2831.9 L842 2824.8 L844 2820.6 L845 2822.3 L846.5 2829.9 L848 2840.1 L849.6 2850.2 L851 2858.1 L852.5 2867.2 L854 2875.9 L855.5 2883 L857 2887.1 L858.5 2889.2 L860 2891.1 L861.5 2892.6 L863 2893.9 L864.5 2895 L866 2895.7 L868 2896.4 L869 2896.6 L870.5 2896.9 L872 2897.2 L873.5 2897.4 L875 2897.7 L876.5 2897.8 L878 2898 L879.5 2898.1 L881 2898.2 L882.8 2898.2 L884 2897.9 L885.5 2896.9 L887 2895.3 L888.5 2893.2 L890 2890.7 L891.5 2888 L893 2885.2 L893.9 2883.5 L894.5 2882.2 L896 2877.8 L897.5 2872.3 L899 2866.4 L900.5 2860.9 L902 2856.5 L903.5 2854.1 L904.1 2853.9 L905 2854.3 L906.5 2856.7 L908 2860.6 L909.5 2865.3 L911 2870.3 L912.5 2874.9 L914 2878.5 L915.5 2880.5 L916.1 2880.7 L917 2880.1 L918.5 2876.6 L920 2870.8 L921.5 2863.5 L923 2855.7 L924.5 2848.1 L926 2841.6 L927.5 2837.1 L929 2835.4 L930.5 2839.4 L932 2848.4 L933.5 2858.2 L934.5 2863.1 L936.5 2870.7 L938 2876.3 L939.5 2881.4 L941 2885.5 L942.5 2888.2 L943.8 2889 L945.5 2888.4 L947 2887.1 L948.5 2885.2 L950 2882.9 L951.5 2880.4 L953 2877.8 L954.5 2875.4 L956 2873.2 L956.7 2872.4 L957.5 2871.5 L959 2869.5 L960.5 2867.5 L962 2865.6 L963.5 2864.1 L965 2863.3 L965.9 2863.1 L966.5 2863.4 L968 2866.5 L969.5 2871.7 L971 2877.9 L972.5 2883.7 L974 2887.8 L975.2 2889 L977 2888.6 L978.5 2887.8 L980 2886.7 L981.5 2885.4 L983 2884.2 L984.5 2883 L986 2882.1 L987.5 2881.6 L988.1 2881.6 L989 2881.9 L990.5 2883.3 L992 2885.6 L993.5 2888.4 L995 2891.2 L996.5 2893.5 L997.4 2894.5 L998 2895 L999.5 2896.4 L1001 2897.8 L1002.5 2899.1 L1004 2900.3 L1005.5 2901.3 L1007 2902.1 L1008.5 2902.7 L1010.3 2902.9 L1011.5 2902.6 L1013 2901.7 L1014.5 2900.2 L1016 2898.5 L1017.5 2896.9 L1019 2895.5 L1020.5 2894.7 L1021.4 2894.5 L1022 2894.5 L1023.5 2894.6 L1025 2894.8 L1026.5 2895.1 L1028 2895.3 L1029.5 2895.5 L1030.6 2895.5 L1032.5 2894.5 L1034 2892.4 L1035.5 2889.5 L1037 2886 L1038.5 2882.2 L1040 2878.3 L1041.5 2874.6 L1043 2871.4 L1044.5 2868.8 L1046 2867.2 L1047.2 2866.8 L1049 2868 L1050.5 2870.4 L1052 2873.6 L1053.5 2877.4 L1055 2881.2 L1056.5 2884.6 L1058 2887.3 L1059.5 2888.8 L1060.2 2889 L1061 2888.6 L1062.5 2886.2 L1064 2882 L1065.5 2876.8 L1067 2871 L1068.5 2865.4 L1070 2860.5 L1071.5 2857.1 L1073.1 2855.7 L1074.5 2857.3 L1076 2861.9 L1077.5 2868.2 L1079 2875 L1080.5 2881 L1082.3 2885.3 L1083.5 2886.7 L1085 2888.4 L1086.5 2889.9 L1088 2891.2 L1089.5 2892.5 L1091 2893.5 L1092.5 2894.3 L1094 2895 L1095.5 2895.4 L1097.1 2895.5 L1098.5 2895.4 L1100 2894.9 L1101.5 2894.2 L1103 2893.3 L1104.5 2892.2 L1106 2891 L1107.5 2888.5 L1109 2883.9 L1110.5 2878.3 L1112 2872.3 L1113.5 2866.9 L1115 2862.8 L1116.7 2861 L1118 2861.5 L1119.5 2863.3 L1121 2865.7 L1122.5 2868.3 L1124 2870.6 L1125.5 2872.2 L1126.6 2872.6 L1128.5 2872.4 L1130 2871.8 L1131.5 2871.1 L1133 2870 L1134.5 2868.8 L1136 2867.3 L1137.5 2865.6 L1139 2863.8 L1140.5 2861.8 L1142 2859.6 L1143.3 2857.7 L1145 2852.9 L1146.5 2846.2 L1148 2838.6 L1149.5 2831.4 L1151 2826.2 L1152.4 2824.4 L1154 2827.3 L1155.5 2834.1 L1157 2842.6 L1158.2 2849.4 L1160 2863.2 L1161.5 2876.1 L1163.2 2884.3 L1164.5 2885.7 L1166 2887.1 L1167.5 2888.1 L1169 2888.8 L1170.5 2889.2 L1171.5 2889.3 L1173.5 2889 L1175 2888.4 L1176.5 2887.7 L1178 2886.8 L1179.5 2886 L1181 2885.2 L1182.5 2884.5 L1183.2 2884.3 L1184 2884.1 L1185.5 2883.7 L1187 2883.4 L1188.5 2883.1 L1190 2882.8 L1191.5 2882.5 L1193 2882.2 L1194.5 2882 L1196 2881.7 L1197.5 2881.4 L1199 2881.2 L1199.8 2881 L1200.5 2880.9 L1202 2880.6 L1203.5 2880.3 L1205 2880 L1206.5 2879.7 L1208 2879.4 L1209.5 2879.2 L1211 2878.9 L1212.5 2878.5 L1214 2878.2 L1215.5 2877.8 L1216.4 2877.6 L1218.5 2877.1 L1220 2876.7 L1221.5 2876.4 L1223 2876.1 L1224.5 2875.7 L1226 2875.3 L1227.5 2874.9 L1229 2874.4 L1230.5 2873.8 L1232 2873.1 L1233.5 2872.4 L1235 2871.5 L1236.5 2870.5 L1238 2869.3 L1239.5 2866.7 L1241 2861.7 L1243 2852.7 L1244 2846.2 L1245.5 2832.1 L1247 2814.9 L1248 2802.8 L1250 2772.7 L1251.5 2747.8 L1253 2728 L1254.5 2712.6 L1255.5 2708 L1258 2744.6 L1259 2766.2 L1260.5 2801.1 L1261.3 2811.1 L1262 2814.9 L1263.5 2821.2 L1265.4 2824.4 L1266.5 2822.2 L1268 2814.4 L1269.5 2804.5 L1271 2796.7 L1272.1 2794.5 L1274 2799.7 L1275.5 2807.4 L1276.3 2811.1 L1277 2814.3 L1278.5 2822.2 L1280.4 2827.7 L1281.5 2824.1 L1283 2810.2 L1284.5 2790.9 L1286.2 2769.6 L1287.5 2756.1 L1289 2739.5 L1290.4 2719.7 L1292 2672.2 L1293.5 2621.9 L1294.5 2608.3 L1296.5 2624.7 L1297.8 2644.9 L1299.5 2688.7 L1300.3 2711.4 L1301 2731.6 L1302.5 2776.8 L1303.7 2794.5 L1305.5 2797.1 L1307 2797.8 L1308.5 2792.1 L1310 2780.6 L1312 2771.2 L1313 2774 L1314.5 2785.9 L1316.2 2802.8 L1317.5 2818.3 L1319 2839.1 L1320.3 2852.7 L1322 2863.9 L1323.5 2872.1 L1325 2878.1 L1326.1 2881 L1328 2884.2 L1329.5 2886.2 L1331 2887.7 L1332.5 2889.1 L1334.4 2890.9 L1335.5 2892 L1337 2893.5 L1338.5 2894.9 L1340 2896.3 L1341.5 2897.6 L1343 2898.8 L1344.5 2899.9 L1346.1 2900.9 L1347.5 2901.7 L1349 2902.5 L1350.5 2903.4 L1352 2904.2 L1353.5 2905 L1355 2905.7 L1356.5 2906.3 L1358 2906.8 L1359.5 2907.2 L1361 2907.5 L1362.7 2907.6 L1364 2907.6 L1365.5 2907.6 L1367 2907.6 L1368.5 2907.6 L1370 2907.5 L1371.5 2907.5 L1373 2907.5 L1374.5 2907.5 L1376 2907.4 L1377.5 2907.4 L1379 2907.4 L1380.5 2907.3 L1382 2907.3 L1383.5 2907.2 L1385 2907.2 L1386.5 2907.2 L1388 2907.1 L1389.5 2907.1 L1391 2907.1 L1392.5 2907.1 L1394 2907 L1395.5 2907 L1397 2907 L1398.5 2907 L1400 2907 L1401.5 2907 L1403 2907 L1404.5 2907 L1406 2907 L1407.5 2907 L1409 2907 L1410.5 2907 L1412 2907 L1413.5 2907 L1415 2907 L1416.5 2907 L1418 2907 L1419.5 2907 L1421 2907 L1422.5 2907 L1424 2907 L1425.5 2907 L1427 2907 L1428.5 2907 L1430 2907 L1431.5 2907 L1433 2907 L1434.5 2907 L1436 2907 L1437.5 2907 L1439 2907 L1440.5 2907 L1442 2907 L1443.5 2907 L1445 2907 L1446.5 2907 L1448 2907 L1449.5 2907 L1451 2907 L1452.5 2907 L1454 2907 L1455.5 2907 L1457 2907 L1458.5 2907 L1460 2907 L1461.5 2907 L1463 2907 L1464.5 2907 L1466 2907 L1467.5 2907 L1469 2907 L1470.5 2907 L1472 2907 L1473.5 2907 L1475 2907 L1476.5 2907 L1478 2907 L1479.5 2907 L1481 2907 L1482.5 2907 L1484 2907 L1485.5 2907 L1487 2907 L1488.5 2907 L1490 2907 L1491.5 2907 L1493 2907 L1494.5 2907 L1496 2907 L1497.5 2907 L1499 2907 L1500.5 2907 L1502 2907 L1503.5 2907 L1505 2907 L1506.5 2907 L1508 2907 L1509.5 2907 L1511 2907 L1512.5 2907 L1514 2907 L1515.5 2907 L1517 2907 L1518.5 2907 L1520 2907 L1521.5 2907 L1523 2907 L1524.5 2907 L1526 2907 L1527.5 2907 L1529 2907 L1530.5 2907 L1532 2907 L1533.5 2907 L1535 2907 L1536.5 2907 L1538 2907 L1539.5 2907 L1541 2907 L1542.5 2907 L1544 2907 L1545.5 2907 L1547 2907 L1548.5 2907 L1550 2907 L1551.5 2907 L1553 2907 L1554.5 2907 L1556 2907 L1557.5 2907 L1559 2907 L1560 2907" class="r"/>
<path d="M1596 2907 L1597.5 2907 L1599 2907 L1600.5 2907 L1602 2907 L1603.5 2907 L1605 2907 L1606.5 2907 L1608 2907 L1609.5 2907 L1611 2907 L1612.5 2907 L1614 2907 L1615.5 2907 L1617 2907 L1618.5 2907 L1620 2907 L1621.5 2907 L1623 2907 L1624.5 2907 L1626 2907 L1627.5 2907 L1629 2907 L1630 2907 L1632 2907 L1633.5 2907 L1635 2907 L1636.5 2907 L1638 2907.1 L1639.5 2907.1 L1641 2907.1 L1642.5 2907.1 L1644 2907.1 L1645.5 2907.2 L1647 2907.2 L1648.5 2907.2 L1650 2907.2 L1651.5 2907.2 L1653 2907.3 L1654.5 2907.3 L1656 2907.3 L1657.5 2907.3 L1659 2907.3 L1660 2907.3 L1662 2907.3 L1663.5 2907.2 L1665 2907.1 L1666.5 2907 L1668 2906.8 L1669.5 2906.7 L1671 2906.5 L1672.5 2906.2 L1674 2906 L1675.5 2905.7 L1677 2905.4 L1678.5 2905.1 L1680 2904.8 L1681.5 2904.5 L1683 2904.1 L1684.5 2903.7 L1686 2903.3 L1687.5 2903 L1689.6 2902.4 L1690.5 2902.1 L1692 2901.6 L1693.5 2901 L1695 2900.4 L1696.5 2899.6 L1698 2898.8 L1699.5 2897.9 L1701 2896.9 L1702.5 2895.9 L1704 2894.8 L1705.5 2893.7 L1707 2892.5 L1708.5 2891.3 L1709.3 2890.6 L1710 2890 L1711.5 2888.6 L1713 2887 L1714.5 2885.3 L1716 2883.3 L1717.5 2881.1 L1719 2878.7 L1721.1 2874.8 L1722 2872.9 L1723.5 2868.9 L1725 2864 L1726.5 2858.2 L1728 2851.2 L1729.5 2839.6 L1731 2822.7 L1732.5 2805 L1734 2791 L1734.9 2786.1 L1737 2780.2 L1738.8 2777.3 L1740 2776.3 L1741.5 2775.5 L1743 2775 L1744.5 2774.5 L1746 2773.7 L1747.7 2772.3 L1749 2768.1 L1750.5 2759.2 L1752.6 2748.7 L1753.5 2746.3 L1755 2742.7 L1756.5 2740.3 L1757.5 2739.8 L1759.5 2745 L1761 2752.3 L1762.5 2758.5 L1764 2763.3 L1765.5 2768.1 L1767 2772.2 L1768.5 2774.8 L1769.4 2775.3 L1771.5 2774 L1773 2771.7 L1774.5 2768.7 L1776.3 2764.5 L1777.5 2759.8 L1779 2751.1 L1780.5 2743.1 L1781.2 2740.8 L1782 2738.9 L1783.5 2735.6 L1785 2733.5 L1786.1 2732.9 L1788 2735.4 L1789.5 2739.7 L1791 2744.9 L1792.5 2749.6 L1794 2752.6 L1795.5 2754 L1797 2754.9 L1798.5 2755.6 L1800 2756.5 L1801.9 2758.5 L1803 2761.6 L1804.5 2769.7 L1806 2780 L1807.8 2792 L1809 2799.7 L1810.5 2810.3 L1812 2820 L1813.7 2827.5 L1815 2831.1 L1816.5 2834.7 L1818 2837.2 L1819.6 2838.3 L1821 2835.8 L1822.5 2829.6 L1824.5 2821.6 L1825.5 2818.6 L1827 2814 L1828.5 2810 L1830.4 2807.8 L1831.5 2808.1 L1833 2809 L1834.5 2810.3 L1836 2811.3 L1837.3 2811.7 L1839 2807.5 L1840.5 2798.4 L1842 2786.5 L1843.5 2773.9 L1844.2 2768.4 L1845 2761.9 L1846.5 2747.7 L1848 2732.6 L1850.1 2713.2 L1851 2705.7 L1852.5 2692.9 L1854 2682.4 L1855.1 2677.8 L1857 2673.4 L1858.5 2671.3 L1859.4 2670.9 L1861.5 2675.3 L1863 2682.4 L1864.9 2693.5 L1866 2702.6 L1867.5 2720.2 L1869 2739 L1869.9 2748.7 L1872 2771.6 L1873.5 2785.3 L1874.8 2790.1 L1876.5 2787.5 L1878 2782.9 L1879.5 2778.7 L1880.7 2777.3 L1882.5 2779.2 L1884 2783 L1885.5 2788 L1886.6 2792 L1888.5 2803 L1890 2814.8 L1891.5 2825.9 L1892.5 2831.5 L1894.5 2840.1 L1896 2846 L1897.5 2851.3 L1899 2855.9 L1900.5 2859.7 L1902.4 2863 L1903.5 2864.4 L1905 2866.2 L1906.5 2867.8 L1908 2869.1 L1909.5 2870.1 L1911 2870.7 L1912.2 2870.9 L1914 2869.9 L1915.5 2867.8 L1917 2865.2 L1918.5 2862.6 L1920 2860.4 L1922.1 2859 L1923 2859.4 L1924.5 2861.7 L1926 2865.2 L1927.5 2869.3 L1929 2873 L1930.5 2875.8 L1931.9 2876.8 L1933.5 2876.5 L1935 2875.9 L1936.5 2874.9 L1938 2873.6 L1939.5 2872.1 L1941 2870.4 L1942.5 2868.5 L1943.7 2867 L1945.5 2863.3 L1947 2858.5 L1948.5 2852.8 L1950 2846.9 L1951.5 2841.4 L1953 2836.9 L1954.5 2834.1 L1955.6 2833.4 L1957.5 2838.8 L1959 2847.2 L1960.5 2855.1 L1962 2861.7 L1963.5 2868.5 L1965 2874.9 L1966.5 2880.2 L1967.4 2882.7 L1969.5 2887.4 L1971 2890.3 L1972.5 2893 L1974 2895.2 L1975.5 2897 L1977.2 2898.4 L1978.5 2899.2 L1980 2900.1 L1981.5 2900.9 L1983 2901.7 L1984.5 2902.4 L1986 2903 L1987.5 2903.6 L1989 2904 L1990.5 2904.4 L1992 2904.7 L1993.5 2904.9 L1995 2905 L1996.5 2905 L1998 2905.1 L1999.5 2905.1 L2001 2905.2 L2002.5 2905.2 L2004 2905.2 L2005.5 2905.3 L2007 2905.3 L2008.5 2905.3 L2010 2905.4 L2011.5 2905.4 L2013 2905.4 L2014.5 2905.5 L2016 2905.5 L2017.5 2905.5 L2019 2905.6 L2020.5 2905.6 L2022 2905.6 L2023.5 2905.7 L2025 2905.7 L2026.5 2905.7 L2028 2905.8 L2029.5 2905.8 L2031 2905.8 L2032.5 2905.8 L2034 2905.9 L2035.5 2905.9 L2037 2905.9 L2038.5 2905.9 L2040 2906 L2041.5 2906 L2043 2906 L2044.5 2906 L2046 2906.1 L2047.5 2906.1 L2049 2906.1 L2050.5 2906.1 L2052 2906.2 L2053.5 2906.2 L2055 2906.2 L2056.5 2906.2 L2058 2906.3 L2059.5 2906.3 L2061 2906.3 L2062.5 2906.3 L2064 2906.3 L2065.5 2906.4 L2067 2906.4 L2068.5 2906.4 L2070 2906.4 L2071.5 2906.4 L2073 2906.4 L2074.5 2906.5 L2076 2906.5 L2077.5 2906.5 L2079 2906.5 L2080.5 2906.5 L2082 2906.5 L2083.5 2906.6 L2085 2906.6 L2086.5 2906.6 L2088 2906.6 L2089.5 2906.6 L2091 2906.6 L2092.5 2906.6 L2094 2906.7 L2095.5 2906.7 L2097 2906.7 L2098.5 2906.7 L2100 2906.7 L2101.5 2906.7 L2103 2906.7 L2104.5 2906.7 L2106 2906.7 L2107.5 2906.8 L2109 2906.8 L2110.5 2906.8 L2112 2906.8 L2113.5 2906.8 L2115 2906.8 L2116.5 2906.8 L2118 2906.8 L2119.5 2906.8 L2121 2906.8 L2122.5 2906.8 L2124 2906.9 L2125.5 2906.9 L2127 2906.9 L2128.5 2906.9 L2130 2906.9 L2131.5 2906.9 L2133 2906.9 L2134.5 2906.9 L2136 2906.9 L2137.5 2906.9 L2139 2906.9 L2140.5 2906.9 L2142 2906.9 L2143.5 2906.9 L2145 2906.9 L2146.5 2906.9 L2148 2906.9 L2149.5 2906.9 L2151 2907 L2152.5 2907 L2154 2907 L2155.5 2907 L2157 2907 L2158.5 2907 L2160 2907 L2161.5 2907 L2163 2907 L2164.5 2907 L2166 2907 L2167.5 2907 L2169 2907 L2170.5 2907 L2172 2907 L2173.5 2907 L2175 2907 L2176.5 2907 L2178 2907 L2179.5 2907 L2181 2907 L2182.5 2907 L2184 2907 L2185.5 2907 L2187 2907 L2188.5 2907 L2190 2907 L2191.5 2907 L2193 2907 L2195 2907" class="r"/>
<path d="M140 2905.9 L141.8 2905.9 L143.6 2905.9 L144.5 2905.9 L145.4 2905.8 L147.2 2905.8 L149 2905.8 L150.8 2905.8 L152.6 2905.8 L153.5 2905.8 L154.4 2905.8 L156.2 2905.8 L158 2905.8 L159.8 2905.8 L161.6 2905.8 L162.5 2905.8 L163.4 2905.7 L165.2 2905.7 L167 2905.7 L168.8 2905.7 L170.6 2905.6 L171.5 2905.6 L172.4 2905.6 L174.2 2905.6 L176 2905.5 L177.8 2905.4 L179.6 2905.3 L180.5 2905.3 L181.4 2905.2 L183.2 2905 L185 2904.8 L186.8 2904.4 L188.6 2903.9 L189.5 2903.5 L190.4 2903.1 L192.2 2902.2 L193.8 2901.8 L194 2901.8 L195.8 2902.3 L197.6 2903.1 L198.5 2903.5 L199.4 2903.8 L201.2 2904.3 L203 2904.6 L204.8 2904.7 L206.6 2904.8 L207.5 2904.9 L208.4 2904.9 L210.2 2904.9 L212 2904.8 L213.8 2904.7 L215.6 2904.6 L216.5 2904.6 L217.4 2904.5 L219.2 2904.3 L221 2904 L222.8 2903.7 L224.6 2903.2 L225.5 2902.9 L226.4 2902.5 L228.2 2901.6 L230 2900.3 L231.8 2898.3 L233.6 2895.3 L234.5 2893.3 L235.4 2890.8 L237.2 2884.7 L239 2879.2 L240 2878.1 L240.8 2878.8 L242.6 2884 L243.5 2887.2 L244.4 2890.2 L246.2 2894.9 L248 2898.1 L249.8 2900.2 L251.6 2901.5 L252.5 2902.1 L253.4 2902.5 L255.2 2903.2 L257 2903.7 L258.8 2904.1 L260 2904.3 L260.6 2904.4 L261.5 2904.5 L262.4 2904.6 L263 2904.6 L264.2 2904.8 L266 2904.9 L267.8 2905 L269 2905.1 L269.6 2905.1 L270.5 2905.2 L271.4 2905.2 L272 2905.2 L273.2 2905.3 L275 2905.3 L276.8 2905.4 L278 2905.4 L278.6 2905.4 L279.5 2905.4 L280.4 2905.5 L281 2905.5 L282.2 2905.5 L284 2905.5 L285.8 2905.5 L287 2905.6 L287.6 2905.6 L288.5 2905.6 L289.4 2905.6 L290 2905.6 L291.2 2905.6 L293 2905.6 L294.8 2905.6 L296 2905.6 L296.6 2905.6 L297.5 2905.6 L298.4 2905.6 L299 2905.6 L300.2 2905.6 L302 2905.6 L303.8 2905.6 L305 2905.6 L305.6 2905.6 L306.5 2905.6 L307.4 2905.6 L308 2905.6 L309.2 2905.6 L311 2905.6 L312.8 2905.6 L314 2905.6 L314.6 2905.5 L315.5 2905.5 L316.4 2905.5 L317 2905.5 L318.2 2905.5 L320 2905.4 L321.8 2905.4 L323 2905.3 L323.6 2905.3 L324.5 2905.2 L325.4 2905.2 L326 2905.1 L327.2 2905 L329 2904.8 L330.8 2904.5 L332 2904.2 L332.6 2904.1 L333.5 2903.8 L334.4 2903.5 L335 2903.3 L336.2 2902.7 L338 2901.7 L339.8 2900.8 L341.2 2900.5 L341.6 2900.5 L342.5 2900.8 L343.4 2901.1 L344 2901.4 L345.2 2902.1 L347 2903.1 L348.8 2903.8 L350 2904.2 L350.6 2904.3 L351.5 2904.5 L352.4 2904.7 L353 2904.8 L354.2 2904.9 L356 2905.1 L357.8 2905.2 L359 2905.3 L359.6 2905.3 L360.5 2905.4 L361.4 2905.4 L362 2905.4 L363.2 2905.5 L365 2905.5 L366.8 2905.6 L368 2905.6 L368.6 2905.6 L369.5 2905.6 L370.4 2905.6 L371 2905.6 L372.2 2905.6 L374 2905.7 L375.8 2905.7 L377 2905.7 L377.6 2905.7 L378.5 2905.7 L379.4 2905.7 L380 2905.7 L381.2 2905.7 L383 2905.7 L384.8 2905.7 L386 2905.7 L386.6 2905.7 L387.5 2905.7 L388.4 2905.7 L389 2905.7 L390.2 2905.7 L392 2905.7 L393.8 2905.7 L395 2905.7 L395.6 2905.7 L396.5 2905.7 L397.4 2905.7 L398 2905.7 L399.2 2905.7 L401 2905.6 L402.8 2905.6 L404 2905.6 L404.6 2905.6 L405.5 2905.6 L406.4 2905.6 L407 2905.6 L408.2 2905.5 L410 2905.5 L411.8 2905.5 L413 2905.4 L413.6 2905.4 L414.5 2905.4 L415.4 2905.3 L416 2905.3 L417.2 2905.2 L419 2905.1 L420.8 2905 L422 2904.9 L422.6 2904.8 L423.5 2904.7 L424.4 2904.5 L425 2904.4 L426.2 2904.2 L428 2903.7 L429.8 2903 L431 2902.4 L431.6 2902.1 L432.5 2901.5 L433.4 2900.8 L434 2900.3 L435.2 2899.2 L437 2897.8 L438.2 2897.5 L438.8 2897.6 L440 2898.2 L440.6 2898.7 L441.5 2899.4 L442.4 2900.3 L443 2900.8 L444.2 2901.7 L446 2902.8 L447.8 2903.5 L449 2903.9 L449.6 2904.1 L450.5 2904.3 L451.4 2904.4 L452 2904.5 L453.2 2904.7 L455 2904.9 L456.8 2905.1 L458 2905.2 L458.6 2905.2 L459.5 2905.3 L460.4 2905.3 L461 2905.3 L462.2 2905.4 L464 2905.4 L465.8 2905.5 L467 2905.5 L467.6 2905.5 L468.5 2905.5 L469.4 2905.5 L470 2905.6 L471.2 2905.6 L473 2905.6 L474.8 2905.6 L476 2905.6 L476.6 2905.6 L477.5 2905.6 L478.4 2905.6 L479 2905.6 L480.2 2905.6 L482 2905.6 L483.8 2905.6 L485 2905.6 L485.6 2905.6 L486.5 2905.6 L487.4 2905.6 L488 2905.6 L489.2 2905.5 L491 2905.5 L492.8 2905.4 L494 2905.4 L494.6 2905.3 L495.5 2905.3 L496.4 2905.2 L497 2905.1 L498.2 2905 L500 2904.7 L501.8 2904.4 L503 2904.2 L503.6 2904.1 L505 2904 L505.4 2904 L506 2904.1 L507.2 2904.2 L509 2904.6 L510.8 2904.9 L512 2905.1 L512.6 2905.1 L513.5 2905.2 L514.4 2905.3 L515 2905.3 L516.2 2905.4 L518 2905.5 L519.8 2905.6 L521 2905.6 L521.6 2905.6 L522.5 2905.6 L523.4 2905.7 L524 2905.7 L525.2 2905.7 L527 2905.7 L528.8 2905.7 L530 2905.7 L530.6 2905.7 L531.5 2905.7 L532.4 2905.7 L533 2905.7 L534.2 2905.7 L536 2905.8 L537.8 2905.8 L539 2905.8 L539.6 2905.8 L540.5 2905.8 L541.4 2905.8 L542 2905.8 L543.2 2905.8 L545 2905.8 L546.8 2905.8 L548 2905.8 L548.6 2905.8 L549.5 2905.8 L550.4 2905.8 L551 2905.8 L552.2 2905.8 L554 2905.8 L555.8 2905.8 L557 2905.7 L557.6 2905.7 L558.5 2905.7 L559.4 2905.7 L560 2905.7 L561.2 2905.7 L563 2905.7 L564.8 2905.7 L566 2905.7 L566.6 2905.7 L567.5 2905.7 L568.4 2905.7 L569 2905.7 L570.2 2905.7 L572 2905.7 L573.8 2905.7 L575 2905.6 L575.6 2905.6 L576.5 2905.6 L577.4 2905.6 L578 2905.6 L579.2 2905.6 L581 2905.6 L582.8 2905.5 L584 2905.5 L584.6 2905.5 L585.5 2905.5 L586.4 2905.5 L587 2905.4 L588.2 2905.4 L590 2905.3 L591.8 2905.3 L593 2905.2 L593.6 2905.2 L594.5 2905.1 L595.4 2905.1 L596 2905 L597.2 2904.9 L599 2904.7 L600.8 2904.5 L602 2904.3 L602.6 2904.1 L603.5 2903.9 L604.4 2903.7 L605 2903.5 L606.2 2903.1 L608 2902.2 L609.8 2900.9 L611 2899.8 L611.6 2899.2 L612.5 2898.2 L613.4 2897.2 L614 2896.6 L615.2 2895.6 L616.2 2895.3 L617 2895.5 L618.8 2897 L620 2898.3 L620.6 2899 L621.5 2899.9 L622.4 2900.7 L623 2901.2 L624.2 2902 L626 2903 L627.8 2903.6 L629 2903.9 L629.6 2904.1 L630.5 2904.3 L631.4 2904.4 L632 2904.5 L633.2 2904.7 L635 2904.8 L636.8 2905 L638 2905.1 L638.6 2905.1 L639.5 2905.2 L640.4 2905.2 L641 2905.2 L642.2 2905.3 L644 2905.3 L645.8 2905.4 L647 2905.4 L647.6 2905.4 L648.5 2905.4 L649.4 2905.4 L650 2905.5 L651.2 2905.5 L653 2905.5 L654.8 2905.5 L656 2905.5 L656.6 2905.5 L657.5 2905.5 L658.4 2905.5 L659 2905.5 L660.2 2905.5 L662 2905.5 L663.8 2905.5 L665 2905.5 L665.6 2905.5 L666.5 2905.4 L667.4 2905.4 L668 2905.4 L669.2 2905.4 L671 2905.3 L672.8 2905.2 L674 2905 L674.6 2905 L675.5 2904.9 L676.4 2904.7 L677 2904.6 L678.2 2904.4 L680 2904.1 L681.7 2904 L681.8 2904 L683 2904.1 L683.6 2904.2 L684.5 2904.3 L685.4 2904.5 L686 2904.6 L687.2 2904.8 L689 2905 L690.8 2905.2 L692 2905.2 L692.6 2905.3 L693.5 2905.3 L694.4 2905.4 L695 2905.4 L696.2 2905.4 L698 2905.5 L699.8 2905.5 L701 2905.5 L701.6 2905.5 L702.5 2905.5 L703.4 2905.5 L704 2905.5 L705.2 2905.5 L707 2905.5 L708.8 2905.5 L710 2905.5 L710.6 2905.5 L711.5 2905.5 L712.4 2905.5 L713 2905.5 L714.2 2905.5 L716 2905.5 L717.8 2905.4 L719 2905.4 L719.6 2905.4 L720.5 2905.4 L721.4 2905.4 L722 2905.4 L723.2 2905.3 L725 2905.3 L726.8 2905.2 L728 2905.2 L728.6 2905.1 L729.5 2905.1 L730.4 2905.1 L731 2905 L732.2 2904.9 L734 2904.8 L735.8 2904.6 L737 2904.4 L737.6 2904.3 L738.5 2904.2 L739.4 2904 L740 2903.8 L741.2 2903.5 L743 2902.8 L744.8 2901.8 L746 2900.9 L746.6 2900.4 L747.5 2899.7 L748.4 2899 L749 2898.6 L750.2 2898.1 L750.7 2898 L752 2898.3 L753.8 2899.5 L755 2900.5 L755.6 2900.9 L756.5 2901.5 L757.4 2902 L758 2902.3 L759.2 2902.8 L761 2903.4 L762.8 2903.8 L764 2903.9 L764.6 2904 L765.5 2904.1 L766.4 2904.1 L767 2904.1 L768.2 2904.2 L770 2904.2 L771.8 2904.1 L773 2904 L773.6 2904 L774.5 2903.9 L775.4 2903.8 L776 2903.7 L777.2 2903.4 L779 2902.9 L780.8 2902.2 L782 2901.5 L782.6 2901.1 L783.5 2900.3 L784.4 2899.4 L785 2898.6 L786.2 2897 L788 2894.3 L789.5 2893.2 L789.8 2893.2 L791 2893.8 L791.6 2894.3 L792.5 2895.3 L793.4 2896.2 L794 2896.6 L795.2 2897.2 L797 2897.1 L798.8 2895.8 L800 2894.4 L800.6 2893.9 L801.5 2893.3 L802.4 2893 L803 2893.3 L804.2 2894.6 L806 2897.3 L807.8 2899.7 L809 2900.9 L809.6 2901.3 L810.5 2901.9 L811.4 2902.4 L812 2902.7 L813.2 2903.2 L815 2903.7 L816.8 2904.1 L818 2904.7 L820 2905.6 L821 2905.6 L822.5 2905.5 L824 2905.4 L825.5 2905.2 L827 2905 L828.5 2904.8 L830 2904.6 L831.5 2904.3 L833 2904.1 L834.5 2903.8 L836 2903.6 L837.5 2903.4 L839 2903.2 L840.5 2903.1 L842 2903 L844 2902.9 L845 2902.9 L846.5 2902.9 L848 2903 L849.5 2903.1 L851 2903.2 L852.5 2903.3 L854 2903.4 L855.5 2903.5 L857 2903.7 L858.5 2903.8 L860 2904 L861.5 2904.1 L863 2904.3 L864.5 2904.5 L866 2904.6 L867.5 2904.8 L869 2904.9 L870.5 2905.1 L872 2905.2 L873.5 2905.3 L875 2905.4 L876.5 2905.5 L878 2905.5 L879.5 2905.6 L881 2905.6 L882.5 2905.5 L884 2905.3 L885.5 2904.9 L887 2904.4 L888.5 2903.8 L890 2903.1 L891.5 2902.4 L893 2901.7 L894.5 2901 L896 2900.3 L897.5 2899.7 L899 2899.1 L900.5 2898.7 L902 2898.4 L903.5 2898.2 L904.1 2898.2 L905 2898.3 L906.5 2898.7 L908 2899.4 L909.5 2900.2 L911 2901.1 L912.5 2901.9 L914 2902.5 L915.5 2902.9 L916.1 2902.9 L917 2902.7 L918.5 2901.8 L920 2900.2 L921.5 2898.4 L923 2896.5 L924.5 2894.9 L926 2893.9 L927.1 2893.6 L929 2894 L930.5 2894.6 L932 2895.5 L933.5 2896.4 L935 2897.3 L936.5 2897.9 L938.2 2898.2 L939.5 2898 L941 2897.3 L942.5 2896.2 L944 2894.9 L945.5 2893.4 L947 2892 L948.5 2890.6 L949.3 2889.9 L950 2889.4 L951.5 2888.4 L953 2887.5 L954.5 2886.6 L956 2885.6 L957.5 2884.3 L959 2882.7 L960.4 2880.7 L962 2872.9 L963.5 2860 L965 2847.1 L966.9 2839.1 L968 2840.4 L969.5 2845.2 L971 2851.3 L972.5 2856.3 L973.3 2857.6 L974 2858.2 L975.5 2859.3 L977 2860.3 L978.5 2860.9 L980 2861.3 L980.7 2861.3 L981.5 2860.7 L983 2857 L984.5 2851.7 L986 2846.4 L987.5 2843.1 L988.1 2842.8 L989 2843 L990.5 2844.4 L992 2846.8 L993.5 2849.9 L995 2853.4 L996.5 2857.2 L997.4 2859.4 L998 2861.1 L999.5 2866.9 L1001 2873.8 L1002.5 2880.5 L1004 2885.6 L1004.7 2887.1 L1005.5 2888.3 L1007 2890.5 L1008.5 2892.4 L1010 2893.7 L1011.5 2894.4 L1012.1 2894.5 L1013 2894.2 L1014.5 2892.7 L1016 2890.1 L1017.5 2886.9 L1019 2883.4 L1020.5 2880 L1022 2877.1 L1023.5 2875 L1025.1 2874.2 L1026.5 2875.7 L1028 2879.2 L1029.5 2882.5 L1030.6 2883.5 L1032.5 2882.5 L1034 2880.6 L1035.5 2878.4 L1037 2876.3 L1038.5 2874.7 L1039.8 2874.2 L1041.5 2875.1 L1043 2877.2 L1044.5 2880.1 L1046 2883.4 L1047.5 2886.8 L1049 2890 L1050.5 2892.6 L1052 2894.2 L1052.8 2894.5 L1053.5 2894.6 L1055 2894.8 L1056.5 2895 L1058 2895.2 L1059.5 2895.3 L1061 2895.4 L1062.5 2895.5 L1063.9 2895.5 L1065.5 2893.8 L1067 2889.9 L1068.5 2884.8 L1070 2879.8 L1071.5 2875.9 L1073.1 2874.2 L1074.5 2875.4 L1076 2878.6 L1077.5 2882.5 L1079 2885.7 L1080.5 2887.1 L1082 2886.1 L1083.5 2883.4 L1085 2880 L1086.5 2876.5 L1088 2873.7 L1089.7 2872.4 L1091 2873.2 L1092.5 2875.6 L1094 2879.2 L1095.5 2883.2 L1097 2887.2 L1098.5 2890.4 L1100 2892.4 L1100.8 2892.7 L1101.5 2892.5 L1103 2891.3 L1104.5 2889.2 L1106 2886.7 L1107 2885 L1109 2879.9 L1110.5 2874.5 L1112 2868.7 L1113.5 2863.5 L1115 2859.5 L1116.7 2857.7 L1118 2858.5 L1119.5 2860.9 L1121 2864.4 L1122.5 2868.5 L1124 2872.6 L1125.5 2876.1 L1127 2878.5 L1128.3 2879.3 L1130 2879.1 L1131.5 2878.7 L1133 2878.1 L1134.5 2877.2 L1136 2876.1 L1137.5 2874.8 L1139 2873.3 L1140.5 2871.7 L1142 2869.9 L1143.5 2867.9 L1144.9 2866 L1146.5 2861.7 L1148 2854.8 L1149.5 2846.5 L1151 2838.3 L1152.5 2831.3 L1154 2826.9 L1154.9 2826.1 L1157 2830.2 L1158.5 2835.9 L1159.9 2841 L1161.5 2846.7 L1163 2852.9 L1164.5 2859.5 L1166 2865.9 L1167.5 2871.6 L1169 2876 L1170.5 2878.7 L1171.5 2879.3 L1173.5 2877.7 L1175 2874.8 L1176.5 2871.2 L1178 2867.3 L1179.5 2863.9 L1181.5 2861 L1182.5 2860.2 L1184 2859.1 L1185.5 2858 L1187 2857 L1188.5 2856.2 L1190 2855.5 L1191.5 2854.9 L1193 2854.6 L1194.8 2854.4 L1196 2854.7 L1197.5 2855.8 L1199 2857.4 L1200.5 2859.2 L1202 2861.1 L1203.5 2862.8 L1205 2863.9 L1206.4 2864.3 L1208 2863.8 L1209.5 2862.8 L1211 2861.8 L1213.1 2861 L1214 2861.2 L1215.5 2862.3 L1217 2864.1 L1218.5 2866.2 L1220 2868.4 L1221.5 2870.4 L1223 2871.9 L1224.7 2872.6 L1226 2872.6 L1227.5 2872.6 L1229 2872.5 L1230.5 2872.4 L1232 2872.3 L1233.5 2872.1 L1235 2871.9 L1236.5 2871.7 L1238 2871.4 L1239.7 2871 L1241 2868.8 L1242.5 2862.4 L1244 2853.1 L1245.5 2842.1 L1246.3 2836.1 L1247 2829.7 L1248.5 2810.8 L1250.5 2786.2 L1251.5 2776.2 L1253 2761.2 L1254.5 2750.4 L1255.5 2747.9 L1257.5 2765.9 L1259.6 2794.5 L1260.5 2802.9 L1262 2817.3 L1263.5 2829.4 L1265.4 2836.1 L1266.5 2834.3 L1268 2827.7 L1269.5 2819.5 L1271 2812.9 L1272.1 2811.1 L1274 2816.7 L1275.5 2825.2 L1276.3 2829.4 L1277 2833.2 L1278.5 2843.1 L1280 2851.7 L1281.2 2854.4 L1283 2851.9 L1284.5 2847 L1286 2840.7 L1287.9 2832.7 L1289 2827.4 L1290.5 2818.2 L1292 2809.1 L1293.5 2802.7 L1294.5 2801.2 L1296.5 2810.7 L1298 2824.3 L1299.5 2836.1 L1301 2845.8 L1302.5 2855 L1304.5 2861 L1305.5 2860.7 L1307 2859.4 L1308.5 2857.8 L1310 2856.4 L1311.2 2856 L1313 2857.7 L1314.5 2861 L1316 2865 L1317.5 2868.9 L1319 2871.7 L1320.3 2872.6 L1322 2871.3 L1323.5 2868.2 L1325 2863.6 L1326.5 2858.1 L1327.8 2852.7 L1329.5 2837.7 L1331 2816.4 L1332.5 2794 L1334 2776.9 L1335.3 2771.2 L1337 2778.3 L1338.5 2792.4 L1340.3 2811.1 L1341.5 2824.7 L1343 2845.4 L1344.5 2864.8 L1346.1 2877.6 L1347.5 2882.9 L1349 2887.8 L1350.5 2891.8 L1352 2895.1 L1353.5 2897.7 L1355 2899.7 L1356.1 2900.9 L1358 2902.6 L1359.5 2903.9 L1361 2905 L1362.5 2906 L1364 2906.7 L1365.5 2907.3 L1367 2907.6 L1367.7 2907.6 L1368.5 2907.6 L1370 2907.6 L1371.5 2907.6 L1373 2907.6 L1374.5 2907.6 L1376 2907.6 L1377.5 2907.6 L1379 2907.6 L1380.5 2907.6 L1382 2907.6 L1383.5 2907.6 L1385 2907.5 L1386.5 2907.5 L1388 2907.5 L1389.5 2907.5 L1391 2907.5 L1392.5 2907.5 L1394 2907.5 L1395.5 2907.5 L1397 2907.5 L1398.5 2907.5 L1400 2907.5 L1401.5 2907.5 L1403 2907.5 L1404.5 2907.5 L1406 2907.5 L1407.5 2907.5 L1409 2907.5 L1410.5 2907.5 L1412 2907.5 L1413.5 2907.5 L1415 2907.5 L1416.5 2907.5 L1418 2907.5 L1419.5 2907.5 L1421 2907.5 L1422.5 2907.5 L1424 2907.5 L1425.5 2907.5 L1427 2907.5 L1428.5 2907.5 L1430 2907.5 L1431.5 2907.5 L1433 2907.5 L1434.5 2907.5 L1436 2907.5 L1437.5 2907.5 L1439 2907.5 L1440.5 2907.5 L1442 2907.5 L1443.5 2907.5 L1445 2907.5 L1446.5 2907.5 L1448 2907.5 L1449.5 2907.5 L1451 2907.5 L1452.5 2907.5 L1454 2907.5 L1455.5 2907.5 L1457 2907.5 L1458.5 2907.5 L1460 2907.5 L1461.5 2907.5 L1463 2907.5 L1464.5 2907.5 L1466 2907.5 L1467.5 2907.5 L1469 2907.5 L1470.5 2907.5 L1472 2907.5 L1473.5 2907.5 L1475 2907.5 L1476.5 2907.5 L1478 2907.5 L1479.5 2907.5 L1481 2907.5 L1482.5 2907.5 L1484 2907.5 L1485.5 2907.5 L1487 2907.5 L1488.5 2907.5 L1490 2907.5 L1491.5 2907.5 L1493 2907.5 L1494.5 2907.5 L1496 2907.5 L1497.5 2907.5 L1499 2907.5 L1500.5 2907.5 L1502 2907.5 L1503.5 2907.5 L1505 2907.5 L1506.5 2907.5 L1508 2907.5 L1509.5 2907.5 L1511 2907.5 L1512.5 2907.5 L1514 2907.5 L1515.5 2907.5 L1517 2907.5 L1518.5 2907.5 L1520 2907.5 L1521.5 2907.5 L1523 2907.5 L1524.5 2907.5 L1526 2907.5 L1527.5 2907.5 L1529 2907.5 L1530.5 2907.5 L1532 2907.5 L1533.5 2907.5 L1535 2907.5 L1536.5 2907.5 L1538 2907.5 L1539.5 2907.5 L1541 2907.5 L1542.5 2907.5 L1544 2907.5 L1545.5 2907.5 L1547 2907.5 L1548.5 2907.5 L1550 2907.5 L1551.5 2907.5 L1553 2907.5 L1554.5 2907.5 L1556 2907.5 L1557.5 2907.5 L1559 2907.5 L1560 2907.5" class="b"/>
<path d="M1596 2907 L1597.5 2907 L1599 2907 L1600.5 2907 L1602 2907 L1603.5 2907 L1605 2907 L1606.5 2907 L1608 2907 L1609.5 2907 L1611 2907 L1612.5 2907 L1614 2907 L1615.5 2907 L1617 2907 L1618.5 2907 L1620 2907 L1621.5 2907 L1623 2907 L1624.5 2907 L1626 2907 L1627.5 2907 L1629 2907 L1630 2907 L1632 2907 L1633.5 2907 L1635 2907 L1636.5 2907 L1638 2907.1 L1639.5 2907.1 L1641 2907.1 L1642.5 2907.1 L1644 2907.1 L1645.5 2907.2 L1647 2907.2 L1648.5 2907.2 L1650 2907.2 L1651.5 2907.2 L1653 2907.3 L1654.5 2907.3 L1656 2907.3 L1657.5 2907.3 L1659 2907.3 L1660 2907.3 L1662 2907.3 L1663.5 2907.2 L1665 2907.1 L1666.5 2907 L1668 2906.8 L1669.5 2906.7 L1671 2906.5 L1672.5 2906.2 L1674 2906 L1675.5 2905.7 L1677 2905.4 L1678.5 2905.1 L1680 2904.8 L1681.5 2904.5 L1683 2904.1 L1684.5 2903.7 L1686 2903.3 L1687.5 2903 L1689.6 2902.4 L1690.5 2902.1 L1692 2901.6 L1693.5 2901 L1695 2900.4 L1696.5 2899.6 L1698 2898.8 L1699.5 2897.9 L1701 2896.9 L1702.5 2895.9 L1704 2894.8 L1705.5 2893.7 L1707 2892.5 L1708.5 2891.3 L1709.3 2890.6 L1710 2890 L1711.5 2888.6 L1713 2887 L1714.5 2885.3 L1716 2883.3 L1717.5 2881.1 L1719 2878.7 L1721.1 2874.8 L1722 2872.8 L1723.5 2868.9 L1725 2863.9 L1726.5 2858.1 L1728 2851.2 L1729.5 2840.6 L1731 2826.8 L1732.9 2811.7 L1734 2805.5 L1735.5 2797.9 L1737 2792.1 L1737.8 2790.1 L1738.5 2788.9 L1740 2787.3 L1741.5 2786.2 L1743 2784.9 L1744.7 2782.2 L1746 2775.4 L1747.5 2760.3 L1749 2741.6 L1749.7 2732.9 L1750.5 2722.3 L1752 2699 L1753.6 2673.8 L1755 2650.6 L1756.6 2630.5 L1758 2622.3 L1759.5 2615.9 L1760.9 2613.7 L1762.5 2616.1 L1764 2621.1 L1765.5 2626.2 L1766.4 2628.5 L1768.5 2631.3 L1770.3 2634.4 L1771.5 2640.1 L1773 2652.3 L1774.3 2664 L1776 2680.5 L1777.5 2696.4 L1778.2 2703.4 L1779 2711.8 L1780.5 2726.9 L1781.2 2731 L1782 2733.6 L1783.5 2737.5 L1785 2740.3 L1786.5 2742.6 L1788.1 2744.8 L1789.5 2746.9 L1791 2749.2 L1792.5 2751.3 L1794 2753 L1795.5 2754.2 L1796.9 2754.6 L1798.5 2751.8 L1800 2745.2 L1801.5 2736.5 L1803 2727.5 L1803.8 2723.1 L1804.5 2718.8 L1806 2707.5 L1807.5 2698.8 L1808.2 2697.5 L1809 2699.4 L1810.5 2710.8 L1812 2726.2 L1812.7 2732.9 L1813.5 2740.3 L1815 2755.3 L1816.7 2772.3 L1818 2786 L1819.5 2801.1 L1820.6 2807.8 L1822.5 2813.3 L1824 2816.4 L1825.5 2818.8 L1827.5 2821.6 L1828.5 2823.1 L1830 2825.4 L1831.5 2827.5 L1833 2829 L1834.4 2829.5 L1836 2827 L1837.5 2821.2 L1839 2813.9 L1840.3 2807.8 L1842 2797.9 L1843.5 2787.1 L1845 2777.3 L1846.5 2771.2 L1847.2 2770.4 L1848 2771 L1849.5 2774.6 L1851 2780.3 L1852.5 2786.5 L1854.1 2792 L1855.5 2795.6 L1857 2799.1 L1858.5 2802.4 L1860 2805.7 L1861.5 2809 L1863 2812.6 L1864.9 2817.7 L1866 2821.5 L1867.5 2828.2 L1869 2835.8 L1870.5 2843.2 L1872 2849.5 L1873.5 2853.8 L1874.8 2855.1 L1876.5 2853.9 L1878 2851.1 L1879.5 2847.4 L1881 2843.3 L1882.5 2839.5 L1884.6 2835.4 L1885.5 2834.2 L1887 2832.1 L1888.5 2830.1 L1890 2828.3 L1891.5 2826.8 L1893 2825.9 L1894.5 2825.5 L1896 2827.4 L1897.5 2832.2 L1899 2838.5 L1900.5 2844.9 L1902.4 2851.2 L1903.5 2853.8 L1905 2857.5 L1906.5 2861 L1908 2863.9 L1909.5 2866 L1911.2 2866.9 L1912.5 2865.9 L1914 2862.7 L1915.5 2858.2 L1917 2853.3 L1918.5 2848.9 L1920 2845.9 L1921.1 2845.2 L1923 2846.6 L1924.5 2849.1 L1926 2852 L1927.5 2854.8 L1929 2856.7 L1930 2857.1 L1932 2855.3 L1933.5 2852.1 L1935 2847.9 L1936.5 2843.4 L1938 2839.2 L1939.5 2835.8 L1941 2833.7 L1941.8 2833.4 L1942.5 2833.4 L1944 2833.7 L1945.5 2834.4 L1947 2835.2 L1948.5 2836.3 L1950 2837.6 L1951.5 2839.1 L1953.6 2841.3 L1954.5 2842.6 L1956 2845.8 L1957.5 2849.9 L1959 2854.4 L1960.5 2859 L1962 2864 L1963.5 2869.7 L1965 2875.4 L1966.5 2880.4 L1967.4 2882.7 L1969.5 2887.2 L1971 2890.2 L1972.5 2892.8 L1974 2895.1 L1975.5 2896.9 L1977.2 2898.4 L1978.5 2899.2 L1980 2900.1 L1981.5 2900.9 L1983 2901.7 L1984.5 2902.4 L1986 2903 L1987.5 2903.6 L1989 2904 L1990.5 2904.4 L1992 2904.7 L1993.5 2904.9 L1995 2905 L1996.5 2905 L1998 2905.1 L1999.5 2905.1 L2001 2905.2 L2002.5 2905.2 L2004 2905.2 L2005.5 2905.3 L2007 2905.3 L2008.5 2905.3 L2010 2905.4 L2011.5 2905.4 L2013 2905.4 L2014.5 2905.5 L2016 2905.5 L2017.5 2905.5 L2019 2905.6 L2020.5 2905.6 L2022 2905.6 L2023.5 2905.7 L2025 2905.7 L2026.5 2905.7 L2028 2905.8 L2029.5 2905.8 L2031 2905.8 L2032.5 2905.8 L2034 2905.9 L2035.5 2905.9 L2037 2905.9 L2038.5 2905.9 L2040 2906 L2041.5 2906 L2043 2906 L2044.5 2906 L2046 2906.1 L2047.5 2906.1 L2049 2906.1 L2050.5 2906.1 L2052 2906.2 L2053.5 2906.2 L2055 2906.2 L2056.5 2906.2 L2058 2906.3 L2059.5 2906.3 L2061 2906.3 L2062.5 2906.3 L2064 2906.3 L2065.5 2906.4 L2067 2906.4 L2068.5 2906.4 L2070 2906.4 L2071.5 2906.4 L2073 2906.4 L2074.5 2906.5 L2076 2906.5 L2077.5 2906.5 L2079 2906.5 L2080.5 2906.5 L2082 2906.5 L2083.5 2906.6 L2085 2906.6 L2086.5 2906.6 L2088 2906.6 L2089.5 2906.6 L2091 2906.6 L2092.5 2906.6 L2094 2906.7 L2095.5 2906.7 L2097 2906.7 L2098.5 2906.7 L2100 2906.7 L2101.5 2906.7 L2103 2906.7 L2104.5 2906.7 L2106 2906.7 L2107.5 2906.8 L2109 2906.8 L2110.5 2906.8 L2112 2906.8 L2113.5 2906.8 L2115 2906.8 L2116.5 2906.8 L2118 2906.8 L2119.5 2906.8 L2121 2906.8 L2122.5 2906.8 L2124 2906.9 L2125.5 2906.9 L2127 2906.9 L2128.5 2906.9 L2130 2906.9 L2131.5 2906.9 L2133 2906.9 L2134.5 2906.9 L2136 2906.9 L2137.5 2906.9 L2139 2906.9 L2140.5 2906.9 L2142 2906.9 L2143.5 2906.9 L2145 2906.9 L2146.5 2906.9 L2148 2906.9 L2149.5 2906.9 L2151 2907 L2152.5 2907 L2154 2907 L2155.5 2907 L2157 2907 L2158.5 2907 L2160 2907 L2161.5 2907 L2163 2907 L2164.5 2907 L2166 2907 L2167.5 2907 L2169 2907 L2170.5 2907 L2172 2907 L2173.5 2907 L2175 2907 L2176.5 2907 L2178 2907 L2179.5 2907 L2181 2907 L2182.5 2907 L2184 2907 L2185.5 2907 L2187 2907 L2188.5 2907 L2190 2907 L2191.5 2907 L2193 2907 L2195 2907" class="b"/>
<path d="M136.4 2924.1 V2594.9 H2197.5 V2924.1" class="fr"/>
<path d="M134.4 2924.1 H1563 M1602 2924.1 H2199.5" class="fr" style="stroke-width:6"/>
<path d="M1545 2936.6 L1579.5 2911.4 M1581 2936.6 L1615.5 2911.1" class="brk"/>
<path d="M138.1 2924.1 v8 M247.5 2924.1 v14 M356.9 2924.1 v8 M466.4 2924.1 v14 M575.9 2924.1 v8 M685.3 2924.1 v14 M794.8 2924.1 v8 M904.2 2924.1 v14 M1013.6 2924.1 v8 M1123.1 2924.1 v14 M1232.6 2924.1 v8 M1342 2924.1 v14 M1451.5 2924.1 v8 M1672.2 2924.1 v8 M1822.4 2924.1 v14 M1972.6 2924.1 v8 M2122.8 2924.1 v14" class="tk"/>
<text class="lb" transform="translate(242.7 2868.6) rotate(-90)" textLength="89.8" lengthAdjust="spacingAndGlyphs">66:591</text>
<text class="lr" transform="translate(855.5 2802.7) rotate(-90)" textLength="122.5" lengthAdjust="spacingAndGlyphs">107:1146</text>
<text class="lr" transform="translate(1145 2832.8) rotate(-90)" textLength="122.5" lengthAdjust="spacingAndGlyphs">138:1427</text>
<text class="lb" transform="translate(1169.3 2819.9) rotate(-90)" textLength="122.5" lengthAdjust="spacingAndGlyphs">139:1431</text>
<text class="lr" transform="translate(1240.3 2826.4) rotate(-90)" textLength="122.5" lengthAdjust="spacingAndGlyphs">161:1520</text>
<text class="lr" transform="translate(1287.7 2729.4) rotate(-90)" textLength="122.5" lengthAdjust="spacingAndGlyphs">164:1557</text>
<text class="lb" transform="translate(1377.8 2856.6) rotate(-90)" textLength="122.5" lengthAdjust="spacingAndGlyphs">167:1594</text>
<text class="lb" transform="translate(1743.8 2728.8) rotate(-90)" textLength="122.5" lengthAdjust="spacingAndGlyphs">173:2958</text>
<text class="lr" transform="translate(1903 2736.5) rotate(-90)" textLength="122.5" lengthAdjust="spacingAndGlyphs">189:3022</text>
<text class="big" x="144" y="2720.8" textLength="94.8" lengthAdjust="spacingAndGlyphs">D</text><text class="sub" x="238" y="2720.8" textLength="46" lengthAdjust="spacingAndGlyphs">2</text>
<text class="nm" x="1416" y="2734" textLength="192" lengthAdjust="spacingAndGlyphs">Zn(alx)</text><text class="nm2" x="1605" y="2746.8">2</text>
<text class="nm" x="1436" y="2803.3" textLength="151" lengthAdjust="spacingAndGlyphs">PTEN</text>
<text class="ir" x="1986" y="2746.8" textLength="127" lengthAdjust="spacingAndGlyphs">Int<tspan style="font-size:68%" dy="-6">×</tspan><tspan dy="6">4</tspan></text>
</g>
<text class="ax" x="247.5" y="1511" text-anchor="middle">600</text>
<text class="ax" x="466.4" y="1511" text-anchor="middle">800</text>
<text class="ax" x="685.3" y="1511" text-anchor="middle">1000</text>
<text class="ax" x="904.2" y="1511" text-anchor="middle">1200</text>
<text class="ax" x="1123.1" y="1511" text-anchor="middle">1400</text>
<text class="ax" x="1342" y="1511" text-anchor="middle">1600</text>
<text class="ax" x="1822.4" y="1511" text-anchor="middle">3000</text>
<text class="ax" x="2122.8" y="1511" text-anchor="middle">3200</text>
<text class="ax" x="247.5" y="3008" text-anchor="middle">600</text>
<text class="ax" x="466.4" y="3008" text-anchor="middle">800</text>
<text class="ax" x="685.3" y="3008" text-anchor="middle">1000</text>
<text class="ax" x="904.2" y="3008" text-anchor="middle">1200</text>
<text class="ax" x="1123.1" y="3008" text-anchor="middle">1400</text>
<text class="ax" x="1342" y="3008" text-anchor="middle">1600</text>
<text class="ax" x="1822.4" y="3008" text-anchor="middle">3000</text>
<text class="ax" x="2122.8" y="3008" text-anchor="middle">3200</text>
<text class="ttl" transform="translate(85 735) rotate(-90)" text-anchor="middle">Intensity (a.u.)</text>
<text class="ttl" transform="translate(85 2236) rotate(-90)" text-anchor="middle">Intensity (a.u.)</text>
<text class="ttl" x="866" y="3102" textLength="604" lengthAdjust="spacingAndGlyphs">Wavenumber (cm</text>
<text class="ttl" x="1467" y="3065" style="font-size:45px" textLength="42" lengthAdjust="spacingAndGlyphs">−1</text>
<text class="ttl" x="1515" y="3102">)</text>
</svg></body></html>
